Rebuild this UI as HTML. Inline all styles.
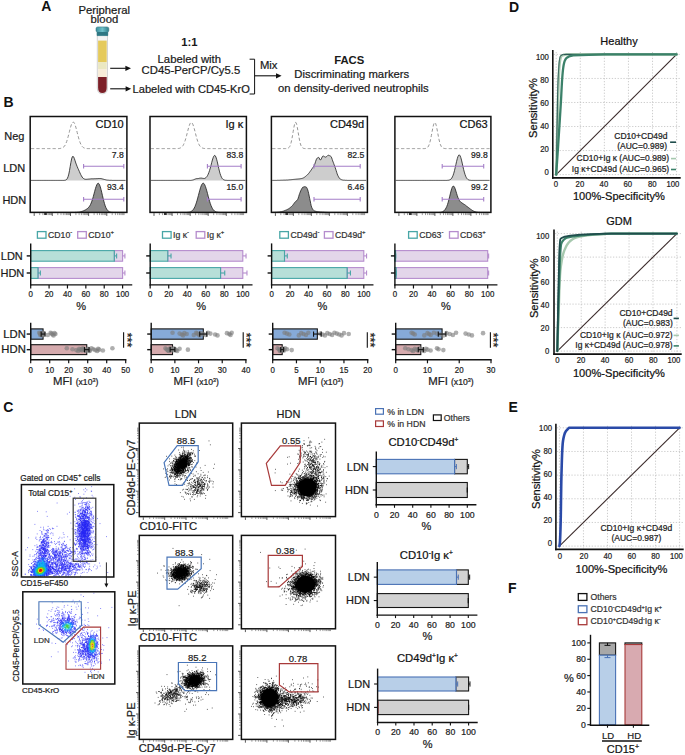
<!DOCTYPE html>
<html><head><meta charset="utf-8"><title>Figure</title>
<style>html,body{margin:0;padding:0;background:#fff;}body{width:685px;height:755px;overflow:hidden;}
svg text{font-family:"Liberation Sans", sans-serif;}</style></head>
<body><svg width="685" height="755" viewBox="0 0 685 755" style="display:block">
<rect width="685" height="755" fill="#fff"/>
<text x="41.20" y="10.87" font-size="14" text-anchor="start" font-weight="bold" fill="#111">A</text>
<text x="104.20" y="13.51" font-size="11.3" text-anchor="middle" font-weight="normal" fill="#1a1a1a" stroke="#1a1a1a" stroke-width="0.22">Peripheral</text>
<text x="104.40" y="23.01" font-size="11.3" text-anchor="middle" font-weight="normal" fill="#1a1a1a" stroke="#1a1a1a" stroke-width="0.22">blood</text>
<defs><linearGradient id="cap" x1="0" x2="1"><stop offset="0" stop-color="#3c8f9c"/><stop offset="0.5" stop-color="#6fc0c9"/><stop offset="1" stop-color="#2f7d89"/></linearGradient></defs>
<path d="M97.3,33 L97.3,88 Q97.3,93.8 102.4,93.8 Q107.5,93.8 107.5,88 L107.5,33 Z" fill="#f4f4f4" stroke="#c4c4c4" stroke-width="0.7"/>
<path d="M98.1,40.6 L106.7,40.6 L106.7,62.3 L98.1,62.3 Z" fill="#e5ca5c" stroke="none" stroke-width="1"/>
<path d="M98.1,62.3 L106.7,62.3 L106.7,69.2 L98.1,69.2 Z" fill="#ebe8c2" stroke="none" stroke-width="1"/>
<path d="M98.1,69.2 L106.7,69.2 L106.7,77.1 L98.1,77.1 Z" fill="#f8ecd8" stroke="none" stroke-width="1"/>
<path d="M98.1,77.1 L106.7,77.1 L106.7,88 Q106.7,93 102.4,93 Q98.1,93 98.1,88 Z" fill="#7c1f27" stroke="none" stroke-width="1"/>
<path d="M96.0,28.6 Q96.0,26.9 97.8,26.9 L107.0,26.9 Q108.8,26.9 108.8,28.6 L108.8,30.8 Q108.8,31.8 107.8,31.8 L107.8,35.6 L97.0,35.6 L97.0,31.8 Q96.0,31.8 96.0,30.8 Z" fill="url(#cap)" stroke="#2b6f7a" stroke-width="0.5"/>
<rect x="97.10" y="32.00" width="10.60" height="3.60" fill="#2e7783" stroke="none" stroke-width="1"/>
<path d="M110.20 68.30L125.90 68.30" stroke="#111" stroke-width="1.1"/>
<path d="M131.00,68.30 L125.40,65.70 L125.40,70.90 Z" fill="#111" stroke="none" stroke-width="1"/>
<path d="M110.20 88.80L126.10 88.80" stroke="#111" stroke-width="1.1"/>
<path d="M131.20,88.80 L125.60,86.20 L125.60,91.40 Z" fill="#111" stroke="none" stroke-width="1"/>
<text x="189.30" y="45.71" font-size="11.3" text-anchor="middle" font-weight="bold" fill="#1a1a1a">1:1</text>
<text x="189.30" y="62.81" font-size="11.3" text-anchor="middle" font-weight="normal" fill="#1a1a1a" stroke="#1a1a1a" stroke-width="0.22">Labeled with</text>
<text x="190.90" y="74.31" font-size="11.3" text-anchor="middle" font-weight="normal" fill="#1a1a1a" stroke="#1a1a1a" stroke-width="0.22">CD45-PerCP/Cy5.5</text>
<text x="191.20" y="92.54" font-size="11.1" text-anchor="middle" font-weight="normal" fill="#1a1a1a" stroke="#1a1a1a" stroke-width="0.22">Labeled with CD45-KrO</text>
<path d="M249.6,59.2 L254.6,59.2 L254.6,94.0 L249.6,94.0" fill="none" stroke="#111" stroke-width="1"/>
<path d="M254.60 75.80L276.50 75.80" stroke="#111" stroke-width="1.1"/>
<path d="M281.60,75.80 L276.00,73.20 L276.00,78.40 Z" fill="#111" stroke="none" stroke-width="1"/>
<text x="259.90" y="69.21" font-size="11.3" text-anchor="start" font-weight="normal" fill="#1a1a1a" stroke="#1a1a1a" stroke-width="0.22">Mix</text>
<text x="349.20" y="64.41" font-size="11.3" text-anchor="middle" font-weight="bold" fill="#1a1a1a">FACS</text>
<text x="351.80" y="78.21" font-size="11.3" text-anchor="middle" font-weight="normal" fill="#1a1a1a" stroke="#1a1a1a" stroke-width="0.22">Discriminating markers</text>
<text x="353.40" y="91.61" font-size="11.3" text-anchor="middle" font-weight="normal" fill="#1a1a1a" stroke="#1a1a1a" stroke-width="0.22">on density-derived neutrophils</text>
<text x="3.60" y="107.27" font-size="14" text-anchor="start" font-weight="bold" fill="#111">B</text>
<text x="4.30" y="139.50" font-size="11" text-anchor="start" font-weight="normal" fill="#1a1a1a" stroke="#1a1a1a" stroke-width="0.22">Neg</text>
<text x="3.20" y="172.41" font-size="11" text-anchor="start" font-weight="normal" fill="#1a1a1a" stroke="#1a1a1a" stroke-width="0.22">LDN</text>
<text x="2.40" y="204.10" font-size="11" text-anchor="start" font-weight="normal" fill="#1a1a1a" stroke="#1a1a1a" stroke-width="0.22">HDN</text>
<path d="M31.0,212.4 31.7,212.4 32.4,212.4 33.1,212.4 33.8,212.4 34.5,212.4 35.2,212.4 35.9,212.4 36.6,212.4 37.3,212.4 38.0,212.4 38.7,212.4 39.4,212.4 40.1,212.4 40.8,212.4 41.5,212.4 42.2,212.4 42.9,212.4 43.6,212.4 44.3,212.4 45.0,212.4 45.7,212.4 46.4,212.4 47.1,212.4 47.8,212.4 48.5,212.4 49.2,212.4 49.9,212.4 50.6,212.4 51.3,212.4 52.0,212.4 52.7,212.4 53.4,212.4 54.1,212.4 54.8,212.4 55.5,212.4 56.2,212.4 56.9,212.4 57.6,212.4 58.3,212.4 59.0,212.4 59.7,212.4 60.4,212.4 61.1,212.4 61.8,212.4 62.5,212.4 63.2,212.4 63.9,212.4 64.6,212.4 65.3,212.4 66.0,212.4 66.7,212.4 67.4,212.4 68.1,212.4 68.8,212.4 69.5,212.4 70.2,212.4 70.9,212.4 71.6,212.4 72.3,212.4 73.0,212.4 73.7,212.4 74.4,212.4 75.1,212.3 75.8,212.3 76.5,212.3 77.2,212.2 77.9,212.2 78.6,212.1 79.3,212.0 80.0,211.9 80.7,211.7 81.4,211.5 82.1,211.3 82.8,211.1 83.5,210.8 84.2,210.5 84.9,210.1 85.6,209.8 86.3,209.3 87.0,208.9 87.7,208.3 88.4,207.6 89.1,206.8 89.8,205.8 90.5,204.5 91.2,203.0 91.9,201.1 92.6,199.0 93.3,196.5 94.0,193.9 94.7,191.3 95.4,188.7 96.1,186.5 96.8,184.7 97.5,183.6 98.2,183.2 98.9,183.7 99.6,184.9 100.3,186.9 101.0,189.4 101.7,192.2 102.4,195.3 103.1,198.3 103.8,201.1 104.5,203.6 105.2,205.8 105.9,207.6 106.6,209.0 107.3,210.0 108.0,210.8 108.7,211.4 109.4,211.8 110.1,212.0 110.8,212.2 111.5,212.3 112.2,212.3 112.9,212.4 113.6,212.4 114.3,212.4 115.0,212.4 115.7,212.4 116.4,212.4 117.1,212.4 117.8,212.4 118.5,212.4 119.2,212.4 119.9,212.4 120.6,212.4 121.3,212.4 122.0,212.4 122.7,212.4 123.4,212.4 124.1,212.4 124.8,212.4 125.5,212.4 L126.10,212.40 L31.00,212.40 Z" fill="#8c8c8c" stroke="none" stroke-width="1"/>
<path d="M31.0,212.4 31.7,212.4 32.4,212.4 33.1,212.4 33.8,212.4 34.5,212.4 35.2,212.4 35.9,212.4 36.6,212.4 37.3,212.4 38.0,212.4 38.7,212.4 39.4,212.4 40.1,212.4 40.8,212.4 41.5,212.4 42.2,212.4 42.9,212.4 43.6,212.4 44.3,212.4 45.0,212.4 45.7,212.4 46.4,212.4 47.1,212.4 47.8,212.4 48.5,212.4 49.2,212.4 49.9,212.4 50.6,212.4 51.3,212.4 52.0,212.4 52.7,212.4 53.4,212.4 54.1,212.4 54.8,212.4 55.5,212.4 56.2,212.4 56.9,212.4 57.6,212.4 58.3,212.4 59.0,212.4 59.7,212.4 60.4,212.4 61.1,212.4 61.8,212.4 62.5,212.4 63.2,212.4 63.9,212.4 64.6,212.4 65.3,212.4 66.0,212.4 66.7,212.4 67.4,212.4 68.1,212.4 68.8,212.4 69.5,212.4 70.2,212.4 70.9,212.4 71.6,212.4 72.3,212.4 73.0,212.4 73.7,212.4 74.4,212.4 75.1,212.3 75.8,212.3 76.5,212.3 77.2,212.2 77.9,212.2 78.6,212.1 79.3,212.0 80.0,211.9 80.7,211.7 81.4,211.5 82.1,211.3 82.8,211.1 83.5,210.8 84.2,210.5 84.9,210.1 85.6,209.8 86.3,209.3 87.0,208.9 87.7,208.3 88.4,207.6 89.1,206.8 89.8,205.8 90.5,204.5 91.2,203.0 91.9,201.1 92.6,199.0 93.3,196.5 94.0,193.9 94.7,191.3 95.4,188.7 96.1,186.5 96.8,184.7 97.5,183.6 98.2,183.2 98.9,183.7 99.6,184.9 100.3,186.9 101.0,189.4 101.7,192.2 102.4,195.3 103.1,198.3 103.8,201.1 104.5,203.6 105.2,205.8 105.9,207.6 106.6,209.0 107.3,210.0 108.0,210.8 108.7,211.4 109.4,211.8 110.1,212.0 110.8,212.2 111.5,212.3 112.2,212.3 112.9,212.4 113.6,212.4 114.3,212.4 115.0,212.4 115.7,212.4 116.4,212.4 117.1,212.4 117.8,212.4 118.5,212.4 119.2,212.4 119.9,212.4 120.6,212.4 121.3,212.4 122.0,212.4 122.7,212.4 123.4,212.4 124.1,212.4 124.8,212.4 125.5,212.4" fill="none" stroke="#1a1a1a" stroke-width="0.8"/>
<path d="M31.0,180.4 31.7,180.4 32.4,180.4 33.1,180.4 33.8,180.4 34.5,180.4 35.2,180.4 35.9,180.4 36.6,180.4 37.3,180.4 38.0,180.4 38.7,180.4 39.4,180.4 40.1,180.4 40.8,180.4 41.5,180.4 42.2,180.4 42.9,180.4 43.6,180.4 44.3,180.4 45.0,180.4 45.7,180.4 46.4,180.4 47.1,180.4 47.8,180.4 48.5,180.4 49.2,180.4 49.9,180.4 50.6,180.4 51.3,180.4 52.0,180.4 52.7,180.4 53.4,180.4 54.1,180.4 54.8,180.4 55.5,180.4 56.2,180.4 56.9,180.4 57.6,180.4 58.3,180.4 59.0,180.4 59.7,180.4 60.4,180.4 61.1,180.4 61.8,180.4 62.5,180.4 63.2,180.4 63.9,180.4 64.6,180.3 65.3,180.2 66.0,179.9 66.7,179.4 67.4,178.3 68.1,176.6 68.8,174.1 69.5,170.6 70.2,166.5 70.9,162.4 71.6,159.0 72.3,156.8 73.0,156.2 73.7,157.0 74.4,158.7 75.1,160.8 75.8,163.0 76.5,164.9 77.2,166.6 77.9,168.3 78.6,169.8 79.3,171.4 80.0,173.0 80.7,174.5 81.4,175.8 82.1,177.0 82.8,177.9 83.5,178.5 84.2,178.9 84.9,179.2 85.6,179.3 86.3,179.3 87.0,179.2 87.7,179.2 88.4,179.1 89.1,179.0 89.8,179.0 90.5,178.9 91.2,178.8 91.9,178.8 92.6,178.8 93.3,178.8 94.0,178.8 94.7,178.7 95.4,178.7 96.1,178.7 96.8,178.6 97.5,178.6 98.2,178.5 98.9,178.5 99.6,178.5 100.3,178.5 101.0,178.6 101.7,178.7 102.4,178.9 103.1,179.1 103.8,179.3 104.5,179.5 105.2,179.7 105.9,179.8 106.6,180.0 107.3,180.1 108.0,180.2 108.7,180.2 109.4,180.3 110.1,180.3 110.8,180.3 111.5,180.3 112.2,180.4 112.9,180.4 113.6,180.4 114.3,180.4 115.0,180.4 115.7,180.4 116.4,180.4 117.1,180.4 117.8,180.4 118.5,180.4 119.2,180.4 119.9,180.4 120.6,180.4 121.3,180.4 122.0,180.4 122.7,180.4 123.4,180.4 124.1,180.4 124.8,180.4 125.5,180.4 L126.10,180.40 L31.00,180.40 Z" fill="#cdcdcd" stroke="none" stroke-width="1"/>
<path d="M31.0,180.4 31.7,180.4 32.4,180.4 33.1,180.4 33.8,180.4 34.5,180.4 35.2,180.4 35.9,180.4 36.6,180.4 37.3,180.4 38.0,180.4 38.7,180.4 39.4,180.4 40.1,180.4 40.8,180.4 41.5,180.4 42.2,180.4 42.9,180.4 43.6,180.4 44.3,180.4 45.0,180.4 45.7,180.4 46.4,180.4 47.1,180.4 47.8,180.4 48.5,180.4 49.2,180.4 49.9,180.4 50.6,180.4 51.3,180.4 52.0,180.4 52.7,180.4 53.4,180.4 54.1,180.4 54.8,180.4 55.5,180.4 56.2,180.4 56.9,180.4 57.6,180.4 58.3,180.4 59.0,180.4 59.7,180.4 60.4,180.4 61.1,180.4 61.8,180.4 62.5,180.4 63.2,180.4 63.9,180.4 64.6,180.3 65.3,180.2 66.0,179.9 66.7,179.4 67.4,178.3 68.1,176.6 68.8,174.1 69.5,170.6 70.2,166.5 70.9,162.4 71.6,159.0 72.3,156.8 73.0,156.2 73.7,157.0 74.4,158.7 75.1,160.8 75.8,163.0 76.5,164.9 77.2,166.6 77.9,168.3 78.6,169.8 79.3,171.4 80.0,173.0 80.7,174.5 81.4,175.8 82.1,177.0 82.8,177.9 83.5,178.5 84.2,178.9 84.9,179.2 85.6,179.3 86.3,179.3 87.0,179.2 87.7,179.2 88.4,179.1 89.1,179.0 89.8,179.0 90.5,178.9 91.2,178.8 91.9,178.8 92.6,178.8 93.3,178.8 94.0,178.8 94.7,178.7 95.4,178.7 96.1,178.7 96.8,178.6 97.5,178.6 98.2,178.5 98.9,178.5 99.6,178.5 100.3,178.5 101.0,178.6 101.7,178.7 102.4,178.9 103.1,179.1 103.8,179.3 104.5,179.5 105.2,179.7 105.9,179.8 106.6,180.0 107.3,180.1 108.0,180.2 108.7,180.2 109.4,180.3 110.1,180.3 110.8,180.3 111.5,180.3 112.2,180.4 112.9,180.4 113.6,180.4 114.3,180.4 115.0,180.4 115.7,180.4 116.4,180.4 117.1,180.4 117.8,180.4 118.5,180.4 119.2,180.4 119.9,180.4 120.6,180.4 121.3,180.4 122.0,180.4 122.7,180.4 123.4,180.4 124.1,180.4 124.8,180.4 125.5,180.4" fill="none" stroke="#1a1a1a" stroke-width="0.8"/>
<path d="M31.0,148.6 31.7,148.6 32.4,148.6 33.1,148.6 33.8,148.6 34.5,148.6 35.2,148.6 35.9,148.6 36.6,148.6 37.3,148.6 38.0,148.6 38.7,148.6 39.4,148.6 40.1,148.6 40.8,148.6 41.5,148.6 42.2,148.6 42.9,148.6 43.6,148.6 44.3,148.6 45.0,148.6 45.7,148.6 46.4,148.6 47.1,148.6 47.8,148.6 48.5,148.6 49.2,148.6 49.9,148.6 50.6,148.6 51.3,148.6 52.0,148.6 52.7,148.6 53.4,148.6 54.1,148.6 54.8,148.6 55.5,148.6 56.2,148.6 56.9,148.6 57.6,148.6 58.3,148.6 59.0,148.6 59.7,148.5 60.4,148.4 61.1,148.3 61.8,148.1 62.5,147.9 63.2,147.4 63.9,146.8 64.6,146.0 65.3,144.8 66.0,143.3 66.7,141.5 67.4,139.3 68.1,136.8 68.8,134.1 69.5,131.3 70.2,128.5 70.9,126.1 71.6,124.0 72.3,122.7 73.0,122.0 73.7,122.2 74.4,123.2 75.1,124.8 75.8,127.1 76.5,129.7 77.2,132.5 77.9,135.3 78.6,137.9 79.3,140.3 80.0,142.3 80.7,144.0 81.4,145.3 82.1,146.4 82.8,147.1 83.5,147.6 84.2,148.0 84.9,148.2 85.6,148.4 86.3,148.5 87.0,148.5 87.7,148.6 88.4,148.6 89.1,148.6 89.8,148.6 90.5,148.6 91.2,148.6 91.9,148.6 92.6,148.6 93.3,148.6 94.0,148.6 94.7,148.6 95.4,148.6 96.1,148.6 96.8,148.6 97.5,148.6 98.2,148.6 98.9,148.6 99.6,148.6 100.3,148.6 101.0,148.6 101.7,148.6 102.4,148.6 103.1,148.6 103.8,148.6 104.5,148.6 105.2,148.6 105.9,148.6 106.6,148.6 107.3,148.6 108.0,148.6 108.7,148.6 109.4,148.6 110.1,148.6 110.8,148.6 111.5,148.6 112.2,148.6 112.9,148.6 113.6,148.6 114.3,148.6 115.0,148.6 115.7,148.6 116.4,148.6 117.1,148.6 117.8,148.6 118.5,148.6 119.2,148.6 119.9,148.6 120.6,148.6 121.3,148.6 122.0,148.6 122.7,148.6 123.4,148.6 124.1,148.6 124.8,148.6 125.5,148.6" fill="none" stroke="#8a8a8a" stroke-width="0.9" stroke-dasharray="3.2,2.2"/>
<rect x="30.20" y="116.50" width="96.70" height="95.90" fill="none" stroke="#111" stroke-width="1.5"/>
<path d="M83.60 166.30L123.80 166.30" stroke="#a47ec8" stroke-width="1.1"/>
<path d="M83.60 164.10L83.60 168.50" stroke="#a47ec8" stroke-width="1.1"/>
<path d="M123.80 164.10L123.80 168.50" stroke="#a47ec8" stroke-width="1.1"/>
<path d="M83.60 199.20L123.80 199.20" stroke="#a47ec8" stroke-width="1.1"/>
<path d="M83.60 197.00L83.60 201.40" stroke="#a47ec8" stroke-width="1.1"/>
<path d="M123.80 197.00L123.80 201.40" stroke="#a47ec8" stroke-width="1.1"/>
<text x="123.70" y="128.41" font-size="11" text-anchor="end" font-weight="normal" fill="#111" stroke="#111" stroke-width="0.22">CD10</text>
<text x="123.70" y="158.35" font-size="8.6" text-anchor="end" font-weight="normal" fill="#222" stroke="#222" stroke-width="0.22">7.8</text>
<text x="123.70" y="189.85" font-size="8.6" text-anchor="end" font-weight="normal" fill="#222" stroke="#222" stroke-width="0.22">93.4</text>
<rect x="44.20" y="213.10" width="2.60" height="1.80" fill="#222" stroke="none" stroke-width="1"/>
<path d="M150.8,212.4 151.5,212.4 152.2,212.4 152.9,212.4 153.6,212.4 154.3,212.4 155.0,212.4 155.7,212.4 156.4,212.4 157.1,212.4 157.8,212.4 158.5,212.4 159.2,212.4 159.9,212.4 160.6,212.4 161.3,212.4 162.0,212.4 162.7,212.4 163.4,212.4 164.1,212.4 164.8,212.4 165.5,212.4 166.2,212.4 166.9,212.4 167.6,212.4 168.3,212.4 169.0,212.4 169.7,212.4 170.4,212.4 171.1,212.4 171.8,212.4 172.5,212.4 173.2,212.4 173.9,212.4 174.6,212.4 175.3,212.4 176.0,212.4 176.7,212.4 177.4,212.4 178.1,212.4 178.8,212.4 179.5,212.4 180.2,212.4 180.9,212.4 181.6,212.4 182.3,212.4 183.0,212.4 183.7,212.4 184.4,212.4 185.1,212.4 185.8,212.4 186.5,212.4 187.2,212.3 187.9,212.3 188.6,212.2 189.3,212.1 190.0,211.9 190.7,211.7 191.4,211.3 192.1,210.8 192.8,210.1 193.5,209.2 194.2,208.1 194.9,206.7 195.6,204.9 196.3,202.9 197.0,200.6 197.7,198.1 198.4,195.5 199.1,192.8 199.8,190.2 200.5,187.8 201.2,185.8 201.9,184.3 202.6,183.4 203.3,183.2 204.0,183.6 204.7,184.7 205.4,186.4 206.1,188.5 206.8,190.9 207.5,193.5 208.2,196.2 208.9,198.8 209.6,201.3 210.3,203.5 211.0,205.5 211.7,207.1 212.4,208.4 213.1,209.5 213.8,210.3 214.5,211.0 215.2,211.4 215.9,211.8 216.6,212.0 217.3,212.1 218.0,212.2 218.7,212.3 219.4,212.3 220.1,212.4 220.8,212.4 221.5,212.4 222.2,212.4 222.9,212.4 223.6,212.4 224.3,212.4 225.0,212.4 225.7,212.4 226.4,212.4 227.1,212.4 227.8,212.4 228.5,212.4 229.2,212.4 229.9,212.4 230.6,212.4 231.3,212.4 232.0,212.4 232.7,212.4 233.4,212.4 234.1,212.4 234.8,212.4 235.5,212.4 236.2,212.4 236.9,212.4 237.6,212.4 238.3,212.4 239.0,212.4 239.7,212.4 240.4,212.4 241.1,212.4 241.8,212.4 242.5,212.4 243.2,212.4 243.9,212.4 244.6,212.4 245.3,212.4 L245.60,212.40 L150.80,212.40 Z" fill="#8c8c8c" stroke="none" stroke-width="1"/>
<path d="M150.8,212.4 151.5,212.4 152.2,212.4 152.9,212.4 153.6,212.4 154.3,212.4 155.0,212.4 155.7,212.4 156.4,212.4 157.1,212.4 157.8,212.4 158.5,212.4 159.2,212.4 159.9,212.4 160.6,212.4 161.3,212.4 162.0,212.4 162.7,212.4 163.4,212.4 164.1,212.4 164.8,212.4 165.5,212.4 166.2,212.4 166.9,212.4 167.6,212.4 168.3,212.4 169.0,212.4 169.7,212.4 170.4,212.4 171.1,212.4 171.8,212.4 172.5,212.4 173.2,212.4 173.9,212.4 174.6,212.4 175.3,212.4 176.0,212.4 176.7,212.4 177.4,212.4 178.1,212.4 178.8,212.4 179.5,212.4 180.2,212.4 180.9,212.4 181.6,212.4 182.3,212.4 183.0,212.4 183.7,212.4 184.4,212.4 185.1,212.4 185.8,212.4 186.5,212.4 187.2,212.3 187.9,212.3 188.6,212.2 189.3,212.1 190.0,211.9 190.7,211.7 191.4,211.3 192.1,210.8 192.8,210.1 193.5,209.2 194.2,208.1 194.9,206.7 195.6,204.9 196.3,202.9 197.0,200.6 197.7,198.1 198.4,195.5 199.1,192.8 199.8,190.2 200.5,187.8 201.2,185.8 201.9,184.3 202.6,183.4 203.3,183.2 204.0,183.6 204.7,184.7 205.4,186.4 206.1,188.5 206.8,190.9 207.5,193.5 208.2,196.2 208.9,198.8 209.6,201.3 210.3,203.5 211.0,205.5 211.7,207.1 212.4,208.4 213.1,209.5 213.8,210.3 214.5,211.0 215.2,211.4 215.9,211.8 216.6,212.0 217.3,212.1 218.0,212.2 218.7,212.3 219.4,212.3 220.1,212.4 220.8,212.4 221.5,212.4 222.2,212.4 222.9,212.4 223.6,212.4 224.3,212.4 225.0,212.4 225.7,212.4 226.4,212.4 227.1,212.4 227.8,212.4 228.5,212.4 229.2,212.4 229.9,212.4 230.6,212.4 231.3,212.4 232.0,212.4 232.7,212.4 233.4,212.4 234.1,212.4 234.8,212.4 235.5,212.4 236.2,212.4 236.9,212.4 237.6,212.4 238.3,212.4 239.0,212.4 239.7,212.4 240.4,212.4 241.1,212.4 241.8,212.4 242.5,212.4 243.2,212.4 243.9,212.4 244.6,212.4 245.3,212.4" fill="none" stroke="#1a1a1a" stroke-width="0.8"/>
<path d="M150.8,180.4 151.5,180.4 152.2,180.4 152.9,180.4 153.6,180.4 154.3,180.4 155.0,180.4 155.7,180.4 156.4,180.4 157.1,180.4 157.8,180.4 158.5,180.4 159.2,180.4 159.9,180.4 160.6,180.4 161.3,180.4 162.0,180.4 162.7,180.4 163.4,180.4 164.1,180.4 164.8,180.4 165.5,180.4 166.2,180.4 166.9,180.4 167.6,180.4 168.3,180.4 169.0,180.4 169.7,180.4 170.4,180.4 171.1,180.4 171.8,180.4 172.5,180.4 173.2,180.4 173.9,180.4 174.6,180.4 175.3,180.4 176.0,180.4 176.7,180.4 177.4,180.4 178.1,180.4 178.8,180.4 179.5,180.4 180.2,180.4 180.9,180.4 181.6,180.4 182.3,180.4 183.0,180.4 183.7,180.4 184.4,180.4 185.1,180.4 185.8,180.4 186.5,180.4 187.2,180.4 187.9,180.4 188.6,180.4 189.3,180.4 190.0,180.4 190.7,180.4 191.4,180.3 192.1,180.2 192.8,180.0 193.5,179.8 194.2,179.5 194.9,179.2 195.6,178.9 196.3,178.7 197.0,178.6 197.7,178.6 198.4,178.5 199.1,178.3 199.8,178.2 200.5,178.1 201.2,178.1 201.9,178.1 202.6,178.3 203.3,178.4 204.0,178.5 204.7,178.4 205.4,178.0 206.1,177.5 206.8,176.7 207.5,175.6 208.2,174.2 208.9,172.4 209.6,170.4 210.3,168.0 211.0,165.4 211.7,162.6 212.4,160.0 213.1,157.8 213.8,156.2 214.5,155.4 215.2,155.7 215.9,157.0 216.6,159.2 217.3,161.9 218.0,165.1 218.7,168.2 219.4,171.1 220.1,173.7 220.8,175.7 221.5,177.3 222.2,178.4 222.9,179.2 223.6,179.7 224.3,180.0 225.0,180.2 225.7,180.3 226.4,180.3 227.1,180.4 227.8,180.4 228.5,180.4 229.2,180.4 229.9,180.4 230.6,180.4 231.3,180.4 232.0,180.4 232.7,180.4 233.4,180.4 234.1,180.4 234.8,180.4 235.5,180.4 236.2,180.4 236.9,180.4 237.6,180.4 238.3,180.4 239.0,180.4 239.7,180.4 240.4,180.4 241.1,180.4 241.8,180.4 242.5,180.4 243.2,180.4 243.9,180.4 244.6,180.4 245.3,180.4 L245.60,180.40 L150.80,180.40 Z" fill="#cdcdcd" stroke="none" stroke-width="1"/>
<path d="M150.8,180.4 151.5,180.4 152.2,180.4 152.9,180.4 153.6,180.4 154.3,180.4 155.0,180.4 155.7,180.4 156.4,180.4 157.1,180.4 157.8,180.4 158.5,180.4 159.2,180.4 159.9,180.4 160.6,180.4 161.3,180.4 162.0,180.4 162.7,180.4 163.4,180.4 164.1,180.4 164.8,180.4 165.5,180.4 166.2,180.4 166.9,180.4 167.6,180.4 168.3,180.4 169.0,180.4 169.7,180.4 170.4,180.4 171.1,180.4 171.8,180.4 172.5,180.4 173.2,180.4 173.9,180.4 174.6,180.4 175.3,180.4 176.0,180.4 176.7,180.4 177.4,180.4 178.1,180.4 178.8,180.4 179.5,180.4 180.2,180.4 180.9,180.4 181.6,180.4 182.3,180.4 183.0,180.4 183.7,180.4 184.4,180.4 185.1,180.4 185.8,180.4 186.5,180.4 187.2,180.4 187.9,180.4 188.6,180.4 189.3,180.4 190.0,180.4 190.7,180.4 191.4,180.3 192.1,180.2 192.8,180.0 193.5,179.8 194.2,179.5 194.9,179.2 195.6,178.9 196.3,178.7 197.0,178.6 197.7,178.6 198.4,178.5 199.1,178.3 199.8,178.2 200.5,178.1 201.2,178.1 201.9,178.1 202.6,178.3 203.3,178.4 204.0,178.5 204.7,178.4 205.4,178.0 206.1,177.5 206.8,176.7 207.5,175.6 208.2,174.2 208.9,172.4 209.6,170.4 210.3,168.0 211.0,165.4 211.7,162.6 212.4,160.0 213.1,157.8 213.8,156.2 214.5,155.4 215.2,155.7 215.9,157.0 216.6,159.2 217.3,161.9 218.0,165.1 218.7,168.2 219.4,171.1 220.1,173.7 220.8,175.7 221.5,177.3 222.2,178.4 222.9,179.2 223.6,179.7 224.3,180.0 225.0,180.2 225.7,180.3 226.4,180.3 227.1,180.4 227.8,180.4 228.5,180.4 229.2,180.4 229.9,180.4 230.6,180.4 231.3,180.4 232.0,180.4 232.7,180.4 233.4,180.4 234.1,180.4 234.8,180.4 235.5,180.4 236.2,180.4 236.9,180.4 237.6,180.4 238.3,180.4 239.0,180.4 239.7,180.4 240.4,180.4 241.1,180.4 241.8,180.4 242.5,180.4 243.2,180.4 243.9,180.4 244.6,180.4 245.3,180.4" fill="none" stroke="#1a1a1a" stroke-width="0.8"/>
<path d="M150.8,148.6 151.5,148.6 152.2,148.6 152.9,148.6 153.6,148.6 154.3,148.6 155.0,148.6 155.7,148.6 156.4,148.6 157.1,148.6 157.8,148.6 158.5,148.6 159.2,148.6 159.9,148.6 160.6,148.6 161.3,148.6 162.0,148.6 162.7,148.6 163.4,148.6 164.1,148.6 164.8,148.6 165.5,148.6 166.2,148.6 166.9,148.6 167.6,148.6 168.3,148.6 169.0,148.6 169.7,148.6 170.4,148.6 171.1,148.6 171.8,148.6 172.5,148.6 173.2,148.6 173.9,148.6 174.6,148.6 175.3,148.6 176.0,148.6 176.7,148.6 177.4,148.5 178.1,148.5 178.8,148.4 179.5,148.3 180.2,148.0 180.9,147.7 181.6,147.2 182.3,146.5 183.0,145.6 183.7,144.3 184.4,142.7 185.1,140.7 185.8,138.4 186.5,135.8 187.2,133.1 187.9,130.3 188.6,127.7 189.3,125.5 190.0,123.7 190.7,122.7 191.4,122.4 192.1,122.9 192.8,124.2 193.5,126.1 194.2,128.5 194.9,131.1 195.6,133.9 196.3,136.6 197.0,139.1 197.7,141.3 198.4,143.2 199.1,144.7 199.8,145.9 200.5,146.7 201.2,147.4 201.9,147.8 202.6,148.1 203.3,148.3 204.0,148.4 204.7,148.5 205.4,148.5 206.1,148.6 206.8,148.6 207.5,148.6 208.2,148.6 208.9,148.6 209.6,148.6 210.3,148.6 211.0,148.6 211.7,148.6 212.4,148.6 213.1,148.6 213.8,148.6 214.5,148.6 215.2,148.6 215.9,148.6 216.6,148.6 217.3,148.6 218.0,148.6 218.7,148.6 219.4,148.6 220.1,148.6 220.8,148.6 221.5,148.6 222.2,148.6 222.9,148.6 223.6,148.6 224.3,148.6 225.0,148.6 225.7,148.6 226.4,148.6 227.1,148.6 227.8,148.6 228.5,148.6 229.2,148.6 229.9,148.6 230.6,148.6 231.3,148.6 232.0,148.6 232.7,148.6 233.4,148.6 234.1,148.6 234.8,148.6 235.5,148.6 236.2,148.6 236.9,148.6 237.6,148.6 238.3,148.6 239.0,148.6 239.7,148.6 240.4,148.6 241.1,148.6 241.8,148.6 242.5,148.6 243.2,148.6 243.9,148.6 244.6,148.6 245.3,148.6" fill="none" stroke="#8a8a8a" stroke-width="0.9" stroke-dasharray="3.2,2.2"/>
<rect x="150.00" y="116.50" width="96.40" height="95.90" fill="none" stroke="#111" stroke-width="1.5"/>
<path d="M207.40 166.30L241.10 166.30" stroke="#a47ec8" stroke-width="1.1"/>
<path d="M207.40 164.10L207.40 168.50" stroke="#a47ec8" stroke-width="1.1"/>
<path d="M241.10 164.10L241.10 168.50" stroke="#a47ec8" stroke-width="1.1"/>
<path d="M207.40 199.20L241.10 199.20" stroke="#a47ec8" stroke-width="1.1"/>
<path d="M207.40 197.00L207.40 201.40" stroke="#a47ec8" stroke-width="1.1"/>
<path d="M241.10 197.00L241.10 201.40" stroke="#a47ec8" stroke-width="1.1"/>
<text x="243.20" y="128.41" font-size="11" text-anchor="end" font-weight="normal" fill="#111" stroke="#111" stroke-width="0.22">Ig κ</text>
<text x="243.20" y="158.35" font-size="8.6" text-anchor="end" font-weight="normal" fill="#222" stroke="#222" stroke-width="0.22">83.8</text>
<text x="243.20" y="189.85" font-size="8.6" text-anchor="end" font-weight="normal" fill="#222" stroke="#222" stroke-width="0.22">15.0</text>
<rect x="164.00" y="213.10" width="2.60" height="1.80" fill="#222" stroke="none" stroke-width="1"/>
<path d="M272.2,212.4 272.7,212.4 273.2,212.4 273.7,212.3 274.2,212.3 274.7,212.3 275.2,212.3 275.7,212.2 276.2,212.2 276.7,212.2 277.2,212.1 277.7,212.1 278.2,212.0 278.7,212.0 279.2,211.9 279.7,211.9 280.2,211.8 280.7,211.7 281.2,211.7 281.7,211.6 282.2,211.5 282.7,211.3 283.2,211.2 283.7,211.0 284.2,210.8 284.7,210.6 285.2,210.4 285.7,210.2 286.2,210.0 286.7,209.8 287.2,209.5 287.7,209.3 288.2,209.0 288.7,208.7 289.2,208.4 289.7,208.0 290.2,207.6 290.7,207.2 291.2,206.8 291.7,206.3 292.2,205.8 292.7,205.3 293.2,204.6 293.7,203.9 294.2,203.2 294.7,202.5 295.2,201.9 295.7,201.4 296.2,201.0 296.7,200.6 297.2,200.1 297.7,199.4 298.2,198.2 298.7,196.5 299.2,194.8 299.7,193.4 300.2,192.1 300.7,190.8 301.2,189.8 301.7,188.8 302.2,188.0 302.7,187.3 303.2,187.1 303.7,186.9 304.2,186.7 304.7,186.7 305.2,186.7 305.7,186.9 306.2,187.1 306.7,187.5 307.2,188.5 307.7,189.8 308.2,191.5 308.7,193.7 309.2,196.1 309.7,198.5 310.2,200.8 310.7,203.4 311.2,205.7 311.7,207.3 312.2,208.3 312.7,209.2 313.2,209.9 313.7,210.4 314.2,210.8 314.7,211.0 315.2,211.1 315.7,211.3 316.2,211.4 316.7,211.5 317.2,211.6 317.7,211.7 318.2,211.7 318.7,211.8 319.2,211.8 319.7,211.9 320.2,211.9 320.7,212.0 321.2,212.0 321.7,212.0 322.2,212.1 322.7,212.1 323.2,212.1 323.7,212.1 324.2,212.2 324.7,212.2 325.2,212.2 325.7,212.3 326.2,212.3 326.7,212.3 327.2,212.3 327.7,212.4 328.2,212.4 328.7,212.4 329.2,212.4 329.7,212.4 330.2,212.4 330.7,212.4 331.2,212.4 331.7,212.4 332.2,212.4 332.7,212.4 333.2,212.4 333.7,212.4 334.2,212.4 334.7,212.4 335.2,212.4 335.7,212.4 336.2,212.4 336.7,212.4 337.2,212.4 337.7,212.4 338.2,212.4 338.7,212.4 339.2,212.4 339.7,212.4 340.2,212.4 340.7,212.4 341.2,212.4 341.7,212.4 342.2,212.4 342.7,212.4 343.2,212.4 343.7,212.4 344.2,212.4 344.7,212.4 345.2,212.4 345.7,212.4 346.2,212.4 346.7,212.4 347.2,212.4 347.7,212.4 348.2,212.4 348.7,212.4 349.2,212.4 349.7,212.4 350.2,212.4 350.7,212.4 351.2,212.4 351.7,212.4 352.2,212.4 352.7,212.4 353.2,212.4 353.7,212.4 354.2,212.4 354.7,212.4 355.2,212.4 355.7,212.4 356.2,212.4 356.7,212.4 357.2,212.4 357.7,212.4 358.2,212.4 358.7,212.4 359.2,212.4 359.7,212.4 360.2,212.4 360.7,212.4 361.2,212.4 361.7,212.4 362.2,212.4 362.7,212.4 363.2,212.4 363.7,212.4 364.2,212.4 364.7,212.4 365.2,212.4 365.7,212.4 366.2,212.4 L366.60,212.40 L272.20,212.40 Z" fill="#8c8c8c" stroke="none" stroke-width="1"/>
<path d="M272.2,212.4 272.7,212.4 273.2,212.4 273.7,212.3 274.2,212.3 274.7,212.3 275.2,212.3 275.7,212.2 276.2,212.2 276.7,212.2 277.2,212.1 277.7,212.1 278.2,212.0 278.7,212.0 279.2,211.9 279.7,211.9 280.2,211.8 280.7,211.7 281.2,211.7 281.7,211.6 282.2,211.5 282.7,211.3 283.2,211.2 283.7,211.0 284.2,210.8 284.7,210.6 285.2,210.4 285.7,210.2 286.2,210.0 286.7,209.8 287.2,209.5 287.7,209.3 288.2,209.0 288.7,208.7 289.2,208.4 289.7,208.0 290.2,207.6 290.7,207.2 291.2,206.8 291.7,206.3 292.2,205.8 292.7,205.3 293.2,204.6 293.7,203.9 294.2,203.2 294.7,202.5 295.2,201.9 295.7,201.4 296.2,201.0 296.7,200.6 297.2,200.1 297.7,199.4 298.2,198.2 298.7,196.5 299.2,194.8 299.7,193.4 300.2,192.1 300.7,190.8 301.2,189.8 301.7,188.8 302.2,188.0 302.7,187.3 303.2,187.1 303.7,186.9 304.2,186.7 304.7,186.7 305.2,186.7 305.7,186.9 306.2,187.1 306.7,187.5 307.2,188.5 307.7,189.8 308.2,191.5 308.7,193.7 309.2,196.1 309.7,198.5 310.2,200.8 310.7,203.4 311.2,205.7 311.7,207.3 312.2,208.3 312.7,209.2 313.2,209.9 313.7,210.4 314.2,210.8 314.7,211.0 315.2,211.1 315.7,211.3 316.2,211.4 316.7,211.5 317.2,211.6 317.7,211.7 318.2,211.7 318.7,211.8 319.2,211.8 319.7,211.9 320.2,211.9 320.7,212.0 321.2,212.0 321.7,212.0 322.2,212.1 322.7,212.1 323.2,212.1 323.7,212.1 324.2,212.2 324.7,212.2 325.2,212.2 325.7,212.3 326.2,212.3 326.7,212.3 327.2,212.3 327.7,212.4 328.2,212.4 328.7,212.4 329.2,212.4 329.7,212.4 330.2,212.4 330.7,212.4 331.2,212.4 331.7,212.4 332.2,212.4 332.7,212.4 333.2,212.4 333.7,212.4 334.2,212.4 334.7,212.4 335.2,212.4 335.7,212.4 336.2,212.4 336.7,212.4 337.2,212.4 337.7,212.4 338.2,212.4 338.7,212.4 339.2,212.4 339.7,212.4 340.2,212.4 340.7,212.4 341.2,212.4 341.7,212.4 342.2,212.4 342.7,212.4 343.2,212.4 343.7,212.4 344.2,212.4 344.7,212.4 345.2,212.4 345.7,212.4 346.2,212.4 346.7,212.4 347.2,212.4 347.7,212.4 348.2,212.4 348.7,212.4 349.2,212.4 349.7,212.4 350.2,212.4 350.7,212.4 351.2,212.4 351.7,212.4 352.2,212.4 352.7,212.4 353.2,212.4 353.7,212.4 354.2,212.4 354.7,212.4 355.2,212.4 355.7,212.4 356.2,212.4 356.7,212.4 357.2,212.4 357.7,212.4 358.2,212.4 358.7,212.4 359.2,212.4 359.7,212.4 360.2,212.4 360.7,212.4 361.2,212.4 361.7,212.4 362.2,212.4 362.7,212.4 363.2,212.4 363.7,212.4 364.2,212.4 364.7,212.4 365.2,212.4 365.7,212.4 366.2,212.4" fill="none" stroke="#1a1a1a" stroke-width="0.8"/>
<path d="M272.2,180.4 272.7,180.4 273.2,180.4 273.7,180.4 274.2,180.4 274.7,180.4 275.2,180.4 275.7,180.4 276.2,180.4 276.7,180.4 277.2,180.3 277.7,180.3 278.2,180.3 278.7,180.3 279.2,180.3 279.7,180.3 280.2,180.3 280.7,180.2 281.2,180.2 281.7,180.2 282.2,180.2 282.7,180.2 283.2,180.2 283.7,180.1 284.2,180.1 284.7,180.1 285.2,180.1 285.7,180.1 286.2,180.0 286.7,180.0 287.2,180.0 287.7,180.0 288.2,179.9 288.7,179.9 289.2,179.8 289.7,179.8 290.2,179.8 290.7,179.7 291.2,179.7 291.7,179.6 292.2,179.6 292.7,179.5 293.2,179.5 293.7,179.4 294.2,179.4 294.7,179.3 295.2,179.3 295.7,179.2 296.2,179.2 296.7,179.1 297.2,179.1 297.7,179.0 298.2,179.0 298.7,178.9 299.2,178.9 299.7,178.8 300.2,178.7 300.7,178.7 301.2,178.6 301.7,178.5 302.2,178.4 302.7,178.2 303.2,178.0 303.7,177.7 304.2,177.4 304.7,177.1 305.2,176.7 305.7,176.3 306.2,175.9 306.7,175.4 307.2,175.0 307.7,174.5 308.2,174.0 308.7,173.4 309.2,172.8 309.7,172.1 310.2,171.4 310.7,170.7 311.2,170.0 311.7,169.2 312.2,168.5 312.7,167.8 313.2,167.1 313.7,166.3 314.2,165.5 314.7,164.4 315.2,162.9 315.7,161.3 316.2,159.8 316.7,158.7 317.2,158.1 317.7,157.8 318.2,157.5 318.7,157.4 319.2,158.0 319.7,159.1 320.2,160.0 320.7,159.9 321.2,159.2 321.7,158.1 322.2,156.9 322.7,156.2 323.2,156.0 323.7,156.2 324.2,156.5 324.7,156.8 325.2,157.0 325.7,157.1 326.2,156.9 326.7,156.5 327.2,156.0 327.7,155.5 328.2,155.3 328.7,155.3 329.2,155.5 329.7,155.7 330.2,155.9 330.7,156.3 331.2,156.7 331.7,157.9 332.2,159.4 332.7,160.9 333.2,162.2 333.7,163.5 334.2,164.9 334.7,166.2 335.2,167.6 335.7,169.1 336.2,170.7 336.7,172.3 337.2,173.9 337.7,175.2 338.2,176.2 338.7,177.0 339.2,177.9 339.7,178.5 340.2,179.0 340.7,179.3 341.2,179.6 341.7,179.7 342.2,179.9 342.7,180.0 343.2,180.1 343.7,180.2 344.2,180.2 344.7,180.2 345.2,180.3 345.7,180.3 346.2,180.3 346.7,180.3 347.2,180.4 347.7,180.4 348.2,180.4 348.7,180.4 349.2,180.4 349.7,180.4 350.2,180.4 350.7,180.4 351.2,180.4 351.7,180.4 352.2,180.4 352.7,180.4 353.2,180.4 353.7,180.4 354.2,180.4 354.7,180.4 355.2,180.4 355.7,180.4 356.2,180.4 356.7,180.4 357.2,180.4 357.7,180.4 358.2,180.4 358.7,180.4 359.2,180.4 359.7,180.4 360.2,180.4 360.7,180.4 361.2,180.4 361.7,180.4 362.2,180.4 362.7,180.4 363.2,180.4 363.7,180.4 364.2,180.4 364.7,180.4 365.2,180.4 365.7,180.4 366.2,180.4 L366.60,180.40 L272.20,180.40 Z" fill="#cdcdcd" stroke="none" stroke-width="1"/>
<path d="M272.2,180.4 272.7,180.4 273.2,180.4 273.7,180.4 274.2,180.4 274.7,180.4 275.2,180.4 275.7,180.4 276.2,180.4 276.7,180.4 277.2,180.3 277.7,180.3 278.2,180.3 278.7,180.3 279.2,180.3 279.7,180.3 280.2,180.3 280.7,180.2 281.2,180.2 281.7,180.2 282.2,180.2 282.7,180.2 283.2,180.2 283.7,180.1 284.2,180.1 284.7,180.1 285.2,180.1 285.7,180.1 286.2,180.0 286.7,180.0 287.2,180.0 287.7,180.0 288.2,179.9 288.7,179.9 289.2,179.8 289.7,179.8 290.2,179.8 290.7,179.7 291.2,179.7 291.7,179.6 292.2,179.6 292.7,179.5 293.2,179.5 293.7,179.4 294.2,179.4 294.7,179.3 295.2,179.3 295.7,179.2 296.2,179.2 296.7,179.1 297.2,179.1 297.7,179.0 298.2,179.0 298.7,178.9 299.2,178.9 299.7,178.8 300.2,178.7 300.7,178.7 301.2,178.6 301.7,178.5 302.2,178.4 302.7,178.2 303.2,178.0 303.7,177.7 304.2,177.4 304.7,177.1 305.2,176.7 305.7,176.3 306.2,175.9 306.7,175.4 307.2,175.0 307.7,174.5 308.2,174.0 308.7,173.4 309.2,172.8 309.7,172.1 310.2,171.4 310.7,170.7 311.2,170.0 311.7,169.2 312.2,168.5 312.7,167.8 313.2,167.1 313.7,166.3 314.2,165.5 314.7,164.4 315.2,162.9 315.7,161.3 316.2,159.8 316.7,158.7 317.2,158.1 317.7,157.8 318.2,157.5 318.7,157.4 319.2,158.0 319.7,159.1 320.2,160.0 320.7,159.9 321.2,159.2 321.7,158.1 322.2,156.9 322.7,156.2 323.2,156.0 323.7,156.2 324.2,156.5 324.7,156.8 325.2,157.0 325.7,157.1 326.2,156.9 326.7,156.5 327.2,156.0 327.7,155.5 328.2,155.3 328.7,155.3 329.2,155.5 329.7,155.7 330.2,155.9 330.7,156.3 331.2,156.7 331.7,157.9 332.2,159.4 332.7,160.9 333.2,162.2 333.7,163.5 334.2,164.9 334.7,166.2 335.2,167.6 335.7,169.1 336.2,170.7 336.7,172.3 337.2,173.9 337.7,175.2 338.2,176.2 338.7,177.0 339.2,177.9 339.7,178.5 340.2,179.0 340.7,179.3 341.2,179.6 341.7,179.7 342.2,179.9 342.7,180.0 343.2,180.1 343.7,180.2 344.2,180.2 344.7,180.2 345.2,180.3 345.7,180.3 346.2,180.3 346.7,180.3 347.2,180.4 347.7,180.4 348.2,180.4 348.7,180.4 349.2,180.4 349.7,180.4 350.2,180.4 350.7,180.4 351.2,180.4 351.7,180.4 352.2,180.4 352.7,180.4 353.2,180.4 353.7,180.4 354.2,180.4 354.7,180.4 355.2,180.4 355.7,180.4 356.2,180.4 356.7,180.4 357.2,180.4 357.7,180.4 358.2,180.4 358.7,180.4 359.2,180.4 359.7,180.4 360.2,180.4 360.7,180.4 361.2,180.4 361.7,180.4 362.2,180.4 362.7,180.4 363.2,180.4 363.7,180.4 364.2,180.4 364.7,180.4 365.2,180.4 365.7,180.4 366.2,180.4" fill="none" stroke="#1a1a1a" stroke-width="0.8"/>
<path d="M272.2,148.6 272.9,148.6 273.6,148.6 274.3,148.6 275.0,148.6 275.7,148.6 276.4,148.6 277.1,148.6 277.8,148.6 278.5,148.6 279.2,148.6 279.9,148.6 280.6,148.6 281.3,148.6 282.0,148.6 282.7,148.6 283.4,148.6 284.1,148.6 284.8,148.6 285.5,148.6 286.2,148.6 286.9,148.5 287.6,148.4 288.3,148.1 289.0,147.5 289.7,146.6 290.4,145.0 291.1,142.7 291.8,139.5 292.5,135.6 293.2,131.4 293.9,127.3 294.6,124.1 295.3,122.4 296.0,122.5 296.7,124.5 297.4,127.8 298.1,132.0 298.8,136.2 299.5,140.0 300.2,143.1 300.9,145.3 301.6,146.8 302.3,147.6 303.0,148.1 303.7,148.4 304.4,148.5 305.1,148.6 305.8,148.6 306.5,148.6 307.2,148.6 307.9,148.6 308.6,148.6 309.3,148.6 310.0,148.6 310.7,148.6 311.4,148.6 312.1,148.6 312.8,148.6 313.5,148.6 314.2,148.6 314.9,148.6 315.6,148.6 316.3,148.6 317.0,148.6 317.7,148.6 318.4,148.6 319.1,148.6 319.8,148.6 320.5,148.6 321.2,148.6 321.9,148.6 322.6,148.6 323.3,148.6 324.0,148.6 324.7,148.6 325.4,148.6 326.1,148.6 326.8,148.6 327.5,148.6 328.2,148.6 328.9,148.6 329.6,148.6 330.3,148.6 331.0,148.6 331.7,148.6 332.4,148.6 333.1,148.6 333.8,148.6 334.5,148.6 335.2,148.6 335.9,148.6 336.6,148.6 337.3,148.6 338.0,148.6 338.7,148.6 339.4,148.6 340.1,148.6 340.8,148.6 341.5,148.6 342.2,148.6 342.9,148.6 343.6,148.6 344.3,148.6 345.0,148.6 345.7,148.6 346.4,148.6 347.1,148.6 347.8,148.6 348.5,148.6 349.2,148.6 349.9,148.6 350.6,148.6 351.3,148.6 352.0,148.6 352.7,148.6 353.4,148.6 354.1,148.6 354.8,148.6 355.5,148.6 356.2,148.6 356.9,148.6 357.6,148.6 358.3,148.6 359.0,148.6 359.7,148.6 360.4,148.6 361.1,148.6 361.8,148.6 362.5,148.6 363.2,148.6 363.9,148.6 364.6,148.6 365.3,148.6 366.0,148.6" fill="none" stroke="#8a8a8a" stroke-width="0.9" stroke-dasharray="3.2,2.2"/>
<rect x="271.40" y="116.50" width="96.00" height="95.90" fill="none" stroke="#111" stroke-width="1.5"/>
<path d="M314.00 166.30L360.20 166.30" stroke="#a47ec8" stroke-width="1.1"/>
<path d="M314.00 164.10L314.00 168.50" stroke="#a47ec8" stroke-width="1.1"/>
<path d="M360.20 164.10L360.20 168.50" stroke="#a47ec8" stroke-width="1.1"/>
<path d="M314.00 199.20L360.20 199.20" stroke="#a47ec8" stroke-width="1.1"/>
<path d="M314.00 197.00L314.00 201.40" stroke="#a47ec8" stroke-width="1.1"/>
<path d="M360.20 197.00L360.20 201.40" stroke="#a47ec8" stroke-width="1.1"/>
<text x="364.20" y="128.41" font-size="11" text-anchor="end" font-weight="normal" fill="#111" stroke="#111" stroke-width="0.22">CD49d</text>
<text x="364.20" y="158.35" font-size="8.6" text-anchor="end" font-weight="normal" fill="#222" stroke="#222" stroke-width="0.22">82.5</text>
<text x="364.20" y="189.85" font-size="8.6" text-anchor="end" font-weight="normal" fill="#222" stroke="#222" stroke-width="0.22">6.46</text>
<rect x="285.40" y="213.10" width="2.60" height="1.80" fill="#222" stroke="none" stroke-width="1"/>
<path d="M395.7,212.4 396.4,212.4 397.1,212.4 397.8,212.4 398.5,212.4 399.2,212.4 399.9,212.4 400.6,212.4 401.3,212.4 402.0,212.4 402.7,212.4 403.4,212.4 404.1,212.4 404.8,212.4 405.5,212.4 406.2,212.4 406.9,212.4 407.6,212.4 408.3,212.4 409.0,212.4 409.7,212.4 410.4,212.4 411.1,212.4 411.8,212.4 412.5,212.4 413.2,212.4 413.9,212.4 414.6,212.4 415.3,212.4 416.0,212.4 416.7,212.4 417.4,212.4 418.1,212.4 418.8,212.4 419.5,212.4 420.2,212.4 420.9,212.4 421.6,212.4 422.3,212.4 423.0,212.4 423.7,212.4 424.4,212.4 425.1,212.4 425.8,212.4 426.5,212.4 427.2,212.4 427.9,212.4 428.6,212.4 429.3,212.4 430.0,212.4 430.7,212.4 431.4,212.4 432.1,212.4 432.8,212.4 433.5,212.4 434.2,212.4 434.9,212.4 435.6,212.4 436.3,212.4 437.0,212.4 437.7,212.4 438.4,212.4 439.1,212.4 439.8,212.3 440.5,212.3 441.2,212.1 441.9,212.0 442.6,211.7 443.3,211.3 444.0,210.8 444.7,210.1 445.4,209.1 446.1,207.9 446.8,206.4 447.5,204.5 448.2,202.2 448.9,199.7 449.6,196.8 450.3,193.9 451.0,191.1 451.7,188.7 452.4,186.9 453.1,186.1 453.8,186.2 454.5,187.2 455.2,188.9 455.9,191.1 456.6,193.4 457.3,195.7 458.0,197.7 458.7,199.3 459.4,200.5 460.1,201.4 460.8,202.1 461.5,202.6 462.2,203.1 462.9,203.5 463.6,204.0 464.3,204.4 465.0,204.9 465.7,205.4 466.4,206.0 467.1,206.5 467.8,207.0 468.5,207.6 469.2,208.1 469.9,208.7 470.6,209.2 471.3,209.7 472.0,210.2 472.7,210.6 473.4,211.0 474.1,211.3 474.8,211.6 475.5,211.8 476.2,212.0 476.9,212.1 477.6,212.2 478.3,212.3 479.0,212.3 479.7,212.3 480.4,212.4 481.1,212.4 481.8,212.4 482.5,212.4 483.2,212.4 483.9,212.4 484.6,212.4 485.3,212.4 486.0,212.4 486.7,212.4 487.4,212.4 488.1,212.4 488.8,212.4 489.5,212.4 L490.10,212.40 L395.70,212.40 Z" fill="#8c8c8c" stroke="none" stroke-width="1"/>
<path d="M395.7,212.4 396.4,212.4 397.1,212.4 397.8,212.4 398.5,212.4 399.2,212.4 399.9,212.4 400.6,212.4 401.3,212.4 402.0,212.4 402.7,212.4 403.4,212.4 404.1,212.4 404.8,212.4 405.5,212.4 406.2,212.4 406.9,212.4 407.6,212.4 408.3,212.4 409.0,212.4 409.7,212.4 410.4,212.4 411.1,212.4 411.8,212.4 412.5,212.4 413.2,212.4 413.9,212.4 414.6,212.4 415.3,212.4 416.0,212.4 416.7,212.4 417.4,212.4 418.1,212.4 418.8,212.4 419.5,212.4 420.2,212.4 420.9,212.4 421.6,212.4 422.3,212.4 423.0,212.4 423.7,212.4 424.4,212.4 425.1,212.4 425.8,212.4 426.5,212.4 427.2,212.4 427.9,212.4 428.6,212.4 429.3,212.4 430.0,212.4 430.7,212.4 431.4,212.4 432.1,212.4 432.8,212.4 433.5,212.4 434.2,212.4 434.9,212.4 435.6,212.4 436.3,212.4 437.0,212.4 437.7,212.4 438.4,212.4 439.1,212.4 439.8,212.3 440.5,212.3 441.2,212.1 441.9,212.0 442.6,211.7 443.3,211.3 444.0,210.8 444.7,210.1 445.4,209.1 446.1,207.9 446.8,206.4 447.5,204.5 448.2,202.2 448.9,199.7 449.6,196.8 450.3,193.9 451.0,191.1 451.7,188.7 452.4,186.9 453.1,186.1 453.8,186.2 454.5,187.2 455.2,188.9 455.9,191.1 456.6,193.4 457.3,195.7 458.0,197.7 458.7,199.3 459.4,200.5 460.1,201.4 460.8,202.1 461.5,202.6 462.2,203.1 462.9,203.5 463.6,204.0 464.3,204.4 465.0,204.9 465.7,205.4 466.4,206.0 467.1,206.5 467.8,207.0 468.5,207.6 469.2,208.1 469.9,208.7 470.6,209.2 471.3,209.7 472.0,210.2 472.7,210.6 473.4,211.0 474.1,211.3 474.8,211.6 475.5,211.8 476.2,212.0 476.9,212.1 477.6,212.2 478.3,212.3 479.0,212.3 479.7,212.3 480.4,212.4 481.1,212.4 481.8,212.4 482.5,212.4 483.2,212.4 483.9,212.4 484.6,212.4 485.3,212.4 486.0,212.4 486.7,212.4 487.4,212.4 488.1,212.4 488.8,212.4 489.5,212.4" fill="none" stroke="#1a1a1a" stroke-width="0.8"/>
<path d="M395.7,180.4 396.4,180.4 397.1,180.4 397.8,180.4 398.5,180.4 399.2,180.4 399.9,180.4 400.6,180.4 401.3,180.4 402.0,180.4 402.7,180.4 403.4,180.4 404.1,180.4 404.8,180.4 405.5,180.4 406.2,180.4 406.9,180.4 407.6,180.4 408.3,180.4 409.0,180.4 409.7,180.4 410.4,180.4 411.1,180.4 411.8,180.4 412.5,180.4 413.2,180.4 413.9,180.4 414.6,180.4 415.3,180.4 416.0,180.4 416.7,180.4 417.4,180.4 418.1,180.4 418.8,180.4 419.5,180.4 420.2,180.4 420.9,180.4 421.6,180.4 422.3,180.4 423.0,180.4 423.7,180.4 424.4,180.4 425.1,180.4 425.8,180.4 426.5,180.4 427.2,180.4 427.9,180.4 428.6,180.4 429.3,180.4 430.0,180.4 430.7,180.4 431.4,180.4 432.1,180.4 432.8,180.4 433.5,180.4 434.2,180.4 434.9,180.4 435.6,180.4 436.3,180.4 437.0,180.4 437.7,180.4 438.4,180.4 439.1,180.4 439.8,180.4 440.5,180.4 441.2,180.4 441.9,180.4 442.6,180.4 443.3,180.4 444.0,180.4 444.7,180.4 445.4,180.4 446.1,180.4 446.8,180.4 447.5,180.3 448.2,180.3 448.9,180.1 449.6,179.9 450.3,179.6 451.0,179.0 451.7,178.2 452.4,176.9 453.1,175.3 453.8,173.2 454.5,170.6 455.2,167.6 455.9,164.5 456.6,161.4 457.3,158.6 458.0,156.4 458.7,155.2 459.4,154.9 460.1,155.8 460.8,157.6 461.5,160.1 462.2,163.1 462.9,166.3 463.6,169.4 464.3,172.1 465.0,174.4 465.7,176.3 466.4,177.7 467.1,178.7 467.8,179.4 468.5,179.8 469.2,180.1 469.9,180.2 470.6,180.3 471.3,180.4 472.0,180.4 472.7,180.4 473.4,180.4 474.1,180.4 474.8,180.4 475.5,180.4 476.2,180.4 476.9,180.4 477.6,180.4 478.3,180.4 479.0,180.4 479.7,180.4 480.4,180.4 481.1,180.4 481.8,180.4 482.5,180.4 483.2,180.4 483.9,180.4 484.6,180.4 485.3,180.4 486.0,180.4 486.7,180.4 487.4,180.4 488.1,180.4 488.8,180.4 489.5,180.4 L490.10,180.40 L395.70,180.40 Z" fill="#cdcdcd" stroke="none" stroke-width="1"/>
<path d="M395.7,180.4 396.4,180.4 397.1,180.4 397.8,180.4 398.5,180.4 399.2,180.4 399.9,180.4 400.6,180.4 401.3,180.4 402.0,180.4 402.7,180.4 403.4,180.4 404.1,180.4 404.8,180.4 405.5,180.4 406.2,180.4 406.9,180.4 407.6,180.4 408.3,180.4 409.0,180.4 409.7,180.4 410.4,180.4 411.1,180.4 411.8,180.4 412.5,180.4 413.2,180.4 413.9,180.4 414.6,180.4 415.3,180.4 416.0,180.4 416.7,180.4 417.4,180.4 418.1,180.4 418.8,180.4 419.5,180.4 420.2,180.4 420.9,180.4 421.6,180.4 422.3,180.4 423.0,180.4 423.7,180.4 424.4,180.4 425.1,180.4 425.8,180.4 426.5,180.4 427.2,180.4 427.9,180.4 428.6,180.4 429.3,180.4 430.0,180.4 430.7,180.4 431.4,180.4 432.1,180.4 432.8,180.4 433.5,180.4 434.2,180.4 434.9,180.4 435.6,180.4 436.3,180.4 437.0,180.4 437.7,180.4 438.4,180.4 439.1,180.4 439.8,180.4 440.5,180.4 441.2,180.4 441.9,180.4 442.6,180.4 443.3,180.4 444.0,180.4 444.7,180.4 445.4,180.4 446.1,180.4 446.8,180.4 447.5,180.3 448.2,180.3 448.9,180.1 449.6,179.9 450.3,179.6 451.0,179.0 451.7,178.2 452.4,176.9 453.1,175.3 453.8,173.2 454.5,170.6 455.2,167.6 455.9,164.5 456.6,161.4 457.3,158.6 458.0,156.4 458.7,155.2 459.4,154.9 460.1,155.8 460.8,157.6 461.5,160.1 462.2,163.1 462.9,166.3 463.6,169.4 464.3,172.1 465.0,174.4 465.7,176.3 466.4,177.7 467.1,178.7 467.8,179.4 468.5,179.8 469.2,180.1 469.9,180.2 470.6,180.3 471.3,180.4 472.0,180.4 472.7,180.4 473.4,180.4 474.1,180.4 474.8,180.4 475.5,180.4 476.2,180.4 476.9,180.4 477.6,180.4 478.3,180.4 479.0,180.4 479.7,180.4 480.4,180.4 481.1,180.4 481.8,180.4 482.5,180.4 483.2,180.4 483.9,180.4 484.6,180.4 485.3,180.4 486.0,180.4 486.7,180.4 487.4,180.4 488.1,180.4 488.8,180.4 489.5,180.4" fill="none" stroke="#1a1a1a" stroke-width="0.8"/>
<path d="M395.7,148.6 396.4,148.6 397.1,148.6 397.8,148.6 398.5,148.6 399.2,148.6 399.9,148.6 400.6,148.6 401.3,148.6 402.0,148.6 402.7,148.6 403.4,148.6 404.1,148.6 404.8,148.6 405.5,148.6 406.2,148.6 406.9,148.6 407.6,148.6 408.3,148.6 409.0,148.6 409.7,148.6 410.4,148.6 411.1,148.6 411.8,148.6 412.5,148.6 413.2,148.6 413.9,148.6 414.6,148.6 415.3,148.6 416.0,148.6 416.7,148.6 417.4,148.6 418.1,148.6 418.8,148.6 419.5,148.6 420.2,148.6 420.9,148.6 421.6,148.6 422.3,148.6 423.0,148.6 423.7,148.6 424.4,148.6 425.1,148.5 425.8,148.4 426.5,148.2 427.2,147.8 427.9,147.1 428.6,145.9 429.3,144.3 430.0,141.9 430.7,139.0 431.4,135.4 432.1,131.6 432.8,127.9 433.5,124.9 434.2,123.0 434.9,122.4 435.6,123.4 436.3,125.7 437.0,129.0 437.7,132.7 438.4,136.5 439.1,139.9 439.8,142.7 440.5,144.8 441.2,146.3 441.9,147.3 442.6,147.9 443.3,148.2 444.0,148.4 444.7,148.5 445.4,148.6 446.1,148.6 446.8,148.6 447.5,148.6 448.2,148.6 448.9,148.6 449.6,148.6 450.3,148.6 451.0,148.6 451.7,148.6 452.4,148.6 453.1,148.6 453.8,148.6 454.5,148.6 455.2,148.6 455.9,148.6 456.6,148.6 457.3,148.6 458.0,148.6 458.7,148.6 459.4,148.6 460.1,148.6 460.8,148.6 461.5,148.6 462.2,148.6 462.9,148.6 463.6,148.6 464.3,148.6 465.0,148.6 465.7,148.6 466.4,148.6 467.1,148.6 467.8,148.6 468.5,148.6 469.2,148.6 469.9,148.6 470.6,148.6 471.3,148.6 472.0,148.6 472.7,148.6 473.4,148.6 474.1,148.6 474.8,148.6 475.5,148.6 476.2,148.6 476.9,148.6 477.6,148.6 478.3,148.6 479.0,148.6 479.7,148.6 480.4,148.6 481.1,148.6 481.8,148.6 482.5,148.6 483.2,148.6 483.9,148.6 484.6,148.6 485.3,148.6 486.0,148.6 486.7,148.6 487.4,148.6 488.1,148.6 488.8,148.6 489.5,148.6" fill="none" stroke="#8a8a8a" stroke-width="0.9" stroke-dasharray="3.2,2.2"/>
<rect x="394.90" y="116.50" width="96.00" height="95.90" fill="none" stroke="#111" stroke-width="1.5"/>
<path d="M442.20 166.30L483.70 166.30" stroke="#a47ec8" stroke-width="1.1"/>
<path d="M442.20 164.10L442.20 168.50" stroke="#a47ec8" stroke-width="1.1"/>
<path d="M483.70 164.10L483.70 168.50" stroke="#a47ec8" stroke-width="1.1"/>
<path d="M442.20 199.20L483.70 199.20" stroke="#a47ec8" stroke-width="1.1"/>
<path d="M442.20 197.00L442.20 201.40" stroke="#a47ec8" stroke-width="1.1"/>
<path d="M483.70 197.00L483.70 201.40" stroke="#a47ec8" stroke-width="1.1"/>
<text x="487.70" y="128.41" font-size="11" text-anchor="end" font-weight="normal" fill="#111" stroke="#111" stroke-width="0.22">CD63</text>
<text x="487.70" y="158.35" font-size="8.6" text-anchor="end" font-weight="normal" fill="#222" stroke="#222" stroke-width="0.22">99.8</text>
<text x="487.70" y="189.85" font-size="8.6" text-anchor="end" font-weight="normal" fill="#222" stroke="#222" stroke-width="0.22">99.2</text>
<rect x="408.90" y="213.10" width="2.60" height="1.80" fill="#222" stroke="none" stroke-width="1"/>
<rect x="37.40" y="231.60" width="8.60" height="6.60" fill="none" stroke="#48a6a6" stroke-width="1.3"/>
<text x="48.00" y="237.99" font-size="8.7" text-anchor="start" font-weight="normal" fill="#333" stroke="#333" stroke-width="0.22">CD10<tspan font-size="6" dy="-3.5">-</tspan></text>
<rect x="77.70" y="231.60" width="8.60" height="6.60" fill="none" stroke="#b58ccd" stroke-width="1.3"/>
<text x="88.30" y="237.99" font-size="8.7" text-anchor="start" font-weight="normal" fill="#333" stroke="#333" stroke-width="0.22">CD10<tspan font-size="6" dy="-3.5">+</tspan></text>
<rect x="30.70" y="250.60" width="83.63" height="10.60" fill="#b7dfd8" stroke="none" stroke-width="1"/>
<rect x="114.33" y="250.60" width="8.27" height="10.60" fill="#e3d6ea" stroke="none" stroke-width="1"/>
<rect x="114.33" y="250.60" width="8.27" height="10.60" fill="none" stroke="#b58ccd" stroke-width="1.1"/>
<rect x="30.70" y="250.60" width="83.63" height="10.60" fill="none" stroke="#48a6a6" stroke-width="1.1"/>
<path d="M114.33 255.90L116.63 255.90" stroke="#48a6a6" stroke-width="1.1"/>
<path d="M116.63 253.40L116.63 258.40" stroke="#48a6a6" stroke-width="1.1"/>
<path d="M122.60 255.90L124.90 255.90" stroke="#b58ccd" stroke-width="1.1"/>
<path d="M124.90 253.40L124.90 258.40" stroke="#b58ccd" stroke-width="1.1"/>
<path d="M26.70 255.90L30.70 255.90" stroke="#111" stroke-width="1.4"/>
<rect x="30.70" y="267.60" width="7.35" height="10.80" fill="#b7dfd8" stroke="none" stroke-width="1"/>
<rect x="38.05" y="267.60" width="84.55" height="10.80" fill="#e3d6ea" stroke="none" stroke-width="1"/>
<rect x="38.05" y="267.60" width="84.55" height="10.80" fill="none" stroke="#b58ccd" stroke-width="1.1"/>
<rect x="30.70" y="267.60" width="7.35" height="10.80" fill="none" stroke="#48a6a6" stroke-width="1.1"/>
<path d="M38.05 273.00L40.35 273.00" stroke="#48a6a6" stroke-width="1.1"/>
<path d="M40.35 270.50L40.35 275.50" stroke="#48a6a6" stroke-width="1.1"/>
<path d="M122.60 273.00L124.90 273.00" stroke="#b58ccd" stroke-width="1.1"/>
<path d="M124.90 270.50L124.90 275.50" stroke="#b58ccd" stroke-width="1.1"/>
<path d="M26.70 273.00L30.70 273.00" stroke="#111" stroke-width="1.4"/>
<path d="M30.70 243.40L30.70 285.50" stroke="#111" stroke-width="1.4"/>
<path d="M30.00 284.90L132.25 284.90" stroke="#111" stroke-width="1.4"/>
<path d="M30.70 284.90L30.70 288.50" stroke="#111" stroke-width="1.2"/>
<text x="30.70" y="296.82" font-size="8.5" text-anchor="middle" font-weight="normal" fill="#222" stroke="#222" stroke-width="0.22" transform="translate(30.70 0) scale(0.93 1) translate(-30.70 0)">0</text>
<path d="M49.08 284.90L49.08 288.50" stroke="#111" stroke-width="1.2"/>
<text x="49.08" y="296.82" font-size="8.5" text-anchor="middle" font-weight="normal" fill="#222" stroke="#222" stroke-width="0.22" transform="translate(49.08 0) scale(0.93 1) translate(-49.08 0)">20</text>
<path d="M67.46 284.90L67.46 288.50" stroke="#111" stroke-width="1.2"/>
<text x="67.46" y="296.82" font-size="8.5" text-anchor="middle" font-weight="normal" fill="#222" stroke="#222" stroke-width="0.22" transform="translate(67.46 0) scale(0.93 1) translate(-67.46 0)">40</text>
<path d="M85.84 284.90L85.84 288.50" stroke="#111" stroke-width="1.2"/>
<text x="85.84" y="296.82" font-size="8.5" text-anchor="middle" font-weight="normal" fill="#222" stroke="#222" stroke-width="0.22" transform="translate(85.84 0) scale(0.93 1) translate(-85.84 0)">60</text>
<path d="M104.22 284.90L104.22 288.50" stroke="#111" stroke-width="1.2"/>
<text x="104.22" y="296.82" font-size="8.5" text-anchor="middle" font-weight="normal" fill="#222" stroke="#222" stroke-width="0.22" transform="translate(104.22 0) scale(0.93 1) translate(-104.22 0)">80</text>
<path d="M122.60 284.90L122.60 288.50" stroke="#111" stroke-width="1.2"/>
<text x="122.60" y="296.82" font-size="8.5" text-anchor="middle" font-weight="normal" fill="#222" stroke="#222" stroke-width="0.22" transform="translate(122.60 0) scale(0.93 1) translate(-122.60 0)">100</text>
<text x="81.24" y="310.40" font-size="11" text-anchor="middle" font-weight="normal" fill="#222" stroke="#222" stroke-width="0.22">%</text>
<rect x="162.50" y="231.60" width="8.60" height="6.60" fill="none" stroke="#48a6a6" stroke-width="1.3"/>
<text x="173.10" y="237.99" font-size="8.7" text-anchor="start" font-weight="normal" fill="#333" stroke="#333" stroke-width="0.22">Ig κ<tspan font-size="6" dy="-3.5">-</tspan></text>
<rect x="196.20" y="231.60" width="8.60" height="6.60" fill="none" stroke="#b58ccd" stroke-width="1.3"/>
<text x="206.80" y="237.99" font-size="8.7" text-anchor="start" font-weight="normal" fill="#333" stroke="#333" stroke-width="0.22">Ig κ<tspan font-size="6" dy="-3.5">+</tspan></text>
<rect x="150.20" y="250.60" width="17.59" height="10.60" fill="#b7dfd8" stroke="none" stroke-width="1"/>
<rect x="167.79" y="250.60" width="75.01" height="10.60" fill="#e3d6ea" stroke="none" stroke-width="1"/>
<rect x="167.79" y="250.60" width="75.01" height="10.60" fill="none" stroke="#b58ccd" stroke-width="1.1"/>
<rect x="150.20" y="250.60" width="17.59" height="10.60" fill="none" stroke="#48a6a6" stroke-width="1.1"/>
<path d="M167.79 255.90L171.03 255.90" stroke="#48a6a6" stroke-width="1.1"/>
<path d="M171.03 253.40L171.03 258.40" stroke="#48a6a6" stroke-width="1.1"/>
<path d="M242.80 255.90L246.04 255.90" stroke="#b58ccd" stroke-width="1.1"/>
<path d="M246.04 253.40L246.04 258.40" stroke="#b58ccd" stroke-width="1.1"/>
<path d="M146.20 255.90L150.20 255.90" stroke="#111" stroke-width="1.4"/>
<rect x="150.20" y="267.60" width="70.38" height="10.80" fill="#b7dfd8" stroke="none" stroke-width="1"/>
<rect x="220.58" y="267.60" width="22.22" height="10.80" fill="#e3d6ea" stroke="none" stroke-width="1"/>
<rect x="220.58" y="267.60" width="22.22" height="10.80" fill="none" stroke="#b58ccd" stroke-width="1.1"/>
<rect x="150.20" y="267.60" width="70.38" height="10.80" fill="none" stroke="#48a6a6" stroke-width="1.1"/>
<path d="M220.58 273.00L224.74 273.00" stroke="#48a6a6" stroke-width="1.1"/>
<path d="M224.74 270.50L224.74 275.50" stroke="#48a6a6" stroke-width="1.1"/>
<path d="M242.80 273.00L246.97 273.00" stroke="#b58ccd" stroke-width="1.1"/>
<path d="M246.97 270.50L246.97 275.50" stroke="#b58ccd" stroke-width="1.1"/>
<path d="M146.20 273.00L150.20 273.00" stroke="#111" stroke-width="1.4"/>
<path d="M150.20 243.40L150.20 285.50" stroke="#111" stroke-width="1.4"/>
<path d="M149.50 284.90L252.52 284.90" stroke="#111" stroke-width="1.4"/>
<path d="M150.20 284.90L150.20 288.50" stroke="#111" stroke-width="1.2"/>
<text x="150.20" y="296.82" font-size="8.5" text-anchor="middle" font-weight="normal" fill="#222" stroke="#222" stroke-width="0.22" transform="translate(150.20 0) scale(0.93 1) translate(-150.20 0)">0</text>
<path d="M168.72 284.90L168.72 288.50" stroke="#111" stroke-width="1.2"/>
<text x="168.72" y="296.82" font-size="8.5" text-anchor="middle" font-weight="normal" fill="#222" stroke="#222" stroke-width="0.22" transform="translate(168.72 0) scale(0.93 1) translate(-168.72 0)">20</text>
<path d="M187.24 284.90L187.24 288.50" stroke="#111" stroke-width="1.2"/>
<text x="187.24" y="296.82" font-size="8.5" text-anchor="middle" font-weight="normal" fill="#222" stroke="#222" stroke-width="0.22" transform="translate(187.24 0) scale(0.93 1) translate(-187.24 0)">40</text>
<path d="M205.76 284.90L205.76 288.50" stroke="#111" stroke-width="1.2"/>
<text x="205.76" y="296.82" font-size="8.5" text-anchor="middle" font-weight="normal" fill="#222" stroke="#222" stroke-width="0.22" transform="translate(205.76 0) scale(0.93 1) translate(-205.76 0)">60</text>
<path d="M224.28 284.90L224.28 288.50" stroke="#111" stroke-width="1.2"/>
<text x="224.28" y="296.82" font-size="8.5" text-anchor="middle" font-weight="normal" fill="#222" stroke="#222" stroke-width="0.22" transform="translate(224.28 0) scale(0.93 1) translate(-224.28 0)">80</text>
<path d="M242.80 284.90L242.80 288.50" stroke="#111" stroke-width="1.2"/>
<text x="242.80" y="296.82" font-size="8.5" text-anchor="middle" font-weight="normal" fill="#222" stroke="#222" stroke-width="0.22" transform="translate(242.80 0) scale(0.93 1) translate(-242.80 0)">100</text>
<text x="201.13" y="310.40" font-size="11" text-anchor="middle" font-weight="normal" fill="#222" stroke="#222" stroke-width="0.22">%</text>
<rect x="279.80" y="231.60" width="8.60" height="6.60" fill="none" stroke="#48a6a6" stroke-width="1.3"/>
<text x="290.40" y="237.99" font-size="8.7" text-anchor="start" font-weight="normal" fill="#333" stroke="#333" stroke-width="0.22">CD49d<tspan font-size="6" dy="-3.5">-</tspan></text>
<rect x="324.40" y="231.60" width="8.60" height="6.60" fill="none" stroke="#b58ccd" stroke-width="1.3"/>
<text x="335.00" y="237.99" font-size="8.7" text-anchor="start" font-weight="normal" fill="#333" stroke="#333" stroke-width="0.22">CD49d<tspan font-size="6" dy="-3.5">+</tspan></text>
<rect x="271.60" y="250.60" width="12.91" height="10.60" fill="#b7dfd8" stroke="none" stroke-width="1"/>
<rect x="284.51" y="250.60" width="79.29" height="10.60" fill="#e3d6ea" stroke="none" stroke-width="1"/>
<rect x="284.51" y="250.60" width="79.29" height="10.60" fill="none" stroke="#b58ccd" stroke-width="1.1"/>
<rect x="271.60" y="250.60" width="12.91" height="10.60" fill="none" stroke="#48a6a6" stroke-width="1.1"/>
<path d="M284.51 255.90L287.27 255.90" stroke="#48a6a6" stroke-width="1.1"/>
<path d="M287.27 253.40L287.27 258.40" stroke="#48a6a6" stroke-width="1.1"/>
<path d="M363.80 255.90L366.57 255.90" stroke="#b58ccd" stroke-width="1.1"/>
<path d="M366.57 253.40L366.57 258.40" stroke="#b58ccd" stroke-width="1.1"/>
<path d="M267.60 255.90L271.60 255.90" stroke="#111" stroke-width="1.4"/>
<rect x="271.60" y="267.60" width="75.60" height="10.80" fill="#b7dfd8" stroke="none" stroke-width="1"/>
<rect x="347.20" y="267.60" width="16.60" height="10.80" fill="#e3d6ea" stroke="none" stroke-width="1"/>
<rect x="347.20" y="267.60" width="16.60" height="10.80" fill="none" stroke="#b58ccd" stroke-width="1.1"/>
<rect x="271.60" y="267.60" width="75.60" height="10.80" fill="none" stroke="#48a6a6" stroke-width="1.1"/>
<path d="M347.20 273.00L350.43 273.00" stroke="#48a6a6" stroke-width="1.1"/>
<path d="M350.43 270.50L350.43 275.50" stroke="#48a6a6" stroke-width="1.1"/>
<path d="M363.80 273.00L366.57 273.00" stroke="#b58ccd" stroke-width="1.1"/>
<path d="M366.57 270.50L366.57 275.50" stroke="#b58ccd" stroke-width="1.1"/>
<path d="M267.60 273.00L271.60 273.00" stroke="#111" stroke-width="1.4"/>
<path d="M271.60 243.40L271.60 285.50" stroke="#111" stroke-width="1.4"/>
<path d="M270.90 284.90L373.48 284.90" stroke="#111" stroke-width="1.4"/>
<path d="M271.60 284.90L271.60 288.50" stroke="#111" stroke-width="1.2"/>
<text x="271.60" y="296.82" font-size="8.5" text-anchor="middle" font-weight="normal" fill="#222" stroke="#222" stroke-width="0.22" transform="translate(271.60 0) scale(0.93 1) translate(-271.60 0)">0</text>
<path d="M290.04 284.90L290.04 288.50" stroke="#111" stroke-width="1.2"/>
<text x="290.04" y="296.82" font-size="8.5" text-anchor="middle" font-weight="normal" fill="#222" stroke="#222" stroke-width="0.22" transform="translate(290.04 0) scale(0.93 1) translate(-290.04 0)">20</text>
<path d="M308.48 284.90L308.48 288.50" stroke="#111" stroke-width="1.2"/>
<text x="308.48" y="296.82" font-size="8.5" text-anchor="middle" font-weight="normal" fill="#222" stroke="#222" stroke-width="0.22" transform="translate(308.48 0) scale(0.93 1) translate(-308.48 0)">40</text>
<path d="M326.92 284.90L326.92 288.50" stroke="#111" stroke-width="1.2"/>
<text x="326.92" y="296.82" font-size="8.5" text-anchor="middle" font-weight="normal" fill="#222" stroke="#222" stroke-width="0.22" transform="translate(326.92 0) scale(0.93 1) translate(-326.92 0)">60</text>
<path d="M345.36 284.90L345.36 288.50" stroke="#111" stroke-width="1.2"/>
<text x="345.36" y="296.82" font-size="8.5" text-anchor="middle" font-weight="normal" fill="#222" stroke="#222" stroke-width="0.22" transform="translate(345.36 0) scale(0.93 1) translate(-345.36 0)">80</text>
<path d="M363.80 284.90L363.80 288.50" stroke="#111" stroke-width="1.2"/>
<text x="363.80" y="296.82" font-size="8.5" text-anchor="middle" font-weight="normal" fill="#222" stroke="#222" stroke-width="0.22" transform="translate(363.80 0) scale(0.93 1) translate(-363.80 0)">100</text>
<text x="322.31" y="310.40" font-size="11" text-anchor="middle" font-weight="normal" fill="#222" stroke="#222" stroke-width="0.22">%</text>
<rect x="408.60" y="231.60" width="8.60" height="6.60" fill="none" stroke="#48a6a6" stroke-width="1.3"/>
<text x="419.20" y="237.99" font-size="8.7" text-anchor="start" font-weight="normal" fill="#333" stroke="#333" stroke-width="0.22">CD63<tspan font-size="6" dy="-3.5">-</tspan></text>
<rect x="449.50" y="231.60" width="8.60" height="6.60" fill="none" stroke="#b58ccd" stroke-width="1.3"/>
<text x="460.10" y="237.99" font-size="8.7" text-anchor="start" font-weight="normal" fill="#333" stroke="#333" stroke-width="0.22">CD63<tspan font-size="6" dy="-3.5">+</tspan></text>
<rect x="394.90" y="250.60" width="0.65" height="10.60" fill="#b7dfd8" stroke="none" stroke-width="1"/>
<rect x="395.55" y="250.60" width="92.15" height="10.60" fill="#e3d6ea" stroke="none" stroke-width="1"/>
<rect x="395.55" y="250.60" width="92.15" height="10.60" fill="none" stroke="#b58ccd" stroke-width="1.1"/>
<rect x="394.90" y="250.60" width="0.65" height="10.60" fill="none" stroke="#48a6a6" stroke-width="1.1"/>
<path d="M395.55 255.90L395.74 255.90" stroke="#48a6a6" stroke-width="1.1"/>
<path d="M395.74 253.40L395.74 258.40" stroke="#48a6a6" stroke-width="1.1"/>
<path d="M487.70 255.90L488.63 255.90" stroke="#b58ccd" stroke-width="1.1"/>
<path d="M488.63 253.40L488.63 258.40" stroke="#b58ccd" stroke-width="1.1"/>
<path d="M390.90 255.90L394.90 255.90" stroke="#111" stroke-width="1.4"/>
<rect x="394.90" y="267.60" width="1.21" height="10.80" fill="#b7dfd8" stroke="none" stroke-width="1"/>
<rect x="396.11" y="267.60" width="91.59" height="10.80" fill="#e3d6ea" stroke="none" stroke-width="1"/>
<rect x="396.11" y="267.60" width="91.59" height="10.80" fill="none" stroke="#b58ccd" stroke-width="1.1"/>
<rect x="394.90" y="267.60" width="1.21" height="10.80" fill="none" stroke="#48a6a6" stroke-width="1.1"/>
<path d="M396.11 273.00L396.38 273.00" stroke="#48a6a6" stroke-width="1.1"/>
<path d="M396.38 270.50L396.38 275.50" stroke="#48a6a6" stroke-width="1.1"/>
<path d="M487.70 273.00L488.63 273.00" stroke="#b58ccd" stroke-width="1.1"/>
<path d="M488.63 270.50L488.63 275.50" stroke="#b58ccd" stroke-width="1.1"/>
<path d="M390.90 273.00L394.90 273.00" stroke="#111" stroke-width="1.4"/>
<path d="M394.90 243.40L394.90 285.50" stroke="#111" stroke-width="1.4"/>
<path d="M394.20 284.90L497.44 284.90" stroke="#111" stroke-width="1.4"/>
<path d="M394.90 284.90L394.90 288.50" stroke="#111" stroke-width="1.2"/>
<text x="394.90" y="296.82" font-size="8.5" text-anchor="middle" font-weight="normal" fill="#222" stroke="#222" stroke-width="0.22" transform="translate(394.90 0) scale(0.93 1) translate(-394.90 0)">0</text>
<path d="M413.46 284.90L413.46 288.50" stroke="#111" stroke-width="1.2"/>
<text x="413.46" y="296.82" font-size="8.5" text-anchor="middle" font-weight="normal" fill="#222" stroke="#222" stroke-width="0.22" transform="translate(413.46 0) scale(0.93 1) translate(-413.46 0)">20</text>
<path d="M432.02 284.90L432.02 288.50" stroke="#111" stroke-width="1.2"/>
<text x="432.02" y="296.82" font-size="8.5" text-anchor="middle" font-weight="normal" fill="#222" stroke="#222" stroke-width="0.22" transform="translate(432.02 0) scale(0.93 1) translate(-432.02 0)">40</text>
<path d="M450.58 284.90L450.58 288.50" stroke="#111" stroke-width="1.2"/>
<text x="450.58" y="296.82" font-size="8.5" text-anchor="middle" font-weight="normal" fill="#222" stroke="#222" stroke-width="0.22" transform="translate(450.58 0) scale(0.93 1) translate(-450.58 0)">60</text>
<path d="M469.14 284.90L469.14 288.50" stroke="#111" stroke-width="1.2"/>
<text x="469.14" y="296.82" font-size="8.5" text-anchor="middle" font-weight="normal" fill="#222" stroke="#222" stroke-width="0.22" transform="translate(469.14 0) scale(0.93 1) translate(-469.14 0)">80</text>
<path d="M487.70 284.90L487.70 288.50" stroke="#111" stroke-width="1.2"/>
<text x="487.70" y="296.82" font-size="8.5" text-anchor="middle" font-weight="normal" fill="#222" stroke="#222" stroke-width="0.22" transform="translate(487.70 0) scale(0.93 1) translate(-487.70 0)">100</text>
<text x="445.94" y="310.40" font-size="11" text-anchor="middle" font-weight="normal" fill="#222" stroke="#222" stroke-width="0.22">%</text>
<text x="11.80" y="259.81" font-size="11" text-anchor="middle" font-weight="normal" fill="#1a1a1a" stroke="#1a1a1a" stroke-width="0.22">LDN</text>
<text x="12.40" y="276.80" font-size="11" text-anchor="middle" font-weight="normal" fill="#1a1a1a" stroke="#1a1a1a" stroke-width="0.22">HDN</text>
<rect x="30.70" y="328.90" width="12.35" height="10.30" fill="#86aad8" stroke="#151515" stroke-width="1.1"/>
<circle cx="39.25" cy="332.70" r="2.3" fill="#7c7c7c" fill-opacity="0.62"/>
<circle cx="40.20" cy="333.60" r="2.3" fill="#7c7c7c" fill-opacity="0.62"/>
<circle cx="41.15" cy="334.50" r="2.3" fill="#7c7c7c" fill-opacity="0.62"/>
<circle cx="42.10" cy="335.40" r="2.3" fill="#7c7c7c" fill-opacity="0.62"/>
<circle cx="43.05" cy="333.15" r="2.3" fill="#7c7c7c" fill-opacity="0.62"/>
<circle cx="44.00" cy="334.05" r="2.3" fill="#7c7c7c" fill-opacity="0.62"/>
<circle cx="47.80" cy="334.95" r="2.3" fill="#7c7c7c" fill-opacity="0.62"/>
<circle cx="50.65" cy="332.70" r="2.3" fill="#7c7c7c" fill-opacity="0.62"/>
<circle cx="51.60" cy="333.60" r="2.3" fill="#7c7c7c" fill-opacity="0.62"/>
<circle cx="52.55" cy="334.50" r="2.3" fill="#7c7c7c" fill-opacity="0.62"/>
<circle cx="53.50" cy="335.40" r="2.3" fill="#7c7c7c" fill-opacity="0.62"/>
<circle cx="54.45" cy="333.15" r="2.3" fill="#7c7c7c" fill-opacity="0.62"/>
<circle cx="55.40" cy="334.05" r="2.3" fill="#7c7c7c" fill-opacity="0.62"/>
<circle cx="40.20" cy="334.95" r="2.3" fill="#7c7c7c" fill-opacity="0.62"/>
<circle cx="42.10" cy="332.70" r="2.3" fill="#7c7c7c" fill-opacity="0.62"/>
<path d="M41.15 334.05L44.95 334.05" stroke="#111" stroke-width="1.1"/>
<path d="M41.15 331.45L41.15 336.65" stroke="#111" stroke-width="1.1"/>
<path d="M44.95 331.45L44.95 336.65" stroke="#111" stroke-width="1.1"/>
<path d="M26.70 334.05L30.70 334.05" stroke="#111" stroke-width="1.4"/>
<rect x="30.70" y="344.70" width="56.05" height="9.90" fill="#d5aaad" stroke="#151515" stroke-width="1.1"/>
<circle cx="66.80" cy="348.30" r="2.3" fill="#7c7c7c" fill-opacity="0.62"/>
<circle cx="72.50" cy="349.20" r="2.3" fill="#7c7c7c" fill-opacity="0.62"/>
<circle cx="76.30" cy="350.10" r="2.3" fill="#7c7c7c" fill-opacity="0.62"/>
<circle cx="78.20" cy="351.00" r="2.3" fill="#7c7c7c" fill-opacity="0.62"/>
<circle cx="79.15" cy="348.75" r="2.3" fill="#7c7c7c" fill-opacity="0.62"/>
<circle cx="80.10" cy="349.65" r="2.3" fill="#7c7c7c" fill-opacity="0.62"/>
<circle cx="82.00" cy="350.55" r="2.3" fill="#7c7c7c" fill-opacity="0.62"/>
<circle cx="82.95" cy="348.30" r="2.3" fill="#7c7c7c" fill-opacity="0.62"/>
<circle cx="83.90" cy="349.20" r="2.3" fill="#7c7c7c" fill-opacity="0.62"/>
<circle cx="84.85" cy="350.10" r="2.3" fill="#7c7c7c" fill-opacity="0.62"/>
<circle cx="85.80" cy="351.00" r="2.3" fill="#7c7c7c" fill-opacity="0.62"/>
<circle cx="87.70" cy="348.75" r="2.3" fill="#7c7c7c" fill-opacity="0.62"/>
<circle cx="88.65" cy="349.65" r="2.3" fill="#7c7c7c" fill-opacity="0.62"/>
<circle cx="89.60" cy="350.55" r="2.3" fill="#7c7c7c" fill-opacity="0.62"/>
<circle cx="91.50" cy="348.30" r="2.3" fill="#7c7c7c" fill-opacity="0.62"/>
<circle cx="93.40" cy="349.20" r="2.3" fill="#7c7c7c" fill-opacity="0.62"/>
<circle cx="95.30" cy="350.10" r="2.3" fill="#7c7c7c" fill-opacity="0.62"/>
<circle cx="97.20" cy="351.00" r="2.3" fill="#7c7c7c" fill-opacity="0.62"/>
<circle cx="98.15" cy="348.75" r="2.3" fill="#7c7c7c" fill-opacity="0.62"/>
<circle cx="99.10" cy="349.65" r="2.3" fill="#7c7c7c" fill-opacity="0.62"/>
<circle cx="102.90" cy="350.55" r="2.3" fill="#7c7c7c" fill-opacity="0.62"/>
<circle cx="112.40" cy="348.30" r="2.3" fill="#7c7c7c" fill-opacity="0.62"/>
<circle cx="82.00" cy="349.20" r="2.3" fill="#7c7c7c" fill-opacity="0.62"/>
<circle cx="85.80" cy="350.10" r="2.3" fill="#7c7c7c" fill-opacity="0.62"/>
<circle cx="89.60" cy="351.00" r="2.3" fill="#7c7c7c" fill-opacity="0.62"/>
<path d="M84.47 349.65L89.03 349.65" stroke="#111" stroke-width="1.1"/>
<path d="M84.47 347.05L84.47 352.25" stroke="#111" stroke-width="1.1"/>
<path d="M89.03 347.05L89.03 352.25" stroke="#111" stroke-width="1.1"/>
<path d="M26.70 349.65L30.70 349.65" stroke="#111" stroke-width="1.4"/>
<path d="M30.70 322.70L30.70 360.30" stroke="#111" stroke-width="1.4"/>
<path d="M30.00 359.70L126.40 359.70" stroke="#111" stroke-width="1.4"/>
<path d="M30.70 359.70L30.70 363.30" stroke="#111" stroke-width="1.2"/>
<text x="30.70" y="372.82" font-size="8.5" text-anchor="middle" font-weight="normal" fill="#222" stroke="#222" stroke-width="0.22" transform="translate(30.70 0) scale(0.93 1) translate(-30.70 0)">0</text>
<path d="M49.70 359.70L49.70 363.30" stroke="#111" stroke-width="1.2"/>
<text x="49.70" y="372.82" font-size="8.5" text-anchor="middle" font-weight="normal" fill="#222" stroke="#222" stroke-width="0.22" transform="translate(49.70 0) scale(0.93 1) translate(-49.70 0)">10</text>
<path d="M68.70 359.70L68.70 363.30" stroke="#111" stroke-width="1.2"/>
<text x="68.70" y="372.82" font-size="8.5" text-anchor="middle" font-weight="normal" fill="#222" stroke="#222" stroke-width="0.22" transform="translate(68.70 0) scale(0.93 1) translate(-68.70 0)">20</text>
<path d="M87.70 359.70L87.70 363.30" stroke="#111" stroke-width="1.2"/>
<text x="87.70" y="372.82" font-size="8.5" text-anchor="middle" font-weight="normal" fill="#222" stroke="#222" stroke-width="0.22" transform="translate(87.70 0) scale(0.93 1) translate(-87.70 0)">30</text>
<path d="M106.70 359.70L106.70 363.30" stroke="#111" stroke-width="1.2"/>
<text x="106.70" y="372.82" font-size="8.5" text-anchor="middle" font-weight="normal" fill="#222" stroke="#222" stroke-width="0.22" transform="translate(106.70 0) scale(0.93 1) translate(-106.70 0)">40</text>
<path d="M125.70 359.70L125.70 363.30" stroke="#111" stroke-width="1.2"/>
<text x="125.70" y="372.82" font-size="8.5" text-anchor="middle" font-weight="normal" fill="#222" stroke="#222" stroke-width="0.22" transform="translate(125.70 0) scale(0.93 1) translate(-125.70 0)">50</text>
<path d="M123.60 332.20L123.60 347.80" stroke="#111" stroke-width="1.1"/>
<text x="127.40" y="344.44" font-size="12.5" text-anchor="middle" font-weight="normal" fill="#111" stroke="#111" stroke-width="0.22" transform="rotate(90 127.40 340.00)">***</text>
<text x="75.60" y="384.85" font-size="11.4" text-anchor="middle" font-weight="normal" fill="#222" stroke="#222" stroke-width="0.22">MFI <tspan font-size="8.6">(x10</tspan><tspan font-size="5.4" dy="-3.2">3</tspan><tspan font-size="8.6" dy="3.2">)</tspan></text>
<rect x="151.20" y="328.90" width="52.09" height="10.30" fill="#86aad8" stroke="#151515" stroke-width="1.1"/>
<circle cx="172.51" cy="332.70" r="2.3" fill="#7c7c7c" fill-opacity="0.62"/>
<circle cx="179.61" cy="333.60" r="2.3" fill="#7c7c7c" fill-opacity="0.62"/>
<circle cx="181.98" cy="334.50" r="2.3" fill="#7c7c7c" fill-opacity="0.62"/>
<circle cx="183.16" cy="335.40" r="2.3" fill="#7c7c7c" fill-opacity="0.62"/>
<circle cx="184.34" cy="333.15" r="2.3" fill="#7c7c7c" fill-opacity="0.62"/>
<circle cx="186.71" cy="334.05" r="2.3" fill="#7c7c7c" fill-opacity="0.62"/>
<circle cx="193.81" cy="334.95" r="2.3" fill="#7c7c7c" fill-opacity="0.62"/>
<circle cx="196.18" cy="332.70" r="2.3" fill="#7c7c7c" fill-opacity="0.62"/>
<circle cx="197.37" cy="333.60" r="2.3" fill="#7c7c7c" fill-opacity="0.62"/>
<circle cx="198.55" cy="334.50" r="2.3" fill="#7c7c7c" fill-opacity="0.62"/>
<circle cx="199.73" cy="335.40" r="2.3" fill="#7c7c7c" fill-opacity="0.62"/>
<circle cx="200.92" cy="333.15" r="2.3" fill="#7c7c7c" fill-opacity="0.62"/>
<circle cx="203.28" cy="334.05" r="2.3" fill="#7c7c7c" fill-opacity="0.62"/>
<circle cx="205.65" cy="334.95" r="2.3" fill="#7c7c7c" fill-opacity="0.62"/>
<circle cx="208.02" cy="332.70" r="2.3" fill="#7c7c7c" fill-opacity="0.62"/>
<circle cx="210.39" cy="333.60" r="2.3" fill="#7c7c7c" fill-opacity="0.62"/>
<circle cx="215.12" cy="334.50" r="2.3" fill="#7c7c7c" fill-opacity="0.62"/>
<circle cx="217.49" cy="335.40" r="2.3" fill="#7c7c7c" fill-opacity="0.62"/>
<circle cx="226.96" cy="333.15" r="2.3" fill="#7c7c7c" fill-opacity="0.62"/>
<circle cx="229.33" cy="334.05" r="2.3" fill="#7c7c7c" fill-opacity="0.62"/>
<circle cx="230.51" cy="334.95" r="2.3" fill="#7c7c7c" fill-opacity="0.62"/>
<circle cx="231.69" cy="332.70" r="2.3" fill="#7c7c7c" fill-opacity="0.62"/>
<path d="M199.73 334.05L206.84 334.05" stroke="#111" stroke-width="1.1"/>
<path d="M199.73 331.45L199.73 336.65" stroke="#111" stroke-width="1.1"/>
<path d="M206.84 331.45L206.84 336.65" stroke="#111" stroke-width="1.1"/>
<path d="M147.20 334.05L151.20 334.05" stroke="#111" stroke-width="1.4"/>
<rect x="151.20" y="344.70" width="21.31" height="9.90" fill="#d5aaad" stroke="#151515" stroke-width="1.1"/>
<circle cx="165.41" cy="348.30" r="2.3" fill="#7c7c7c" fill-opacity="0.62"/>
<circle cx="166.59" cy="349.20" r="2.3" fill="#7c7c7c" fill-opacity="0.62"/>
<circle cx="167.77" cy="350.10" r="2.3" fill="#7c7c7c" fill-opacity="0.62"/>
<circle cx="168.96" cy="351.00" r="2.3" fill="#7c7c7c" fill-opacity="0.62"/>
<circle cx="170.14" cy="348.75" r="2.3" fill="#7c7c7c" fill-opacity="0.62"/>
<circle cx="171.32" cy="349.65" r="2.3" fill="#7c7c7c" fill-opacity="0.62"/>
<circle cx="172.51" cy="350.55" r="2.3" fill="#7c7c7c" fill-opacity="0.62"/>
<circle cx="173.69" cy="348.30" r="2.3" fill="#7c7c7c" fill-opacity="0.62"/>
<circle cx="174.88" cy="349.20" r="2.3" fill="#7c7c7c" fill-opacity="0.62"/>
<circle cx="176.06" cy="350.10" r="2.3" fill="#7c7c7c" fill-opacity="0.62"/>
<circle cx="177.24" cy="351.00" r="2.3" fill="#7c7c7c" fill-opacity="0.62"/>
<circle cx="179.61" cy="348.75" r="2.3" fill="#7c7c7c" fill-opacity="0.62"/>
<circle cx="187.90" cy="349.65" r="2.3" fill="#7c7c7c" fill-opacity="0.62"/>
<circle cx="167.77" cy="350.55" r="2.3" fill="#7c7c7c" fill-opacity="0.62"/>
<circle cx="170.14" cy="348.30" r="2.3" fill="#7c7c7c" fill-opacity="0.62"/>
<circle cx="172.51" cy="349.20" r="2.3" fill="#7c7c7c" fill-opacity="0.62"/>
<path d="M170.14 349.65L174.88 349.65" stroke="#111" stroke-width="1.1"/>
<path d="M170.14 347.05L170.14 352.25" stroke="#111" stroke-width="1.1"/>
<path d="M174.88 347.05L174.88 352.25" stroke="#111" stroke-width="1.1"/>
<path d="M147.20 349.65L151.20 349.65" stroke="#111" stroke-width="1.4"/>
<path d="M151.20 322.70L151.20 360.30" stroke="#111" stroke-width="1.4"/>
<path d="M150.50 359.70L246.60 359.70" stroke="#111" stroke-width="1.4"/>
<path d="M151.20 359.70L151.20 363.30" stroke="#111" stroke-width="1.2"/>
<text x="151.20" y="372.82" font-size="8.5" text-anchor="middle" font-weight="normal" fill="#222" stroke="#222" stroke-width="0.22" transform="translate(151.20 0) scale(0.93 1) translate(-151.20 0)">0</text>
<path d="M174.88 359.70L174.88 363.30" stroke="#111" stroke-width="1.2"/>
<text x="174.88" y="372.82" font-size="8.5" text-anchor="middle" font-weight="normal" fill="#222" stroke="#222" stroke-width="0.22" transform="translate(174.88 0) scale(0.93 1) translate(-174.88 0)">10</text>
<path d="M198.55 359.70L198.55 363.30" stroke="#111" stroke-width="1.2"/>
<text x="198.55" y="372.82" font-size="8.5" text-anchor="middle" font-weight="normal" fill="#222" stroke="#222" stroke-width="0.22" transform="translate(198.55 0) scale(0.93 1) translate(-198.55 0)">20</text>
<path d="M222.23 359.70L222.23 363.30" stroke="#111" stroke-width="1.2"/>
<text x="222.23" y="372.82" font-size="8.5" text-anchor="middle" font-weight="normal" fill="#222" stroke="#222" stroke-width="0.22" transform="translate(222.23 0) scale(0.93 1) translate(-222.23 0)">30</text>
<path d="M245.90 359.70L245.90 363.30" stroke="#111" stroke-width="1.2"/>
<text x="245.90" y="372.82" font-size="8.5" text-anchor="middle" font-weight="normal" fill="#222" stroke="#222" stroke-width="0.22" transform="translate(245.90 0) scale(0.93 1) translate(-245.90 0)">40</text>
<path d="M243.20 332.20L243.20 347.80" stroke="#111" stroke-width="1.1"/>
<text x="246.70" y="344.44" font-size="12.5" text-anchor="middle" font-weight="normal" fill="#111" stroke="#111" stroke-width="0.22" transform="rotate(90 246.70 340.00)">***</text>
<text x="196.20" y="384.85" font-size="11.4" text-anchor="middle" font-weight="normal" fill="#222" stroke="#222" stroke-width="0.22">MFI <tspan font-size="8.6">(x10</tspan><tspan font-size="5.4" dy="-3.2">3</tspan><tspan font-size="8.6" dy="3.2">)</tspan></text>
<rect x="272.70" y="328.90" width="44.65" height="10.30" fill="#86aad8" stroke="#151515" stroke-width="1.1"/>
<circle cx="284.57" cy="332.70" r="2.3" fill="#7c7c7c" fill-opacity="0.62"/>
<circle cx="286.95" cy="333.60" r="2.3" fill="#7c7c7c" fill-opacity="0.62"/>
<circle cx="289.32" cy="334.50" r="2.3" fill="#7c7c7c" fill-opacity="0.62"/>
<circle cx="298.82" cy="335.40" r="2.3" fill="#7c7c7c" fill-opacity="0.62"/>
<circle cx="301.20" cy="333.15" r="2.3" fill="#7c7c7c" fill-opacity="0.62"/>
<circle cx="303.57" cy="334.05" r="2.3" fill="#7c7c7c" fill-opacity="0.62"/>
<circle cx="305.95" cy="334.95" r="2.3" fill="#7c7c7c" fill-opacity="0.62"/>
<circle cx="308.32" cy="332.70" r="2.3" fill="#7c7c7c" fill-opacity="0.62"/>
<circle cx="320.20" cy="333.60" r="2.3" fill="#7c7c7c" fill-opacity="0.62"/>
<circle cx="322.57" cy="334.50" r="2.3" fill="#7c7c7c" fill-opacity="0.62"/>
<circle cx="324.95" cy="335.40" r="2.3" fill="#7c7c7c" fill-opacity="0.62"/>
<circle cx="327.32" cy="333.15" r="2.3" fill="#7c7c7c" fill-opacity="0.62"/>
<circle cx="329.70" cy="334.05" r="2.3" fill="#7c7c7c" fill-opacity="0.62"/>
<circle cx="332.07" cy="334.95" r="2.3" fill="#7c7c7c" fill-opacity="0.62"/>
<circle cx="334.45" cy="332.70" r="2.3" fill="#7c7c7c" fill-opacity="0.62"/>
<circle cx="336.82" cy="333.60" r="2.3" fill="#7c7c7c" fill-opacity="0.62"/>
<circle cx="339.20" cy="334.50" r="2.3" fill="#7c7c7c" fill-opacity="0.62"/>
<circle cx="341.57" cy="335.40" r="2.3" fill="#7c7c7c" fill-opacity="0.62"/>
<circle cx="343.95" cy="333.15" r="2.3" fill="#7c7c7c" fill-opacity="0.62"/>
<circle cx="348.70" cy="334.05" r="2.3" fill="#7c7c7c" fill-opacity="0.62"/>
<path d="M313.55 334.05L321.15 334.05" stroke="#111" stroke-width="1.1"/>
<path d="M313.55 331.45L313.55 336.65" stroke="#111" stroke-width="1.1"/>
<path d="M321.15 331.45L321.15 336.65" stroke="#111" stroke-width="1.1"/>
<path d="M268.70 334.05L272.70 334.05" stroke="#111" stroke-width="1.4"/>
<rect x="272.70" y="344.70" width="9.50" height="9.90" fill="#d5aaad" stroke="#151515" stroke-width="1.1"/>
<circle cx="277.45" cy="348.30" r="2.3" fill="#7c7c7c" fill-opacity="0.62"/>
<circle cx="278.88" cy="349.20" r="2.3" fill="#7c7c7c" fill-opacity="0.62"/>
<circle cx="280.30" cy="350.10" r="2.3" fill="#7c7c7c" fill-opacity="0.62"/>
<circle cx="281.25" cy="351.00" r="2.3" fill="#7c7c7c" fill-opacity="0.62"/>
<circle cx="282.20" cy="348.75" r="2.3" fill="#7c7c7c" fill-opacity="0.62"/>
<circle cx="283.15" cy="349.65" r="2.3" fill="#7c7c7c" fill-opacity="0.62"/>
<circle cx="284.10" cy="350.55" r="2.3" fill="#7c7c7c" fill-opacity="0.62"/>
<circle cx="285.05" cy="348.30" r="2.3" fill="#7c7c7c" fill-opacity="0.62"/>
<circle cx="286.95" cy="349.20" r="2.3" fill="#7c7c7c" fill-opacity="0.62"/>
<circle cx="291.70" cy="350.10" r="2.3" fill="#7c7c7c" fill-opacity="0.62"/>
<circle cx="279.82" cy="351.00" r="2.3" fill="#7c7c7c" fill-opacity="0.62"/>
<circle cx="282.68" cy="348.75" r="2.3" fill="#7c7c7c" fill-opacity="0.62"/>
<path d="M280.77 349.65L283.62 349.65" stroke="#111" stroke-width="1.1"/>
<path d="M280.77 347.05L280.77 352.25" stroke="#111" stroke-width="1.1"/>
<path d="M283.62 347.05L283.62 352.25" stroke="#111" stroke-width="1.1"/>
<path d="M268.70 349.65L272.70 349.65" stroke="#111" stroke-width="1.4"/>
<path d="M272.70 322.70L272.70 360.30" stroke="#111" stroke-width="1.4"/>
<path d="M272.00 359.70L368.40 359.70" stroke="#111" stroke-width="1.4"/>
<path d="M272.70 359.70L272.70 363.30" stroke="#111" stroke-width="1.2"/>
<text x="272.70" y="372.82" font-size="8.5" text-anchor="middle" font-weight="normal" fill="#222" stroke="#222" stroke-width="0.22" transform="translate(272.70 0) scale(0.93 1) translate(-272.70 0)">0</text>
<path d="M296.45 359.70L296.45 363.30" stroke="#111" stroke-width="1.2"/>
<text x="296.45" y="372.82" font-size="8.5" text-anchor="middle" font-weight="normal" fill="#222" stroke="#222" stroke-width="0.22" transform="translate(296.45 0) scale(0.93 1) translate(-296.45 0)">5</text>
<path d="M320.20 359.70L320.20 363.30" stroke="#111" stroke-width="1.2"/>
<text x="320.20" y="372.82" font-size="8.5" text-anchor="middle" font-weight="normal" fill="#222" stroke="#222" stroke-width="0.22" transform="translate(320.20 0) scale(0.93 1) translate(-320.20 0)">10</text>
<path d="M343.95 359.70L343.95 363.30" stroke="#111" stroke-width="1.2"/>
<text x="343.95" y="372.82" font-size="8.5" text-anchor="middle" font-weight="normal" fill="#222" stroke="#222" stroke-width="0.22" transform="translate(343.95 0) scale(0.93 1) translate(-343.95 0)">15</text>
<path d="M367.70 359.70L367.70 363.30" stroke="#111" stroke-width="1.2"/>
<text x="367.70" y="372.82" font-size="8.5" text-anchor="middle" font-weight="normal" fill="#222" stroke="#222" stroke-width="0.22" transform="translate(367.70 0) scale(0.93 1) translate(-367.70 0)">20</text>
<path d="M367.30 332.20L367.30 347.80" stroke="#111" stroke-width="1.1"/>
<text x="370.10" y="344.44" font-size="12.5" text-anchor="middle" font-weight="normal" fill="#111" stroke="#111" stroke-width="0.22" transform="rotate(90 370.10 340.00)">***</text>
<text x="320.60" y="384.85" font-size="11.4" text-anchor="middle" font-weight="normal" fill="#222" stroke="#222" stroke-width="0.22">MFI <tspan font-size="8.6">(x10</tspan><tspan font-size="5.4" dy="-3.2">3</tspan><tspan font-size="8.6" dy="3.2">)</tspan></text>
<rect x="395.70" y="328.90" width="46.38" height="10.30" fill="#86aad8" stroke="#151515" stroke-width="1.1"/>
<circle cx="411.58" cy="332.70" r="2.3" fill="#7c7c7c" fill-opacity="0.62"/>
<circle cx="413.17" cy="333.60" r="2.3" fill="#7c7c7c" fill-opacity="0.62"/>
<circle cx="414.76" cy="334.50" r="2.3" fill="#7c7c7c" fill-opacity="0.62"/>
<circle cx="424.29" cy="335.40" r="2.3" fill="#7c7c7c" fill-opacity="0.62"/>
<circle cx="427.47" cy="333.15" r="2.3" fill="#7c7c7c" fill-opacity="0.62"/>
<circle cx="429.06" cy="334.05" r="2.3" fill="#7c7c7c" fill-opacity="0.62"/>
<circle cx="430.64" cy="334.95" r="2.3" fill="#7c7c7c" fill-opacity="0.62"/>
<circle cx="433.82" cy="332.70" r="2.3" fill="#7c7c7c" fill-opacity="0.62"/>
<circle cx="437.00" cy="333.60" r="2.3" fill="#7c7c7c" fill-opacity="0.62"/>
<circle cx="440.17" cy="334.50" r="2.3" fill="#7c7c7c" fill-opacity="0.62"/>
<circle cx="443.35" cy="335.40" r="2.3" fill="#7c7c7c" fill-opacity="0.62"/>
<circle cx="446.53" cy="333.15" r="2.3" fill="#7c7c7c" fill-opacity="0.62"/>
<circle cx="449.70" cy="334.05" r="2.3" fill="#7c7c7c" fill-opacity="0.62"/>
<circle cx="452.88" cy="334.95" r="2.3" fill="#7c7c7c" fill-opacity="0.62"/>
<circle cx="456.06" cy="332.70" r="2.3" fill="#7c7c7c" fill-opacity="0.62"/>
<circle cx="465.59" cy="333.60" r="2.3" fill="#7c7c7c" fill-opacity="0.62"/>
<circle cx="468.76" cy="334.50" r="2.3" fill="#7c7c7c" fill-opacity="0.62"/>
<circle cx="471.94" cy="335.40" r="2.3" fill="#7c7c7c" fill-opacity="0.62"/>
<circle cx="483.06" cy="333.15" r="2.3" fill="#7c7c7c" fill-opacity="0.62"/>
<path d="M438.27 334.05L445.89 334.05" stroke="#111" stroke-width="1.1"/>
<path d="M438.27 331.45L438.27 336.65" stroke="#111" stroke-width="1.1"/>
<path d="M445.89 331.45L445.89 336.65" stroke="#111" stroke-width="1.1"/>
<path d="M391.70 334.05L395.70 334.05" stroke="#111" stroke-width="1.4"/>
<rect x="395.70" y="344.70" width="25.10" height="9.90" fill="#d5aaad" stroke="#151515" stroke-width="1.1"/>
<circle cx="405.23" cy="348.30" r="2.3" fill="#7c7c7c" fill-opacity="0.62"/>
<circle cx="408.41" cy="349.20" r="2.3" fill="#7c7c7c" fill-opacity="0.62"/>
<circle cx="411.58" cy="350.10" r="2.3" fill="#7c7c7c" fill-opacity="0.62"/>
<circle cx="413.17" cy="351.00" r="2.3" fill="#7c7c7c" fill-opacity="0.62"/>
<circle cx="414.76" cy="348.75" r="2.3" fill="#7c7c7c" fill-opacity="0.62"/>
<circle cx="416.35" cy="349.65" r="2.3" fill="#7c7c7c" fill-opacity="0.62"/>
<circle cx="417.94" cy="350.55" r="2.3" fill="#7c7c7c" fill-opacity="0.62"/>
<circle cx="419.52" cy="348.30" r="2.3" fill="#7c7c7c" fill-opacity="0.62"/>
<circle cx="421.11" cy="349.20" r="2.3" fill="#7c7c7c" fill-opacity="0.62"/>
<circle cx="422.70" cy="350.10" r="2.3" fill="#7c7c7c" fill-opacity="0.62"/>
<circle cx="424.29" cy="351.00" r="2.3" fill="#7c7c7c" fill-opacity="0.62"/>
<circle cx="425.88" cy="348.75" r="2.3" fill="#7c7c7c" fill-opacity="0.62"/>
<circle cx="427.47" cy="349.65" r="2.3" fill="#7c7c7c" fill-opacity="0.62"/>
<circle cx="430.64" cy="350.55" r="2.3" fill="#7c7c7c" fill-opacity="0.62"/>
<circle cx="437.00" cy="348.30" r="2.3" fill="#7c7c7c" fill-opacity="0.62"/>
<circle cx="438.58" cy="349.20" r="2.3" fill="#7c7c7c" fill-opacity="0.62"/>
<circle cx="443.35" cy="350.10" r="2.3" fill="#7c7c7c" fill-opacity="0.62"/>
<path d="M418.25 349.65L423.34 349.65" stroke="#111" stroke-width="1.1"/>
<path d="M418.25 347.05L418.25 352.25" stroke="#111" stroke-width="1.1"/>
<path d="M423.34 347.05L423.34 352.25" stroke="#111" stroke-width="1.1"/>
<path d="M391.70 349.65L395.70 349.65" stroke="#111" stroke-width="1.4"/>
<path d="M395.70 322.70L395.70 360.30" stroke="#111" stroke-width="1.4"/>
<path d="M395.00 359.70L491.70 359.70" stroke="#111" stroke-width="1.4"/>
<path d="M395.70 359.70L395.70 363.30" stroke="#111" stroke-width="1.2"/>
<text x="395.70" y="372.82" font-size="8.5" text-anchor="middle" font-weight="normal" fill="#222" stroke="#222" stroke-width="0.22" transform="translate(395.70 0) scale(0.93 1) translate(-395.70 0)">0</text>
<path d="M427.47 359.70L427.47 363.30" stroke="#111" stroke-width="1.2"/>
<text x="427.47" y="372.82" font-size="8.5" text-anchor="middle" font-weight="normal" fill="#222" stroke="#222" stroke-width="0.22" transform="translate(427.47 0) scale(0.93 1) translate(-427.47 0)">10</text>
<path d="M459.23 359.70L459.23 363.30" stroke="#111" stroke-width="1.2"/>
<text x="459.23" y="372.82" font-size="8.5" text-anchor="middle" font-weight="normal" fill="#222" stroke="#222" stroke-width="0.22" transform="translate(459.23 0) scale(0.93 1) translate(-459.23 0)">20</text>
<path d="M491.00 359.70L491.00 363.30" stroke="#111" stroke-width="1.2"/>
<text x="491.00" y="372.82" font-size="8.5" text-anchor="middle" font-weight="normal" fill="#222" stroke="#222" stroke-width="0.22" transform="translate(491.00 0) scale(0.93 1) translate(-491.00 0)">30</text>
<path d="M490.40 332.20L490.40 347.80" stroke="#111" stroke-width="1.1"/>
<text x="493.70" y="344.44" font-size="12.5" text-anchor="middle" font-weight="normal" fill="#111" stroke="#111" stroke-width="0.22" transform="rotate(90 493.70 340.00)">***</text>
<text x="450.90" y="384.85" font-size="11.4" text-anchor="middle" font-weight="normal" fill="#222" stroke="#222" stroke-width="0.22">MFI <tspan font-size="8.6">(x10</tspan><tspan font-size="5.4" dy="-3.2">3</tspan><tspan font-size="8.6" dy="3.2">)</tspan></text>
<text x="25.80" y="337.61" font-size="11.3" text-anchor="end" font-weight="normal" fill="#1a1a1a" stroke="#1a1a1a" stroke-width="0.22">LDN</text>
<text x="25.80" y="353.01" font-size="11.3" text-anchor="end" font-weight="normal" fill="#1a1a1a" stroke="#1a1a1a" stroke-width="0.22">HDN</text>
<text x="3.20" y="411.87" font-size="14" text-anchor="start" font-weight="bold" fill="#111">C</text>
<text x="185.80" y="418.30" font-size="11" text-anchor="middle" font-weight="normal" fill="#1a1a1a" stroke="#1a1a1a" stroke-width="0.22">LDN</text>
<text x="288.50" y="418.30" font-size="11" text-anchor="middle" font-weight="normal" fill="#1a1a1a" stroke="#1a1a1a" stroke-width="0.22">HDN</text>
<path transform="scale(.1)" d="M2090 4409h0m-181 24h0m26 1h0m168 14h0m-316 52h0m31-27h0m17-2h0m1 20h0m79 3h0m-118 32h0m31-7h0m1 11h0m7-23h0m5 21h0m2-20h0m1 14h0m0-8h0m16 12h0m0-14h0m16 16h0m6-22h0m1 12h0m2 11h0m4-5h0m10 5h0m9-4h0m10-1h0m13 4h0m2-20h0m63-3h0m-247 46h0m44-8h0m8 5h0m0 5h0m5 3h0m3-15h0m4 18h0m6 0h0m1-4h0m4-12h0m2 16h0m0-20h0m1 19h0m2-20h0m0-6h0m1 26h0m6 0h0m4-6h0m1-13h0m3 0h0m1 7h0m1 6h0m1 3h0m6-5h0m0-4h0m1-4h0m9 17h0m3 0h0m2-18h0m5 15h0m0-2h0m1 3h0m1-6h0m0-11h0m0 11h0m1-11h0m2 6h0m2 9h0m5-23h0m1 8h0m0 10h0m3-8h0m3 13h0m2-18h0m0 15h0m0-3h0m1-10h0m5 13h0m1-5h0m2 4h0m1-15h0m1 10h0m2-7h0m3 11h0m11-14h0m1-3h0m1 8h0m4-5h0m17 6h0m6 13h0m-284 8h0m29 26h0m23-28h0m18 26h0m12-3h0m6-17h0m4 13h0m6 1h0m3-9h0m15 13h0m1-7h0m8-5h0m1-1h0m1 12h0m1-13h0m3 7h0m2 12h0m0-6h0m2 5h0m0 0h0m3-12h0m2-10h0m0 13h0m0-7h0m0 12h0m2-7h0m1 3h0m0-7h0m1-5h0m0 12h0m1-19h0m0-2h0m2 3h0m0-1h0m1 12h0m2-10h0m1 17h0m0-14h0m2 22h0m0-21h0m1-2h0m1 15h0m0 4h0m2-16h0m1 18h0m1-8h0m1-17h0m1 27h0m0-25h0m1 5h0m1 20h0m1-8h0m0-19h0m3 22h0m2-7h0m0 5h0m0-6h0m1 5h0m1 7h0m0-6h0m0-19h0m3-3h0m1 15h0m0 13h0m1-23h0m1-1h0m2 7h0m0 11h0m0 2h0m1 0h0m3-13h0m1 15h0m1-18h0m0 14h0m0-7h0m1-3h0m0 14h0m0-11h0m1 13h0m0-26h0m1 9h0m1-10h0m0 6h0m1-3h0m0 5h0m2 20h0m0-22h0m0-3h0m2 5h0m0 7h0m0-8h0m1-8h0m0 19h0m1-1h0m0 10h0m0-8h0m1-10h0m0 0h0m2 2h0m1 6h0m0 12h0m1 0h0m0-7h0m0 5h0m0-1h0m1-21h0m1-6h0m1 15h0m1 8h0m1 6h0m0-6h0m1-9h0m0-12h0m1 22h0m0-3h0m0-9h0m1-12h0m0 25h0m0-16h0m2 1h0m0 2h0m2 10h0m1 4h0m0 2h0m0-16h0m1-3h0m0 14h0m2-18h0m1 1h0m1 21h0m4-17h0m2 3h0m0 3h0m2 11h0m0-18h0m3 16h0m4 3h0m1-6h0m0-6h0m2-2h0m1-4h0m5 15h0m1-10h0m1 10h0m3-6h0m36-14h0m2-1h0m-257 50h0m35 2h0m4-7h0m1-4h0m4 3h0m10-12h0m1 19h0m0 5h0m3-28h0m5 7h0m1 18h0m3-5h0m2 5h0m0-22h0m0 9h0m1 11h0m1-9h0m0 9h0m1-21h0m0 22h0m0-1h0m2-10h0m3-9h0m1 19h0m1 2h0m1-7h0m0 7h0m1-20h0m2-5h0m1 19h0m2-9h0m0 5h0m1-6h0m0 0h0m2 16h0m1-12h0m1-12h0m0 4h0m1 0h0m1 20h0m0-22h0m0 20h0m1 2h0m0-17h0m1-2h0m3 14h0m0 4h0m0-20h0m2 11h0m1-4h0m1 8h0m0-3h0m1-8h0m0 17h0m1-5h0m1-3h0m1-4h0m0 13h0m1-6h0m0-5h0m0 1h0m1-15h0m1 1h0m1 15h0m0 6h0m1-23h0m0 27h0m1-2h0m1-15h0m1 8h0m0 8h0m0-12h0m1-8h0m0-4h0m0 11h0m1 11h0m0-5h0m0-7h0m1-12h0m2 11h0m2 9h0m1-8h0m0 7h0m0-12h0m1-6h0m1 2h0m0-2h0m0 1h0m0 19h0m0 5h0m1-6h0m0-1h0m0-15h0m1 9h0m0 2h0m0 12h0m0-6h0m1 0h0m0-18h0m0 19h0m0 6h0m1-10h0m1 0h0m1-7h0m1 11h0m0-5h0m1 0h0m1-1h0m0-9h0m0-3h0m1 18h0m0 2h0m0-7h0m0 7h0m1-6h0m1-16h0m0 12h0m0-10h0m1 24h0m1-18h0m0-4h0m0 21h0m0-9h0m0 9h0m1-18h0m1 4h0m0 8h0m0 2h0m0-1h0m1-4h0m0 3h0m1 2h0m0-22h0m0 22h0m1 4h0m1-24h0m0 18h0m0-3h0m1-3h0m0-6h0m1 1h0m0 13h0m0-9h0m0 1h0m0 5h0m1-20h0m0 12h0m0 7h0m0-7h0m0-11h0m1 4h0m0 21h0m1-7h0m0-3h0m0 1h0m1-9h0m0 3h0m1 12h0m0-1h0m1-17h0m0 20h0m1-9h0m0-16h0m0 9h0m0 16h0m3-5h0m1-21h0m1 6h0m0 12h0m0-8h0m0 5h0m1 3h0m0-12h0m0 21h0m0-3h0m1-13h0m0 8h0m0-2h0m0-17h0m1 21h0m1-4h0m1-6h0m0 2h0m0 15h0m0-12h0m1-4h0m0-1h0m0-8h0m0 4h0m0 19h0m1-1h0m1-6h0m0-11h0m0 14h0m0-2h0m1 7h0m0-6h0m0-6h0m0 8h0m1-8h0m0 10h0m1-11h0m1-15h0m0 9h0m1 20h0m0-14h0m0-6h0m1 5h0m2-2h0m0 14h0m1-23h0m1 18h0m0-19h0m0 24h0m1-18h0m2 17h0m2-22h0m0 15h0m0-18h0m1 12h0m0-1h0m1-2h0m0 13h0m0 4h0m2-24h0m3-1h0m0 14h0m1 0h0m2 12h0m3-27h0m0 25h0m1-3h0m0-16h0m2 5h0m3 6h0m0 0h0m2 6h0m1-10h0m2 8h0m3-9h0m2-4h0m4 12h0m0 8h0m0-4h0m1 0h0m3-2h0m1-7h0m4-12h0m2 24h0m3-21h0m2 19h0m0-11h0m23 2h0m-256 41h0m11-15h0m7 0h0m9-10h0m4 10h0m3 0h0m6 0h0m5 16h0m8-7h0m1 6h0m0-2h0m2-11h0m5 11h0m1-17h0m0 10h0m2 6h0m1-20h0m0 9h0m2-13h0m0 29h0m0-7h0m0-11h0m0 11h0m1-18h0m1 16h0m2-12h0m1 19h0m1-12h0m1 13h0m0 1h0m1-17h0m0 1h0m0 13h0m0-13h0m1 14h0m1 2h0m2-4h0m0-22h0m2 4h0m0 7h0m0 7h0m1-6h0m0 2h0m1 1h0m0 3h0m0 0h0m0-12h0m2 3h0m1 11h0m0-6h0m1-12h0m1 6h0m1-10h0m0 25h0m0-2h0m1-22h0m1 8h0m0 2h0m0 2h0m2-3h0m0-6h0m0 19h0m1-3h0m0-5h0m1 5h0m0-10h0m1 19h0m0-8h0m1-4h0m0 8h0m1-14h0m0 8h0m1-4h0m1-8h0m0 13h0m1-9h0m0 10h0m0 4h0m0-17h0m0-4h0m1 2h0m0-3h0m0 20h0m0-3h0m0-4h0m0 1h0m1-9h0m0 12h0m1-10h0m0 9h0m1 3h0m0-14h0m0 14h0m0 2h0m0 3h0m1-6h0m0 7h0m0-18h0m1 16h0m0 3h0m0-19h0m0 0h0m0 15h0m0-6h0m0-1h0m0 4h0m0-20h0m1 23h0m0 1h0m1 2h0m0-11h0m0 9h0m0 0h0m1-22h0m0 19h0m1-9h0m0-11h0m0 4h0m0 1h0m0 10h0m1-11h0m0 0h0m1 15h0m0 7h0m0-3h0m0-1h0m0-26h0m1 11h0m1-5h0m0 15h0m0-13h0m0 20h0m1-6h0m0-13h0m2-4h0m0 1h0m1 6h0m0-4h0m0 11h0m0 3h0m0 1h0m1 2h0m0 2h0m0-10h0m1 6h0m0-17h0m0-3h0m0 2h0m1 21h0m1-25h0m0 5h0m0-5h0m0 11h0m1-6h0m0 7h0m0-11h0m0 27h0m1-17h0m0 15h0m1-10h0m0-7h0m0 19h0m1-1h0m0-13h0m0-12h0m1 20h0m0 7h0m0-8h0m0-4h0m1-16h0m0 2h0m0-2h0m0-1h0m1 12h0m0-13h0m0 19h0m0 8h0m1-27h0m0 28h0m0-1h0m0-15h0m0 0h0m1-9h0m0 0h0m0 12h0m1-13h0m0 2h0m0 17h0m0-14h0m1 9h0m0 8h0m0-7h0m0 2h0m0-12h0m1-1h0m0 3h0m0 11h0m0-9h0m1-3h0m0 13h0m0-6h0m0 14h0m1-23h0m0 11h0m0-12h0m0 10h0m1-2h0m0 4h0m0 8h0m0-10h0m1-14h0m0 17h0m0-15h0m0 3h0m0 11h0m1-9h0m0 11h0m0 3h0m1-18h0m0 17h0m0 3h0m0-23h0m0 3h0m0 15h0m1 4h0m0-23h0m0 8h0m0 1h0m0 13h0m1-5h0m0 5h0m0-19h0m0-2h0m0 1h0m1 27h0m0-21h0m0 20h0m1-15h0m0-8h0m0 10h0m0-9h0m1 1h0m0 6h0m0 1h0m0-14h0m0 16h0m1 12h0m0-15h0m2 7h0m0-11h0m0 10h0m0 1h0m0-11h0m0 12h0m0-15h0m1 21h0m0-18h0m1-7h0m0 17h0m0-10h0m1 4h0m0 8h0m0 6h0m0 0h0m0-24h0m1 22h0m0-24h0m0 16h0m0 4h0m0-18h0m1 18h0m0 8h0m0 0h0m2-19h0m1-6h0m0 26h0m0-17h0m0-10h0m0 0h0m0 13h0m1 12h0m0-17h0m0 19h0m0-29h0m1 19h0m0 8h0m0-17h0m0-3h0m1 21h0m0-7h0m1-15h0m0 0h0m1 22h0m0-21h0m1 22h0m0-15h0m1 6h0m0-14h0m0 4h0m0-1h0m0 8h0m0 6h0m0-10h0m1 14h0m1-7h0m0 4h0m0-14h0m0-5h0m0 12h0m1-16h0m0 15h0m0-3h0m0-1h0m0 6h0m0 11h0m2-12h0m1-7h0m1 6h0m0 10h0m0-21h0m0 0h0m0 18h0m1-3h0m0 3h0m1-19h0m0 14h0m1-6h0m1 4h0m0-9h0m0 13h0m1 8h0m0 1h0m1-7h0m2-4h0m0-6h0m1 7h0m1 3h0m1-18h0m0 18h0m2-11h0m3-2h0m1-4h0m0 8h0m1-4h0m1 8h0m0 4h0m1-7h0m0-14h0m0 29h0m1-25h0m1 17h0m4-1h0m1 6h0m0-10h0m2 7h0m0-20h0m1 20h0m0-18h0m1 5h0m2 7h0m3 1h0m1-5h0m3-8h0m1 0h0m4-1h0m2 20h0m2 1h0m11-4h0m13-17h0m32 5h0m3 2h0m175 10h0m-466 17h0m28-3h0m0 4h0m5 14h0m5-1h0m4-18h0m1 12h0m1-17h0m5 12h0m6 15h0m0-4h0m1 5h0m4-20h0m1 9h0m1 2h0m0-2h0m1 4h0m0-10h0m0-8h0m0-2h0m2 7h0m1 11h0m2-2h0m4 0h0m1 11h0m0-22h0m2 8h0m0-2h0m1 4h0m0-13h0m1 15h0m0-4h0m1 10h0m0-11h0m1-3h0m1 12h0m0 7h0m0-6h0m1 3h0m1 2h0m0-1h0m2-23h0m0-4h0m2 28h0m0-9h0m0-1h0m0-18h0m2 0h0m0 19h0m1-15h0m1 19h0m0-7h0m2 4h0m1-6h0m0 12h0m0-13h0m1-6h0m0 20h0m0-17h0m1 3h0m0-12h0m0 22h0m1-14h0m0 6h0m1-4h0m0 13h0m0 1h0m0-14h0m0 7h0m1 0h0m1-11h0m0 17h0m0 3h0m1-4h0m2-10h0m1 10h0m0-14h0m1 17h0m0-13h0m0-8h0m0-3h0m0-1h0m1 12h0m0-11h0m0 6h0m0 21h0m1-21h0m1 12h0m1 4h0m1-23h0m0 20h0m0 2h0m2-9h0m0-10h0m0 16h0m0-8h0m0 10h0m0 8h0m0-10h0m1-4h0m1-5h0m0 3h0m1 0h0m0 5h0m0 7h0m0-7h0m1-12h0m0 19h0m0-18h0m1 20h0m0-6h0m0-18h0m0 11h0m1 7h0m0 7h0m0-11h0m0-7h0m1-4h0m0 9h0m0 2h0m0-12h0m1 11h0m0 7h0m0-5h0m1-13h0m1 8h0m0-2h0m0-6h0m0 15h0m0 1h0m1 0h0m1-8h0m0 4h0m0 5h0m1-21h0m0 18h0m1-10h0m0-7h0m0 11h0m0 11h0m0-21h0m0 13h0m1 5h0m0-19h0m1-2h0m0 26h0m0 0h0m1-16h0m0-10h0m1 22h0m0-8h0m0 5h0m0 5h0m1-1h0m0-12h0m0-4h0m0 11h0m0-9h0m0-3h0m0 13h0m0-18h0m0 1h0m1 17h0m0-18h0m0 15h0m1 12h0m1-13h0m1 12h0m0-17h0m0-6h0m0 3h0m0-5h0m1 4h0m0 1h0m0 8h0m0-10h0m0 21h0m0-22h0m1 15h0m0 8h0m0-15h0m0 2h0m1 12h0m1-18h0m1 12h0m1 0h0m0-1h0m1-13h0m0 21h0m0-2h0m0-16h0m1-3h0m1 3h0m0 1h0m0 16h0m0-6h0m0-16h0m0 14h0m1 3h0m0 4h0m1-21h0m0 14h0m0 8h0m0-19h0m2-4h0m0 1h0m1 7h0m0 0h0m0-10h0m0 21h0m1-8h0m0 11h0m1-11h0m0 6h0m0-16h0m0 5h0m0 11h0m1 7h0m0-17h0m1 17h0m1-4h0m1-11h0m0 9h0m2-1h0m0-15h0m1 4h0m0-3h0m0-5h0m0 14h0m0 7h0m1-17h0m0 13h0m1 9h0m0-1h0m0-11h0m1 10h0m0-13h0m1 8h0m0-13h0m0-4h0m1 0h0m1 2h0m0 12h0m2 5h0m0-19h0m0 17h0m0-10h0m1-1h0m0-4h0m0 8h0m1 14h0m0-13h0m1 10h0m0-6h0m1-17h0m1 13h0m0 11h0m1-8h0m0-8h0m0 4h0m1-13h0m0 11h0m1-11h0m0 5h0m1 5h0m0 10h0m0-16h0m1-4h0m0 12h0m0-6h0m1-1h0m1 4h0m1-9h0m1 11h0m0 2h0m0 7h0m1-15h0m0 19h0m0-24h0m1 11h0m1-11h0m0 11h0m1 3h0m0-11h0m1-1h0m1-2h0m1 10h0m2 3h0m0 13h0m1-13h0m3 14h0m0-25h0m8 4h0m3 15h0m1-22h0m0 4h0m2 2h0m2 0h0m1 0h0m4 18h0m0-21h0m4 1h0m2 24h0m18-10h0m7 2h0m36 1h0m43 8h0m48-25h0m-416 35h0m33 7h0m3 13h0m4-21h0m25 15h0m2 5h0m1-8h0m10-13h0m0 1h0m0 9h0m3 3h0m0-19h0m4 1h0m1 26h0m2-9h0m0 9h0m0-22h0m3 20h0m1-12h0m0 1h0m1 9h0m1-1h0m0-13h0m2 8h0m1-3h0m8-8h0m1 19h0m0-12h0m1-8h0m1 19h0m0-25h0m0 7h0m1 4h0m0 1h0m1-7h0m0 13h0m2 9h0m0-4h0m0-17h0m1 7h0m0 6h0m1-9h0m0 9h0m2-18h0m0 1h0m1-2h0m0 17h0m1 4h0m0 2h0m1-9h0m0 12h0m0-26h0m2 15h0m1-1h0m1 12h0m0-23h0m0 21h0m1-16h0m5 6h0m0-2h0m0 16h0m1-10h0m0-5h0m2 3h0m0-15h0m1 1h0m0 23h0m0-19h0m1 10h0m2-13h0m1 19h0m0-16h0m0 10h0m1 6h0m1 0h0m0-12h0m0-6h0m0 18h0m1-18h0m0 8h0m0 3h0m1 10h0m0 3h0m1-8h0m0-2h0m1-11h0m0 20h0m0-20h0m1 10h0m0 2h0m1 11h0m0-2h0m0-24h0m2 11h0m0 12h0m2-24h0m0 19h0m1-6h0m0-2h0m1 1h0m1-5h0m0-1h0m1 0h0m0 14h0m0-20h0m0 24h0m1-24h0m0-1h0m0 4h0m1-5h0m0 25h0m1-24h0m0 2h0m0 13h0m0 9h0m1-5h0m3-17h0m0 1h0m1-1h0m0 7h0m0-4h0m0-6h0m0 7h0m1-1h0m0 2h0m1-4h0m0-1h0m0 15h0m0-3h0m1 9h0m0-8h0m0-14h0m0 25h0m0-26h0m1 24h0m1-9h0m1-7h0m0-9h0m1 27h0m0-4h0m1-10h0m0-13h0m1 25h0m1-6h0m0-18h0m0 28h0m3-18h0m1 12h0m1 2h0m1-6h0m1-20h0m0 29h0m0-15h0m0 8h0m1-19h0m0-2h0m0 25h0m2-1h0m0-19h0m1 3h0m1-4h0m0-2h0m2 18h0m1-15h0m0 24h0m0-23h0m2-2h0m1 17h0m1-15h0m1-1h0m0 1h0m0 0h0m1 11h0m0-13h0m1 17h0m1-13h0m0-8h0m1 21h0m0-7h0m1 10h0m0-16h0m0 5h0m1-1h0m1-1h0m0 11h0m1 0h0m0-5h0m1 4h0m0-12h0m1 0h0m1-8h0m1 19h0m0 9h0m2-25h0m1 10h0m3-10h0m2 6h0m0-10h0m4 2h0m1 0h0m2 19h0m1-12h0m0 9h0m0 3h0m1-10h0m2 13h0m12 0h0m0 0h0m5-10h0m2 7h0m2-16h0m3 21h0m1-3h0m6 5h0m2-15h0m0-10h0m14 15h0m2 3h0m24-6h0m81 9h0m126-21h0m-479 49h0m21-17h0m21 10h0m8-1h0m5-1h0m3 3h0m1-10h0m5 20h0m1-5h0m0-12h0m3 6h0m8-9h0m2 15h0m3-6h0m1 0h0m1 2h0m2-16h0m2 28h0m1-4h0m3-24h0m3 0h0m0 2h0m3 21h0m0-23h0m1 11h0m1-8h0m3 19h0m0-9h0m1 2h0m1-10h0m1 3h0m0 2h0m0-1h0m1 8h0m0-2h0m0-7h0m1-9h0m0 16h0m1-13h0m1 5h0m1 13h0m0-12h0m1 6h0m1 3h0m0-6h0m1 3h0m0-11h0m0 10h0m1-13h0m0 24h0m1-16h0m0-1h0m0-7h0m1 17h0m0 10h0m1-25h0m1-1h0m1 24h0m2-1h0m0-6h0m1-13h0m1-4h0m1 5h0m2 19h0m0-25h0m1-1h0m0 9h0m1 2h0m0-8h0m0 12h0m2-7h0m0 19h0m2-17h0m1-8h0m0 1h0m0 4h0m1 19h0m0-16h0m2-11h0m1 7h0m1-2h0m1 1h0m0 20h0m0-24h0m0 2h0m3 12h0m1 7h0m1 6h0m0-23h0m1 16h0m0-4h0m1 1h0m4-1h0m1-18h0m1 10h0m0-8h0m1 16h0m0-1h0m1 7h0m0 2h0m3-2h0m4-7h0m0-9h0m0-1h0m1 7h0m0 15h0m3-28h0m0 11h0m1-3h0m0 6h0m0-7h0m7-1h0m3-7h0m0 7h0m1 12h0m0-3h0m0 2h0m7-18h0m0 13h0m1-2h0m4 7h0m2-17h0m2 5h0m8-1h0m1 18h0m20-7h0m4-13h0m30 20h0m17 7h0m32-23h0m18 21h0m51-14h0m51-4h0m-421 44h0m15-20h0m17 17h0m1 8h0m5-4h0m2-11h0m4-12h0m3 28h0m1-9h0m5 0h0m0 0h0m12 1h0m8 8h0m6-19h0m3 11h0m1-19h0m5 5h0m2-2h0m0 18h0m1-23h0m4 25h0m1-25h0m1 2h0m0 25h0m0-25h0m2 7h0m3 6h0m2 1h0m5-10h0m0 13h0m2-5h0m2 6h0m0-2h0m0-15h0m7 18h0m4-5h0m5 0h0m1-7h0m6-6h0m1 17h0m4-6h0m7-5h0m11-9h0m3 20h0m6-11h0m2 0h0m11 12h0m8-6h0m1-1h0m46 2h0m37 6h0m16-4h0m0-7h0m47 14h0m11-23h0m0 15h0m29-1h0m11-5h0m2-1h0m24 8h0m-423 16h0m28 5h0m16 20h0m11-20h0m1 1h0m40 13h0m2-6h0m4-9h0m12-9h0m4 5h0m7-3h0m9 23h0m12-23h0m4 27h0m4-8h0m5-3h0m6 3h0m1-5h0m31-7h0m8 18h0m6-27h0m6 7h0m33 17h0m8-2h0m10-3h0m3-4h0m23 15h0m3-3h0m20-14h0m1-7h0m2 18h0m1-10h0m10 14h0m5-3h0m1-15h0m1-1h0m1 3h0m19 9h0m6 3h0m4-18h0m4-2h0m12 19h0m1-2h0m11-14h0m3 4h0m23-5h0m22 8h0m3 6h0m-350 23h0m88 17h0m35-28h0m1 3h0m19 20h0m4-20h0m21 18h0m20-13h0m1 4h0m5 8h0m2-18h0m4-1h0m1 22h0m2 2h0m2-8h0m1 10h0m0 0h0m15-12h0m3-6h0m2 11h0m0 0h0m3-6h0m1-7h0m0 2h0m4 2h0m0 13h0m6-21h0m8 22h0m2-5h0m2-18h0m1 7h0m5-10h0m5-1h0m2 21h0m5-7h0m1 11h0m1 2h0m1-24h0m6 11h0m3 11h0m1 4h0m3-4h0m10-23h0m15 4h0m0 12h0m5-11h0m24 6h0m2 4h0m3 9h0m0-17h0m13 1h0m13 1h0m14 7h0m-384 21h0m14 8h0m3 4h0m55-9h0m25 1h0m23 16h0m10-24h0m7 17h0m3-16h0m3 3h0m10 21h0m5-18h0m3 3h0m5 14h0m12-3h0m1-24h0m2 24h0m16-10h0m0 4h0m7 0h0m0 1h0m4 5h0m12 3h0m1-1h0m1-5h0m0-11h0m4 0h0m2-11h0m1 8h0m2 2h0m1-4h0m4 7h0m1-1h0m1 4h0m5 7h0m1-9h0m2-8h0m3 1h0m2 14h0m1-11h0m0 13h0m5-2h0m0 2h0m0 5h0m2-16h0m5 6h0m5-11h0m1 3h0m4 11h0m10-7h0m10 3h0m1-1h0m1-13h0m2 4h0m2 5h0m0-4h0m26-1h0m2 8h0m1 10h0m50-17h0m-242 42h0m20-10h0m1-6h0m7 18h0m5 3h0m1-13h0m7-10h0m5 9h0m2 4h0m1-13h0m2 4h0m3 5h0m1 4h0m0-3h0m5-3h0m7 16h0m1-9h0m3 5h0m1-5h0m2-9h0m7 3h0m0 19h0m4-29h0m5 20h0m5-7h0m1 3h0m2-5h0m2-4h0m3 15h0m0-12h0m5-6h0m2 3h0m6-6h0m4-2h0m0 24h0m3-15h0m5 4h0m3 13h0m1-10h0m1-10h0m1 19h0m1-18h0m2 11h0m2 4h0m1-19h0m1-2h0m3 26h0m4-21h0m2-3h0m5-2h0m2 8h0m0-9h0m4 21h0m17 0h0m6-9h0m4-11h0m7 26h0m9-19h0m0 5h0m40-2h0m-304 29h0m10-7h0m22 0h0m11 1h0m1 2h0m3 0h0m10 16h0m8-20h0m7 14h0m8-16h0m5 8h0m10 10h0m14-1h0m3 4h0m6-15h0m1 10h0m0 13h0m6-18h0m4 0h0m2-1h0m1 2h0m9 12h0m1 2h0m4-10h0m0 6h0m1-12h0m0 10h0m3-2h0m0-5h0m0-8h0m2 7h0m5-9h0m3 17h0m2 2h0m0-16h0m10 15h0m5 9h0m1-16h0m2 7h0m3-10h0m8 19h0m0-20h0m1 7h0m0-11h0m10-2h0m7-4h0m0 11h0m5-2h0m32 0h0m2 1h0m1-1h0m-273 27h0m48-6h0m6 12h0m2-7h0m5 16h0m12-7h0m7 2h0m4 9h0m14-13h0m3 12h0m21 2h0m0-22h0m7-3h0m2 11h0m3 17h0m5-4h0m14 0h0m5-12h0m1-9h0m4 7h0m0-6h0m4 5h0m7-1h0m0 5h0m7 2h0m10-13h0m4 10h0m5 8h0m6-4h0m1-12h0m8 9h0m3 0h0m0 8h0m15-12h0m9 6h0m-226 28h0m14 6h0m82-1h0m9 0h0m48-1h0m5-14h0m25 6h0m56-5h0m-213 38h0m56-4h0m5 19h0m37-14h0m111-11h0" stroke="#000" stroke-width="7.5" stroke-linecap="round" fill="none"/>
<ellipse cx="307.3" cy="487.4" rx="9.2" ry="8.8" fill="#000"/>
<path transform="scale(.1)" d="M3087 4378h0m-47 29h0m207-14h0m-210 45h0m7 0h0m53-9h0m3-13h0m1 11h0m1-17h0m15 11h0m73 17h0m6-2h0m23-15h0m-261 29h0m49 12h0m19-7h0m17-11h0m30 11h0m4 6h0m9-8h0m7 0h0m5-4h0m2 7h0m51 8h0m49 3h0m8-2h0m-188 13h0m6-6h0m1 27h0m74-18h0m16-4h0m38 5h0m3-2h0m2 15h0m28-13h0m38 12h0m-235 9h0m9 16h0m1-15h0m38 9h0m4 10h0m6-5h0m2 8h0m3 0h0m12-16h0m8 11h0m16 9h0m4-18h0m9 1h0m1 7h0m6-10h0m4 12h0m4-2h0m40-2h0m2 10h0m10-21h0m55 17h0m38-2h0m-285 18h0m5 3h0m14 15h0m13-15h0m3-12h0m2 28h0m19-15h0m3 15h0m10-20h0m3-1h0m11 5h0m9 8h0m1-6h0m5 4h0m7 4h0m2-8h0m0 7h0m1-15h0m24 4h0m14-1h0m9 20h0m1-3h0m7-20h0m3 23h0m1-20h0m7 16h0m13-25h0m6 11h0m31 6h0m10-3h0m-336 28h0m16-5h0m104 0h0m2 11h0m2 1h0m1-13h0m3-4h0m0 14h0m25 2h0m4-11h0m10-7h0m10 5h0m14 20h0m7-12h0m1-5h0m8-3h0m4 23h0m4-3h0m7-19h0m1 13h0m5-15h0m0-2h0m1 2h0m6 13h0m2 9h0m3-13h0m2 1h0m8-14h0m1 12h0m10 12h0m6-13h0m1 10h0m3-18h0m12 14h0m1-13h0m0 18h0m3-1h0m14-2h0m2-11h0m7 2h0m2-10h0m17 0h0m23 14h0m7-13h0m16 6h0m-555 24h0m290 1h0m11 19h0m6-18h0m29 26h0m16-21h0m5 9h0m15 1h0m6-15h0m1 18h0m7-17h0m8 6h0m4 8h0m8-4h0m0-7h0m1-5h0m4 0h0m2 16h0m7 1h0m0-6h0m5 15h0m1-5h0m0 6h0m1-15h0m3-8h0m0 5h0m7 15h0m0-22h0m3 7h0m1 16h0m1-17h0m0 6h0m10 0h0m9-16h0m4 8h0m9-3h0m3 19h0m10 3h0m16-27h0m49 23h0m-374 27h0m30-9h0m74 3h0m12-6h0m59 16h0m3-4h0m25 4h0m6 4h0m0-7h0m0-18h0m1 9h0m0-8h0m9 13h0m3 11h0m2-26h0m3 15h0m2 11h0m1-4h0m4-5h0m8-7h0m1 3h0m5 10h0m0-24h0m0 19h0m7 4h0m8-21h0m0-3h0m3 25h0m2-22h0m1 4h0m5-5h0m1 20h0m1-23h0m1 1h0m1 20h0m2-11h0m2-7h0m1 6h0m1 18h0m9-4h0m9-21h0m2 11h0m13 11h0m1 3h0m0-18h0m1 16h0m4 5h0m2-15h0m35 0h0m5 12h0m7-27h0m-201 43h0m4 8h0m5-13h0m9 2h0m1 1h0m10 18h0m1-3h0m1-1h0m13-14h0m5-4h0m1 12h0m1 6h0m0 1h0m0-4h0m6 0h0m5 7h0m1-6h0m0-8h0m3 10h0m3-6h0m7-16h0m1 15h0m2-15h0m2 3h0m4-4h0m1 7h0m4-3h0m0 6h0m4-6h0m0 13h0m3 3h0m0-8h0m4 6h0m5 7h0m14-10h0m1 9h0m1-9h0m3 2h0m2 8h0m1-10h0m2-15h0m8 26h0m3-10h0m0 6h0m3-2h0m24-4h0m4 3h0m2-17h0m11 18h0m20 5h0m20-11h0m-515 27h0m238-2h0m30 11h0m20-14h0m21 2h0m4-2h0m4 18h0m7-8h0m9 0h0m12-12h0m8 5h0m2-3h0m7 4h0m1 4h0m5 13h0m5-4h0m1 5h0m1-26h0m2 15h0m1 11h0m1-15h0m0-7h0m6 4h0m3-7h0m0 1h0m6 9h0m6 1h0m1 1h0m1-14h0m1 10h0m2 12h0m2-16h0m6-7h0m6 17h0m3-1h0m3 1h0m1-13h0m1 22h0m1-4h0m7-20h0m1 18h0m5-6h0m10 0h0m0-13h0m27 22h0m1-10h0m-483 34h0m211 8h0m24-25h0m36 26h0m4-13h0m10-9h0m6 21h0m4 1h0m7-11h0m6-16h0m7 25h0m6-7h0m15 11h0m2-8h0m1-12h0m1-3h0m14 1h0m2 8h0m5-5h0m0 6h0m2-9h0m1 16h0m1 5h0m5-21h0m2 18h0m1-10h0m3 2h0m7 2h0m1-15h0m1 5h0m8 14h0m5-15h0m4-7h0m1 22h0m2-10h0m3 2h0m1 10h0m1-24h0m2 18h0m8-18h0m2 0h0m0 17h0m9-19h0m5 26h0m1-11h0m3 2h0m0-3h0m2 1h0m3-5h0m6 18h0m3-13h0m1 3h0m0-4h0m8-11h0m0 10h0m12-4h0m10 1h0m27 3h0m-364 18h0m29 24h0m41-22h0m4 7h0m13 13h0m4-11h0m8 9h0m1 6h0m5-5h0m2-2h0m1-4h0m4 0h0m3-13h0m18 23h0m1 2h0m9 2h0m1-13h0m2 11h0m4-13h0m5 13h0m1-27h0m2 9h0m1 15h0m0-8h0m5 7h0m2-12h0m0-6h0m3 4h0m6 0h0m8 13h0m4-18h0m7 8h0m1 6h0m2-18h0m4 22h0m4-11h0m3 5h0m1-3h0m1-12h0m1 20h0m2 5h0m0-12h0m1 13h0m0-12h0m1 5h0m11-9h0m3 8h0m2 4h0m3-4h0m1-6h0m2 1h0m4 3h0m7 8h0m1-25h0m5 9h0m2-3h0m9 0h0m1 8h0m3-10h0m9 24h0m1-10h0m1-17h0m1 19h0m1-13h0m3 16h0m1 2h0m2-13h0m7 2h0m9-2h0m15 14h0m1-12h0m12-13h0m8-2h0m0 24h0m2-5h0m17 7h0m34-5h0m-379 27h0m27 1h0m1 3h0m7-19h0m5-2h0m5 28h0m1-18h0m7 8h0m1-4h0m1 15h0m4-21h0m12 7h0m2 0h0m0-7h0m2-1h0m2 8h0m2-12h0m0 10h0m0 5h0m5-1h0m5 6h0m1-7h0m1 3h0m0-5h0m1 5h0m0-17h0m5 25h0m3-1h0m2-5h0m2-16h0m1 18h0m1-19h0m0 18h0m5-22h0m2 0h0m0 27h0m1-6h0m2-4h0m1 10h0m0-21h0m0 7h0m0 1h0m3 6h0m2-1h0m3-12h0m0-6h0m2 2h0m2 25h0m1-10h0m1-7h0m2 12h0m0-9h0m1 9h0m1 4h0m2-20h0m0 22h0m3-20h0m0 11h0m0 4h0m1-12h0m4 1h0m0 8h0m1-3h0m1 8h0m0-12h0m1-2h0m0 10h0m3-19h0m3 8h0m2-9h0m0 25h0m2-8h0m0-5h0m2 12h0m2-26h0m0 21h0m0 4h0m1-21h0m1 9h0m0 14h0m2-22h0m3 17h0m2 6h0m1-19h0m1 3h0m1 13h0m1 2h0m0-27h0m2 9h0m1 3h0m0 5h0m0-18h0m8 29h0m2-17h0m1-3h0m1 2h0m0 13h0m2-3h0m0 6h0m0-10h0m0-6h0m2 18h0m0-6h0m1-9h0m4-8h0m2 19h0m0-1h0m2-7h0m0 9h0m2-8h0m1 10h0m0-13h0m1-14h0m0 14h0m0 7h0m3 8h0m0-9h0m1 3h0m1-2h0m3 6h0m0 1h0m2-27h0m0 14h0m0-1h0m1-2h0m0-9h0m2 15h0m0 6h0m0-16h0m1 1h0m1-1h0m1 6h0m1 3h0m1-14h0m1 3h0m1 9h0m1 10h0m0-20h0m4 0h0m3 13h0m6-6h0m1-10h0m2 3h0m4 21h0m0-20h0m1-4h0m1 16h0m1-8h0m1 13h0m0-3h0m3-10h0m2-11h0m0 6h0m1 10h0m4 11h0m7-13h0m2 0h0m0 1h0m3-7h0m1 5h0m5 14h0m20-27h0m2 5h0m2 3h0m0 21h0m4-8h0m1-6h0m11-5h0m4 1h0m1-5h0m1 7h0m32 3h0m4 1h0m-469 32h0m15 9h0m45-10h0m3-1h0m20 6h0m19-2h0m10-10h0m19-6h0m4 15h0m4 6h0m16 4h0m1-27h0m1 13h0m1 5h0m2 7h0m1-18h0m7 7h0m1 10h0m0-21h0m2 5h0m2 16h0m2-5h0m3 6h0m1-11h0m3 3h0m4 8h0m1-23h0m1 24h0m1-2h0m0-19h0m1 14h0m0-17h0m1 4h0m1-3h0m1 12h0m1-4h0m1 6h0m1 1h0m0 3h0m1-18h0m0 14h0m0 6h0m1-20h0m0 22h0m0-13h0m2 3h0m3 2h0m1 2h0m0-6h0m0 3h0m1 3h0m0 2h0m0 3h0m1-23h0m2 18h0m0 3h0m0-14h0m0-11h0m0 30h0m1-1h0m0-21h0m4 12h0m2-12h0m0 19h0m2-6h0m2-3h0m1-12h0m1 16h0m0 1h0m1 3h0m1-9h0m1 6h0m1-2h0m1-11h0m1 7h0m0-1h0m1 14h0m0-5h0m0 0h0m0-10h0m0 2h0m0 8h0m0-6h0m1 4h0m0 3h0m0-3h0m2-7h0m1 4h0m0-16h0m2 20h0m0 4h0m0-21h0m0 10h0m1 9h0m0-3h0m1-12h0m1 13h0m0-8h0m1 11h0m0 1h0m1-6h0m0-8h0m3 15h0m0-1h0m0 0h0m1-13h0m3 2h0m0 7h0m0 5h0m1-4h0m1-19h0m0 10h0m0 12h0m2-17h0m1 16h0m0-2h0m1-23h0m1 15h0m1 2h0m0-12h0m2 13h0m1-9h0m0 11h0m1-1h0m1 6h0m0-5h0m0 5h0m0-12h0m1 13h0m0-11h0m1 12h0m0-27h0m0 23h0m0-13h0m1 8h0m0 6h0m0-16h0m1 14h0m0 6h0m1-29h0m1 13h0m1 2h0m0 7h0m0 2h0m1 1h0m0-20h0m1 16h0m1-12h0m0-7h0m0 7h0m1 3h0m0-10h0m1 12h0m0-8h0m0 1h0m3-2h0m1 1h0m0-2h0m2 7h0m2 14h0m0 2h0m0-26h0m1 14h0m0-1h0m1 9h0m0-14h0m1-1h0m0 10h0m1 0h0m2 9h0m0-10h0m1-1h0m0 4h0m1-2h0m1 0h0m0 9h0m1-8h0m0 2h0m1-20h0m0-1h0m1 16h0m0 11h0m1 0h0m1-23h0m0 22h0m0-4h0m1-22h0m0 11h0m0 3h0m1-11h0m2 12h0m0-1h0m2 14h0m0-27h0m0 25h0m1-21h0m0 16h0m2-16h0m2 6h0m1 17h0m1-21h0m1 13h0m0-2h0m0-18h0m1 17h0m1 9h0m1-9h0m1 8h0m0-2h0m2-24h0m1 4h0m0 22h0m0-5h0m0-5h0m1 11h0m1 3h0m0-6h0m1-10h0m1-6h0m0-5h0m1 0h0m1 13h0m1 9h0m0-3h0m0 5h0m1-15h0m0 14h0m1 2h0m0-12h0m1 0h0m0 13h0m0-24h0m1 13h0m2-7h0m0 7h0m0-5h0m1 6h0m0 5h0m2 1h0m1 1h0m1-10h0m0 7h0m2 5h0m1 2h0m0-7h0m2-19h0m1 2h0m1 17h0m1-2h0m1-14h0m0 14h0m3-9h0m0 2h0m0-6h0m0 22h0m1-17h0m0-9h0m0 9h0m1 16h0m1-28h0m0 14h0m3-10h0m0 13h0m4 4h0m0-21h0m0 22h0m3-5h0m1 12h0m1-15h0m0-5h0m1 8h0m2-6h0m3-8h0m3 10h0m3-13h0m1 4h0m0 1h0m6 4h0m10-4h0m2 7h0m0-5h0m1 7h0m2 15h0m7-19h0m6-8h0m23 17h0m2-19h0m4 16h0m2-16h0m23 8h0m-403 26h0m33 14h0m4-5h0m3-1h0m2 11h0m3 1h0m3-11h0m1 2h0m15-4h0m8 5h0m4-4h0m8 16h0m1-12h0m1 6h0m1-17h0m2 16h0m4-9h0m0 3h0m2 2h0m2 9h0m1-20h0m3 7h0m0 3h0m1 8h0m1-10h0m1 11h0m1-20h0m2 2h0m0 18h0m0-17h0m1 20h0m3-21h0m0 19h0m2-3h0m0 3h0m0 2h0m0-19h0m0-4h0m2-3h0m1 13h0m1 3h0m1 6h0m2 0h0m1-4h0m1-4h0m0-9h0m1 19h0m1-21h0m0 17h0m0 0h0m0-21h0m1 18h0m0-11h0m1-3h0m2 21h0m2 3h0m1-22h0m1 15h0m1-7h0m0-5h0m1 13h0m0-17h0m0-1h0m0 7h0m1-4h0m0 16h0m1 4h0m0-24h0m2 16h0m1-17h0m1 10h0m0 9h0m0-19h0m2 17h0m0-9h0m0 10h0m0-10h0m0 4h0m1 7h0m0 5h0m0-14h0m3 14h0m0-7h0m1-6h0m1-3h0m0-8h0m0 5h0m0-1h0m1 0h0m0 18h0m1-1h0m2-15h0m0 2h0m1 6h0m0 8h0m1-4h0m0-5h0m0 8h0m1 3h0m1-26h0m0 20h0m1-14h0m1-4h0m0 8h0m1 17h0m0-27h0m1 20h0m0-16h0m0 2h0m0 2h0m1-9h0m2 1h0m2 21h0m0-16h0m1 9h0m1-9h0m1 4h0m0-6h0m1 2h0m0 19h0m1-8h0m0-13h0m1 0h0m0 14h0m1-12h0m0 9h0m1 3h0m1 4h0m0-6h0m1-4h0m0-5h0m1 2h0m0 3h0m1 15h0m0-1h0m0-7h0m0-18h0m0 20h0m0-5h0m1-1h0m0 0h0m1 6h0m0-19h0m0 5h0m1-7h0m0 20h0m1-15h0m0-6h0m1 23h0m0 1h0m0-9h0m0 12h0m0-10h0m1-10h0m1 4h0m0-8h0m0 13h0m0-14h0m0 21h0m1-11h0m0-5h0m1-1h0m0 20h0m0-21h0m1 6h0m0 15h0m0-3h0m1 2h0m0-16h0m1-1h0m0-1h0m1 7h0m0 8h0m0-7h0m0 1h0m0-9h0m0 1h0m1 20h0m1-2h0m2-18h0m0-2h0m0-5h0m1 4h0m0-4h0m1 28h0m0 0h0m1-9h0m1-3h0m0-13h0m0 19h0m0-4h0m1-10h0m0 14h0m0 6h0m1-27h0m0 19h0m0-14h0m0 8h0m0 9h0m0-12h0m0 10h0m1-20h0m0-2h0m0 6h0m0 19h0m0-1h0m1-1h0m0 4h0m1-22h0m0 20h0m0-16h0m1 3h0m0 7h0m0-3h0m1 13h0m0-19h0m0-6h0m0 17h0m1 3h0m0-18h0m0 7h0m0 15h0m1-9h0m0-5h0m0 8h0m0-1h0m1-3h0m1 3h0m1-18h0m0 26h0m1-23h0m1 22h0m0-5h0m0 4h0m1 1h0m0-25h0m0 8h0m0 1h0m1 17h0m0-13h0m0-1h0m1-8h0m1 20h0m0-25h0m1 12h0m0 13h0m1-19h0m0 3h0m0-1h0m0 8h0m1-3h0m0 4h0m0-11h0m1 4h0m0 4h0m0 13h0m1-17h0m0-5h0m1 6h0m1 4h0m0-17h0m0 30h0m1-11h0m0-11h0m1 10h0m0-4h0m1-13h0m0 22h0m0-2h0m0-16h0m0 19h0m0-20h0m0 20h0m1-13h0m0-1h0m0 19h0m1 1h0m0-14h0m0 6h0m0 1h0m1-3h0m1 3h0m0 7h0m0-5h0m0-18h0m0-1h0m0-2h0m1 6h0m0 14h0m0-13h0m1 14h0m0-2h0m0-10h0m0 9h0m0 3h0m0-21h0m1 22h0m0-19h0m1 12h0m1 1h0m0 4h0m0-23h0m1 22h0m0 2h0m0-1h0m0-17h0m1 15h0m0-10h0m1 0h0m0 5h0m0 11h0m2-1h0m1-24h0m0 15h0m0-10h0m0-4h0m1 11h0m0-3h0m0 16h0m1-23h0m0 3h0m0 18h0m1-13h0m0-11h0m0 24h0m3-8h0m0 6h0m1-6h0m0-8h0m0-7h0m0 25h0m2-8h0m0 4h0m1-12h0m1-3h0m0 4h0m1-6h0m0-2h0m0 24h0m2-10h0m0-14h0m0 24h0m1-15h0m0 1h0m0-13h0m1 15h0m0-13h0m1 0h0m0-2h0m0 7h0m0-7h0m0 13h0m1 6h0m0-4h0m1 5h0m0-2h0m0-9h0m0 1h0m1 3h0m0-9h0m0 21h0m1 3h0m1-11h0m0-7h0m0-6h0m0 0h0m2-4h0m0 19h0m1-6h0m0-10h0m0 17h0m1-7h0m0-1h0m0 1h0m1 8h0m1 6h0m0-23h0m0 9h0m1 8h0m0-19h0m2 4h0m1 9h0m0 0h0m1 7h0m0-6h0m2 7h0m0-8h0m1-8h0m0 21h0m0-11h0m1-12h0m1-6h0m0 2h0m1 5h0m1 3h0m0 4h0m1-2h0m0-5h0m0-5h0m2 9h0m1-4h0m0 8h0m1 12h0m1-25h0m1 4h0m0 19h0m0-14h0m3-5h0m1 7h0m0-8h0m2 8h0m1-12h0m1 0h0m0-1h0m1 7h0m1-1h0m0 13h0m0 0h0m1-4h0m1-15h0m0 11h0m0-7h0m2 23h0m1-10h0m2 2h0m1 0h0m3-18h0m1 17h0m2-4h0m0 1h0m1-7h0m3 7h0m1-13h0m1 23h0m4-24h0m0 4h0m0 20h0m0-18h0m3 18h0m0-18h0m0 3h0m5 17h0m12-2h0m1-1h0m2 0h0m1-22h0m2-2h0m3 18h0m2 6h0m2-17h0m2 10h0m5 10h0m2-23h0m6 23h0m4-19h0m10-9h0m19 17h0m-445 43h0m15-4h0m33-12h0m7 1h0m2 14h0m14-25h0m15 2h0m0 17h0m11 5h0m3-25h0m9 15h0m3 1h0m9-11h0m2-4h0m6 22h0m2 1h0m1-18h0m2 9h0m2-12h0m4 8h0m7-11h0m2 10h0m1 10h0m1-10h0m0-3h0m5 19h0m0-18h0m1-7h0m0 19h0m1-11h0m0 0h0m1 2h0m0-11h0m1 15h0m2-7h0m3-10h0m1 16h0m1 2h0m0-13h0m1 1h0m1 4h0m0 15h0m0-12h0m1-6h0m2 15h0m0-19h0m2 20h0m1-1h0m1-13h0m2 3h0m0 0h0m1 12h0m2 1h0m3 1h0m1-3h0m1-17h0m1 4h0m0 1h0m0 12h0m2-3h0m0-13h0m0-3h0m1 18h0m1-15h0m0 19h0m0-23h0m1 17h0m1-16h0m0 7h0m0-8h0m1 15h0m0 9h0m0-18h0m0-9h0m0 17h0m1 4h0m1-2h0m0-5h0m2 4h0m1 5h0m0-6h0m0-3h0m1 14h0m0 0h0m2-25h0m0 12h0m1-13h0m0 17h0m1 2h0m0-16h0m1 17h0m1-15h0m0 10h0m2 10h0m0 2h0m0-9h0m0 2h0m0-20h0m0 10h0m0 7h0m0-6h0m0 13h0m2 3h0m0-17h0m0-6h0m0-7h0m1 24h0m0-17h0m1 6h0m1 16h0m1-11h0m0 6h0m0-15h0m1-8h0m1 22h0m0-19h0m0 14h0m1 2h0m1 4h0m0-3h0m0 9h0m1-26h0m0 16h0m1 9h0m0-4h0m1-5h0m0-16h0m1 12h0m1-14h0m0 18h0m0-19h0m1 9h0m0 9h0m0 8h0m0-10h0m1 4h0m0-7h0m0-10h0m2 14h0m0 7h0m1-10h0m0 4h0m0 4h0m0-21h0m1 3h0m0 1h0m0 9h0m0-5h0m0-2h0m0-2h0m1 8h0m0 7h0m0-8h0m0-9h0m1 2h0m0 20h0m0-13h0m1 13h0m0-24h0m0 21h0m1-19h0m0-3h0m0 4h0m1-4h0m0 13h0m0-13h0m0 22h0m1 1h0m0-8h0m1 5h0m0-10h0m0 8h0m0-14h0m0 3h0m0 2h0m0 16h0m1-19h0m0 9h0m0-14h0m0 15h0m0-14h0m1 1h0m0-1h0m0 26h0m0-20h0m0 9h0m1-17h0m0 1h0m1 24h0m0 0h0m0-8h0m1-11h0m0 9h0m0-5h0m1 8h0m0 7h0m0-6h0m1 0h0m0 0h0m1 5h0m0 5h0m0-4h0m0-25h0m0 10h0m0 9h0m0-10h0m1-7h0m0 25h0m1-2h0m0-14h0m0 17h0m1-22h0m1 21h0m0-18h0m0 3h0m0 13h0m0-3h0m0-8h0m1 14h0m0-4h0m0-13h0m1 6h0m0 9h0m0-4h0m1 5h0m0-6h0m0-15h0m0 0h0m0 12h0m0-12h0m1 21h0m1-11h0m1 2h0m0-13h0m0 17h0m0-4h0m1-14h0m0 16h0m0 0h0m1-13h0m1 17h0m1-16h0m0 21h0m0-29h0m1 16h0m0 9h0m0-26h0m1 20h0m0 3h0m0-6h0m0-7h0m0 14h0m1-7h0m0 7h0m0 3h0m1-19h0m0 10h0m0-8h0m0 8h0m1-13h0m0-5h0m0 28h0m1 2h0m0-15h0m0-8h0m2 15h0m0-20h0m0 25h0m0-15h0m0-1h0m1-10h0m0 7h0m0 9h0m0 1h0m1 6h0m0-22h0m0 27h0m0-26h0m1 0h0m0 11h0m1 6h0m0 7h0m1-7h0m0-1h0m1-15h0m0 2h0m1 22h0m0-4h0m0-10h0m1-4h0m0 11h0m0-6h0m1 4h0m0-4h0m0-4h0m1 15h0m0-23h0m1-1h0m0 11h0m0-5h0m0 13h0m1-20h0m0-1h0m0 20h0m1-13h0m0-6h0m1 26h0m0-17h0m0-8h0m0 15h0m0 12h0m0-6h0m2 2h0m2-3h0m0 3h0m1-15h0m0 5h0m0-6h0m0-7h0m1 9h0m0 7h0m0-3h0m0 2h0m1 0h0m0 5h0m0-18h0m1 6h0m0 4h0m1 2h0m0 13h0m0-5h0m0-9h0m1-5h0m0-5h0m1 0h0m0-4h0m1 17h0m0 12h0m0-17h0m1 4h0m0 3h0m1-9h0m0 13h0m0-20h0m1-2h0m0 27h0m0-22h0m0 3h0m1 11h0m0-17h0m0 23h0m0-8h0m1-1h0m1-10h0m0 1h0m1 18h0m1-26h0m0 23h0m1-1h0m0-11h0m0-7h0m0 20h0m1-14h0m0 3h0m1 2h0m0 11h0m0 1h0m0-15h0m0 12h0m1-14h0m0-5h0m0 17h0m0-7h0m0 8h0m0-12h0m1-10h0m0 24h0m0-11h0m0-4h0m0 18h0m1-19h0m1 15h0m0-8h0m1-16h0m0 21h0m1-22h0m2 27h0m0 0h0m1-8h0m0-2h0m0 9h0m2-6h0m0-3h0m1 8h0m0-3h0m0-17h0m0-4h0m1 2h0m1 22h0m2-8h0m1-1h0m0 10h0m0 3h0m0-26h0m0 27h0m1-28h0m0 7h0m1 19h0m0-8h0m1-17h0m0 20h0m0-11h0m1 2h0m1-6h0m1-3h0m0 9h0m0 9h0m1 2h0m0-23h0m0 20h0m1-19h0m0 25h0m0-12h0m1 5h0m1 8h0m1-1h0m0-18h0m0-10h0m0 11h0m1 17h0m0-16h0m0 2h0m0-5h0m2-2h0m4 13h0m0-9h0m1-3h0m2 9h0m3-17h0m1 5h0m0 14h0m0-18h0m4 13h0m2 2h0m0 1h0m2-13h0m2 18h0m2-1h0m2-1h0m1-1h0m1 7h0m0-18h0m1 3h0m0 4h0m1-5h0m1-9h0m3 6h0m5 5h0m2 10h0m2 2h0m10-11h0m0 16h0m1-13h0m10-12h0m1-2h0m3 19h0m1-8h0m-470 33h0m60-5h0m14 4h0m49 13h0m1-27h0m5 18h0m5-13h0m10-3h0m8 12h0m10 2h0m0 8h0m1-5h0m4-17h0m4 16h0m10-18h0m4 10h0m2-7h0m0 24h0m0-15h0m2 10h0m3-18h0m0 1h0m1 17h0m1-12h0m4 1h0m1-9h0m2 3h0m3 13h0m3-17h0m2 20h0m1-14h0m1 13h0m3-4h0m2-5h0m1 11h0m0-20h0m1 5h0m5-4h0m1 6h0m0-4h0m1 13h0m0-9h0m2 12h0m0 4h0m2-21h0m2-5h0m0 29h0m1-3h0m0-4h0m1 1h0m1-9h0m2-3h0m1 0h0m0 1h0m2-8h0m3 18h0m0-18h0m0 5h0m1-3h0m3-5h0m0 5h0m3 5h0m0 10h0m1-11h0m2-8h0m1 20h0m2-15h0m0 2h0m0 13h0m0 1h0m1-10h0m0-5h0m0 20h0m0-2h0m1 4h0m1-4h0m0 4h0m0-7h0m1-14h0m0 20h0m1-11h0m0-14h0m1 16h0m1-3h0m0-13h0m1 3h0m1 2h0m1-1h0m0 2h0m0 12h0m3-9h0m1-10h0m0 7h0m0-4h0m1 17h0m0 4h0m0-24h0m1 11h0m0 13h0m0-14h0m0-1h0m0 1h0m0-4h0m1-4h0m0 14h0m0-17h0m1 13h0m0-10h0m1 6h0m0-4h0m1 4h0m0 9h0m1-16h0m0 2h0m2 3h0m1 8h0m0-10h0m1 6h0m1 7h0m0-4h0m0-8h0m0 10h0m1-11h0m0 3h0m1-2h0m0 19h0m0 0h0m1-2h0m0-10h0m0-7h0m0 5h0m1 6h0m0-10h0m1 2h0m0 12h0m0-21h0m1-1h0m1 14h0m1-6h0m0 1h0m0-2h0m0 12h0m1-16h0m0 1h0m0 17h0m1 0h0m1-2h0m1-17h0m1 22h0m0-23h0m0 17h0m1 10h0m1-22h0m0 18h0m0 0h0m0-19h0m1 8h0m0-10h0m0 11h0m1 7h0m0-13h0m0-6h0m1 12h0m1-10h0m1 23h0m0-4h0m0-11h0m0 0h0m1 1h0m1-2h0m0-2h0m1-4h0m0 11h0m2-5h0m0-11h0m1 18h0m0 9h0m0-24h0m1 10h0m0-6h0m0 21h0m1-25h0m0 12h0m1 2h0m0-5h0m1-8h0m0 1h0m0-2h0m0-3h0m1 26h0m0-12h0m0 10h0m1-21h0m1 5h0m0 16h0m0-25h0m0 11h0m1 18h0m0-12h0m0 5h0m0-12h0m0 7h0m0 4h0m1-3h0m0-13h0m0 15h0m0 9h0m2 1h0m0-17h0m0 16h0m0-17h0m0 16h0m0-10h0m1 10h0m1-5h0m0-16h0m0-1h0m0 11h0m1 3h0m0 8h0m0-28h0m0 26h0m1-18h0m0 4h0m0-1h0m0 11h0m1-19h0m0 16h0m1 8h0m0-6h0m1-19h0m0 22h0m1-23h0m1 7h0m0-7h0m0 22h0m1 2h0m1-9h0m0 6h0m0 5h0m1-16h0m0 13h0m1-14h0m0-10h0m0 13h0m0 7h0m0-16h0m1 20h0m1-1h0m1-12h0m0 0h0m1-5h0m0 2h0m0 13h0m1-6h0m1-12h0m0 16h0m1-3h0m0 4h0m1 1h0m0-9h0m1 14h0m0-12h0m0 11h0m0 3h0m0-10h0m0-12h0m1 8h0m0 8h0m1-12h0m0 15h0m0-21h0m0 0h0m0 7h0m0-9h0m1 16h0m0 11h0m1-5h0m0-14h0m0 14h0m0-10h0m0-12h0m1 3h0m0 20h0m0-11h0m1 9h0m0-22h0m0 1h0m0 12h0m2-5h0m0 17h0m1-16h0m0 18h0m1-24h0m2-3h0m0 10h0m1 14h0m0 1h0m1 1h0m0-12h0m0-8h0m1 21h0m1-6h0m0 7h0m1-9h0m0-13h0m1 5h0m0 16h0m0-13h0m0 15h0m1-29h0m1 9h0m0 11h0m0-11h0m0-9h0m1 13h0m1-7h0m0 5h0m0 16h0m1-6h0m0-6h0m1-14h0m1 18h0m0 2h0m0-16h0m0 17h0m1-18h0m0 15h0m2 1h0m0-15h0m0 13h0m1 10h0m0-16h0m1-11h0m0 1h0m1 4h0m0 0h0m1 17h0m0-7h0m0-3h0m1 3h0m1 10h0m0-8h0m1 0h0m1-16h0m0 25h0m1-7h0m1-10h0m0-4h0m1 21h0m3-22h0m1 21h0m0-12h0m1 14h0m1-22h0m0-2h0m1 24h0m1-22h0m0-7h0m0 18h0m1 3h0m0-9h0m1-7h0m0 10h0m0 6h0m2 1h0m2-17h0m3-4h0m1 20h0m2-4h0m2-12h0m0 12h0m1-11h0m0 17h0m1-22h0m0 13h0m1 12h0m0-14h0m2 9h0m0-15h0m1 12h0m3 0h0m3-12h0m0 4h0m1-9h0m3 18h0m0-1h0m0 9h0m1-11h0m1 2h0m1 4h0m0-18h0m3 1h0m0 0h0m0 14h0m2-1h0m13-6h0m5 17h0m3-8h0m3-12h0m8 4h0m1 12h0m2-11h0m5 10h0m2-20h0m4 6h0m-322 27h0m2-6h0m0 10h0m1 10h0m3 7h0m4-2h0m2-21h0m3-2h0m4-3h0m3 6h0m5 9h0m2 6h0m7-14h0m4 7h0m1-2h0m2-3h0m2 8h0m0-7h0m4 12h0m0-1h0m4-18h0m2 2h0m0 1h0m1-2h0m1-1h0m0 9h0m4 4h0m2-7h0m1 19h0m3-24h0m4 6h0m10 2h0m1-1h0m3 6h0m1-14h0m1 3h0m2 20h0m0-16h0m1 7h0m2 7h0m1-4h0m1-19h0m1 20h0m1 4h0m1-4h0m1 2h0m1-17h0m0 10h0m1-4h0m1 15h0m1-6h0m1-11h0m1-8h0m3 17h0m0 2h0m2 1h0m1-13h0m0 17h0m0-6h0m1-2h0m1-9h0m2 11h0m0 6h0m1-11h0m0 9h0m0-3h0m1-20h0m2 1h0m1 8h0m0-5h0m1 0h0m0 22h0m1-27h0m1 29h0m0-28h0m2 22h0m1-23h0m1 4h0m0 13h0m2-16h0m1 14h0m0 8h0m3-9h0m0-1h0m1 14h0m0-10h0m0 10h0m0-15h0m1-1h0m0-1h0m1 6h0m0 4h0m1-12h0m1-4h0m1 9h0m0 5h0m0-2h0m0-1h0m0-14h0m1 24h0m0-21h0m0 25h0m2-26h0m3 4h0m0 22h0m0-25h0m2 8h0m0 1h0m0 0h0m1 14h0m1-10h0m0 9h0m1-21h0m0 24h0m1-25h0m0 24h0m0-24h0m1 12h0m2-13h0m0 14h0m0-7h0m0 11h0m2-16h0m0 6h0m1 0h0m1 1h0m1 4h0m1-9h0m0 6h0m1 6h0m0 3h0m1-18h0m0-4h0m1 24h0m1-13h0m0 18h0m0-16h0m0 8h0m1 5h0m1-13h0m0-2h0m0 0h0m1 3h0m0 10h0m0-20h0m0 5h0m1 9h0m0-14h0m0 5h0m1 14h0m0-4h0m0-19h0m0 15h0m0-5h0m2-1h0m1 20h0m0-16h0m0 17h0m1-23h0m0 1h0m0 1h0m1 5h0m0 9h0m0-10h0m1 0h0m0-1h0m0-10h0m1 26h0m0-28h0m1 1h0m0 20h0m0-10h0m0 14h0m1-12h0m0-9h0m2 8h0m0 3h0m1-9h0m0 9h0m0-15h0m1 4h0m0-1h0m0 15h0m0-11h0m0-4h0m1 24h0m0-11h0m0-2h0m1 1h0m0 3h0m1 5h0m0-3h0m0-11h0m0 15h0m2-22h0m0-1h0m1 3h0m1 7h0m0 12h0m0-19h0m2 8h0m1-1h0m1-1h0m0-3h0m0 21h0m0-1h0m0-16h0m1 12h0m1-16h0m0 0h0m0 14h0m1-21h0m0 8h0m1 10h0m0-8h0m0 9h0m1-3h0m1 6h0m0 6h0m0-16h0m1-8h0m1 1h0m0 2h0m1 21h0m1-12h0m0 9h0m0-20h0m2 19h0m1-18h0m0 15h0m0-9h0m0 4h0m0 3h0m1-12h0m0-6h0m0 28h0m0-17h0m2 3h0m0-5h0m1 13h0m0-9h0m0-13h0m1 14h0m3 6h0m1-7h0m0 4h0m1-3h0m1 2h0m0-15h0m1 15h0m1-15h0m1 3h0m0 21h0m0 0h0m1-13h0m1 5h0m0 9h0m1-14h0m0-1h0m2 3h0m0-3h0m2 7h0m0-11h0m1-1h0m1-5h0m0 16h0m0-10h0m1 0h0m1 17h0m0-7h0m0-12h0m0 0h0m0 7h0m2-12h0m0 16h0m1-1h0m0 1h0m1-7h0m1 16h0m3-24h0m0 13h0m1-15h0m0 10h0m6-1h0m1 5h0m0-9h0m1 18h0m3-15h0m1 8h0m2-2h0m0 12h0m0-23h0m3 22h0m3-13h0m0-6h0m1 1h0m0 5h0m0 13h0m1 5h0m6-29h0m1 16h0m1 9h0m1-11h0m2 7h0m2-13h0m12 18h0m0-9h0m0 7h0m4-11h0m2-12h0m2 11h0m6 13h0m8-20h0m7 20h0m44-7h0m-381 20h0m16 10h0m6-10h0m2 5h0m7-14h0m10 13h0m6-7h0m20 21h0m6-16h0m4 2h0m10-10h0m6 23h0m1-11h0m5 8h0m5-9h0m8-8h0m0 19h0m6-11h0m1-1h0m3 15h0m3-25h0m1 14h0m2-11h0m4 13h0m0-16h0m4 18h0m0-8h0m0 12h0m0-3h0m1-19h0m0 4h0m3-6h0m1 14h0m1 6h0m0 3h0m1-23h0m2 7h0m4 22h0m2-18h0m1 6h0m1 1h0m1-17h0m1 19h0m0 3h0m1-13h0m1-9h0m0 27h0m5-23h0m1-4h0m1 4h0m1 15h0m0 4h0m1 4h0m1-21h0m0 1h0m3 1h0m0 14h0m7-18h0m5-6h0m2 10h0m1-10h0m2 20h0m6-13h0m4 12h0m2-17h0m1 16h0m0-1h0m0-8h0m0 5h0m0-4h0m1 17h0m1-26h0m0 2h0m2 2h0m1 7h0m1-7h0m2 18h0m2-21h0m1 18h0m1-10h0m2 4h0m0 6h0m1-4h0m0-9h0m5 13h0m0-16h0m1 1h0m2 5h0m3 6h0m0-15h0m1 14h0m4-15h0m0 17h0m3-9h0m2 3h0m1-6h0m0 1h0m1-5h0m1 3h0m1 25h0m2-13h0m0 9h0m2-23h0m0-1h0m2 14h0m3-5h0m4 18h0m2-6h0m3-2h0m2-19h0m1 2h0m2 12h0m1 4h0m2-16h0m5 22h0m3-8h0m1 4h0m3-20h0m3 10h0m3 5h0m7-5h0m15 1h0m11 11h0m13-13h0m17-8h0m13-1h0m1 17h0m-331 41h0m38-23h0m28 5h0m6-11h0m12 24h0m10 2h0m2-3h0m0 3h0m8-23h0m2 4h0m3 3h0m7-9h0m0 5h0m5 5h0m4 2h0m1 4h0m1 10h0m1-22h0m1 2h0m12-2h0m9 3h0m3-7h0m2 6h0m0 18h0m5-2h0m1-9h0m3-2h0m3 13h0m2-17h0m0 18h0m2-15h0m3 13h0m4-9h0m4-7h0m4-1h0m3-5h0m5 7h0m11-8h0m3 12h0m2 0h0m0 3h0m7-8h0m11-8h0m2 22h0m2-18h0m2 10h0m13-5h0m12-7h0m30 18h0m5 6h0m-209 16h0m28 12h0m40 5h0m0-10h0m3 9h0m6-5h0m16-8h0m22-7h0m3-8h0m6 6h0m138 6h0m-154 29h0m73 9h0" stroke="#000" stroke-width="7.5" stroke-linecap="round" fill="none"/>
<path transform="scale(.1)" d="M1730 5484h0m287 62h0m-199 52h0m280-5h0m-345 46h0m3-12h0m26 8h0m12 1h0m10-12h0m28-5h0m25 21h0m50-24h0m3 14h0m0 2h0m5-7h0m63 5h0m56 8h0m-397 21h0m7 2h0m46 8h0m41-23h0m2 21h0m0 3h0m25-4h0m0 2h0m0-3h0m5-6h0m3 8h0m9 0h0m3-22h0m1 21h0m1-12h0m4-1h0m1-1h0m1 12h0m4-10h0m4-11h0m1 1h0m3 16h0m0 2h0m2 7h0m1-18h0m3 17h0m0 0h0m2-17h0m3 6h0m1 10h0m2-21h0m0 7h0m0 14h0m1-7h0m1-11h0m0 18h0m1-11h0m3 7h0m0-15h0m0 15h0m1 2h0m4-13h0m3-3h0m1 5h0m0 15h0m2 0h0m1 0h0m0-11h0m1-3h0m0-2h0m3-12h0m0 23h0m1 3h0m0-13h0m1 9h0m0-10h0m1 7h0m0-8h0m0 16h0m3-17h0m0 9h0m5-16h0m4-2h0m0 8h0m0 7h0m7-3h0m1 11h0m2-3h0m0-2h0m5 4h0m5-4h0m4-14h0m2 17h0m1 4h0m7-4h0m2-22h0m4 27h0m2-10h0m1-5h0m2 10h0m0-5h0m4 2h0m6-2h0m2 12h0m2-23h0m18 16h0m3 1h0m4 3h0m-322 32h0m60 0h0m37-12h0m3-5h0m2 11h0m3 4h0m12 1h0m3-2h0m3-4h0m3 7h0m3-8h0m0 1h0m1-13h0m3 16h0m0-8h0m5-16h0m0 28h0m0-1h0m1-7h0m0 8h0m2-2h0m0-11h0m2-8h0m1-1h0m0 3h0m1 17h0m0-26h0m2 20h0m1 5h0m1-7h0m0-2h0m0 8h0m3-12h0m1 5h0m0-12h0m0-2h0m0 9h0m3 17h0m0-6h0m1-5h0m2 0h0m1-12h0m1 13h0m0-19h0m1 20h0m1 0h0m0 6h0m1-2h0m1 1h0m0-10h0m3 5h0m0-1h0m0 9h0m0-22h0m0 20h0m0 2h0m0-16h0m0 11h0m0-22h0m3 23h0m0 3h0m1-18h0m1 17h0m0-15h0m0-5h0m1-5h0m0 16h0m0 8h0m1-22h0m1 7h0m0 0h0m1 16h0m0-4h0m2-6h0m0-6h0m0 15h0m1-21h0m1 16h0m0 7h0m0-5h0m0 2h0m0-7h0m1 7h0m0-1h0m0 1h0m0-5h0m0 6h0m1-9h0m1-13h0m1 16h0m0 9h0m0-14h0m1 4h0m1-16h0m0 5h0m0 20h0m0-15h0m1 9h0m1 7h0m0-5h0m1 5h0m1-2h0m1-26h0m0 24h0m0-8h0m1 13h0m0-6h0m0-4h0m0-4h0m1 14h0m0-13h0m0 11h0m0-18h0m1-7h0m0 14h0m0 3h0m0 1h0m0-2h0m1-3h0m0-13h0m0 25h0m1-12h0m1 10h0m1-11h0m0 4h0m1-7h0m0 14h0m0-6h0m0 9h0m0-20h0m1 9h0m0 9h0m1-11h0m0 5h0m0-3h0m0-4h0m0-1h0m1-1h0m0 9h0m0-7h0m1 12h0m0-12h0m0 2h0m1 3h0m0 2h0m0 1h0m0 2h0m1 0h0m1-14h0m0-4h0m1 14h0m0-3h0m0 2h0m1-9h0m0 7h0m0 13h0m0-28h0m1 25h0m0-5h0m0 2h0m0 6h0m0-16h0m1 0h0m1 10h0m1 2h0m1 1h0m0-2h0m2-15h0m0 14h0m1 3h0m0-26h0m1 24h0m1 5h0m0-9h0m1 0h0m1-20h0m1 7h0m0 18h0m0 0h0m0-24h0m0 15h0m1 2h0m0 4h0m0-5h0m0 10h0m0-3h0m0-10h0m0 3h0m1-12h0m1 11h0m2 13h0m0 0h0m1-1h0m1-17h0m0 17h0m1-1h0m0-20h0m1 3h0m1-4h0m0 4h0m0 15h0m0-25h0m1 4h0m1 9h0m1 9h0m0 0h0m0 5h0m1-15h0m0 10h0m0-2h0m2 2h0m0-10h0m1 5h0m0-6h0m0 17h0m1-25h0m1-3h0m0 28h0m2-24h0m0 10h0m0-11h0m2 24h0m0-1h0m0-19h0m0-4h0m0 3h0m1 11h0m1-2h0m1 6h0m0-9h0m1-6h0m0 11h0m0 4h0m0-18h0m0 13h0m1 11h0m0-27h0m0 27h0m1 0h0m0 1h0m2-5h0m2-2h0m1-4h0m1 12h0m1-9h0m2-8h0m1-11h0m0 7h0m0 5h0m1 6h0m2 4h0m0-14h0m0-1h0m2 0h0m1 8h0m4-7h0m0 18h0m2-18h0m1 6h0m3-10h0m0 8h0m0-6h0m0 15h0m3-8h0m2 8h0m2-17h0m0 6h0m6 9h0m4-14h0m0 19h0m11-22h0m5-3h0m3 12h0m9-4h0m26 11h0m2 4h0m13 0h0m-315 10h0m9 26h0m5-4h0m6-25h0m5-1h0m4 21h0m13-15h0m5 19h0m2-23h0m6 9h0m0 7h0m1 7h0m1-1h0m3-21h0m1 9h0m1 6h0m1 11h0m0-17h0m5-2h0m1 3h0m1 14h0m4-21h0m0 1h0m1 19h0m1-2h0m0-5h0m2 9h0m0-20h0m0-1h0m2-5h0m1 27h0m1-9h0m0-17h0m0 15h0m0-8h0m1 14h0m3-9h0m1 6h0m0 4h0m1 3h0m1-4h0m1-16h0m0 15h0m0-20h0m0 16h0m2-14h0m0 2h0m1 19h0m2-16h0m0-1h0m1 16h0m1 3h0m1-24h0m0 15h0m1 10h0m0-26h0m0 25h0m0-16h0m1 2h0m1-14h0m1 11h0m0 17h0m0 2h0m2-4h0m1-1h0m0-1h0m0-8h0m0 7h0m0-2h0m1 5h0m0-11h0m0 2h0m0 8h0m1 0h0m0-5h0m0 2h0m0-7h0m0-7h0m0 9h0m2 10h0m0-8h0m0-12h0m1 0h0m0 15h0m0-15h0m0-6h0m0 28h0m0-8h0m0 2h0m1-1h0m0-11h0m1 10h0m0-8h0m0 12h0m0-13h0m0-6h0m0 1h0m1 10h0m0 5h0m1-3h0m0-15h0m0 4h0m1 19h0m0-19h0m0-5h0m0 17h0m1-19h0m0 27h0m0-4h0m0-23h0m1 24h0m0-7h0m1 4h0m0-6h0m0 3h0m0 1h0m0 8h0m1-9h0m0-18h0m0 23h0m0-1h0m0 6h0m1-1h0m0 1h0m0-15h0m0-8h0m0 19h0m0-6h0m0-2h0m1 6h0m0 1h0m0-18h0m0 9h0m0-4h0m1 8h0m0-15h0m0 12h0m0 3h0m2 6h0m0-1h0m0-10h0m0-3h0m0-2h0m1 20h0m0-5h0m0-3h0m0 0h0m1-15h0m0 7h0m0-11h0m0 8h0m0 13h0m0 4h0m1-24h0m0 2h0m0-2h0m0-3h0m0 17h0m0 2h0m0-8h0m0 15h0m0-24h0m0 10h0m1-5h0m0-6h0m0 7h0m0-6h0m0 12h0m0-6h0m0 3h0m1 10h0m0-20h0m1 3h0m0 2h0m0 22h0m1-22h0m0 0h0m0 3h0m0 19h0m0-15h0m0-11h0m1 3h0m0 23h0m1-2h0m1-25h0m0 18h0m1 5h0m0 4h0m0-25h0m0 0h0m0 20h0m0-20h0m1 5h0m0 1h0m0 20h0m0-7h0m1-16h0m0 14h0m0-9h0m0 13h0m0-19h0m0 15h0m0 4h0m1-11h0m1 11h0m0-4h0m0-7h0m0 14h0m0-12h0m1-15h0m0 8h0m1 7h0m0 11h0m0-5h0m0 6h0m0 1h0m1-16h0m0-10h0m0 19h0m0-9h0m1 7h0m0 5h0m0-11h0m0-5h0m0-1h0m0-1h0m0 23h0m0-5h0m1-9h0m0 14h0m1-29h0m0 29h0m0 0h0m0-14h0m1-13h0m0 15h0m0-12h0m0 11h0m1 13h0m0-24h0m0 15h0m1 10h0m0-1h0m0-4h0m0-17h0m0-4h0m1 19h0m0-11h0m0 15h0m0-23h0m0 8h0m0 5h0m0-17h0m1 0h0m0 13h0m0-11h0m1 11h0m0 14h0m1-2h0m0 3h0m0-14h0m1 7h0m0 2h0m0-2h0m1 0h0m0-10h0m0 10h0m0-7h0m0 3h0m1-15h0m0 9h0m0-1h0m0 9h0m0 7h0m1-9h0m0-8h0m1-3h0m0-3h0m0 19h0m0 1h0m0-10h0m1 6h0m0 2h0m0 5h0m0-11h0m0-5h0m1-5h0m0 11h0m0-1h0m1-5h0m0 9h0m0-5h0m0-12h0m0 5h0m1-1h0m0 13h0m0-14h0m1 7h0m0 14h0m0-15h0m0 13h0m0-1h0m1 1h0m0-21h0m1 23h0m0-8h0m0 1h0m0-6h0m1-12h0m0 1h0m0 26h0m1-21h0m0-6h0m0 0h0m0 25h0m1-7h0m0 7h0m0 3h0m1-2h0m1-12h0m0-9h0m0 2h0m0 5h0m0-10h0m1 21h0m0-21h0m0 1h0m1 0h0m0 6h0m0-8h0m1 6h0m0 9h0m0-15h0m1 14h0m0-8h0m0 18h0m0-15h0m1-1h0m0 0h0m0 3h0m0 11h0m0-18h0m1 9h0m0 9h0m0-14h0m1 10h0m0-13h0m0 12h0m0-10h0m1 7h0m0-3h0m0-4h0m0 11h0m0-5h0m0 9h0m1-5h0m1 7h0m0-13h0m1 9h0m0-11h0m0 18h0m1-25h0m0 23h0m0-18h0m1 17h0m0 2h0m1-26h0m0 12h0m0-11h0m1 25h0m0-10h0m1 8h0m0-23h0m1 2h0m0 12h0m1-4h0m0 7h0m0 2h0m1-6h0m0-9h0m0 9h0m0 8h0m0-3h0m1-10h0m0-6h0m1-5h0m1 4h0m0 24h0m0-4h0m0-3h0m1-15h0m0 10h0m1 0h0m0 12h0m0-14h0m0 7h0m0-8h0m0-5h0m1 19h0m0-23h0m1 9h0m0-5h0m1 1h0m1-5h0m0 20h0m0-20h0m0 5h0m1 15h0m0-4h0m0 1h0m0-16h0m1-1h0m0 12h0m0 9h0m0-6h0m1 1h0m0 4h0m1-15h0m0-2h0m0 6h0m1 9h0m0-18h0m0 17h0m0-14h0m1-7h0m2 6h0m0 4h0m0-4h0m0 13h0m1 3h0m1 8h0m0-13h0m1 11h0m0-13h0m0 2h0m1-9h0m0 20h0m1-13h0m1-9h0m1-2h0m0 16h0m0-16h0m1 9h0m0 15h0m1-8h0m0-9h0m1 3h0m0-6h0m1-2h0m0-4h0m1 16h0m2-15h0m1 5h0m0 3h0m2 1h0m0-9h0m0 16h0m0 9h0m1-13h0m2-6h0m1 8h0m0-9h0m1 18h0m2-8h0m4 9h0m2-16h0m0 0h0m1-10h0m1 27h0m9-27h0m0 14h0m9-5h0m3 18h0m3-9h0m3-6h0m8 15h0m0-16h0m4 11h0m2-17h0m164 0h0m-526 25h0m56 28h0m32-28h0m21 5h0m3 13h0m2-18h0m5 21h0m9-13h0m3 10h0m3-13h0m1 15h0m3-19h0m3 16h0m1 3h0m1-19h0m0 7h0m2 15h0m6-17h0m0 5h0m0 8h0m1 4h0m0-7h0m0 0h0m0 6h0m1 5h0m0-12h0m0-2h0m2 7h0m0-6h0m2-10h0m1 8h0m1 13h0m0-13h0m0-8h0m0 0h0m2 19h0m0-4h0m1-7h0m0-3h0m2 3h0m0 0h0m0 13h0m0 3h0m0-8h0m1-14h0m0 21h0m1-16h0m1 5h0m1 3h0m0 2h0m1-16h0m0 6h0m2 2h0m1 7h0m2-19h0m2 22h0m1-3h0m1-15h0m1 22h0m0-25h0m2 1h0m0 23h0m1-8h0m1-8h0m0-4h0m1-7h0m0 1h0m1 16h0m0 6h0m0 7h0m0-6h0m0-17h0m1 20h0m0-15h0m0 6h0m0 1h0m1 1h0m0-2h0m0-11h0m0-5h0m1 22h0m0-20h0m0 1h0m0-3h0m0 4h0m1 23h0m1-1h0m0-13h0m1 2h0m0 4h0m1 5h0m0-6h0m1-2h0m0-7h0m0 12h0m0-13h0m0-9h0m0 1h0m0 12h0m1-2h0m0-2h0m1-3h0m0 11h0m0 9h0m0-2h0m0-22h0m0 0h0m1 6h0m0 19h0m0-7h0m1-20h0m0 26h0m0-4h0m0-16h0m1 1h0m0 11h0m0-12h0m1 21h0m0-23h0m0-2h0m0 1h0m1-2h0m0 15h0m0-5h0m0-10h0m0 11h0m0-2h0m1-10h0m1 6h0m0 15h0m1-21h0m0 15h0m0-5h0m1-6h0m0 13h0m1 1h0m0 6h0m0-24h0m1 5h0m0 13h0m1 9h0m0-5h0m0-1h0m0 2h0m0-3h0m1-14h0m1 13h0m0-1h0m0-13h0m0 20h0m0-11h0m1-9h0m0 2h0m0-6h0m1 7h0m0 7h0m0-12h0m0-3h0m1 26h0m0-21h0m0 20h0m0-16h0m1 1h0m0 18h0m0-28h0m0 23h0m0-1h0m1-5h0m0 2h0m0-16h0m0 15h0m1-11h0m0 12h0m0-14h0m1 23h0m0-1h0m0-10h0m0 0h0m1 6h0m0-24h0m0 10h0m0 5h0m1-1h0m0 15h0m0 1h0m0-1h0m1-23h0m0 15h0m0 1h0m1-12h0m0-7h0m0 7h0m0 6h0m1 3h0m0-13h0m1-3h0m0 15h0m0-5h0m1-11h0m0 4h0m0 21h0m1 1h0m0-23h0m0 3h0m0 20h0m0-21h0m1 16h0m0-11h0m0-1h0m0-7h0m1 24h0m0-6h0m0-20h0m0 4h0m0 21h0m2-11h0m0 1h0m0 13h0m0-13h0m0 9h0m0-1h0m1 0h0m0-13h0m0-8h0m1 9h0m0 5h0m0 0h0m0 9h0m0-16h0m0 0h0m0-7h0m1 14h0m0-4h0m0-5h0m0-2h0m0 2h0m0 19h0m0-26h0m0 9h0m1-5h0m0 1h0m0-2h0m0 23h0m1-10h0m0-7h0m0 5h0m0 4h0m0-11h0m0 16h0m0-12h0m1 15h0m0-8h0m0-19h0m1 11h0m0-6h0m1 10h0m0 2h0m0-15h0m0-2h0m1 22h0m0-18h0m0-4h0m0 18h0m0-5h0m0-6h0m0-7h0m1 16h0m0 12h0m0-18h0m0-11h0m1 23h0m0-21h0m0 23h0m0 0h0m0-11h0m0-3h0m0-4h0m1-1h0m0 23h0m0 0h0m1-26h0m0 6h0m0 8h0m0-8h0m0 6h0m1-11h0m0-2h0m0-1h0m0 21h0m0-1h0m1-16h0m0-4h0m0 23h0m1-12h0m0-2h0m0 4h0m0 9h0m0-19h0m1 1h0m0 14h0m0 6h0m0-6h0m0 10h0m0-5h0m2-22h0m0 17h0m1-16h0m0 6h0m0-3h0m1 17h0m0 6h0m0-11h0m1-15h0m0-1h0m1 25h0m0-21h0m1 18h0m0 5h0m1 0h0m0-5h0m0-22h0m2 24h0m0 0h0m0-12h0m0-5h0m1 2h0m0 5h0m0 13h0m0-8h0m1-1h0m0-9h0m0 6h0m0 4h0m0 4h0m1 1h0m1-20h0m0-2h0m0 13h0m0 10h0m1-7h0m0 3h0m0-6h0m1 9h0m0 3h0m0-24h0m0 22h0m0-1h0m0-9h0m1-10h0m0 10h0m0 7h0m0-15h0m0 3h0m1 9h0m0-18h0m0 11h0m0-6h0m1 3h0m0-2h0m1-7h0m0 6h0m1 18h0m0-15h0m0 5h0m0 9h0m1-14h0m0-8h0m1-2h0m0 28h0m1-15h0m0 3h0m0 8h0m0-13h0m0-12h0m3 9h0m1 8h0m1-6h0m1 17h0m0-20h0m0 18h0m0-10h0m0 1h0m1-1h0m0-11h0m1 19h0m1-1h0m0-19h0m1-2h0m1 5h0m2-5h0m1 8h0m0 15h0m1-3h0m0-9h0m1-12h0m0 17h0m0-16h0m1 1h0m0 1h0m0-4h0m1 6h0m0 3h0m0 15h0m0-12h0m0 9h0m1-4h0m0 8h0m2-22h0m1 10h0m0-10h0m1 12h0m2-9h0m0-4h0m0 21h0m0-8h0m1 11h0m0-20h0m0 10h0m0 3h0m2 10h0m1-11h0m0-16h0m2 15h0m0 6h0m2-5h0m0-8h0m0 6h0m1-13h0m0 5h0m0 9h0m1-1h0m0-8h0m2-3h0m0 9h0m0-13h0m1 3h0m2 24h0m0 1h0m2-11h0m2-13h0m1 19h0m4-8h0m2-11h0m1 13h0m3 2h0m0-18h0m1 8h0m5 15h0m5-21h0m1 3h0m1 3h0m1 2h0m1-11h0m2 10h0m11 18h0m15-12h0m0-5h0m42-4h0m42 9h0m38 7h0m4 3h0m98-10h0m-528 25h0m51-8h0m8 19h0m1-22h0m7 3h0m8 3h0m2 1h0m0-7h0m0 24h0m3-19h0m0 0h0m3 19h0m7-19h0m2 16h0m1-14h0m1 5h0m4 1h0m2-10h0m0 2h0m1 2h0m3-1h0m1 10h0m0 1h0m1 0h0m1-17h0m0 16h0m1-15h0m0 14h0m1 8h0m1 6h0m0-23h0m0 2h0m1 7h0m1 12h0m2-21h0m0-6h0m0 21h0m1-22h0m0 12h0m1 14h0m2 3h0m0-17h0m0 5h0m1-12h0m0 2h0m1-3h0m0-2h0m0 7h0m1 1h0m0-9h0m0 15h0m1 11h0m0-9h0m3-17h0m0 14h0m0-9h0m1-1h0m0 6h0m0-8h0m0 26h0m2-4h0m1-19h0m0 2h0m0-4h0m1-3h0m0-1h0m2 7h0m1 6h0m1-3h0m0 8h0m0-7h0m1-4h0m1 5h0m0 18h0m0-13h0m2 1h0m0-16h0m0 26h0m2-13h0m1-4h0m0 2h0m1-5h0m0 16h0m0-18h0m1-5h0m1 6h0m1 15h0m0-21h0m1 24h0m1-14h0m1-10h0m2 21h0m1-16h0m0-5h0m0 22h0m0-4h0m0-6h0m1-1h0m0 8h0m0-5h0m0-14h0m1 12h0m0-9h0m1 18h0m1-8h0m1-1h0m0-6h0m1 14h0m0 2h0m2-19h0m0-2h0m1 9h0m0 2h0m0 2h0m1-8h0m0 20h0m1-15h0m1-11h0m0 13h0m1-6h0m0-5h0m0 19h0m1-18h0m0 23h0m0 0h0m0-7h0m0-19h0m2 5h0m1 15h0m2 7h0m2-24h0m0 18h0m2-22h0m1 8h0m0-6h0m1 6h0m1 10h0m0-16h0m1 17h0m0-15h0m0 10h0m1 10h0m0 1h0m0-5h0m0-14h0m1 8h0m0 14h0m1-22h0m1 5h0m0 19h0m0-19h0m1-1h0m1 0h0m1 12h0m1-4h0m1 7h0m1-1h0m1-13h0m0 8h0m0-9h0m1-9h0m0 13h0m0 13h0m3-17h0m1 12h0m0-1h0m1-3h0m1-4h0m3 8h0m1-21h0m1 15h0m0-14h0m1 16h0m2-5h0m0-12h0m1 7h0m2 15h0m0-9h0m1 8h0m3-21h0m0 4h0m0 21h0m1-17h0m0 2h0m0-8h0m0 7h0m0 3h0m1-1h0m1-1h0m0 18h0m0-7h0m2-19h0m5 17h0m1-18h0m1 6h0m1 11h0m1-8h0m6-7h0m0 21h0m1 4h0m5-24h0m4 5h0m3 14h0m10-23h0m8 28h0m1-17h0m3 0h0m2-2h0m27 10h0m57-7h0m7 16h0m5-9h0m28-6h0m18 12h0m3-6h0m35-1h0m-429 20h0m8 7h0m26-3h0m7 3h0m16 12h0m7-8h0m1 2h0m2-15h0m2-5h0m7 0h0m5 17h0m5-8h0m18 5h0m4-10h0m1 13h0m0-8h0m1-2h0m3-5h0m1 10h0m2-7h0m1-4h0m4 0h0m0 2h0m2 1h0m2 7h0m4-5h0m5 1h0m2 9h0m0-16h0m2 14h0m1-13h0m1 6h0m1-4h0m4 2h0m1 7h0m3-4h0m5-9h0m1 29h0m5-17h0m2-1h0m2-6h0m0 18h0m1-19h0m0 18h0m2-18h0m10 2h0m5 2h0m1-7h0m2 9h0m5-5h0m1-4h0m0 4h0m1 3h0m26-4h0m1 13h0m20-12h0m16-4h0m29 15h0m1-4h0m18 4h0m2-2h0m3 6h0m15 5h0m7 2h0m3-17h0m9 0h0m4 9h0m6-4h0m18 6h0m4-10h0m2 6h0m11 2h0m5-9h0m5 13h0m8-16h0m5 16h0m6-8h0m7 13h0m7-6h0m65-18h0m-456 39h0m56-7h0m3-1h0m42 13h0m27-16h0m28 12h0m58 9h0m9-10h0m11 14h0m4-15h0m0 7h0m4-5h0m19 6h0m1-20h0m7 29h0m2-29h0m1 28h0m1-19h0m3 12h0m3-2h0m0-9h0m3-6h0m1 8h0m12 16h0m3-6h0m1-20h0m4 2h0m0 10h0m2 1h0m3 13h0m1-14h0m3-2h0m2 9h0m0 8h0m3-19h0m0 8h0m3-14h0m4 20h0m1-13h0m2-12h0m1 22h0m2 8h0m3-4h0m2-18h0m2 18h0m2-24h0m4 12h0m5 13h0m0-1h0m1-26h0m0 15h0m3-13h0m9 24h0m1-22h0m0 0h0m2 2h0m1 19h0m2-2h0m1-4h0m0 10h0m4-7h0m0 1h0m3-13h0m1-2h0m3-2h0m3 19h0m5-3h0m10-13h0m3 15h0m16 0h0m15-15h0m16 2h0m-256 36h0m25 6h0m4-6h0m7-12h0m16-1h0m1 6h0m2 10h0m0-15h0m1-5h0m4 17h0m0-3h0m2 10h0m3-20h0m1 26h0m1-23h0m2 12h0m5-11h0m0-8h0m2 24h0m0 2h0m2-14h0m0 2h0m2 3h0m3 7h0m1-10h0m1 12h0m3-17h0m1 17h0m1-11h0m0-6h0m4 16h0m0-4h0m3 4h0m1-8h0m1-17h0m0 26h0m5-1h0m0-24h0m0 22h0m1-6h0m2 11h0m0-23h0m2 25h0m1-20h0m2 0h0m1 9h0m1-5h0m0-5h0m1 1h0m3 15h0m2-15h0m0 10h0m2-3h0m4-8h0m1 8h0m0 12h0m2-3h0m0-2h0m5-12h0m1 5h0m0-7h0m1 2h0m1 9h0m4-6h0m3-11h0m1-3h0m3 18h0m2 10h0m7-18h0m3 3h0m0-13h0m3 27h0m5-18h0m1-9h0m1 8h0m3 5h0m3-1h0m10-2h0m3-9h0m2 3h0m5 10h0m3 6h0m7-3h0m1-4h0m1 8h0m4-16h0m16 15h0m7-9h0m-245 32h0m32 16h0m2-10h0m11 6h0m2 3h0m16-17h0m6 3h0m5-11h0m3 10h0m0-4h0m2-1h0m1-7h0m2 18h0m2-6h0m2 8h0m0-3h0m1-1h0m2-5h0m1-2h0m1 0h0m4-6h0m3 10h0m2 0h0m16-3h0m1 15h0m2-10h0m6 10h0m2-17h0m1 2h0m2 11h0m1-12h0m0-8h0m0 18h0m4-20h0m1 9h0m0-4h0m3 22h0m2-22h0m4 20h0m3-8h0m3-16h0m3 2h0m4 4h0m0 14h0m0-4h0m4-7h0m1 1h0m0 12h0m3 2h0m2-4h0m3 4h0m0-23h0m1 6h0m4 2h0m2 1h0m8-8h0m0 23h0m1-3h0m3-14h0m2 7h0m1-7h0m2 2h0m1-12h0m33 27h0m11-19h0m17 6h0m-229 24h0m6 1h0m6 5h0m4-13h0m0 18h0m16-17h0m6 4h0m2 13h0m3 3h0m4-15h0m2-4h0m0-1h0m29 0h0m0 17h0m3 0h0m0-18h0m6 6h0m8 1h0m1 19h0m0-17h0m10 15h0m0-11h0m16-10h0m10 6h0m8 13h0m13-12h0m1 2h0m8-9h0m1 4h0m-181 23h0m48 21h0m91 8h0m4-9h0m5-12h0m43 2h0m-65 28h0m6-6h0m78 11h0m-306 73h0" stroke="#000" stroke-width="7.5" stroke-linecap="round" fill="none"/>
<ellipse cx="305.6" cy="584.2" rx="9.6" ry="8.2" fill="#000"/>
<path transform="scale(.1)" d="M2866 5485h0m97 17h0m88-11h0m-447 33h0m434 88h0m18 27h0m93-13h0m-229 38h0m91-2h0m129-6h0m-442 24h0m90-9h0m13 14h0m144-7h0m46-2h0m4 2h0m9 16h0m46 3h0m23 1h0m11-6h0m18 8h0m38-15h0m-223 25h0m36 8h0m14 5h0m24-7h0m6 14h0m3-23h0m18 15h0m3 3h0m3-14h0m3-7h0m0 22h0m3-2h0m9 4h0m7-9h0m6 1h0m4-6h0m6 4h0m3 7h0m0-17h0m13 5h0m8 10h0m10 7h0m6-1h0m7-9h0m14-6h0m10-1h0m14 14h0m0-17h0m57 2h0m-338 34h0m7-3h0m45 16h0m8-17h0m11 8h0m1-15h0m19 0h0m1 16h0m2-10h0m6-6h0m3 13h0m6-2h0m1-13h0m4 25h0m0 2h0m2-27h0m4 24h0m1-7h0m1 5h0m6-13h0m2-3h0m3 10h0m3-3h0m0 7h0m4-4h0m0 2h0m0-21h0m1 6h0m0-3h0m5 22h0m2 1h0m0-7h0m0-10h0m1 8h0m5 6h0m2-22h0m1 15h0m0-7h0m1 18h0m1 0h0m4-6h0m2-1h0m2 0h0m3-17h0m1 18h0m0 7h0m1-19h0m1 16h0m1-22h0m5 25h0m1-12h0m2-12h0m1 24h0m1-13h0m3 9h0m0-9h0m3 7h0m1-3h0m0-17h0m1 0h0m0 11h0m1 9h0m2-7h0m0-13h0m0 16h0m1-3h0m3-10h0m2 24h0m1-13h0m0-5h0m0-1h0m1-10h0m2 27h0m3-15h0m0-11h0m0 20h0m2-16h0m1 0h0m1 19h0m6-11h0m0 9h0m0-6h0m0-15h0m3 12h0m0 16h0m2-7h0m0 6h0m4-11h0m3 9h0m0 1h0m1-8h0m0 1h0m4-3h0m1 5h0m0 7h0m1-15h0m1 3h0m0 4h0m0-4h0m2-6h0m2 14h0m0-14h0m1 6h0m2-15h0m1 18h0m4 8h0m0 1h0m0-4h0m1-6h0m1-1h0m1-15h0m5 14h0m1 0h0m6-1h0m12-5h0m9 17h0m7 2h0m0-10h0m4-20h0m1 10h0m0 7h0m2-1h0m13-9h0m4 11h0m21-1h0m3-14h0m-412 46h0m26 1h0m3-1h0m41-2h0m0-4h0m7 12h0m15-3h0m22-11h0m7-8h0m10 19h0m9-4h0m2-1h0m1-5h0m2 3h0m5-1h0m1-4h0m8 16h0m1-7h0m3-14h0m4 21h0m6-2h0m0-3h0m1-15h0m1 6h0m1-1h0m0 12h0m1-7h0m2-14h0m0 12h0m2 2h0m0-5h0m1 8h0m2-11h0m0 20h0m1-5h0m3-20h0m1 4h0m0 1h0m2 19h0m1 1h0m0-20h0m0 11h0m1 4h0m2-9h0m1-13h0m0 28h0m1-7h0m1 8h0m1-23h0m0 23h0m2-6h0m2-23h0m1 4h0m1 7h0m1 8h0m2 7h0m0-1h0m0-13h0m1 16h0m0-8h0m0 5h0m4-13h0m1 7h0m2-11h0m0 3h0m0 13h0m0 4h0m1-5h0m1-5h0m1-6h0m0-8h0m1 7h0m3-11h0m1 21h0m1-7h0m0-11h0m0 5h0m1 4h0m0 16h0m1-2h0m1-19h0m1 21h0m2 1h0m0-10h0m0-19h0m3 21h0m0 2h0m2 3h0m0-22h0m1 14h0m0-11h0m0-6h0m0 8h0m1 2h0m0 9h0m1-21h0m1 19h0m1 10h0m1-3h0m1-25h0m0 10h0m0 9h0m0-10h0m0-9h0m0 7h0m2 17h0m0-2h0m1-12h0m0 19h0m0-22h0m1 11h0m0-6h0m1 13h0m0-4h0m1 2h0m0-21h0m3 23h0m1-25h0m0 21h0m1-19h0m0 9h0m1-1h0m0 4h0m1 12h0m0-21h0m0 13h0m2-17h0m0 1h0m2 24h0m1-27h0m1 14h0m0 0h0m0 15h0m1-17h0m0 14h0m0-6h0m0 7h0m0-6h0m1-6h0m0 11h0m0-5h0m1 6h0m1-4h0m1-9h0m0-2h0m1 5h0m1-5h0m0 12h0m0-15h0m1 16h0m0-7h0m0-2h0m0-11h0m1 14h0m0-2h0m0 2h0m1-13h0m0 13h0m0-10h0m1 11h0m0 3h0m1-21h0m1 28h0m0-2h0m2-23h0m2 6h0m0-7h0m1 4h0m0-2h0m3 1h0m0 8h0m0 2h0m1 8h0m1-21h0m0 0h0m1 25h0m0-11h0m1-7h0m1 17h0m0-7h0m0 5h0m2 3h0m1-20h0m0 8h0m2 0h0m3-17h0m0 24h0m0 4h0m0 1h0m0-22h0m2 8h0m2-5h0m0 6h0m2 6h0m1-9h0m1 9h0m0-19h0m1 11h0m0-5h0m1 15h0m0 3h0m1-13h0m1 2h0m1 12h0m1-3h0m6 3h0m0-17h0m1 9h0m0-9h0m2 3h0m0-13h0m1 17h0m0-14h0m1 22h0m2-13h0m1 15h0m1-16h0m0 4h0m0 11h0m0-5h0m1-14h0m1-4h0m3 23h0m2-25h0m0 12h0m3-10h0m0 8h0m0-1h0m1-1h0m1-5h0m0 2h0m1 18h0m0-11h0m2 1h0m3 0h0m2 14h0m0-14h0m0-12h0m1 16h0m0-13h0m0-3h0m2 4h0m0 22h0m7-2h0m2-5h0m2-14h0m2 13h0m6-2h0m4-5h0m3-9h0m0-3h0m9 10h0m20-5h0m2-6h0m0 10h0m2 9h0m7-3h0m7 5h0m10 7h0m2-15h0m-564 42h0m47-2h0m160-18h0m12 16h0m1 3h0m4 5h0m14-4h0m4-2h0m10-21h0m1 19h0m5-3h0m1 8h0m5-15h0m0 14h0m5-22h0m4 25h0m3 0h0m0-11h0m2-17h0m4 15h0m1-13h0m1 18h0m1-15h0m1 9h0m0-12h0m6 23h0m2-1h0m0-21h0m0 6h0m1 10h0m1 9h0m0-18h0m0 3h0m1-7h0m1 19h0m0-23h0m6-2h0m2 16h0m2-13h0m0-3h0m0 13h0m0 10h0m1 3h0m1-15h0m1 7h0m2 4h0m4 4h0m1-4h0m1-16h0m0 6h0m0 4h0m0 12h0m1-26h0m0 18h0m3-15h0m0 6h0m0 15h0m0-22h0m1 10h0m1 7h0m1-9h0m0-10h0m0-3h0m1 6h0m1 7h0m0 0h0m1-7h0m0 13h0m1 6h0m0-1h0m1 2h0m1-1h0m1-14h0m1-10h0m1 3h0m1 24h0m0-5h0m1-9h0m0-7h0m0 10h0m0 2h0m1-4h0m1-11h0m0-4h0m0 13h0m1 14h0m0-13h0m0 15h0m0-8h0m0-14h0m1 11h0m0 12h0m0-6h0m0-14h0m0 13h0m1-12h0m0 6h0m3 9h0m0-22h0m0 16h0m0 2h0m1-19h0m2 3h0m1 16h0m0-18h0m0 19h0m0-17h0m0 9h0m1-14h0m0 16h0m0-7h0m1 13h0m0-3h0m2-2h0m0-3h0m1-11h0m0 15h0m0-17h0m2 12h0m1 15h0m0-15h0m0 11h0m0-13h0m0-1h0m0 14h0m1-9h0m1 14h0m1-17h0m0 3h0m0 6h0m0-3h0m1 7h0m0 1h0m4-16h0m1-6h0m0 1h0m0 9h0m1 12h0m0-21h0m0 22h0m1-14h0m1-4h0m0 14h0m1-4h0m0-12h0m1 12h0m0-20h0m2 28h0m0-16h0m0 15h0m0-9h0m0-17h0m1 29h0m0-26h0m0 6h0m1 17h0m0-15h0m0 16h0m0-4h0m1-12h0m1 8h0m0-19h0m0 23h0m0-6h0m1 12h0m0-18h0m0 9h0m1-17h0m1 10h0m0 14h0m1 0h0m1-19h0m0-2h0m1-5h0m1 8h0m0-6h0m0 23h0m1-2h0m0-4h0m1-8h0m0-7h0m0 9h0m1-14h0m0 11h0m1 4h0m0 8h0m0-15h0m1 0h0m0 6h0m0-14h0m1 23h0m0-4h0m0-5h0m0 11h0m0-1h0m1-24h0m0-1h0m0 16h0m1-9h0m1 21h0m0-2h0m1-14h0m0 11h0m1 0h0m0-12h0m0 17h0m0-6h0m1-14h0m0 14h0m0 3h0m0-7h0m1-2h0m0-12h0m0 2h0m0 21h0m0-8h0m1-19h0m0 20h0m1-12h0m0 18h0m0-17h0m0-2h0m1-1h0m0 20h0m1-8h0m0-5h0m1 5h0m0 11h0m0 0h0m0-26h0m0-1h0m0 23h0m0-21h0m0 24h0m1-1h0m0-8h0m0 0h0m1 9h0m0-12h0m1-1h0m0 7h0m0-11h0m0-3h0m1 4h0m0-9h0m1 19h0m0-18h0m1-3h0m0 7h0m0-6h0m0 25h0m0-1h0m0-1h0m1-7h0m0 10h0m0-12h0m1-9h0m1 11h0m0-15h0m0 25h0m0-15h0m0 12h0m1 5h0m0-26h0m2-3h0m0 14h0m0-2h0m1 8h0m0-20h0m1 12h0m0-12h0m0 14h0m0 3h0m1 0h0m1 1h0m2-12h0m1 1h0m0 16h0m1-17h0m0-2h0m0 6h0m2 7h0m0-4h0m0 11h0m1 2h0m3-4h0m0-5h0m0-17h0m1 4h0m0 17h0m1-16h0m0 10h0m2 2h0m0-3h0m1-12h0m0 24h0m0-4h0m1-21h0m0 10h0m1-12h0m1 4h0m0 25h0m0-11h0m2-14h0m1-2h0m0 16h0m0 1h0m1-16h0m0-1h0m1 27h0m1-20h0m0-2h0m1-3h0m2 2h0m0 9h0m0 4h0m1-4h0m0 8h0m1-2h0m1-18h0m2 15h0m0 5h0m2-22h0m1 24h0m0 0h0m1-18h0m0 18h0m0 0h0m1-5h0m1-14h0m0 9h0m1-14h0m0 8h0m0 1h0m0 8h0m1-14h0m0 12h0m1-10h0m1 13h0m0-4h0m1 4h0m0 2h0m1 4h0m0-20h0m1 13h0m0 3h0m1-1h0m1 10h0m1-9h0m0 2h0m0-9h0m2-5h0m2 11h0m0 3h0m1-17h0m2-3h0m0 20h0m1-11h0m0-3h0m0 7h0m1 9h0m1-9h0m0-4h0m1 4h0m1-8h0m1 8h0m0 12h0m0-25h0m1 3h0m1 5h0m2 16h0m0-27h0m1 7h0m0 22h0m4-1h0m1 2h0m0-10h0m1-16h0m1 11h0m2-8h0m0 11h0m2 5h0m0-13h0m0 0h0m3 2h0m1 17h0m0-18h0m1 14h0m0-8h0m1 8h0m0-16h0m2 0h0m5 0h0m4 10h0m1 3h0m2-3h0m2 8h0m3-8h0m1 10h0m1-20h0m0 19h0m1-16h0m0-11h0m5 5h0m1 18h0m2-15h0m3-7h0m0 11h0m5 5h0m1 10h0m4-18h0m0 14h0m2 3h0m1-25h0m18-1h0m-466 40h0m111-5h0m3 19h0m0-16h0m5 16h0m16-22h0m0 22h0m4-15h0m0 10h0m6-6h0m3-10h0m5 0h0m4 22h0m3-12h0m2-12h0m5 17h0m2-16h0m1 6h0m2 6h0m5 2h0m1 3h0m1-18h0m0 7h0m1 0h0m1-2h0m2 11h0m0 3h0m1-17h0m1 2h0m1 22h0m1-1h0m1-4h0m1-11h0m1 13h0m1-5h0m1-19h0m1 20h0m1-15h0m0 1h0m2 15h0m0-13h0m0 7h0m1 0h0m0 7h0m1 4h0m0-22h0m1-4h0m0 27h0m1 0h0m1-14h0m0 0h0m0 13h0m1-6h0m0-5h0m0-1h0m1-10h0m0 2h0m1-2h0m1 7h0m0 13h0m1 2h0m2-13h0m1 0h0m0-13h0m0-1h0m1 5h0m1 0h0m0 15h0m2 5h0m0-9h0m0-7h0m0 21h0m1-2h0m0 1h0m0-15h0m1 6h0m0 3h0m0-14h0m0 6h0m1 2h0m0-17h0m1 30h0m1-17h0m1 6h0m0 7h0m0-3h0m0 4h0m0-18h0m2 4h0m0 0h0m1 13h0m1-12h0m0-2h0m0 2h0m1-4h0m0-2h0m0 13h0m0-8h0m0-7h0m0 11h0m1 6h0m0-23h0m0 26h0m0-5h0m1 7h0m0-6h0m1-21h0m0 12h0m0 12h0m1-10h0m0-6h0m0 13h0m1-5h0m0-4h0m0 2h0m0-11h0m0 20h0m1-13h0m0 11h0m0-1h0m1 8h0m2-23h0m0-4h0m0 7h0m1 12h0m0-20h0m1 15h0m0 8h0m1 1h0m1-19h0m0-2h0m0 14h0m0-7h0m1-1h0m0 19h0m0-25h0m2 16h0m0 1h0m0 6h0m1 3h0m1-23h0m0 4h0m0-2h0m2 20h0m0-27h0m0 12h0m1-3h0m0-10h0m0 22h0m1 3h0m0-18h0m0-7h0m0 21h0m1 0h0m0 8h0m0-11h0m0-18h0m0 25h0m0-26h0m1 10h0m0-2h0m0 19h0m0-26h0m1 19h0m0-17h0m0 20h0m0 7h0m1-26h0m0 20h0m0-17h0m0 12h0m2 4h0m0-17h0m0 14h0m1-16h0m1 16h0m0-1h0m1-7h0m1-2h0m0 4h0m0 3h0m1-13h0m0 4h0m0 3h0m1-5h0m0 16h0m0-6h0m0 2h0m0 10h0m1-11h0m1-2h0m0-14h0m0 8h0m0 21h0m0-4h0m1-21h0m0 9h0m0 2h0m0 11h0m1-13h0m0-3h0m1 2h0m0 5h0m0-9h0m0 21h0m0-12h0m1 10h0m1-25h0m0 7h0m1-9h0m0 14h0m1 12h0m0-11h0m1 5h0m0-1h0m0-6h0m1 8h0m0-11h0m0 18h0m1-4h0m0-24h0m1 6h0m1 3h0m0 18h0m0-19h0m0 8h0m1 4h0m0-17h0m1 4h0m0 19h0m0-8h0m0-6h0m0 10h0m1-7h0m0 7h0m0-4h0m1 10h0m0-17h0m1 10h0m0 5h0m0-22h0m0 10h0m1 0h0m0 14h0m0-21h0m0 16h0m1 5h0m0 0h0m0-24h0m1 19h0m0 0h0m0-13h0m1 4h0m0 12h0m0-22h0m0 13h0m0 11h0m0-23h0m0 3h0m0 20h0m1-12h0m1 13h0m0-21h0m1-2h0m0 8h0m0 13h0m1-19h0m0-7h0m0 1h0m0 7h0m0 9h0m0-3h0m1 4h0m0-6h0m0-10h0m0 2h0m1 13h0m0-11h0m0 20h0m1-23h0m0 13h0m0-14h0m0 6h0m1 13h0m0-9h0m0-4h0m0-4h0m1 10h0m0 11h0m1-14h0m1 8h0m0 8h0m0-1h0m0 0h0m0 1h0m0-15h0m1-11h0m0 18h0m1-2h0m1-11h0m0 17h0m0-5h0m0-4h0m1 5h0m0-17h0m0 4h0m0-4h0m0-2h0m0 1h0m1 27h0m0-9h0m0-6h0m0 0h0m0 13h0m1-8h0m0-1h0m0 3h0m1 4h0m1 2h0m0-7h0m0-9h0m0-4h0m1 9h0m1 2h0m0 11h0m0-13h0m0-3h0m0-9h0m0 7h0m1 6h0m0-9h0m0 17h0m0-20h0m0 22h0m0-10h0m1 4h0m0-21h0m1 24h0m0-3h0m0-7h0m0-3h0m1 10h0m0-9h0m0-9h0m0 21h0m0-7h0m1-9h0m0 2h0m1-9h0m1 20h0m0 7h0m0-1h0m1-6h0m0-5h0m0 5h0m1-18h0m0 7h0m0 1h0m0-9h0m1 13h0m0 12h0m0-15h0m0-10h0m0 0h0m0 9h0m0 0h0m0-4h0m1 15h0m0-21h0m0 18h0m1-15h0m1 24h0m0-5h0m0 1h0m2-19h0m0 4h0m0-6h0m0 25h0m1-29h0m0 12h0m1 9h0m0-12h0m1 2h0m1-5h0m0 7h0m0-9h0m0 1h0m0 6h0m1-8h0m0 25h0m0-23h0m0-4h0m1-1h0m0 16h0m0 8h0m0 5h0m1-20h0m0 16h0m0-5h0m0 2h0m1-7h0m1-3h0m0 6h0m0 2h0m0 6h0m0-16h0m1 4h0m0-7h0m0 4h0m1 14h0m0-12h0m0-1h0m0-11h0m0 5h0m1 4h0m0 14h0m0 4h0m1-19h0m0 20h0m1-10h0m0-9h0m1 16h0m0-2h0m0-20h0m1 4h0m0 16h0m1-16h0m1-3h0m0 4h0m0 1h0m0 13h0m1 1h0m0 3h0m1-18h0m0 17h0m0-6h0m0 4h0m1 2h0m0-10h0m0-7h0m1 12h0m0-21h0m2 16h0m0-14h0m1 22h0m0-21h0m0 6h0m1 1h0m0 14h0m1-17h0m2 5h0m1 14h0m0-14h0m0 9h0m1-5h0m1-4h0m0 9h0m0-1h0m0-4h0m1-1h0m0 13h0m0-17h0m0 1h0m0 6h0m0 5h0m1-1h0m0-17h0m1 5h0m0-8h0m1 4h0m0 6h0m0 3h0m0-9h0m0 5h0m1 0h0m1 17h0m1-24h0m0 19h0m1-19h0m1 15h0m1-12h0m0 13h0m0-13h0m0 2h0m2 11h0m0 0h0m1-9h0m0 12h0m0-19h0m0 25h0m0-17h0m1-2h0m0-6h0m0 4h0m1 21h0m2-12h0m0 2h0m0-17h0m2 27h0m1-10h0m0-12h0m1-4h0m1 2h0m0 12h0m2 0h0m1-14h0m1 8h0m0 14h0m1-18h0m1-4h0m0 21h0m1 5h0m1-22h0m0 14h0m0-9h0m1 9h0m1-13h0m0 13h0m0 6h0m0-17h0m1 14h0m1-7h0m1-10h0m0 13h0m1-17h0m1 19h0m1-19h0m1 9h0m1-10h0m1 3h0m0 15h0m1-9h0m0-10h0m0 24h0m1 2h0m3-16h0m0 8h0m1 0h0m0-17h0m1 24h0m0-7h0m1-8h0m0 11h0m2-1h0m1-19h0m1 17h0m1-17h0m4 9h0m0 13h0m1-21h0m3 9h0m0 13h0m4-23h0m1 21h0m2-2h0m3 9h0m5-16h0m6-6h0m5-4h0m1 20h0m3-10h0m4-7h0m15 4h0m4-1h0m-445 34h0m74-3h0m22-9h0m8 0h0m5 8h0m5-9h0m9 0h0m3 8h0m0-8h0m3 2h0m1 8h0m3 4h0m0 0h0m5 8h0m2 4h0m4-17h0m1 6h0m2-4h0m2 13h0m1-8h0m0-12h0m2 14h0m0 3h0m1-1h0m0 0h0m0 0h0m2-7h0m1-11h0m1 18h0m2-1h0m1 8h0m1 1h0m1-4h0m1-7h0m1 4h0m2 1h0m0 6h0m0-10h0m1-1h0m2 10h0m1-19h0m0 3h0m0-7h0m0 4h0m3-5h0m0 10h0m1-4h0m0 3h0m0-10h0m1 2h0m1 20h0m0 3h0m0-24h0m1 16h0m0 9h0m0-9h0m0 4h0m1-16h0m0-2h0m0 12h0m1-14h0m1 11h0m0-1h0m0 13h0m0 2h0m1-24h0m0 22h0m1-9h0m0-5h0m1 14h0m1-25h0m0 20h0m0-9h0m1 16h0m0-15h0m2-10h0m0 18h0m2-8h0m4 13h0m0-5h0m0 2h0m1-19h0m0 19h0m0-1h0m1-9h0m0 0h0m2 0h0m0 7h0m0-19h0m1 26h0m0-21h0m0-4h0m0 14h0m1-3h0m2 4h0m0-11h0m1 16h0m0-16h0m3 8h0m1 8h0m1 6h0m1-21h0m0 19h0m1-15h0m1-5h0m0 9h0m1-8h0m0-7h0m0 24h0m0-22h0m0 13h0m1-9h0m0-2h0m1 12h0m0 5h0m1-12h0m0 4h0m2 12h0m0 0h0m0-10h0m0 10h0m1-18h0m0-3h0m0 15h0m1-7h0m0 1h0m1-8h0m1 2h0m1 19h0m0-5h0m1-10h0m0 17h0m0-27h0m1 14h0m0 14h0m0-28h0m1 26h0m0-4h0m0 2h0m2-16h0m0-9h0m1 5h0m0 5h0m1 8h0m0-3h0m1 10h0m1-10h0m0-10h0m0 1h0m1 12h0m0-14h0m0 16h0m1-3h0m0 1h0m2 10h0m0-23h0m1 9h0m0-15h0m1 2h0m2 28h0m0-21h0m0 19h0m0-11h0m1-14h0m0 7h0m1 20h0m0-4h0m1-16h0m0-5h0m0-4h0m0 27h0m1-17h0m0 7h0m1 2h0m0-16h0m0 13h0m0-11h0m0 6h0m0 16h0m1-3h0m0 0h0m0-23h0m0 19h0m3-17h0m0 1h0m0 14h0m1-1h0m0 3h0m1-9h0m1 8h0m0-3h0m2 2h0m0-8h0m1-3h0m0-2h0m1-4h0m0 19h0m0-4h0m0 9h0m0-10h0m0-16h0m1 8h0m0-3h0m1 21h0m0-8h0m0 2h0m1-18h0m0 23h0m0-18h0m0 4h0m0-4h0m2-6h0m1 29h0m0-27h0m1 2h0m1-2h0m0 0h0m0 18h0m1-4h0m0 10h0m0-1h0m0 3h0m1-2h0m0-17h0m1 11h0m1-2h0m0 7h0m0-23h0m0 7h0m1-7h0m0 17h0m0-16h0m0 3h0m0 16h0m0-19h0m1 6h0m0-9h0m0 17h0m1-11h0m0 13h0m0-1h0m1 4h0m0-3h0m0-5h0m1 10h0m0 2h0m1 3h0m0-22h0m0 7h0m0-5h0m0 1h0m0-5h0m1 23h0m0-24h0m0 22h0m0-9h0m0-5h0m0 5h0m0 2h0m1-4h0m0 10h0m1-5h0m1 0h0m1-8h0m0 1h0m0 15h0m0-2h0m0-22h0m1-3h0m0 1h0m0 3h0m0 3h0m0 18h0m1-19h0m1-7h0m0 19h0m0-19h0m1-1h0m0 20h0m0-3h0m0 6h0m0 6h0m1-5h0m0-3h0m0 8h0m1-5h0m0-21h0m0 18h0m0-20h0m1 21h0m0-16h0m0 14h0m0-12h0m0-3h0m1-1h0m0 3h0m1 9h0m0-4h0m0-9h0m0 19h0m1-14h0m0-4h0m0 21h0m0-21h0m0 1h0m1 3h0m0 5h0m0-2h0m1-9h0m0 18h0m1 10h0m2-12h0m0-8h0m0 15h0m0-16h0m0 18h0m0-27h0m0 20h0m1 5h0m1-19h0m0 9h0m0 14h0m0-5h0m1-23h0m0 24h0m0-21h0m0-1h0m0 3h0m0-5h0m1 0h0m1 4h0m1-4h0m0 15h0m1 0h0m0-12h0m0 7h0m1-3h0m0 3h0m0 8h0m1 9h0m0 1h0m0-24h0m0 18h0m1-3h0m0 2h0m0-5h0m1 7h0m0 3h0m0-17h0m0 14h0m3-5h0m0 0h0m0-11h0m1 7h0m0 10h0m1-18h0m0 14h0m1-21h0m1 26h0m0-17h0m0-5h0m0 6h0m0 6h0m0 10h0m2 1h0m0-11h0m0 10h0m1-6h0m0 3h0m0-13h0m0-2h0m1 16h0m1-10h0m0-10h0m0 12h0m1-3h0m0 5h0m0 4h0m0-9h0m2 0h0m0 2h0m1 15h0m0-22h0m1 16h0m0-9h0m0-13h0m0 12h0m0-3h0m0 17h0m0-5h0m1-22h0m0 5h0m1 1h0m1 2h0m0 7h0m1 14h0m1-18h0m0 15h0m1 3h0m0-24h0m0 14h0m0-3h0m0 12h0m0-6h0m2-16h0m0 21h0m0-17h0m1 5h0m0-13h0m1-1h0m0 16h0m0 11h0m1-2h0m0-14h0m1-1h0m0-9h0m0 20h0m0-20h0m1 14h0m1 10h0m0-3h0m1-3h0m1 2h0m0 1h0m0 5h0m2-6h0m0-5h0m1-5h0m0-5h0m0 15h0m0-20h0m0 12h0m1 14h0m2-6h0m0-12h0m0 4h0m2-12h0m1-3h0m1 25h0m0-1h0m0 2h0m1-18h0m0-2h0m0 1h0m0-3h0m2-3h0m0 3h0m1 21h0m0-20h0m0 6h0m1 18h0m1-24h0m0-3h0m1 18h0m1-1h0m2-2h0m1 2h0m2-6h0m1 1h0m1 6h0m0 6h0m1-21h0m3 6h0m1 2h0m4-3h0m1 11h0m1 8h0m1-18h0m2-9h0m2 2h0m4-1h0m1 8h0m2 2h0m2-7h0m0-1h0m1 6h0m7-9h0m3 3h0m7 14h0m4 7h0m0-6h0m3-14h0m1 1h0m0 19h0m2-15h0m8 6h0m26 4h0m5-15h0m-419 35h0m11-9h0m14 19h0m5-15h0m5-5h0m21 3h0m10 13h0m4-1h0m0 3h0m4-6h0m2-6h0m6 0h0m7 16h0m9-18h0m1 3h0m5 5h0m1-4h0m1-7h0m2 17h0m4-17h0m1 12h0m0-12h0m1 5h0m1 15h0m3-20h0m1 7h0m2 13h0m1 8h0m2-16h0m4 3h0m6-7h0m0-4h0m4 8h0m0-2h0m3 14h0m2-16h0m2 14h0m3-16h0m1 3h0m1 7h0m1-6h0m1-7h0m1-1h0m3-1h0m0 10h0m1 7h0m0-13h0m3 4h0m0 6h0m2 3h0m0-9h0m1-4h0m2 23h0m0-17h0m0 13h0m1-3h0m0-15h0m1-8h0m1 16h0m0 8h0m1 3h0m1-21h0m1 11h0m1 6h0m0 0h0m3-6h0m0-16h0m0 15h0m1-14h0m0 8h0m0 2h0m0-6h0m0-2h0m0 17h0m0-9h0m1 18h0m0-28h0m0 15h0m1-2h0m0 6h0m0-2h0m2-9h0m0 17h0m0-9h0m1-15h0m1 19h0m0-20h0m1 2h0m1 1h0m2 21h0m0 4h0m1-27h0m3 22h0m1-24h0m0 10h0m1 1h0m0 8h0m1-17h0m0 16h0m0 3h0m0-15h0m1-3h0m0 7h0m1 2h0m0 10h0m2 3h0m0-22h0m0 11h0m0 0h0m1 8h0m1-9h0m1-12h0m1 14h0m0 1h0m1 11h0m1-6h0m0-18h0m1 21h0m0-19h0m0 11h0m0-11h0m1 16h0m0-19h0m1 5h0m1 6h0m0 1h0m1 3h0m0 3h0m0-6h0m1-10h0m0 1h0m0 4h0m0-1h0m2-8h0m1 4h0m1 2h0m0 2h0m1-5h0m0 23h0m0-21h0m0-4h0m1-1h0m0 15h0m0-14h0m0 20h0m1 3h0m0-6h0m1-13h0m0 8h0m1-11h0m0 11h0m0-11h0m1 21h0m0 1h0m0-11h0m0-4h0m0-1h0m0 16h0m0-4h0m1-20h0m0 13h0m0-13h0m0 5h0m1 22h0m0-6h0m1-11h0m1-3h0m0 11h0m2 1h0m0-14h0m1-5h0m0 19h0m2-9h0m1 9h0m0-3h0m2 7h0m1-7h0m0-10h0m1 7h0m0 10h0m1-5h0m3 8h0m1-8h0m0 0h0m0-5h0m1-12h0m1-2h0m0 5h0m0-1h0m2 18h0m0-21h0m1 9h0m0-3h0m1 7h0m1-7h0m0-4h0m0 23h0m1-16h0m0 7h0m1 11h0m0-20h0m2-6h0m0 8h0m1-7h0m0 3h0m0 7h0m2 14h0m0-17h0m1-9h0m0 13h0m0 3h0m0 4h0m2-19h0m1 8h0m0 7h0m1-3h0m0-6h0m0-3h0m1 23h0m1-8h0m0-3h0m0-16h0m0 24h0m0-4h0m1 3h0m0-8h0m2-10h0m0 1h0m0-7h0m1 12h0m1 4h0m0 11h0m0-21h0m1 17h0m0 3h0m0-22h0m1 0h0m0 2h0m0 20h0m1-9h0m0 7h0m0-7h0m1 6h0m1-8h0m0-9h0m1 0h0m0 14h0m1 9h0m0-14h0m1 3h0m0-10h0m0 8h0m0-10h0m0 9h0m0-11h0m1 21h0m0-19h0m0 22h0m0-5h0m0-19h0m1 5h0m0 9h0m0-3h0m0-2h0m1-3h0m0-8h0m0-1h0m1 5h0m1 3h0m2-3h0m0 22h0m2-20h0m0 17h0m0-20h0m1 13h0m0-3h0m1 11h0m0-25h0m1 4h0m1 1h0m0 4h0m0 14h0m0-11h0m1-9h0m1 1h0m0 17h0m0 0h0m2-2h0m0 5h0m1-8h0m1-2h0m0-7h0m1 5h0m1 7h0m4-4h0m0 6h0m0-22h0m0 2h0m1 2h0m0 7h0m0 11h0m2-19h0m0-2h0m1 15h0m1 4h0m0-6h0m4-6h0m3 4h0m1-2h0m1-3h0m1 9h0m2-5h0m0-10h0m0 12h0m1-12h0m1 4h0m0 9h0m2 11h0m1-23h0m1 3h0m2 0h0m1-5h0m1 5h0m2 3h0m1 12h0m1 0h0m0 3h0m1-14h0m2-2h0m1-5h0m0 7h0m3-3h0m12 10h0m1 4h0m10 10h0m1-29h0m5 11h0m0 12h0m1-9h0m4-9h0m4-5h0m1 9h0m14-3h0m3 13h0m4-7h0m7 14h0m-376 14h0m1-7h0m5-2h0m19 5h0m35 16h0m3-17h0m1 1h0m0 13h0m8 9h0m5-11h0m0-16h0m4 12h0m2 7h0m3-4h0m2-3h0m2 5h0m5-10h0m4-2h0m2-2h0m7 8h0m1 10h0m1-9h0m2-7h0m10 13h0m1-2h0m3-15h0m2-2h0m2 20h0m1-16h0m1 6h0m1-8h0m4 6h0m0 11h0m0-19h0m3 13h0m1-9h0m2-3h0m3 16h0m1 6h0m2 1h0m1-22h0m0 25h0m0-7h0m1-4h0m4-7h0m1-1h0m2 14h0m0-11h0m0 15h0m0-4h0m2-7h0m2-13h0m0 1h0m1-2h0m0 13h0m0-13h0m2 17h0m1-14h0m2 1h0m0 15h0m0-7h0m1 9h0m0 5h0m0 0h0m1-27h0m2 1h0m2 22h0m4-20h0m0 1h0m1 4h0m1 20h0m3-21h0m0 15h0m2-15h0m1 5h0m2 0h0m2 5h0m2-11h0m3 2h0m2 10h0m0-18h0m1 0h0m0 15h0m0 13h0m0-22h0m1 16h0m0-1h0m0-10h0m1 12h0m2-13h0m0 14h0m0-22h0m0 9h0m1-7h0m2-2h0m1 6h0m2-8h0m2 20h0m0-16h0m0 7h0m0 0h0m1 0h0m0-6h0m0 2h0m1 5h0m1 16h0m1-16h0m1 6h0m0-13h0m1 6h0m0-7h0m1 22h0m0-5h0m0-13h0m3-3h0m2 0h0m0 4h0m2 2h0m1 0h0m3 2h0m0-13h0m2 20h0m5 4h0m0-18h0m2 17h0m1-3h0m2-12h0m1 6h0m5-2h0m0 9h0m0-17h0m3 19h0m0-20h0m2 7h0m2-1h0m2 5h0m2 1h0m1 11h0m1-20h0m1 4h0m2-1h0m0 14h0m1-15h0m0 13h0m4 3h0m1-5h0m0 8h0m1-22h0m1 6h0m0-5h0m0-1h0m0 20h0m1-5h0m1-10h0m1-8h0m3 13h0m3-2h0m1 8h0m0 6h0m3-12h0m7-16h0m3 15h0m4-1h0m1-4h0m3 5h0m3 5h0m2-6h0m2 3h0m2 0h0m5 1h0m8-3h0m0 10h0m1-24h0m5 11h0m6 10h0m4-3h0m9-4h0m7-4h0m-397 40h0m23-12h0m38-2h0m45 1h0m15 17h0m15-25h0m2 2h0m2 4h0m6-4h0m6 5h0m8-3h0m1-1h0m2 13h0m1 7h0m1-12h0m4 8h0m0-12h0m5-2h0m7 8h0m1 9h0m1-5h0m4-1h0m1 2h0m5 11h0m2-16h0m0-9h0m4 17h0m1-19h0m2 7h0m1-7h0m1 11h0m3 11h0m1-17h0m0 15h0m11 1h0m5-17h0m2 1h0m2 5h0m1 18h0m0-28h0m7 0h0m1 5h0m1-3h0m0 12h0m6-8h0m4 4h0m0 11h0m7-21h0m0 28h0m3-23h0m4-5h0m1 10h0m3 17h0m7-6h0m3 0h0m4-18h0m6-2h0m5 18h0m1-15h0m0-6h0m0 11h0m2-3h0m1 3h0m1-3h0m0 6h0m2 13h0m2-5h0m2-14h0m0 15h0m4 5h0m2-26h0m5 21h0m2-1h0m12-16h0m1 6h0m2-6h0m15 13h0m2-17h0m3 27h0m2-26h0m12 5h0m7-7h0m19 27h0m-329 18h0m26-5h0m15 17h0m1-17h0m6 18h0m16-6h0m1-14h0m13-9h0m2 8h0m12 8h0m5-6h0m1 15h0m1 1h0m10-19h0m3 19h0m6-8h0m1 5h0m5-11h0m1-10h0m10 18h0m17 7h0m6-26h0m10 15h0m3-11h0m12 3h0m7 10h0m3-17h0m0 20h0m66-4h0m8 6h0m1-11h0m-180 32h0m5-7h0m10-7h0m21 22h0m15-19h0m22 0h0m0 0h0m15 11h0m1-4h0m30 2h0m1-9h0m31 17h0m5-19h0m66 11h0m-310 33h0m76-2h0m74 13h0m13-5h0" stroke="#000" stroke-width="7.5" stroke-linecap="round" fill="none"/>
<path transform="scale(.1)" d="M1873 6652h0m87 20h0m65 7h0m-247 39h0m22-4h0m70-6h0m12-9h0m12 20h0m26-12h0m23 10h0m4 0h0m3 2h0m13-14h0m1 10h0m1 5h0m3-1h0m2-9h0m10-10h0m24 17h0m15-18h0m10 12h0m45-21h0m3 26h0m28-1h0m-435 31h0m152-13h0m4 8h0m6-3h0m42-3h0m0 1h0m6 13h0m3-6h0m3 5h0m2-4h0m0-12h0m3-4h0m2 15h0m6 2h0m5-18h0m1 13h0m4 2h0m9-8h0m1 7h0m1-1h0m1 5h0m0-3h0m1 0h0m3-15h0m1 21h0m1-8h0m1-14h0m0-1h0m1 20h0m1-9h0m1 2h0m2 8h0m1-7h0m4 2h0m4-3h0m0-1h0m1 5h0m2 3h0m2 5h0m1-3h0m4-18h0m3 4h0m3 10h0m5 2h0m2-9h0m3-5h0m3 12h0m3-21h0m0 17h0m2-8h0m2-1h0m0 4h0m1-1h0m1 5h0m1-1h0m3 1h0m3 8h0m2-2h0m0-4h0m2-17h0m1 18h0m0-6h0m1-1h0m4 15h0m7-2h0m0-17h0m3-3h0m0 14h0m2-6h0m2-11h0m1 24h0m1 2h0m0-26h0m2 22h0m2-2h0m1 2h0m0-24h0m4 6h0m3 19h0m1-18h0m6-4h0m0 6h0m0 9h0m1-7h0m1 11h0m1 0h0m8-6h0m111 10h0m-344 24h0m10-6h0m8-14h0m2 12h0m4 15h0m0-11h0m3 2h0m2 5h0m2 3h0m0-14h0m1 6h0m2 2h0m5-5h0m0-6h0m4 17h0m2-16h0m1 13h0m3 2h0m2-3h0m0-16h0m4 20h0m2-3h0m1 4h0m0-4h0m1-2h0m1 0h0m1 4h0m5-26h0m4 11h0m1 4h0m0 8h0m0-6h0m6-3h0m1-4h0m0 16h0m1-6h0m0-11h0m1 17h0m1-24h0m1 16h0m2-1h0m1-10h0m0 7h0m1 2h0m0-15h0m1 26h0m0-16h0m0-10h0m1-1h0m1 14h0m2-13h0m1 19h0m0-2h0m1-5h0m0 13h0m0 2h0m1-9h0m0-16h0m0 2h0m0 20h0m0-18h0m0 17h0m1-7h0m1 8h0m3 0h0m1 1h0m0-1h0m1 1h0m2-1h0m0-15h0m0 5h0m2 6h0m0-6h0m0 5h0m1-14h0m0-4h0m1 17h0m0 8h0m0-9h0m0-9h0m1 6h0m1 13h0m0-1h0m0 2h0m0-22h0m1-3h0m0 8h0m1 10h0m1-11h0m0 9h0m1-1h0m0 6h0m0 0h0m2 1h0m0-26h0m3 12h0m1-5h0m0 3h0m1 11h0m0-12h0m0 3h0m1 13h0m0-15h0m1 16h0m0-22h0m1 2h0m1 22h0m0-17h0m3-10h0m0 17h0m0-12h0m0 6h0m0 15h0m1-7h0m0-9h0m0 2h0m0-11h0m1 27h0m0-16h0m0 4h0m0 5h0m0-17h0m0 21h0m1 3h0m0-1h0m1 0h0m0-1h0m0-13h0m1 1h0m0-5h0m0 14h0m1-8h0m0-4h0m1 15h0m0-3h0m1-6h0m0-3h0m0-13h0m0 9h0m0 17h0m1-27h0m0 24h0m1-3h0m0 1h0m0-17h0m1 21h0m1-22h0m0 5h0m0 19h0m1-30h0m1 21h0m0-13h0m0 11h0m0 2h0m1 1h0m0 0h0m0-5h0m0-1h0m0 11h0m1 1h0m0-11h0m0 6h0m1 7h0m0-9h0m0-17h0m1 4h0m0 14h0m1-11h0m0 17h0m0-10h0m1 8h0m0-7h0m0-2h0m1 7h0m0-7h0m0-4h0m1 16h0m1-1h0m0 0h0m0-20h0m1-3h0m0-2h0m0 11h0m0 2h0m1-7h0m0 16h0m0-5h0m1-5h0m1-2h0m1-12h0m1 5h0m1 18h0m0 4h0m1-11h0m0-14h0m1 24h0m0-20h0m0 11h0m1 9h0m1-8h0m0-2h0m0 7h0m1 2h0m0-12h0m1 15h0m1-12h0m0 3h0m0 2h0m1-18h0m0 24h0m0-14h0m1 11h0m0-20h0m0 1h0m0 8h0m1 2h0m1 0h0m0 4h0m3-10h0m0-8h0m0 1h0m2 2h0m0 11h0m1-3h0m0 13h0m0 1h0m1-8h0m0 6h0m1-20h0m1 20h0m1-8h0m0 13h0m2-25h0m1 18h0m0-3h0m0 3h0m1-5h0m0-5h0m1-4h0m0 7h0m1-9h0m2 4h0m0-1h0m1-9h0m0 11h0m0 16h0m1-1h0m1-22h0m0 25h0m2-9h0m0 6h0m0-18h0m1 19h0m1-7h0m2 7h0m0-28h0m6 22h0m0-10h0m0 4h0m2-3h0m1 0h0m0-12h0m0 28h0m1-28h0m1-1h0m2 19h0m1 1h0m1 8h0m0-23h0m0 23h0m4-24h0m1 4h0m0 18h0m3-25h0m3 17h0m6 10h0m2-18h0m1 0h0m3 19h0m1-6h0m2-5h0m5-6h0m8 10h0m0-14h0m4 6h0m7 7h0m4-20h0m7 10h0m4 9h0m-281 39h0m2-28h0m13 26h0m6-26h0m7 18h0m1-5h0m5 12h0m4 3h0m5-16h0m0 6h0m2-4h0m0 15h0m2-2h0m0-3h0m2-9h0m1 12h0m2-2h0m1-17h0m1 8h0m2-15h0m1 26h0m0-6h0m2-11h0m0-7h0m1 25h0m2-16h0m0 4h0m1 4h0m3 8h0m0-11h0m0-9h0m0-1h0m0 21h0m1-29h0m2 15h0m1-11h0m1-1h0m0 0h0m1 24h0m1-19h0m0 19h0m0-19h0m0 0h0m1 18h0m2-11h0m0 9h0m0-24h0m1 25h0m3-16h0m0 11h0m1 1h0m1 4h0m0-14h0m1 13h0m1-17h0m0 15h0m0-19h0m1 23h0m0-9h0m2-15h0m0 26h0m0-27h0m1 26h0m0-3h0m0-5h0m1 11h0m0-2h0m0 0h0m1 2h0m1-10h0m0 5h0m0-6h0m0 5h0m1-16h0m0 2h0m0 0h0m0 7h0m1 9h0m1-16h0m0 14h0m0 4h0m1-5h0m0-19h0m1 20h0m0-9h0m1 5h0m0-3h0m0-3h0m1 2h0m0 9h0m0-3h0m0 0h0m1-12h0m0-4h0m1 21h0m0-11h0m0-5h0m1-11h0m0 7h0m0 11h0m0-11h0m1 13h0m0-10h0m0 17h0m1-26h0m0 1h0m0 3h0m1 5h0m0 3h0m1 15h0m0-5h0m0 1h0m1-5h0m0-5h0m0 5h0m0-10h0m0 19h0m0-3h0m1 1h0m0-21h0m0 22h0m1 3h0m0-28h0m0 3h0m0 17h0m0-4h0m2-11h0m0 0h0m0 2h0m0-2h0m0-4h0m0 25h0m1-2h0m1-10h0m0-3h0m1-5h0m0-2h0m0 19h0m0-8h0m0 11h0m0-21h0m1 12h0m0 10h0m0-17h0m2 4h0m1 1h0m0 7h0m0-8h0m0 11h0m1-12h0m0-6h0m0-7h0m1 21h0m0-11h0m0-9h0m1 17h0m0-19h0m0 6h0m1 21h0m1-1h0m0-24h0m0 23h0m1 3h0m0-4h0m0-7h0m1 7h0m0-13h0m1 13h0m0-23h0m0 17h0m0-6h0m0 3h0m0-4h0m1 5h0m0 12h0m0-1h0m0-11h0m0-8h0m1 21h0m1-8h0m1 2h0m0-4h0m0-15h0m0 19h0m1-6h0m0-8h0m0 8h0m0 11h0m0-7h0m0 2h0m1 2h0m0 2h0m0 0h0m0-18h0m0 11h0m0-8h0m0 6h0m0-4h0m1 7h0m0 1h0m0-22h0m0 26h0m0-7h0m0 0h0m0-20h0m1 6h0m0 21h0m0-22h0m0 21h0m0-18h0m1 12h0m0-5h0m1-14h0m0 19h0m0-13h0m1 21h0m0-27h0m1 27h0m0-16h0m0-7h0m1 25h0m0-20h0m1-6h0m0 17h0m0-18h0m0 25h0m0-26h0m1 15h0m0-8h0m0 18h0m0-25h0m0 13h0m0 7h0m1-6h0m0-7h0m0 10h0m1-18h0m0 2h0m0 8h0m0-6h0m0 11h0m1-8h0m0 21h0m0-8h0m0-12h0m0 9h0m1-1h0m0-14h0m1-3h0m0 8h0m0 16h0m0-5h0m0 0h0m0-5h0m0 16h0m0-14h0m1 10h0m0-8h0m0-9h0m0-4h0m0 6h0m0-1h0m1 1h0m0-8h0m0 15h0m0 9h0m1-15h0m0-2h0m1 14h0m0-11h0m0 6h0m0-16h0m0 11h0m0 9h0m1 6h0m0-17h0m0-9h0m0 1h0m0 6h0m0-9h0m1 11h0m0 5h0m0 10h0m0-26h0m0 10h0m0-5h0m1-2h0m0 7h0m0 11h0m0-15h0m1 9h0m0 8h0m0 5h0m0-19h0m0-8h0m1 21h0m0-8h0m0 8h0m0-8h0m0-5h0m1-3h0m0 2h0m0 3h0m0 5h0m0 7h0m0-16h0m0 11h0m1-12h0m0 5h0m0 13h0m1 2h0m0-11h0m1 8h0m0 5h0m0-15h0m0 0h0m1 1h0m0-10h0m0 24h0m0-23h0m1 0h0m0 23h0m0-1h0m0-7h0m0-1h0m0-6h0m0-5h0m0-4h0m1 20h0m0-13h0m1 6h0m0 1h0m0-6h0m0-3h0m0 15h0m0-11h0m1 6h0m0-13h0m1 17h0m0-2h0m0-15h0m0 1h0m1 1h0m0 7h0m0-4h0m1 9h0m0 6h0m1-14h0m0-5h0m0 5h0m0-12h0m0 15h0m0-3h0m0 5h0m1 0h0m0 12h0m0-3h0m0 1h0m0 1h0m1-26h0m0 6h0m1 12h0m1 2h0m0-12h0m0-2h0m0 12h0m1 1h0m0-12h0m0 8h0m1-9h0m1 18h0m1-12h0m0 11h0m1-11h0m0 0h0m0 2h0m0-8h0m1-4h0m0 2h0m0 12h0m1 1h0m1-4h0m1 11h0m0-1h0m0-10h0m0 4h0m1-13h0m0 16h0m0 6h0m0-4h0m0-19h0m1 10h0m0 1h0m0-7h0m2-3h0m0 0h0m1-4h0m0 18h0m0-7h0m0-5h0m0-2h0m1 13h0m0 3h0m1-10h0m0 3h0m0 8h0m1-5h0m0-9h0m0 15h0m0-4h0m1-13h0m0 16h0m1-7h0m1-6h0m0-7h0m0 19h0m1-15h0m0 11h0m0-7h0m3 14h0m0-6h0m0-12h0m1 0h0m0-7h0m1 13h0m0-13h0m2 19h0m2 2h0m2-9h0m1-4h0m0 18h0m0-5h0m1-8h0m0-5h0m0 11h0m0-17h0m2 1h0m2 2h0m0-2h0m1 3h0m0 4h0m0 19h0m1-6h0m0 5h0m0-26h0m1 8h0m2 13h0m0-7h0m1 3h0m3-7h0m2 3h0m0-12h0m2 3h0m1 3h0m0 9h0m0-12h0m1 15h0m1 3h0m2-7h0m1-9h0m0 10h0m1-11h0m1-4h0m0 0h0m0 18h0m4 5h0m1-23h0m4-4h0m0 22h0m0 1h0m4-13h0m3 1h0m3 14h0m8-1h0m16-22h0m5 16h0m2-11h0m6 9h0m5-1h0m12-1h0m-393 36h0m9 2h0m63 4h0m6-24h0m21 20h0m6 3h0m4-18h0m0 22h0m3-15h0m10 8h0m5 6h0m1-1h0m1-24h0m2 16h0m1 5h0m3 6h0m2-1h0m1-28h0m1 22h0m1 6h0m0-28h0m1 3h0m0 13h0m1-4h0m3 15h0m1-16h0m0-11h0m1 17h0m1-9h0m0-6h0m2 18h0m0 7h0m1-27h0m2 0h0m0 5h0m0 17h0m0-15h0m1 3h0m0-8h0m0 10h0m0 13h0m2-15h0m0 10h0m0-17h0m2 2h0m0 1h0m1 1h0m0 1h0m1 12h0m2-6h0m1-8h0m0 12h0m0-7h0m3 14h0m1-13h0m1 1h0m1-6h0m0 13h0m1 2h0m0 0h0m0-7h0m1 2h0m0 11h0m1-8h0m0 2h0m1 1h0m2-16h0m0 17h0m0-17h0m1 8h0m1 6h0m0-3h0m0-2h0m0 8h0m0-5h0m3 0h0m0-19h0m1 19h0m0 9h0m0-8h0m1-5h0m1 7h0m0-4h0m0-10h0m0 14h0m1-19h0m1 0h0m0 19h0m1-10h0m1-9h0m0 4h0m1 5h0m0 3h0m0-7h0m1-4h0m0 3h0m0 13h0m1 6h0m0-5h0m1 5h0m0 2h0m0-27h0m1 15h0m0 7h0m1-21h0m0 27h0m0-23h0m1 0h0m0 4h0m0 5h0m0-10h0m0 13h0m0 2h0m0-19h0m1 11h0m0-4h0m1 10h0m0 9h0m0-21h0m1-4h0m0 23h0m0-24h0m0 27h0m0-3h0m0-2h0m0-10h0m2-11h0m0 1h0m0 19h0m0-12h0m0-4h0m0-2h0m0 20h0m1-11h0m0 11h0m0-10h0m0-13h0m1 3h0m0 3h0m0 7h0m1-6h0m0 7h0m1-1h0m0-14h0m0 17h0m1-13h0m0 0h0m0 0h0m0-4h0m0 3h0m1 11h0m0-1h0m1 2h0m1-8h0m0-1h0m0-1h0m0-1h0m0 16h0m0-4h0m1 10h0m0 1h0m0-15h0m0 3h0m1-7h0m0-2h0m1-2h0m1 13h0m0 2h0m0 7h0m0-11h0m0 9h0m1-21h0m1-4h0m0 22h0m0-5h0m0 13h0m1-11h0m0-7h0m0-9h0m0 11h0m1-6h0m0 0h0m0 13h0m1-15h0m0 22h0m0-11h0m1-11h0m0 17h0m0-14h0m1 6h0m0-12h0m0 2h0m0 16h0m0-7h0m0 0h0m0 1h0m1 5h0m0-8h0m0-7h0m0 17h0m1 5h0m0-15h0m0 15h0m1-11h0m0-12h0m1 25h0m0-1h0m0-20h0m1 10h0m0-15h0m0 17h0m1-18h0m0 4h0m0-6h0m0 8h0m0-5h0m0 6h0m0-4h0m0 16h0m0-8h0m1 16h0m0-23h0m0 12h0m0-9h0m0-8h0m0 16h0m0-7h0m1-8h0m0 4h0m1 7h0m0-9h0m0 17h0m0-21h0m0 15h0m1 0h0m0-7h0m1 3h0m0 15h0m1-22h0m0 17h0m0-14h0m1 18h0m0-24h0m0 13h0m0 8h0m1-10h0m0 1h0m1-9h0m0 14h0m1 3h0m0-19h0m0 5h0m0-6h0m1 5h0m1 4h0m0 6h0m0-11h0m0 7h0m0 11h0m0-18h0m1 6h0m0 7h0m0-13h0m0-4h0m0 16h0m0-16h0m0 2h0m1 17h0m0-12h0m0 20h0m0-15h0m1 2h0m0-10h0m0 19h0m1-6h0m0-1h0m0 10h0m0-18h0m0 19h0m0-25h0m0 10h0m1-7h0m0 7h0m1 10h0m0-3h0m0 4h0m0-10h0m0-7h0m1 10h0m0-12h0m0 18h0m1 4h0m0-11h0m1-8h0m0 4h0m0 6h0m0 6h0m0-5h0m1-2h0m1 12h0m0-22h0m1 15h0m0-16h0m0-3h0m0 17h0m1-15h0m0 8h0m0 14h0m0-26h0m0 6h0m1 12h0m0-5h0m0-12h0m0 10h0m1-8h0m0-4h0m0 3h0m1 3h0m0 0h0m0 5h0m1 6h0m0-12h0m0 0h0m0 19h0m1-21h0m0 13h0m0-16h0m0 19h0m1 1h0m0-6h0m0-2h0m0 17h0m1-20h0m0-2h0m0 3h0m1 18h0m0-18h0m1-7h0m0 2h0m1 24h0m0-26h0m0 6h0m1-5h0m0 24h0m1-13h0m0-3h0m0-4h0m0 12h0m0 3h0m1-23h0m0 23h0m0-5h0m1 2h0m0-12h0m0-2h0m0 19h0m0-1h0m0-11h0m1-8h0m1 22h0m0-9h0m1 12h0m0-17h0m0 5h0m1 1h0m0-5h0m1 13h0m0-24h0m0 2h0m0 11h0m0-5h0m1 3h0m1 13h0m1-9h0m0-16h0m0 1h0m0 7h0m0 4h0m0-9h0m1 4h0m0 21h0m1-18h0m1-5h0m0 4h0m1-10h0m0 16h0m3-3h0m2 12h0m1-22h0m1 19h0m0-14h0m0 5h0m0 0h0m1-8h0m0 8h0m0 3h0m1 1h0m0-6h0m1 13h0m0-17h0m1 5h0m0-5h0m0 18h0m1-19h0m1-4h0m1 7h0m1 19h0m1-23h0m0-4h0m1 25h0m1-18h0m1 3h0m1 1h0m0-5h0m1 17h0m0-21h0m1 9h0m3 15h0m1-20h0m2-1h0m1 7h0m5-12h0m0 27h0m2-7h0m0-19h0m7 20h0m0-23h0m1 20h0m3-16h0m1 24h0m0-15h0m2-9h0m0-2h0m0 16h0m8 10h0m3-14h0m3 11h0m15 2h0m1-3h0m24-21h0m-476 50h0m29 1h0m31 5h0m43-3h0m32-20h0m6 12h0m2 6h0m7 0h0m2-4h0m7-18h0m15 0h0m4 25h0m4-20h0m18 6h0m8 13h0m13-16h0m5 4h0m2-4h0m0 2h0m4 1h0m2 0h0m3-4h0m2 2h0m0 8h0m3-18h0m1 4h0m1 17h0m0-4h0m1-12h0m3 9h0m1-15h0m1 5h0m0 23h0m1-28h0m1 9h0m3-4h0m1 5h0m1 13h0m1-8h0m1 5h0m0 4h0m1-16h0m2 5h0m1 4h0m0 12h0m2-26h0m2 10h0m0 6h0m0-9h0m0-2h0m1-7h0m0 25h0m0-21h0m0 13h0m1 4h0m0-14h0m0-6h0m2 4h0m1-5h0m1 13h0m0-13h0m0 5h0m0-1h0m1 16h0m0-1h0m1 6h0m0-13h0m0-10h0m1 7h0m1 2h0m0 8h0m0-13h0m2-1h0m0-6h0m1 18h0m1 6h0m2-23h0m0 5h0m1 3h0m0 8h0m2 0h0m1-13h0m1-3h0m0 7h0m0-5h0m0-3h0m1 2h0m1 6h0m1 17h0m0-23h0m1 7h0m0 12h0m2-19h0m0 22h0m1-7h0m0-17h0m1 29h0m1-23h0m2 17h0m1-19h0m0 11h0m2-6h0m0 16h0m1-1h0m0-24h0m1 7h0m0-2h0m1 22h0m0-7h0m0-13h0m1 13h0m0-19h0m0 19h0m0 0h0m2-13h0m0-7h0m0 21h0m0-13h0m2 4h0m0 13h0m0-8h0m3 4h0m0-9h0m1-11h0m1 14h0m2-1h0m0 5h0m0 2h0m0-5h0m1-1h0m2-5h0m1 2h0m0 14h0m1-7h0m0 5h0m1-23h0m0 3h0m1 10h0m1-5h0m0 11h0m0-17h0m1 2h0m1 19h0m0-8h0m0-9h0m2 8h0m3-10h0m0 0h0m0 7h0m1-5h0m1 12h0m1-18h0m0-1h0m1 27h0m1-13h0m0-12h0m1 3h0m0 6h0m0-2h0m0 2h0m0 3h0m1 4h0m1-16h0m0 23h0m2-19h0m1-6h0m0 1h0m1 11h0m0 0h0m1 4h0m0 3h0m1 7h0m0 2h0m0-16h0m2 7h0m0 0h0m0-14h0m1 8h0m0 12h0m0-21h0m2 15h0m0-16h0m0 8h0m4-7h0m0 5h0m0 20h0m0-13h0m1-15h0m0 0h0m1 28h0m0-28h0m1 3h0m0 26h0m1-13h0m0-14h0m0 15h0m3-13h0m0 2h0m0 12h0m2-15h0m2 0h0m1 0h0m1 14h0m1 12h0m0-26h0m2-2h0m5 21h0m2-14h0m0 9h0m4-6h0m4-12h0m4 6h0m6 2h0m1 2h0m18-10h0m2 5h0m5 2h0m3 1h0m14 0h0m13 20h0m9-25h0m7 6h0m-462 41h0m31-1h0m23-3h0m13 12h0m5 2h0m2-10h0m3 5h0m40 0h0m1 0h0m4 5h0m3-10h0m2-14h0m2 8h0m1 11h0m6-4h0m2 8h0m2-15h0m2 12h0m1 1h0m5-13h0m1 6h0m0-12h0m3 17h0m3 5h0m6-24h0m10-4h0m0 8h0m5 14h0m2-14h0m1 8h0m3-5h0m4-7h0m8 18h0m8-9h0m2-11h0m11-4h0m1 27h0m3-1h0m13-23h0m13-2h0m2 11h0m1-9h0m1 1h0m2 10h0m0-9h0m10-4h0m1 3h0m2 5h0m2-9h0m1 8h0m2 4h0m0-9h0m8 14h0m3-3h0m5-4h0m4 16h0m11-13h0m3-6h0m1 11h0m0-15h0m4 24h0m3-9h0m6 1h0m8-18h0m1 9h0m4-6h0m3 1h0m8-3h0m4 13h0m1-7h0m10-4h0m2-2h0m2-1h0m15 4h0m3-3h0m20-1h0m19 24h0m7-25h0m13 1h0m37 26h0m0-25h0m-535 48h0m22-5h0m11 1h0m9 12h0m7-5h0m2 0h0m14-20h0m0-1h0m32 20h0m15-17h0m1 24h0m1-19h0m4 19h0m1-13h0m1 8h0m4-6h0m11 6h0m1 3h0m0 0h0m2 0h0m0-5h0m1-17h0m2 16h0m1-19h0m1 12h0m1 8h0m2-8h0m1 2h0m0-8h0m1 18h0m0-2h0m5-9h0m0 11h0m2 2h0m4-24h0m0 18h0m0-9h0m2-5h0m0-8h0m9 20h0m1-11h0m0-6h0m4 26h0m5-3h0m4-4h0m4 7h0m1-15h0m0-1h0m3 7h0m3-16h0m3 2h0m1 17h0m0-15h0m0 8h0m1 2h0m2-16h0m4 5h0m3 6h0m1-4h0m6 0h0m4 8h0m0 5h0m5 7h0m10-22h0m4 20h0m10-23h0m3 3h0m6 11h0m10 7h0m10-5h0m37 6h0m5-13h0m2-1h0m16-2h0m17-9h0m4 4h0m11-2h0m15 8h0m10 2h0m3-6h0m2-7h0m16 20h0m88 7h0m-498 5h0m40 28h0m7-28h0m4 20h0m1 1h0m1 7h0m4-14h0m11-13h0m1 21h0m10-21h0m8 13h0m3 12h0m1-7h0m2-9h0m0 9h0m2-20h0m0 19h0m1-9h0m4 7h0m0-12h0m0 7h0m4 8h0m5 5h0m1-6h0m6-4h0m2-15h0m1 9h0m2-7h0m2 0h0m0 6h0m0 14h0m1 0h0m1 3h0m3-19h0m2 20h0m4-19h0m1 0h0m5 21h0m0-8h0m2-5h0m2-4h0m8-3h0m1 5h0m0-9h0m2 20h0m3-10h0m0 9h0m6-12h0m1 5h0m2-11h0m3 0h0m2 21h0m0-8h0m2 2h0m0-17h0m1-2h0m1 20h0m1-13h0m7-4h0m3 3h0m1 6h0m3-13h0m0 29h0m1-19h0m0 0h0m2 14h0m5-4h0m0-10h0m3-5h0m0-1h0m2-2h0m0 13h0m1-1h0m7 2h0m2-1h0m4-3h0m0 11h0m6-8h0m0 8h0m5-6h0m2-11h0m4 16h0m4-4h0m9 4h0m19-20h0m6-1h0m23 8h0m33-9h0m25 4h0m135 10h0m29 2h0m-504 27h0m31-8h0m8 22h0m4-28h0m1 26h0m2-11h0m3-1h0m0-4h0m1 16h0m7-16h0m3 12h0m6-17h0m0-4h0m1 21h0m1 4h0m4 3h0m4-8h0m0-19h0m1 14h0m1 3h0m5-3h0m2-5h0m4-4h0m5 22h0m0 0h0m1-13h0m1-8h0m1-4h0m2 7h0m4 0h0m3-6h0m3 16h0m2-3h0m5 2h0m2-6h0m4 5h0m1-19h0m0 7h0m1 19h0m0-20h0m1 0h0m6 11h0m1 12h0m6-12h0m0-1h0m0 4h0m4-13h0m1 17h0m3-9h0m6-3h0m3-9h0m2 10h0m1 16h0m0-22h0m3-7h0m7 7h0m2 7h0m1 8h0m6-1h0m2-2h0m2-13h0m1 22h0m3 0h0m1-18h0m3 3h0m2 10h0m1-23h0m16 20h0m1 10h0m14-24h0m1 13h0m5-3h0m12-12h0m19 2h0m9 13h0m5-17h0m7 13h0m3-9h0m4 11h0m5-8h0m1-7h0m34 28h0m14-13h0m39-7h0m2 11h0m18-13h0m3 18h0m10-6h0m17-10h0m-420 46h0m6-8h0m2-3h0m15-7h0m9 3h0m1-4h0m1 10h0m14 11h0m3-20h0m0-2h0m12-5h0m5 0h0m8 18h0m2-16h0m3 8h0m1-6h0m13 2h0m2 1h0m2-8h0m2 20h0m12-19h0m13 13h0m0-14h0m4 12h0m0 6h0m7-5h0m1 3h0m5-14h0m1 24h0m2-7h0m12-14h0m7 18h0m1 2h0m4-2h0m1-8h0m7 1h0m4-5h0m9 3h0m16 3h0m72-9h0m0-4h0m32 23h0m4-10h0m4-10h0m8-4h0m4 19h0m25 7h0m36-6h0m25-13h0m19-7h0m-479 37h0m31 18h0m10-6h0m4-4h0m10-17h0m23 1h0m10 25h0m6-3h0m9-16h0m10 5h0m1 15h0m13-17h0m14 14h0m4-23h0m17-2h0m1 13h0m9 4h0m133 4h0m32-20h0m5 5h0m10 0h0m-200 36h0m232-10h0m23-1h0m-93 41h0m209 2h0m49-14h0m-273 34h0" stroke="#000" stroke-width="7.5" stroke-linecap="round" fill="none"/>
<ellipse cx="269.5" cy="697.8" rx="8.6" ry="9.2" fill="#000"/>
<path transform="scale(.1)" d="M2578 6775h0m185-14h0m271 19h0m44-11h0m-427 26h0m30 3h0m33-16h0m0 4h0m22 22h0m189-11h0m253 2h0m-544 27h0m8 4h0m13 4h0m3-5h0m2 9h0m8 0h0m21-24h0m3-3h0m1 25h0m8-1h0m0 2h0m22-13h0m1 12h0m1-6h0m8-1h0m2 3h0m5-8h0m94 15h0m101-6h0m121-1h0m27-4h0m39 11h0m-555 7h0m36 23h0m11-1h0m7-3h0m7-8h0m2 9h0m7 1h0m23-15h0m2 2h0m9-13h0m3 4h0m1 14h0m5 9h0m3-9h0m2 11h0m9-6h0m0-2h0m3 1h0m2-5h0m10 10h0m9-19h0m1 18h0m4-6h0m1-11h0m1 3h0m1-11h0m0 11h0m4 14h0m0 3h0m1-2h0m0-13h0m9-10h0m3 10h0m5 10h0m1-10h0m6-9h0m5 7h0m5 9h0m1-9h0m9 1h0m12 12h0m7-16h0m104 18h0m14-16h0m1-10h0m20 17h0m47-16h0m21 24h0m2-10h0m1-11h0m13-4h0m33 3h0m11 5h0m3 13h0m102 4h0m-608 17h0m3 10h0m23-11h0m13 16h0m1-20h0m4 9h0m1-12h0m1 2h0m9-4h0m3 20h0m3-17h0m6 13h0m2 0h0m2 2h0m2-7h0m5-8h0m1 6h0m6-6h0m0 7h0m2-6h0m0 5h0m3-3h0m0 16h0m1-24h0m3 25h0m1-24h0m2 1h0m2 0h0m1 13h0m3 10h0m0-19h0m1 20h0m1-23h0m2 13h0m1 4h0m2 6h0m1-14h0m1 14h0m4-10h0m0-4h0m2 13h0m0-10h0m1-1h0m0-2h0m2-10h0m0 18h0m6-16h0m2 20h0m1-6h0m1-18h0m0 27h0m2-17h0m1 5h0m0 1h0m2 5h0m0-21h0m0 5h0m2 20h0m2-2h0m1 0h0m1-18h0m0 3h0m0 12h0m0 6h0m1-11h0m5-2h0m1 1h0m0-2h0m1 10h0m0 6h0m0-12h0m0-8h0m1-4h0m1 8h0m0 13h0m0-3h0m3 5h0m0-6h0m0 7h0m0-22h0m4-2h0m0 0h0m0 10h0m4 8h0m0-15h0m1 3h0m1-11h0m0 10h0m0-2h0m2 19h0m3-22h0m4 2h0m0-6h0m0 27h0m1-3h0m4-17h0m0 20h0m4-12h0m1-14h0m1 22h0m5-12h0m1 7h0m4-14h0m2 9h0m2 7h0m2-3h0m1-12h0m2 20h0m1-16h0m2 7h0m2-1h0m1 13h0m1-23h0m3 3h0m4 11h0m0-14h0m1 5h0m3 17h0m0-14h0m1 10h0m1-7h0m0-7h0m2 5h0m2 14h0m2-17h0m19 9h0m12-4h0m15-1h0m23-8h0m8 18h0m79-4h0m7 1h0m6-4h0m38-3h0m1-1h0m16 7h0m79-21h0m4-2h0m20 6h0m10 10h0m59-15h0m-636 53h0m5-7h0m10-9h0m7 6h0m2-12h0m4 23h0m2-15h0m4 9h0m5-18h0m11 16h0m0-10h0m7 6h0m0 10h0m1-20h0m0 0h0m0 20h0m0 0h0m3 5h0m1-3h0m0-13h0m1 16h0m0-19h0m3 12h0m1-3h0m3 5h0m3 3h0m1-18h0m1 4h0m0-8h0m3 11h0m0 2h0m3-17h0m0 4h0m2 7h0m2-9h0m1 6h0m0 12h0m2-10h0m1-5h0m1 23h0m1-9h0m0 8h0m1-18h0m0 21h0m2-29h0m1 14h0m1-11h0m0-2h0m2 12h0m0 7h0m2-8h0m0 16h0m1-7h0m0-6h0m1-13h0m0 16h0m1 6h0m0-19h0m1 19h0m1-1h0m1-17h0m1 14h0m1 4h0m1-8h0m1 3h0m0-15h0m0 13h0m1 4h0m2 1h0m0-8h0m0-8h0m1 17h0m0-19h0m0 17h0m0-22h0m1 14h0m1-2h0m0 15h0m0-15h0m2 17h0m0-5h0m0 3h0m1-3h0m1-16h0m0 21h0m1-21h0m0 19h0m0 2h0m0-20h0m1 20h0m0-7h0m0-12h0m0 5h0m1 8h0m0-1h0m0-4h0m0 4h0m0-11h0m3 2h0m0 1h0m1-10h0m0 19h0m1-3h0m1-12h0m0 5h0m0 12h0m3-6h0m2-7h0m0 8h0m1-13h0m0 22h0m0-20h0m1 4h0m1-4h0m0-7h0m0 18h0m1 9h0m1-9h0m1 6h0m1-14h0m2-1h0m0-10h0m1 14h0m0 6h0m0-7h0m1-7h0m0 6h0m1 0h0m0-2h0m0 15h0m1 2h0m0-7h0m1-9h0m0 13h0m1-6h0m0-16h0m1 16h0m0-7h0m0 3h0m1 3h0m0-7h0m1-10h0m1 10h0m2 8h0m0 6h0m0-13h0m1 4h0m0 3h0m1-3h0m1-7h0m0 11h0m0-6h0m1-6h0m0 0h0m1 1h0m0-9h0m1 25h0m0-8h0m1 7h0m1-1h0m0-16h0m1 9h0m0-7h0m1 17h0m1 3h0m0 0h0m0-9h0m0 5h0m1 0h0m0-4h0m0-12h0m0 7h0m0-3h0m1 13h0m1-25h0m1 20h0m0 9h0m0-23h0m3 16h0m1-3h0m0 1h0m0-6h0m0-10h0m0 5h0m0-4h0m1 8h0m0 1h0m0-3h0m0 9h0m3-12h0m0 13h0m0-16h0m1 8h0m1 5h0m0 10h0m0-16h0m1 15h0m0-3h0m1-11h0m0 14h0m1-4h0m1-10h0m1 9h0m1-6h0m0-3h0m0-11h0m0 22h0m1-24h0m0 12h0m0 2h0m1-13h0m0 4h0m0 24h0m1-6h0m0-19h0m0 16h0m1 7h0m0 1h0m0-2h0m7-16h0m0 11h0m1 7h0m0-12h0m1 7h0m1-17h0m1 16h0m0 1h0m0-1h0m0 0h0m1-5h0m2 2h0m0-16h0m0 13h0m2-12h0m1 9h0m0-6h0m1 12h0m1 4h0m0-21h0m1 4h0m3 8h0m0 3h0m0-1h0m0-14h0m0 8h0m1 15h0m0-25h0m1 20h0m3-17h0m0-4h0m1 17h0m0-12h0m7 17h0m0 6h0m0-1h0m4-10h0m2-16h0m7 6h0m14 15h0m5-6h0m0-6h0m0-1h0m6-7h0m12 0h0m8 23h0m0-9h0m13 3h0m3-10h0m8 20h0m2-27h0m14 22h0m2 1h0m32-21h0m2 17h0m10 4h0m2 3h0m18-22h0m11 16h0m5 5h0m21-7h0m1-1h0m35-5h0m8 15h0m20 1h0m16-3h0m21-14h0m21-11h0m31 7h0m10 5h0m45 2h0m-638 42h0m3-4h0m7-11h0m14 17h0m13-16h0m0 16h0m2-4h0m0-18h0m1 19h0m3-1h0m0-11h0m1 11h0m6-5h0m4-21h0m0 12h0m4-1h0m2 18h0m1-29h0m1 18h0m0 7h0m1-5h0m1 9h0m1-22h0m0 13h0m0 4h0m1-11h0m1 4h0m0 3h0m3-18h0m1 16h0m1-6h0m1-7h0m3 12h0m0 10h0m1-10h0m1 1h0m1 11h0m0-11h0m1 3h0m1-13h0m1 3h0m1 5h0m0-3h0m2-5h0m1 21h0m0-8h0m3-17h0m1 10h0m0 13h0m1-10h0m0-14h0m0 25h0m2-10h0m0-2h0m0-11h0m1 4h0m1 9h0m0 6h0m2 5h0m0-29h0m0 30h0m1-20h0m0 9h0m1-2h0m0-7h0m0 0h0m1-4h0m2 13h0m0 0h0m0-10h0m0-7h0m1 3h0m0 20h0m1-4h0m1 7h0m0-26h0m2 4h0m1 22h0m1-23h0m1 24h0m0-12h0m0 11h0m1-8h0m0-9h0m1-6h0m0 25h0m1-5h0m0-23h0m0 7h0m0 8h0m0-7h0m0 16h0m0-13h0m0-8h0m1 6h0m0 4h0m1-12h0m0 12h0m1-14h0m0 5h0m0 3h0m1 14h0m0 6h0m0-26h0m1 7h0m1 18h0m0-9h0m0 8h0m2 1h0m0-13h0m1 9h0m0-1h0m1 4h0m1-6h0m0-15h0m0 22h0m0-18h0m0 12h0m1 6h0m0-19h0m0 6h0m0 13h0m0-10h0m2 1h0m0-10h0m1-2h0m1 2h0m0 15h0m0 0h0m0-21h0m0 25h0m0 2h0m1-17h0m0 9h0m1 7h0m1-26h0m0 18h0m0-6h0m0 9h0m1 4h0m0-11h0m0-12h0m0 19h0m0-17h0m1 14h0m1-7h0m1-5h0m0-8h0m1 26h0m0-5h0m0-1h0m1 1h0m0-14h0m0 14h0m0-18h0m0 12h0m1 13h0m1-23h0m0 11h0m1 9h0m1-9h0m0 4h0m0 5h0m0-1h0m1-21h0m0 5h0m1 11h0m0-12h0m0 1h0m1 1h0m0 11h0m1-12h0m0 14h0m0-11h0m1 12h0m0-5h0m1-8h0m0 8h0m1-18h0m0 6h0m0 12h0m1-2h0m0 8h0m0-5h0m1-17h0m0 10h0m0 7h0m1-6h0m0-3h0m0-6h0m0 11h0m1-3h0m0-11h0m0 0h0m0 10h0m0-10h0m1 13h0m0 3h0m0 10h0m2-19h0m0 10h0m0-7h0m0 8h0m1-2h0m1-4h0m0-1h0m0-9h0m0-2h0m0 15h0m0-6h0m1 4h0m0 3h0m0-4h0m0-4h0m2-3h0m1-6h0m0 29h0m1-26h0m0 13h0m0 4h0m0-13h0m1 2h0m1 19h0m0-17h0m0 0h0m1-6h0m0-3h0m0 6h0m1 19h0m1-2h0m0-9h0m0-9h0m1 5h0m1 7h0m0 2h0m0-19h0m0 26h0m1-19h0m0 6h0m1 2h0m0 11h0m0-10h0m2 6h0m0-6h0m1 3h0m0 3h0m0-4h0m0 9h0m0-18h0m0-12h0m1 16h0m0 7h0m0-3h0m0-16h0m1 10h0m0-9h0m1 20h0m1-23h0m0-2h0m0 3h0m0 2h0m1 24h0m0-26h0m0 0h0m1 10h0m0 12h0m0 5h0m1-25h0m0 12h0m0 1h0m0 6h0m1-3h0m0-3h0m0 7h0m0-9h0m1-11h0m0 12h0m1 11h0m0-1h0m0-1h0m0-5h0m0-19h0m0 16h0m1-6h0m1-10h0m0 16h0m0 5h0m1 2h0m0-8h0m0-12h0m0 21h0m1-3h0m1 1h0m0-20h0m1 5h0m0 19h0m1-3h0m0-8h0m0 4h0m1-12h0m0 21h0m0-9h0m0 6h0m2-4h0m0-16h0m0 14h0m0-12h0m1 8h0m0-3h0m1-10h0m0 17h0m0-20h0m0 12h0m0 5h0m1 5h0m0 1h0m1-4h0m0 6h0m0-18h0m1-2h0m1 5h0m0-6h0m1 9h0m0-4h0m0 14h0m0 0h0m1 3h0m0-10h0m1-2h0m0 6h0m0-11h0m1 10h0m1-7h0m1 2h0m1-7h0m0 20h0m2-3h0m0-8h0m0-8h0m3-3h0m0 23h0m0-3h0m2-14h0m1 9h0m1 4h0m1-7h0m1-5h0m3 15h0m0-8h0m0-14h0m0 22h0m1-25h0m1 10h0m1 10h0m0-6h0m3 13h0m1-29h0m1 20h0m2-10h0m0 3h0m1 10h0m0 4h0m1-9h0m6-8h0m1 16h0m3 2h0m1-24h0m1 11h0m1 2h0m1 11h0m0-8h0m1 6h0m2-4h0m4-4h0m4-3h0m1-13h0m6 23h0m2-2h0m2-17h0m1 17h0m8-18h0m6 2h0m0 13h0m1 9h0m1-28h0m8 0h0m1 26h0m1-2h0m1-2h0m8 2h0m7 1h0m2 0h0m5-11h0m1-15h0m4-1h0m6 16h0m2-3h0m6 11h0m1-15h0m1 18h0m0-1h0m3-22h0m0 11h0m15 7h0m0-7h0m2 14h0m1-16h0m1 9h0m5-2h0m9 9h0m8-13h0m0-3h0m19-11h0m3 24h0m7-3h0m1 4h0m1-6h0m12-11h0m6-6h0m2 7h0m2 1h0m7-4h0m1 14h0m1 6h0m3 0h0m1-5h0m5-6h0m1 9h0m1-16h0m3 15h0m1 4h0m4-13h0m0 0h0m3 6h0m30-14h0m5 20h0m0-13h0m13-13h0m11 13h0m7-14h0m19 22h0m-570 12h0m13 6h0m11-1h0m3 10h0m2-15h0m0 1h0m3 13h0m0-5h0m9 1h0m4-7h0m5 0h0m3 10h0m0 0h0m1-1h0m2-14h0m5 16h0m2 5h0m1-9h0m2-9h0m0 1h0m3 7h0m0-10h0m5 16h0m1-19h0m2 14h0m1 14h0m1-21h0m0 11h0m0 9h0m1-21h0m4 21h0m1-15h0m2 10h0m0-18h0m0 22h0m1-18h0m0 9h0m1 0h0m1 10h0m0-13h0m1 6h0m0-15h0m0-5h0m1-1h0m0 18h0m0-11h0m0 19h0m1-5h0m1-4h0m0-13h0m0 11h0m2 8h0m0 2h0m1-10h0m1-2h0m0-11h0m0 23h0m1-8h0m1-16h0m1 15h0m1-2h0m0 2h0m0-11h0m1 4h0m0 6h0m0 6h0m1-2h0m1-5h0m0-10h0m1 15h0m1-16h0m0 8h0m0-1h0m1 15h0m1-8h0m0 1h0m1 6h0m0-16h0m0 4h0m2-12h0m1 10h0m0-1h0m1 14h0m0-15h0m0-3h0m1 17h0m1 6h0m1-1h0m1-2h0m0-6h0m1-15h0m1 19h0m0-21h0m0 20h0m1-8h0m1-2h0m0-9h0m0 7h0m0-5h0m1 2h0m0-1h0m1 24h0m0-23h0m0-1h0m1 16h0m0-12h0m0 4h0m1-13h0m0 2h0m0 8h0m0-10h0m0 8h0m0 3h0m0 7h0m0-4h0m1 7h0m0-16h0m1 21h0m1-20h0m0 10h0m0-15h0m0 16h0m0-6h0m0 4h0m1-4h0m0 14h0m1-16h0m1 9h0m1-2h0m0-12h0m1 0h0m0 3h0m0 5h0m1 7h0m0-5h0m0 14h0m1-20h0m0 11h0m1 3h0m0-3h0m0-13h0m1 12h0m0-18h0m1 17h0m0-15h0m0-2h0m0 8h0m0-2h0m0 13h0m0-10h0m1 3h0m0 4h0m1-10h0m0 19h0m0-18h0m0 4h0m0-7h0m0 7h0m0 10h0m1-14h0m0 2h0m0 2h0m0 5h0m0 11h0m0-11h0m1 12h0m0-10h0m0-8h0m0 0h0m1 1h0m0 16h0m0-19h0m0-7h0m1 9h0m0-10h0m0 29h0m0-9h0m1-11h0m0 9h0m0-8h0m0 0h0m1 4h0m0 15h0m0-14h0m1 9h0m0-10h0m1-7h0m1 9h0m0 8h0m0-2h0m1-22h0m0-1h0m1 22h0m1 1h0m0 1h0m0-10h0m1 10h0m0-24h0m0 23h0m1 0h0m1-9h0m0 14h0m0-7h0m1 7h0m0-4h0m0-11h0m0 3h0m1-14h0m0 17h0m0 8h0m0-6h0m0-19h0m1 6h0m1 10h0m0 5h0m0-2h0m0-9h0m0 10h0m0-6h0m1-14h0m0-1h0m1 6h0m0 13h0m0-4h0m0-5h0m0 16h0m0-24h0m1 0h0m0 1h0m1 6h0m0 8h0m0 2h0m0-2h0m0 6h0m0 1h0m0-21h0m1-3h0m0 11h0m0 2h0m0 16h0m1-19h0m1-7h0m0-3h0m0 6h0m0 17h0m1-7h0m0-3h0m0 5h0m0-5h0m0-6h0m1-2h0m0-2h0m0 5h0m0-2h0m0 5h0m1-3h0m0-6h0m1 21h0m0 4h0m1-28h0m0 22h0m1-12h0m0 2h0m0-2h0m0 2h0m0 7h0m0-7h0m0-4h0m1-6h0m0 22h0m0 2h0m1-21h0m0 5h0m1 8h0m0-14h0m0 1h0m1 17h0m0-15h0m0 10h0m0-12h0m0 20h0m0-1h0m1 1h0m0 4h0m1-9h0m0 6h0m0-1h0m0-21h0m0 18h0m0-15h0m1 19h0m0-5h0m0 3h0m1-17h0m0 4h0m1 12h0m1-9h0m0 10h0m0 6h0m0-21h0m0 7h0m0-5h0m1 18h0m0-5h0m0 2h0m1-11h0m0 4h0m0-2h0m2-9h0m0 0h0m0 5h0m0 6h0m1-9h0m1 0h0m0-9h0m0 29h0m1-20h0m0-5h0m0-2h0m1 24h0m0-22h0m0-1h0m1 26h0m0-17h0m1 4h0m0-1h0m0 13h0m1-8h0m0-11h0m1-3h0m0 2h0m1-3h0m0 16h0m0-17h0m1 10h0m0-14h0m0 25h0m0-9h0m1 12h0m0-9h0m0-11h0m1-7h0m0 8h0m0 4h0m1 1h0m0-2h0m1-5h0m1 4h0m1 5h0m0 2h0m0 1h0m0-14h0m0 1h0m1 12h0m0-3h0m0-12h0m1 21h0m0-11h0m0 0h0m0 15h0m1-20h0m0-1h0m0 5h0m0 9h0m1-21h0m0 12h0m0-3h0m1 3h0m0-2h0m0 11h0m0-16h0m1-4h0m0 27h0m1-23h0m0-4h0m0 15h0m0 12h0m0-13h0m1 9h0m0 3h0m0-23h0m0-2h0m1 25h0m0-15h0m0-9h0m1 22h0m0-11h0m1-9h0m0 10h0m1 5h0m0-14h0m0 14h0m0 8h0m0-24h0m0 22h0m0-21h0m1 22h0m0-27h0m0 13h0m1 2h0m0 14h0m2-18h0m0 4h0m0-16h0m1 16h0m0 11h0m2 1h0m0-20h0m1 9h0m0-3h0m1-9h0m0 20h0m1-22h0m0 20h0m1-18h0m0 13h0m0 0h0m0 9h0m1-13h0m1-5h0m0-5h0m1 24h0m0-27h0m0 22h0m2-20h0m0 22h0m1-12h0m0 8h0m1-12h0m0-7h0m1 21h0m0-3h0m0-19h0m1 3h0m1 21h0m1 2h0m1-11h0m0-15h0m0 6h0m0 7h0m2-5h0m1-2h0m1-5h0m0 11h0m0 3h0m1-6h0m1 11h0m0 3h0m1-8h0m0-8h0m1-1h0m2 20h0m0-13h0m0-10h0m2-3h0m1 11h0m0 16h0m0-5h0m0-22h0m1 14h0m2-12h0m0-2h0m1 15h0m0 7h0m1-20h0m0 14h0m1 5h0m2-4h0m0-10h0m3 0h0m0 17h0m1-23h0m0 14h0m3-6h0m4 19h0m3-9h0m0-18h0m4 12h0m3 11h0m3-1h0m0-16h0m1 21h0m0-14h0m0 3h0m3-2h0m1-8h0m3 3h0m1 11h0m0 3h0m3 3h0m1-10h0m2 5h0m0-8h0m2-1h0m5-12h0m0 27h0m4-7h0m2-15h0m1 0h0m1 3h0m3-6h0m0 17h0m3 5h0m0-10h0m0 10h0m6-26h0m2 18h0m1 6h0m0 1h0m0-18h0m2 21h0m0 0h0m2-4h0m2-6h0m2-13h0m2 19h0m2-6h0m0-6h0m3 8h0m5 1h0m2-6h0m1-8h0m2 4h0m0 11h0m1-2h0m2 3h0m0-7h0m2 5h0m5-4h0m2 8h0m1-1h0m0-11h0m1 16h0m0-15h0m5 5h0m4-12h0m0 12h0m2-8h0m0 10h0m12-14h0m10 0h0m0-5h0m0 14h0m0 4h0m1 8h0m4-18h0m1-4h0m1-2h0m1 11h0m3 12h0m0-4h0m0-4h0m7-19h0m1 7h0m3 11h0m1-1h0m3-2h0m4 13h0m3-5h0m1 0h0m0-4h0m1-4h0m6 13h0m1-9h0m7-4h0m0 5h0m3-3h0m3-1h0m3-9h0m0-1h0m4 21h0m4-23h0m0 4h0m1 6h0m2-10h0m8-1h0m0 19h0m0-18h0m1 13h0m0 12h0m1-8h0m0-10h0m9 17h0m0-15h0m1-9h0m1 21h0m0-2h0m1 4h0m4-12h0m0-12h0m4 25h0m2-15h0m2 5h0m1-16h0m5 18h0m0-3h0m3 4h0m4-1h0m4-6h0m6 4h0m10-8h0m2 4h0m1 12h0m10 3h0m33-9h0m12 1h0m112-11h0m-686 29h0m22 16h0m1-8h0m16-15h0m4-1h0m0 2h0m0 27h0m6-25h0m3-2h0m0 14h0m0-14h0m3 21h0m3 6h0m0-26h0m1 22h0m0-24h0m1 4h0m0 20h0m1-24h0m1 26h0m2-28h0m0 26h0m2-15h0m1 13h0m1 3h0m2 3h0m2-28h0m0 6h0m4 17h0m0-24h0m1 28h0m0-10h0m1-5h0m0 16h0m2-10h0m0-18h0m1-1h0m0 15h0m0 10h0m1-17h0m2-2h0m0 18h0m0-9h0m2-14h0m1 3h0m0 13h0m1-11h0m0-5h0m0 16h0m1-17h0m0 17h0m1 11h0m0-9h0m1-17h0m1 8h0m0 2h0m0-7h0m1 8h0m0 4h0m1 3h0m1-21h0m0 8h0m0-8h0m1 4h0m0 25h0m0-20h0m0 8h0m1-2h0m0-4h0m1 6h0m0 4h0m0 0h0m1 2h0m0-12h0m0 15h0m0-13h0m0-8h0m0 13h0m0-12h0m2 12h0m1-6h0m1 5h0m2 12h0m1-22h0m1 1h0m1 3h0m0-3h0m1 4h0m1 6h0m0-17h0m0 12h0m0 1h0m1-3h0m0 8h0m0 5h0m0-4h0m0-17h0m1 21h0m0-14h0m1 9h0m1-17h0m0 27h0m2-7h0m0-2h0m0-12h0m0 12h0m1-3h0m1-16h0m0 19h0m0 10h0m0-7h0m0-18h0m1-1h0m0 19h0m0-9h0m0 9h0m1 5h0m0-7h0m0-6h0m1-9h0m0-5h0m0 27h0m1-22h0m0-2h0m0 2h0m1 9h0m0 4h0m0-18h0m1 14h0m1 2h0m1-1h0m0 5h0m1-16h0m0 9h0m0-7h0m1 8h0m0 1h0m0-16h0m2 20h0m0-16h0m0 0h0m0 14h0m1-16h0m0 16h0m0 3h0m0-17h0m0 5h0m1 3h0m0-5h0m0-1h0m1 23h0m0-9h0m1-6h0m0 10h0m0-23h0m0 9h0m0-3h0m1 20h0m0-21h0m1 18h0m0-9h0m0 10h0m0 4h0m1-5h0m0-11h0m0 10h0m1-3h0m0-2h0m0-12h0m1 19h0m2-9h0m0-6h0m0 14h0m1-1h0m0-8h0m0 13h0m1-9h0m0 3h0m0-9h0m1 8h0m0-1h0m0 6h0m1-6h0m0-9h0m1-11h0m0 5h0m1 0h0m2-2h0m1 7h0m0 15h0m0-23h0m1-1h0m0 27h0m0-7h0m0-14h0m0 11h0m0-16h0m1 11h0m1 0h0m1-12h0m0 1h0m0-2h0m0 27h0m1 2h0m0-13h0m1-11h0m0 24h0m0-25h0m1 12h0m0-4h0m0 0h0m0 4h0m0-2h0m0 12h0m0 2h0m0-20h0m1-3h0m0 16h0m0-4h0m1 2h0m1-18h0m0 22h0m0 6h0m0-25h0m1 2h0m0 6h0m0 2h0m0 12h0m0-23h0m1 4h0m1 18h0m0-22h0m0 7h0m1 20h0m0-1h0m1-28h0m0 11h0m1 7h0m0-14h0m1 14h0m0 10h0m0-17h0m0-5h0m0 9h0m1 4h0m0-8h0m0-2h0m1-8h0m0 16h0m0-3h0m0-2h0m1 13h0m0-5h0m0-3h0m1-12h0m1 8h0m0-12h0m0 20h0m1-17h0m0 13h0m0-9h0m1 2h0m1-1h0m1 5h0m0-14h0m0 9h0m1 7h0m0-9h0m1 15h0m2-7h0m0 5h0m0-6h0m1-12h0m0-1h0m1 27h0m0-21h0m0 11h0m1-12h0m1-1h0m0 21h0m1-25h0m0 16h0m2 7h0m0-19h0m2-5h0m0 17h0m0-13h0m2 21h0m0-12h0m1 13h0m1-4h0m1-1h0m1 4h0m0-10h0m1 12h0m0-13h0m0 0h0m0-12h0m1 12h0m1-9h0m0 5h0m1 9h0m0-2h0m0 1h0m1 0h0m2 7h0m1-23h0m0 17h0m0-11h0m1 8h0m0-1h0m0 7h0m1-8h0m0 6h0m1-10h0m0-8h0m1 6h0m0 9h0m0-2h0m1-9h0m2 7h0m2 1h0m0-6h0m1 15h0m0-14h0m1 3h0m0 1h0m1 1h0m0 1h0m0 13h0m0-7h0m0-16h0m1 3h0m1 9h0m0 8h0m1-21h0m0 22h0m0-12h0m0-8h0m0 16h0m0-21h0m1 9h0m1-10h0m0 18h0m0-2h0m1-16h0m1 24h0m0-13h0m0 11h0m1 2h0m0-4h0m0-21h0m0 13h0m1 15h0m2-6h0m0-5h0m0 3h0m1 9h0m1-15h0m2 13h0m2-13h0m4-2h0m1 17h0m0-12h0m0-4h0m1 7h0m1-11h0m1 12h0m1 6h0m0-20h0m5 1h0m1 21h0m1-16h0m2-4h0m1 20h0m0-22h0m1-4h0m3 18h0m0-10h0m1 15h0m5-3h0m2-17h0m3 16h0m1-7h0m0-14h0m1 20h0m1-10h0m2-4h0m1 14h0m1-16h0m2 7h0m1 4h0m1-14h0m1 23h0m0 4h0m2-20h0m0 13h0m4-15h0m1 5h0m3-9h0m1 0h0m2 6h0m5 20h0m0-15h0m1 7h0m0-14h0m1 6h0m0 2h0m2-10h0m0 24h0m3-21h0m0 2h0m0-3h0m1 16h0m1-2h0m0-8h0m3-11h0m1 12h0m0 4h0m2-4h0m2 1h0m0 8h0m1-17h0m1 5h0m1-6h0m1 14h0m0-11h0m2 18h0m0-2h0m3-16h0m0 14h0m3 2h0m0-23h0m2 24h0m1-25h0m2 5h0m3 12h0m1-13h0m0 4h0m3 17h0m0-15h0m0-2h0m5 20h0m1-9h0m2 8h0m0 0h0m0-18h0m0 17h0m0-24h0m4 15h0m4 6h0m3-19h0m3-2h0m1 3h0m3 9h0m1-5h0m2-3h0m0 16h0m3-16h0m0 24h0m0-27h0m2 17h0m0-5h0m1-9h0m1 6h0m3 6h0m0-6h0m1 7h0m8-7h0m0 7h0m1 11h0m1-25h0m2 23h0m4-3h0m0-13h0m0-8h0m3-3h0m0 26h0m1-9h0m1 10h0m1-5h0m0-19h0m1 22h0m0-8h0m1 12h0m1-18h0m0-7h0m1 17h0m1 8h0m2-2h0m1-10h0m0 4h0m6-9h0m1 12h0m1-11h0m1 1h0m4 1h0m2-4h0m1-5h0m0 23h0m6-19h0m1-7h0m1 5h0m2 7h0m2-9h0m1 4h0m9 16h0m2-3h0m0-13h0m8 9h0m2 1h0m1 8h0m1-28h0m1 28h0m1-11h0m0 5h0m2-7h0m2-5h0m10-3h0m4 8h0m0 0h0m6-10h0m2-4h0m1 14h0m5 13h0m3-4h0m7-12h0m8 16h0m12-21h0m19 20h0m7-24h0m6 19h0m2-7h0m66 9h0m-645 27h0m6-10h0m26 5h0m4 3h0m6-3h0m6-15h0m0 5h0m6 14h0m7-21h0m6 4h0m1 1h0m2-1h0m4 13h0m0-7h0m0-5h0m1 3h0m1 6h0m1-14h0m0 14h0m1-8h0m1 17h0m2-1h0m2-15h0m1 0h0m0 16h0m2-20h0m2 2h0m1-5h0m1 6h0m1 17h0m0-4h0m0-4h0m5-11h0m2 4h0m1 7h0m0 15h0m0-1h0m2-7h0m3-14h0m0 19h0m1 1h0m4-25h0m2 14h0m1-4h0m1 0h0m0-7h0m2 22h0m2-18h0m1-9h0m1 3h0m1 16h0m0-3h0m2-2h0m0 1h0m0-3h0m1-4h0m1 9h0m0-17h0m0 17h0m1-9h0m1 8h0m0 6h0m0-19h0m0 15h0m1 10h0m0-11h0m1-14h0m0 17h0m2-13h0m0-3h0m0 7h0m0 10h0m0-8h0m2 13h0m0-22h0m1 6h0m0 13h0m1-15h0m1 1h0m0 17h0m1-27h0m0 26h0m0 2h0m0-18h0m2 5h0m0-11h0m0 12h0m0-5h0m2 8h0m0-17h0m0 19h0m0-20h0m1 13h0m0-9h0m0 6h0m0-1h0m1 16h0m0-20h0m0 11h0m2 11h0m0-13h0m1-4h0m0-5h0m0 6h0m0-4h0m1 1h0m0-5h0m1 20h0m1-11h0m1 2h0m1-5h0m0 1h0m1 3h0m0 0h0m0 6h0m1-5h0m0-7h0m1-8h0m0 7h0m0 8h0m0 12h0m1-22h0m2 0h0m0 16h0m1-13h0m0 12h0m0 4h0m1-9h0m0 11h0m0-23h0m0 1h0m1 5h0m0-3h0m1-1h0m0-3h0m1 25h0m0-2h0m1-3h0m1-10h0m0 4h0m1 6h0m0 2h0m1 2h0m0-8h0m2-17h0m0 25h0m0-15h0m3 7h0m0-16h0m1 13h0m1 0h0m0-9h0m1 9h0m0 7h0m1-15h0m1 3h0m1-4h0m1 19h0m0 1h0m0-12h0m2-10h0m0-3h0m0 11h0m0 6h0m2-4h0m0 3h0m1-6h0m0 1h0m1 8h0m0-13h0m1 13h0m0-5h0m1 9h0m0-21h0m0 13h0m1-3h0m0 7h0m0-17h0m0 19h0m2 0h0m1 4h0m0-5h0m0-15h0m1 11h0m0 13h0m1-25h0m0 23h0m0-16h0m1 16h0m0-12h0m0-12h0m1 6h0m0 17h0m1-26h0m3 12h0m0-5h0m1 0h0m1 7h0m0-8h0m1-4h0m0 9h0m1-11h0m1 26h0m0-27h0m1 30h0m0-11h0m1-14h0m0 0h0m0 23h0m2-15h0m0-6h0m1 18h0m0-4h0m1-16h0m0 17h0m1-7h0m0 5h0m1-12h0m1-7h0m1 1h0m1 6h0m1 12h0m1-14h0m0 9h0m0 8h0m1-21h0m1 23h0m1-15h0m1 8h0m0-13h0m1-4h0m0 23h0m0 0h0m1-17h0m0 3h0m0-1h0m2 10h0m0-2h0m1-16h0m0 4h0m0 9h0m1 7h0m1-10h0m0-1h0m0-3h0m1 5h0m0-4h0m4-2h0m2-1h0m0-4h0m0 25h0m1-18h0m0 15h0m1-14h0m0-1h0m2-3h0m0 6h0m1 5h0m3-11h0m2 2h0m0 4h0m0-2h0m2 5h0m1-1h0m0-5h0m1 8h0m0 13h0m1-13h0m0 0h0m3 3h0m1-11h0m0 11h0m0-11h0m1-6h0m1-1h0m0 14h0m1-4h0m3 8h0m0-5h0m1 3h0m1 12h0m1-20h0m1-2h0m1 20h0m0-20h0m4-2h0m1 20h0m1-1h0m1 5h0m6-10h0m1 11h0m1-9h0m1-6h0m1 3h0m1-2h0m1 12h0m1 1h0m2-21h0m0 5h0m1 14h0m0-3h0m1-24h0m1 4h0m4 21h0m3 4h0m2-8h0m2-10h0m2-5h0m1 6h0m0-1h0m8-10h0m3 14h0m9-6h0m4 3h0m1 4h0m0-3h0m1 13h0m3-5h0m1 0h0m1-13h0m1 16h0m3-3h0m5 0h0m1-5h0m0-13h0m6 12h0m8 5h0m2 5h0m8-24h0m3 10h0m5 19h0m8-7h0m0-20h0m5 7h0m4 6h0m6 9h0m2-24h0m3 4h0m0 9h0m2-2h0m0-5h0m1 1h0m1 4h0m2 9h0m2 6h0m2-23h0m1 8h0m1-7h0m2 23h0m10-25h0m6 9h0m1-1h0m2 18h0m1-15h0m0 7h0m1-18h0m3 26h0m4-28h0m6 21h0m1-4h0m4-8h0m1 1h0m2 12h0m0-10h0m4-8h0m13 1h0m4 5h0m4-6h0m1 24h0m2-27h0m10-2h0m11 7h0m16 4h0m7 0h0m19 0h0m11-6h0m4 11h0m-576 28h0m19 3h0m27-5h0m15 0h0m3 6h0m5 8h0m2-15h0m6 1h0m1-8h0m1 23h0m4 0h0m1-16h0m4 3h0m2 6h0m2 1h0m4 2h0m1-13h0m2 10h0m3 0h0m1-4h0m3 11h0m1-11h0m8-6h0m1-6h0m1 12h0m4 7h0m3-13h0m1-6h0m1-1h0m1 26h0m1-19h0m1-9h0m2 3h0m4 25h0m0-29h0m1 17h0m0-12h0m0 9h0m1-12h0m2 16h0m1-8h0m1-10h0m3 21h0m2-13h0m0 22h0m0-6h0m3 4h0m0-19h0m2-6h0m0 12h0m0-7h0m2 5h0m0-8h0m0 16h0m2-9h0m1-9h0m0 15h0m0-3h0m1 5h0m0-7h0m0 4h0m1 3h0m1-17h0m1 23h0m0-12h0m1-10h0m0-1h0m0-2h0m1 1h0m1 25h0m1-16h0m1-9h0m0 9h0m0-6h0m0 4h0m1 17h0m2-12h0m1 0h0m0 9h0m2-4h0m0-9h0m2 2h0m0 1h0m1-2h0m2 18h0m0-1h0m1-24h0m0 13h0m1-13h0m2 22h0m0-23h0m1 5h0m2 0h0m0-6h0m0 19h0m1-8h0m0-4h0m2-7h0m2 25h0m1-11h0m0 6h0m1-20h0m0 5h0m1 13h0m1-17h0m1 18h0m1-8h0m1 7h0m0-17h0m1 7h0m1-4h0m0-2h0m1 21h0m1 0h0m2-16h0m2 16h0m1-9h0m0 14h0m1-20h0m0-5h0m1 2h0m0 6h0m0 13h0m0-17h0m1-1h0m0 12h0m1-15h0m0 0h0m2-3h0m0 4h0m4-5h0m1 5h0m1 6h0m1-1h0m2 9h0m1 0h0m2-16h0m2 4h0m2-3h0m1-4h0m0 18h0m0-7h0m1-7h0m2 25h0m3-11h0m0 9h0m1-25h0m0 11h0m1 14h0m1-11h0m2-7h0m4 18h0m0-9h0m1-15h0m2 11h0m0 8h0m4-8h0m5 14h0m2-20h0m1 4h0m4 10h0m0-2h0m2 6h0m1-16h0m1-8h0m2 17h0m0-12h0m9-6h0m0 4h0m2 7h0m4 13h0m2-21h0m1 14h0m1 7h0m3 1h0m7-10h0m0-5h0m6 9h0m5-21h0m1 5h0m1 1h0m8 4h0m4-7h0m1 27h0m4-10h0m4-8h0m1-6h0m5 11h0m12 8h0m13-18h0m4-6h0m2 0h0m3 25h0m5 1h0m8-10h0m10-3h0m5-12h0m4 9h0m5 1h0m3-2h0m4 0h0m1 7h0m10-10h0m6-6h0m14 21h0m1-20h0m3 0h0m24 15h0m5 9h0m16-23h0m7 9h0m2 17h0m6-3h0m0-21h0m-467 41h0m19 4h0m27 1h0m26 0h0m4 4h0m2 5h0m9-26h0m3 12h0m6 0h0m1 4h0m1-19h0m10 6h0m2 18h0m1-23h0m7 6h0m1-1h0m2-1h0m2-3h0m8 23h0m1-18h0m4 10h0m2-3h0m0 15h0m3-10h0m4-7h0m0-3h0m2-9h0m1 25h0m0 0h0m3-8h0m1-10h0m2 12h0m2 2h0m1-9h0m1-9h0m3 21h0m1 4h0m0-14h0m2-9h0m4 22h0m2-24h0m1 16h0m4-16h0m2 6h0m4-1h0m0 13h0m1-7h0m2 3h0m2-1h0m1-7h0m6 10h0m7-17h0m7 27h0m4-13h0m1 3h0m0-11h0m21 4h0m2 13h0m2-5h0m2-18h0m18 1h0m5 23h0m2-26h0m6 5h0m33-2h0m5 25h0m4-28h0m13 14h0m28-10h0m66 1h0m-336 29h0m45-1h0m6 6h0m6 2h0m11-7h0m5 12h0m7-10h0m11 16h0m2-3h0m2 3h0m10-6h0m14-8h0m11-2h0m10 13h0m12-20h0m5 5h0m9 12h0m144-14h0m52 9h0m37-11h0m-393 34h0m44 4h0m23 14h0m1-6h0m9-1h0m0-11h0m5 3h0m-10 35h0m45 11h0m57 6h0m-71 66h0m85-6h0" stroke="#000" stroke-width="7.5" stroke-linecap="round" fill="none"/>
<rect x="139.30" y="423.10" width="93.40" height="93.50" fill="none" stroke="#111" stroke-width="1.5"/>
<rect x="139.30" y="535.40" width="93.40" height="93.40" fill="none" stroke="#111" stroke-width="1.5"/>
<rect x="139.30" y="645.90" width="93.40" height="93.50" fill="none" stroke="#111" stroke-width="1.5"/>
<rect x="241.40" y="423.10" width="94.10" height="93.50" fill="none" stroke="#111" stroke-width="1.5"/>
<rect x="241.40" y="535.40" width="94.10" height="93.40" fill="none" stroke="#111" stroke-width="1.5"/>
<rect x="241.40" y="645.90" width="94.10" height="93.50" fill="none" stroke="#111" stroke-width="1.5"/>
<path d="M164.10,462.60 L177.20,445.60 L198.20,445.60 L198.20,461.70 L182.40,485.30 L169.00,485.30 Z" fill="none" stroke="#4a76b8" stroke-width="1.2" stroke-linejoin="miter"/>
<path d="M266.30,463.40 L280.30,445.90 L300.60,445.90 L300.10,462.60 L285.20,485.30 L271.50,485.30 Z" fill="none" stroke="#a83a3a" stroke-width="1.2" stroke-linejoin="miter"/>
<path d="M167.00,557.10 L201.20,557.10 L201.20,568.70 L177.70,589.20 L167.00,589.20 Z" fill="none" stroke="#4a76b8" stroke-width="1.2" stroke-linejoin="miter"/>
<path d="M268.20,555.40 L302.40,555.40 L302.40,566.40 L279.10,586.90 L268.20,586.90 Z" fill="none" stroke="#a83a3a" stroke-width="1.2" stroke-linejoin="miter"/>
<path d="M178.40,662.50 L216.60,662.50 L216.60,690.70 L185.10,690.70 L178.40,684.00 Z" fill="none" stroke="#4a76b8" stroke-width="1.2" stroke-linejoin="miter"/>
<path d="M279.40,663.60 L317.90,663.60 L317.90,691.90 L289.20,691.90 L279.40,684.90 Z" fill="none" stroke="#a83a3a" stroke-width="1.2" stroke-linejoin="miter"/>
<text x="186.00" y="444.17" font-size="9.5" text-anchor="middle" font-weight="normal" fill="#222" stroke="#222" stroke-width="0.22">88.5</text>
<text x="291.30" y="444.37" font-size="9.5" text-anchor="middle" font-weight="normal" fill="#222" stroke="#222" stroke-width="0.22">0.55</text>
<text x="184.20" y="555.77" font-size="9.5" text-anchor="middle" font-weight="normal" fill="#222" stroke="#222" stroke-width="0.22">88.3</text>
<text x="285.20" y="554.07" font-size="9.5" text-anchor="middle" font-weight="normal" fill="#222" stroke="#222" stroke-width="0.22">0.38</text>
<text x="197.30" y="661.17" font-size="9.5" text-anchor="middle" font-weight="normal" fill="#222" stroke="#222" stroke-width="0.22">85.2</text>
<text x="298.00" y="661.67" font-size="9.5" text-anchor="middle" font-weight="normal" fill="#222" stroke="#222" stroke-width="0.22">0.78</text>
<text x="131.30" y="481.40" font-size="11" text-anchor="middle" font-weight="normal" fill="#1a1a1a" stroke="#1a1a1a" stroke-width="0.22" transform="rotate(-90 131.30 477.50)">CD49d-PE-Cy7</text>
<text x="139.50" y="529.81" font-size="11.3" text-anchor="start" font-weight="normal" fill="#1a1a1a" stroke="#1a1a1a" stroke-width="0.22">CD10-FITC</text>
<text x="132.50" y="612.40" font-size="11" text-anchor="middle" font-weight="normal" fill="#1a1a1a" stroke="#1a1a1a" stroke-width="0.22" transform="rotate(-90 132.50 608.50)">Ig κ-PE</text>
<text x="139.50" y="640.61" font-size="11.3" text-anchor="start" font-weight="normal" fill="#1a1a1a" stroke="#1a1a1a" stroke-width="0.22">CD10-FITC</text>
<text x="131.00" y="724.40" font-size="11" text-anchor="middle" font-weight="normal" fill="#1a1a1a" stroke="#1a1a1a" stroke-width="0.22" transform="rotate(-90 131.00 720.50)">Ig κ-PE</text>
<text x="138.70" y="752.18" font-size="11.2" text-anchor="start" font-weight="normal" fill="#1a1a1a" stroke="#1a1a1a" stroke-width="0.22">CD49d-PE-Cy7</text>
<text x="20.30" y="480.95" font-size="8.3" text-anchor="start" font-weight="normal" fill="#222" stroke="#222" stroke-width="0.22">Gated on CD45<tspan font-size="6" dy="-3.5">+</tspan><tspan dy="3.5"> cells</tspan></text>
<path transform="scale(.1)" d="M747 4888h0m108-4h0m62-18h0m-79 32h0m14 19h0m17-18h0m43 12h0m5 3h0m-131 21h0m53 7h0m-138 21h0m47 10h0m50-4h0m8 2h0m60 8h0m55-26h0m9 18h0m-175 24h0m71 11h0m10-14h0m-265 38h0m213 10h0m6-6h0m12-1h0m15-15h0m2 16h0m3-11h0m3 16h0m13-12h0m4-2h0m12 1h0m6 10h0m4-5h0m4-9h0m2 11h0m5-13h0m8 17h0m7-25h0m4 11h0m8 1h0m-153 27h0m48 17h0m11-1h0m12-6h0m1-7h0m26-11h0m6 3h0m1 23h0m1-22h0m6 12h0m2-12h0m4 22h0m1-26h0m1 15h0m14 0h0m7 11h0m1-24h0m4 16h0m1 5h0m-98 32h0m7 0h0m4-7h0m0 9h0m9-18h0m0 10h0m4-16h0m0 1h0m9 5h0m0 14h0m1 0h0m1-23h0m9 13h0m1 1h0m12 10h0m0-23h0m1 8h0m1 11h0m1-1h0m2 4h0m0-19h0m3 21h0m1-2h0m0-4h0m5 6h0m3-16h0m3 3h0m0-13h0m0-1h0m0 29h0m2-29h0m2 0h0m1 7h0m1 1h0m0 1h0m1 4h0m3-4h0m3 15h0m6-15h0m2 15h0m0-1h0m2 3h0m1-18h0m13 4h0m16-10h0m-554 41h0m88 4h0m232 5h0m57 2h0m0-4h0m21-12h0m3 4h0m7-11h0m4-1h0m0 12h0m5 14h0m3-15h0m11-6h0m4 6h0m12-9h0m2 12h0m1 14h0m3-7h0m2 5h0m1-5h0m0-2h0m1-11h0m0-3h0m1 0h0m1 1h0m2-2h0m6 11h0m2-3h0m2 12h0m0-15h0m3-1h0m0 1h0m1-9h0m1 22h0m1-7h0m0 4h0m1 9h0m0-9h0m1-4h0m1 4h0m0-16h0m2 21h0m0-1h0m4 5h0m2-1h0m9-23h0m2 1h0m1 17h0m0-3h0m2 5h0m2-8h0m0-16h0m12 9h0m8 17h0m6-10h0m5-8h0m1 5h0m5 11h0m1-8h0m-243 23h0m79 7h0m5 0h0m18 9h0m3-17h0m7-9h0m1 27h0m0-2h0m10-12h0m1 14h0m1-6h0m1 7h0m4-26h0m2 11h0m0-7h0m2-6h0m0 4h0m5 4h0m1 5h0m0-6h0m1-7h0m0 27h0m2-2h0m3-21h0m3-1h0m0 4h0m1 5h0m1-10h0m5 6h0m0 14h0m1-1h0m0-11h0m2 6h0m1-2h0m4-1h0m1 4h0m0 3h0m1 6h0m2-5h0m1-4h0m0-7h0m2 7h0m1-14h0m0 17h0m0 1h0m1-1h0m1 2h0m0-4h0m0-1h0m1 3h0m2 4h0m0-7h0m2-2h0m4 8h0m2-21h0m1 28h0m2-5h0m2-13h0m2 5h0m2 9h0m2-3h0m3-13h0m1 0h0m2-10h0m3 7h0m7-1h0m5 14h0m7-17h0m0 19h0m2-21h0m6 11h0m1-6h0m1 21h0m4-13h0m2 7h0m4-13h0m0 0h0m2 14h0m0-5h0m18 11h0m-465 6h0m285 7h0m1 1h0m8 12h0m8-24h0m1 3h0m5 25h0m4-24h0m4 3h0m0-1h0m5 3h0m4-5h0m3 24h0m0-12h0m1-5h0m0 13h0m0-15h0m1 11h0m1 3h0m1-3h0m3-12h0m1 14h0m0-3h0m1-8h0m1 17h0m3-23h0m1 19h0m3 1h0m1-4h0m3-17h0m2 1h0m1 22h0m1-25h0m0 19h0m1-19h0m1 24h0m1-15h0m1-3h0m1 6h0m0-11h0m1-1h0m0 21h0m0-14h0m2 20h0m0-2h0m1-5h0m1-17h0m2-1h0m1 25h0m0-1h0m0-12h0m2-10h0m1 5h0m1 14h0m2 4h0m4-12h0m3 11h0m0-25h0m1 13h0m1-13h0m1 7h0m0 11h0m2-16h0m1 22h0m1-8h0m0 1h0m1-17h0m4 3h0m3 13h0m2-14h0m1 3h0m1 8h0m0-8h0m1 18h0m2-19h0m2 17h0m2-8h0m0-1h0m1 0h0m1-10h0m1 15h0m3-6h0m3 8h0m1-12h0m2 1h0m1 8h0m0 4h0m1-11h0m2 4h0m4 6h0m0-22h0m11 29h0m7-20h0m10 4h0m3 13h0m7-1h0m0-19h0m3 7h0m36 13h0m-225 31h0m18-22h0m1 6h0m9 7h0m8-11h0m1-4h0m4 23h0m3-22h0m2 1h0m3 0h0m2 12h0m2 11h0m0-10h0m2-2h0m1-2h0m1 1h0m0-7h0m4 2h0m2 8h0m0 12h0m2-6h0m1 3h0m3-20h0m1 22h0m1-22h0m0 16h0m4 6h0m1-16h0m3 3h0m2 4h0m3-10h0m4 5h0m0-2h0m2 2h0m0 8h0m2-2h0m1-7h0m1-9h0m1 9h0m1-7h0m0 21h0m1-7h0m0-8h0m2-4h0m0 11h0m2-4h0m1 12h0m1-3h0m0-12h0m0 10h0m2-2h0m1 6h0m0-11h0m1 1h0m1 11h0m0-13h0m3 13h0m1 0h0m1-14h0m1 10h0m2-1h0m2 1h0m0-6h0m0-17h0m1 16h0m1-2h0m1 15h0m3-12h0m1 7h0m0-7h0m1 0h0m0 11h0m2-6h0m2 6h0m1-7h0m3 2h0m1 0h0m1 5h0m0-1h0m1-22h0m1 21h0m0-10h0m2-16h0m0 7h0m0-2h0m3 6h0m1-10h0m2 20h0m6 4h0m5-14h0m9 10h0m2-20h0m1 27h0m12-20h0m10 10h0m-591 35h0m360-13h0m51 4h0m7-3h0m2 2h0m1 1h0m2 1h0m0-15h0m2 6h0m3 13h0m2 3h0m2-22h0m1 7h0m2 21h0m6-6h0m1-1h0m0 6h0m1-8h0m1-6h0m0-1h0m1 1h0m1 3h0m5 9h0m2 1h0m1-5h0m4-11h0m1-3h0m1 13h0m1-15h0m2 13h0m3-16h0m0 1h0m0 9h0m1-11h0m1 27h0m0-1h0m1-12h0m1 4h0m1 4h0m1-3h0m1 6h0m0-14h0m1 12h0m1-22h0m0 21h0m0-19h0m0 8h0m1 0h0m0 4h0m1 10h0m0-6h0m1 7h0m3-28h0m0 30h0m1-3h0m0-21h0m1-3h0m0 7h0m1 10h0m1 4h0m1-23h0m0 5h0m1 13h0m1-18h0m1 16h0m1-16h0m1 21h0m1-11h0m0 8h0m0-14h0m0 8h0m1-3h0m0-6h0m0 18h0m1-9h0m0-6h0m1-4h0m1 21h0m0 3h0m0-4h0m1-13h0m0 19h0m0-23h0m1 17h0m0-23h0m0 26h0m1-21h0m1-1h0m1 17h0m0 1h0m0 2h0m1-16h0m0-7h0m1 28h0m0-23h0m0 19h0m2-21h0m1 25h0m0-2h0m0 0h0m0-17h0m1 2h0m0 13h0m1-5h0m0 6h0m1-7h0m0 5h0m1-17h0m0 4h0m0-1h0m1 4h0m0-1h0m0 11h0m0-7h0m1-14h0m1-3h0m0 16h0m0 13h0m1-12h0m0 3h0m0-13h0m3 0h0m0 9h0m2 11h0m0-6h0m3 2h0m0-22h0m2 24h0m0 0h0m1-2h0m1 5h0m0 1h0m0-7h0m1-16h0m0 13h0m1 0h0m1 3h0m0-9h0m1 1h0m1 7h0m1-6h0m0 4h0m0-18h0m3 22h0m1-16h0m0 7h0m2-3h0m1 10h0m1-15h0m1 9h0m1-11h0m0 26h0m1-25h0m0 15h0m0 10h0m2-9h0m2-17h0m2 15h0m0-11h0m2 13h0m5 3h0m0-2h0m1-1h0m7 6h0m4-5h0m11-13h0m2-3h0m14 11h0m56-1h0m-592 37h0m27-1h0m46-8h0m89-1h0m181-12h0m9 12h0m0 3h0m15-7h0m1 5h0m6 13h0m2 1h0m1-19h0m0-5h0m4 10h0m0 3h0m0-11h0m1 13h0m1-9h0m1 18h0m1-24h0m0 24h0m4-23h0m0 23h0m2-4h0m0-21h0m1 21h0m1-17h0m0 22h0m0-17h0m1 6h0m1-7h0m4-5h0m0 21h0m1 2h0m1-7h0m1 1h0m3-6h0m0-7h0m0-2h0m1 1h0m1 7h0m0 2h0m4-8h0m0-9h0m1 23h0m0 4h0m0-13h0m1 11h0m0-4h0m1 0h0m1-3h0m2-17h0m0 25h0m0-1h0m1-20h0m1-4h0m0 9h0m2-7h0m0 23h0m0-22h0m2 7h0m1-11h0m1 11h0m2-10h0m1 7h0m1 11h0m1-17h0m1 14h0m0-4h0m1-8h0m0 21h0m1-10h0m0 5h0m0-14h0m1 5h0m0 11h0m1-13h0m0-9h0m0 4h0m1-3h0m0 23h0m0-19h0m0 5h0m1-3h0m0 12h0m0-7h0m1 14h0m2 2h0m0-13h0m1 10h0m2-2h0m0-12h0m0 13h0m0-6h0m0-15h0m2 23h0m0-13h0m1-8h0m0 19h0m0-3h0m0 1h0m1 4h0m0-11h0m0-1h0m0-9h0m2 7h0m1 9h0m1 2h0m0-5h0m1-2h0m1-10h0m0 6h0m0-2h0m1 0h0m0 6h0m0 2h0m1-14h0m1 8h0m2 0h0m1 10h0m0 4h0m1 0h0m1-24h0m0 19h0m2-11h0m1-1h0m1 20h0m1-29h0m1 4h0m0 7h0m1 2h0m0-5h0m0 4h0m1-6h0m1-6h0m0 28h0m0-22h0m1 1h0m1 20h0m0-21h0m1-2h0m0-1h0m0-2h0m1 25h0m1-13h0m2-14h0m0 16h0m3-8h0m1 21h0m0-4h0m3-9h0m1-5h0m0-8h0m2 27h0m1-14h0m1-5h0m2 16h0m1-9h0m2 4h0m0-6h0m5 7h0m1-21h0m0 0h0m2 10h0m0 15h0m3-24h0m1 17h0m3 5h0m3-7h0m1 12h0m8-16h0m9-1h0m0 5h0m-538 37h0m36-15h0m4 9h0m20 5h0m4 0h0m13-8h0m3 5h0m3 6h0m0-3h0m10-18h0m11 7h0m19-12h0m2 6h0m12-1h0m185 2h0m27 7h0m7 0h0m6 14h0m8-10h0m4-15h0m2 19h0m1-12h0m0-8h0m1 25h0m3-11h0m3 2h0m2-8h0m1-2h0m2 9h0m1 10h0m0-11h0m2 3h0m3 5h0m0-24h0m2 0h0m5 12h0m0 13h0m1-14h0m1 8h0m1 8h0m4-26h0m1 12h0m0 8h0m3-15h0m1-7h0m1 3h0m0 7h0m0 11h0m2-13h0m1 12h0m1-10h0m2 14h0m2-9h0m0-12h0m0 24h0m1-24h0m1 10h0m1-3h0m0 8h0m0 1h0m1-5h0m1-3h0m0 16h0m0-2h0m1-14h0m0 11h0m0-12h0m1-7h0m2 26h0m0-6h0m0-20h0m1 25h0m0-13h0m1 9h0m0-13h0m1-4h0m0 3h0m0 12h0m0-2h0m1 6h0m0-2h0m0-13h0m0 12h0m0-8h0m1 13h0m0-9h0m1-12h0m0 10h0m0-3h0m1 10h0m1-13h0m0-10h0m1 24h0m2-23h0m0 2h0m0 21h0m0-20h0m1 23h0m1-20h0m0 9h0m0 13h0m1-25h0m0-3h0m2 12h0m0-4h0m0-6h0m2 4h0m0 21h0m0-22h0m1 20h0m0-1h0m1-23h0m0 3h0m1 18h0m2-5h0m1 6h0m1-3h0m1-6h0m0 4h0m1 4h0m0 0h0m0 2h0m0-21h0m0 22h0m1-19h0m1 11h0m0-19h0m2 28h0m1-20h0m0 18h0m0-14h0m1-4h0m0 7h0m0 2h0m0-11h0m1 9h0m0 4h0m0 8h0m0-7h0m0-19h0m1 17h0m0-16h0m0 0h0m1 22h0m0-13h0m0 16h0m1 1h0m1-25h0m1 24h0m0-14h0m1 7h0m0-5h0m1-8h0m0-1h0m1-5h0m0 21h0m0-9h0m1-3h0m0 9h0m1-3h0m0-13h0m0 2h0m1 8h0m0 10h0m1 4h0m0-3h0m0-6h0m0 9h0m3-23h0m0 23h0m2-25h0m1 22h0m2-11h0m0-6h0m2 20h0m0-9h0m1-13h0m1 11h0m1 9h0m1-17h0m0 14h0m1-13h0m0 16h0m0-5h0m2 2h0m1-11h0m2 5h0m2 11h0m0-24h0m0 6h0m1 20h0m2 0h0m4-20h0m3-8h0m2 27h0m4-25h0m8 3h0m7 18h0m28-14h0m-587 49h0m45-22h0m1 12h0m1-10h0m32 15h0m1 2h0m3 2h0m9 0h0m4-7h0m2-18h0m6 13h0m2-15h0m8 17h0m17 10h0m10-10h0m16 5h0m103-5h0m116-18h0m1 27h0m3 1h0m1-16h0m0 3h0m8-1h0m7 15h0m5-11h0m1 11h0m3-23h0m2-5h0m1 16h0m5 10h0m0 1h0m2-16h0m2-10h0m2 7h0m0-7h0m2 27h0m2-23h0m0 19h0m1-19h0m0 23h0m0-21h0m2 18h0m0 1h0m1-16h0m5 15h0m2-17h0m1 12h0m1-11h0m0 20h0m1-12h0m0 5h0m0-17h0m1 6h0m1 11h0m0 0h0m1 7h0m1-5h0m0-15h0m1-1h0m1 13h0m1-11h0m1 10h0m0-12h0m1 5h0m0-8h0m1 12h0m1-10h0m0 16h0m1-16h0m2-6h0m0 4h0m0-5h0m1 10h0m0 7h0m0 4h0m0-6h0m1 5h0m0-5h0m0 8h0m1-14h0m1-3h0m0 16h0m1 2h0m0-12h0m0-2h0m0-4h0m1 9h0m0-4h0m1 8h0m0-1h0m0 3h0m1-6h0m0-16h0m0 12h0m0 16h0m1-18h0m1 1h0m1 9h0m1 2h0m0-9h0m0 2h0m1 9h0m0-24h0m0 28h0m1-26h0m0 14h0m1-15h0m0 19h0m0-13h0m1 18h0m1-2h0m1-15h0m0 4h0m1-5h0m0 17h0m0-3h0m1-18h0m0 21h0m0-3h0m2 9h0m0-12h0m1 1h0m0-15h0m1 20h0m1-5h0m0-16h0m0 7h0m0 10h0m1-1h0m0-7h0m0 12h0m1-14h0m1 14h0m1-1h0m1-15h0m0 16h0m0-23h0m0 8h0m1 17h0m0 3h0m0-12h0m1-13h0m0 8h0m0 3h0m1-1h0m0 9h0m0-5h0m0 8h0m0-22h0m1-2h0m1 16h0m0-13h0m1 2h0m0 8h0m0-1h0m3 4h0m2 5h0m1 0h0m1-21h0m3 25h0m2-13h0m0 14h0m1-6h0m1-18h0m1 15h0m1 4h0m0 1h0m1-4h0m0-1h0m0 2h0m0-13h0m1 20h0m0 0h0m1-16h0m0 5h0m0-16h0m3 22h0m2-18h0m1 12h0m1-17h0m1 6h0m1 16h0m3-3h0m2 10h0m2-5h0m0-16h0m0 18h0m1-1h0m0 5h0m0-30h0m0 18h0m4-7h0m3 8h0m2-6h0m1 13h0m4 3h0m1-24h0m5 11h0m14-6h0m0 11h0m2-10h0m6-7h0m16 25h0m-547 25h0m12-24h0m9 2h0m11 27h0m3-18h0m1 10h0m0-2h0m5-1h0m4 3h0m2-14h0m5 14h0m7-12h0m1 11h0m5-18h0m2 21h0m5-8h0m7 1h0m46-5h0m109-6h0m37 23h0m80-4h0m1-20h0m5 21h0m2 1h0m6-10h0m2 14h0m5-8h0m3 0h0m3 2h0m4-2h0m1-14h0m3 2h0m2 8h0m1-8h0m1 0h0m1 13h0m2 4h0m0 0h0m1-15h0m2-1h0m1-6h0m0 16h0m1 9h0m0-12h0m0 11h0m3-18h0m2 18h0m2-6h0m0-4h0m1 9h0m2-22h0m0-3h0m0 5h0m1 5h0m0 14h0m1 0h0m0-18h0m0 1h0m0-6h0m1 12h0m1 10h0m1-17h0m1 15h0m0-1h0m1-15h0m0-6h0m1 17h0m0-2h0m2 5h0m1-20h0m1 4h0m1 13h0m0 0h0m2 10h0m1-23h0m1 5h0m1 0h0m1 16h0m0-24h0m0-1h0m0-1h0m1 21h0m1-3h0m0 4h0m0-7h0m1-10h0m2 9h0m0 5h0m0-7h0m1-10h0m0 18h0m0-3h0m0 9h0m0-15h0m1 3h0m1 8h0m0-16h0m1 13h0m0 7h0m1-5h0m1 3h0m0-8h0m0-14h0m0 3h0m1 7h0m0 15h0m0 0h0m0-3h0m1-24h0m0 11h0m1 5h0m1-10h0m0 2h0m0 2h0m1 3h0m0-9h0m1 1h0m0 10h0m1-2h0m0-13h0m0 16h0m1-1h0m0 2h0m0 6h0m1 4h0m1-13h0m0-6h0m2 9h0m0-8h0m0 15h0m2 2h0m1-19h0m0 5h0m0 6h0m1 9h0m0-10h0m1 9h0m1-6h0m0 4h0m1-24h0m2 7h0m1 17h0m1-18h0m0 15h0m2-12h0m2 10h0m1-18h0m1 0h0m1 9h0m0 14h0m1-8h0m0-7h0m2 15h0m1-15h0m1 14h0m1-4h0m2 7h0m2-22h0m1 12h0m0 5h0m1-7h0m1-14h0m0 20h0m0-20h0m0 15h0m1 10h0m0-19h0m1 8h0m1 0h0m0 2h0m3-13h0m1 9h0m11-9h0m4 15h0m40 7h0m7-21h0m110 21h0m-779 12h0m71 5h0m2-11h0m9 23h0m28 5h0m2-23h0m3 18h0m3-17h0m8 15h0m14-19h0m7 21h0m2-6h0m1 5h0m1 2h0m7-10h0m2 8h0m8-13h0m6-4h0m2 0h0m3 0h0m1 3h0m1 12h0m3 6h0m3-21h0m2 5h0m0 13h0m2-21h0m3 6h0m5-8h0m2 2h0m0 0h0m28 10h0m72 2h0m10-14h0m22 8h0m21-8h0m60 26h0m34 1h0m17-14h0m19 4h0m2-14h0m1 23h0m2-17h0m0 12h0m2-1h0m1 2h0m5-21h0m4-3h0m0 22h0m2 8h0m5-14h0m2-6h0m0 16h0m4 2h0m1-11h0m3 0h0m1-4h0m0 9h0m2-7h0m0-13h0m2 17h0m1 5h0m1-8h0m1-7h0m1 7h0m0 8h0m1-23h0m0 21h0m2-10h0m2-12h0m0 11h0m2 13h0m0 4h0m0 1h0m1-23h0m0 2h0m0 21h0m0-8h0m1-12h0m1-5h0m0 20h0m1 2h0m1-25h0m1 22h0m3-8h0m0 9h0m2 2h0m1-4h0m0 3h0m0 4h0m2-26h0m0-1h0m1 16h0m1 10h0m2 0h0m1-25h0m0 25h0m3 0h0m0-24h0m1 22h0m1-13h0m0-8h0m1 13h0m1 10h0m1-21h0m1 11h0m0 0h0m0 8h0m0-13h0m1 13h0m1-15h0m0-2h0m0 13h0m0 8h0m5-11h0m0-15h0m0 18h0m1-21h0m0 24h0m2-8h0m2-8h0m2-7h0m2 28h0m0-1h0m0-26h0m3 18h0m1-6h0m0 5h0m0-8h0m1 7h0m1 6h0m0-11h0m1-5h0m0-2h0m1 17h0m1-19h0m0 1h0m0 21h0m0-8h0m3-17h0m0 27h0m1-16h0m1 13h0m0-9h0m0-11h0m0 8h0m3 0h0m2 15h0m1-17h0m3 1h0m1 10h0m0-22h0m2 23h0m0-9h0m0 3h0m2 6h0m2-10h0m1-9h0m1 20h0m1-1h0m0 2h0m6-1h0m3-6h0m1-11h0m2-5h0m10-2h0m4 22h0m16-16h0m9 11h0m-557 21h0m19 9h0m4 7h0m1-1h0m1 0h0m1-5h0m1 4h0m1-4h0m0 6h0m0-2h0m1-1h0m4-12h0m0-2h0m1 14h0m1-8h0m2-13h0m1-1h0m3 25h0m0-12h0m1-9h0m1 16h0m1-11h0m1 10h0m0-2h0m1-15h0m1 25h0m3-23h0m0 23h0m1-8h0m1-5h0m3-3h0m3 7h0m6 1h0m1-13h0m1 5h0m1-8h0m4 10h0m3 12h0m3-1h0m8-1h0m2 4h0m0 2h0m3-16h0m4 15h0m5-27h0m1 28h0m15-6h0m7-9h0m4 13h0m1 0h0m25-12h0m33 6h0m8 0h0m10-4h0m4 12h0m44-13h0m2-4h0m101 17h0m9-26h0m10 4h0m2-1h0m5 22h0m1-12h0m10-4h0m1 1h0m5-7h0m0 3h0m1-2h0m4 13h0m0-18h0m1 13h0m3 13h0m3-18h0m1 18h0m2-16h0m0-3h0m1 2h0m1-1h0m2 11h0m1-17h0m1 21h0m2 3h0m3-24h0m1 18h0m3-20h0m2 3h0m0-5h0m0 3h0m1 2h0m0 24h0m1-24h0m1 6h0m4-4h0m0-6h0m1 10h0m0 5h0m3 8h0m0-20h0m1 20h0m0-7h0m1-17h0m0 15h0m1-10h0m1 0h0m1 9h0m1-5h0m1 15h0m0 3h0m1-24h0m0 0h0m1 22h0m0-3h0m1-9h0m2-3h0m1 5h0m1 13h0m0 0h0m0-2h0m1-21h0m0 9h0m0-7h0m1 18h0m1 5h0m0-29h0m1 6h0m0-6h0m2 24h0m1-7h0m0 6h0m0-18h0m0 8h0m0 10h0m1-23h0m0 8h0m0 1h0m2 1h0m0 18h0m0-14h0m1 4h0m0-2h0m1-2h0m1 11h0m1-21h0m1 15h0m0-11h0m2 2h0m2 2h0m1-12h0m0 13h0m1 0h0m4 14h0m1-8h0m1-7h0m3-2h0m1-3h0m0 1h0m2 13h0m2-21h0m1 23h0m0-10h0m2-12h0m1 3h0m0 23h0m0-1h0m0-13h0m1-2h0m3 7h0m4 2h0m1-1h0m0-19h0m1 22h0m4-2h0m1-16h0m2 20h0m1-9h0m0 10h0m3-16h0m3 19h0m3-19h0m2 13h0m5-19h0m18 12h0m8-1h0m-596 42h0m20-8h0m27 6h0m4 4h0m1-5h0m4-4h0m4-18h0m1 26h0m4 1h0m2-23h0m3 7h0m4 0h0m1-2h0m3 0h0m1 11h0m1 6h0m1-2h0m1-1h0m0 0h0m1-9h0m2 4h0m0 0h0m0 5h0m3-13h0m4-7h0m0 19h0m2-24h0m0 6h0m2-1h0m0 0h0m6 13h0m1 6h0m1 5h0m3-21h0m0 5h0m5 3h0m0-11h0m1 0h0m1 19h0m1-2h0m0-21h0m2 19h0m1-10h0m4 18h0m2-16h0m7 6h0m0-10h0m2 17h0m1-23h0m1 2h0m3 22h0m1-4h0m13 4h0m47-23h0m7 12h0m12-10h0m23 8h0m4 5h0m21-3h0m6-2h0m1 12h0m8-16h0m1-8h0m3 7h0m7 14h0m1 1h0m9 2h0m5-1h0m10-9h0m76-5h0m6-4h0m2 12h0m3-3h0m2 8h0m3-9h0m5-11h0m6 10h0m16-10h0m5-1h0m1 12h0m2 2h0m2-15h0m1 10h0m1 10h0m1-16h0m1-4h0m3 17h0m1 4h0m2-13h0m3-7h0m2 14h0m1-16h0m0 8h0m3 15h0m2-11h0m2 12h0m1 5h0m0-15h0m1-2h0m2-6h0m3 0h0m1 10h0m2 9h0m1-25h0m1 29h0m4-20h0m1 4h0m1-7h0m0 19h0m1-17h0m0 2h0m2 13h0m0 1h0m0-19h0m1 12h0m3-5h0m1 3h0m1-14h0m2 11h0m1 13h0m0-1h0m1-20h0m1 8h0m0-2h0m0 14h0m1-21h0m0 25h0m1-19h0m0-5h0m0 19h0m1-13h0m3-1h0m1-8h0m0 8h0m0-8h0m1 25h0m0-15h0m1-11h0m0 2h0m1 12h0m0 3h0m8-1h0m1-5h0m1 18h0m0-2h0m0-26h0m0 23h0m1-16h0m0 7h0m1-7h0m2 4h0m0 5h0m2 2h0m3 6h0m1-10h0m1 7h0m0 4h0m2-18h0m1 18h0m5 2h0m1 1h0m5-23h0m4 16h0m0-9h0m0-11h0m2 21h0m7-13h0m6 1h0m6 7h0m4-12h0m0-6h0m6 30h0m12-14h0m27 0h0m-694 30h0m92-4h0m10-1h0m1-3h0m0 5h0m14 7h0m0-16h0m5-3h0m0 28h0m6-4h0m5-11h0m1-12h0m1 7h0m1 15h0m2 0h0m4-1h0m0-22h0m0 12h0m2 4h0m1-2h0m0 14h0m1-9h0m0-1h0m1-4h0m2 3h0m0-1h0m1-14h0m5 22h0m4 1h0m0 2h0m1-8h0m0 3h0m0-1h0m2-3h0m0 4h0m1-19h0m0 25h0m1-8h0m2-7h0m1-13h0m2 17h0m2 8h0m1-21h0m0 18h0m0 4h0m1-6h0m1-15h0m3 1h0m0 6h0m1 16h0m0-3h0m1-18h0m2-6h0m1 24h0m5-16h0m3 0h0m6 10h0m4-15h0m1 5h0m3 6h0m4-16h0m2 8h0m1 4h0m11-1h0m28 13h0m5 4h0m6-3h0m25 0h0m1-17h0m20 13h0m5 2h0m24-13h0m0 7h0m7-6h0m3 8h0m0 10h0m1-27h0m4 27h0m9-1h0m11-4h0m3 4h0m1-27h0m1 19h0m3-10h0m4 3h0m0 10h0m6-12h0m3-11h0m1 11h0m7 12h0m14 1h0m11-6h0m4-3h0m21 2h0m38 6h0m7 3h0m1 2h0m14-23h0m3 1h0m2 6h0m0-11h0m4-1h0m8 17h0m1 6h0m0-19h0m1 22h0m0-2h0m6 0h0m0-19h0m0 7h0m0 13h0m2-15h0m1-8h0m2 15h0m3 5h0m1-19h0m3 0h0m2 16h0m1 0h0m1 5h0m1-22h0m1 3h0m0 4h0m2-3h0m2 4h0m0-8h0m0 19h0m1-4h0m0-10h0m2 6h0m1 9h0m2-5h0m1-12h0m3-3h0m2 6h0m2-3h0m1 2h0m1 0h0m2 16h0m1-2h0m2-18h0m0 24h0m2-1h0m2-14h0m2-7h0m0 7h0m2-5h0m0-5h0m1 7h0m3-4h0m1 24h0m0-21h0m2 15h0m0-21h0m2 3h0m3 21h0m0-17h0m1-3h0m0 16h0m1-21h0m0 24h0m0-3h0m1-5h0m1-5h0m0 13h0m1-18h0m1-1h0m2 4h0m1 5h0m2 4h0m1 6h0m3-9h0m1-1h0m0 3h0m3-13h0m3-5h0m6 3h0m6 14h0m3-7h0m2 16h0m1-24h0m0 8h0m6-4h0m8 9h0m3-14h0m11 28h0m8-17h0m-691 27h0m70-3h0m30 17h0m7-20h0m8 3h0m1 23h0m7-23h0m6 14h0m3-12h0m1 11h0m0 7h0m2-21h0m5 12h0m0-5h0m1-11h0m0 13h0m2-1h0m2 12h0m0-14h0m3-8h0m1 13h0m1-5h0m0 6h0m9 12h0m1-12h0m2-15h0m2 22h0m0-16h0m4 17h0m0-22h0m1 25h0m5-23h0m1 1h0m1-6h0m2 5h0m0 2h0m1-2h0m0 8h0m1-3h0m4 13h0m0-8h0m1-9h0m2 22h0m1-8h0m1 0h0m1 2h0m0-16h0m1 3h0m0 13h0m0 7h0m2-23h0m1 1h0m2 8h0m1-5h0m0 8h0m3 11h0m2-7h0m1-11h0m0 3h0m1-12h0m1 24h0m0-7h0m0-1h0m1-1h0m2 13h0m1-28h0m0 23h0m5-19h0m2 21h0m1-17h0m0 4h0m1-7h0m1-1h0m4 8h0m4 0h0m2 14h0m2 0h0m2-5h0m12-8h0m14-9h0m1 19h0m6-3h0m2-12h0m0 8h0m3-13h0m1 15h0m2 10h0m2-20h0m0-2h0m3 12h0m4-18h0m7 14h0m0 13h0m1-1h0m6-8h0m1 10h0m1-2h0m2-3h0m1-22h0m0 14h0m2 5h0m3-6h0m1 8h0m3 0h0m2-18h0m1 12h0m1 0h0m10 9h0m1-23h0m8 5h0m1 20h0m6-5h0m3 2h0m8-17h0m3 3h0m10 3h0m1 13h0m2-3h0m1-15h0m1-1h0m3 11h0m2 0h0m2-18h0m0 1h0m0 5h0m1 9h0m12-5h0m1 14h0m0-4h0m2 7h0m4-2h0m10-12h0m7 4h0m1-8h0m1 5h0m7-1h0m2 8h0m3-1h0m7-13h0m1-8h0m5 5h0m2 18h0m3 0h0m2-12h0m8 15h0m4 1h0m8 2h0m11-4h0m11-16h0m0 12h0m0 6h0m2-4h0m13-22h0m9 1h0m6 21h0m25-23h0m1 19h0m5-17h0m4-1h0m1 19h0m0-19h0m1 8h0m4 11h0m2-11h0m0 10h0m0-9h0m3 11h0m2-15h0m2 16h0m2-15h0m3-3h0m2 0h0m0-2h0m2 9h0m0-1h0m2-5h0m1-6h0m0 13h0m7 3h0m2-10h0m1 1h0m8 4h0m0-10h0m1 8h0m9 4h0m1 7h0m2-6h0m2 8h0m3 7h0m1-16h0m8-9h0m2 7h0m3 4h0m1 8h0m9 2h0m27-16h0m8-5h0m-635 55h0m44-2h0m15-2h0m5-10h0m4 15h0m1-17h0m4-8h0m14 5h0m3 3h0m0-10h0m1 13h0m1 6h0m4-10h0m4 8h0m2-1h0m4-11h0m0-3h0m1 2h0m0 8h0m1 12h0m1 0h0m1-9h0m3-9h0m0 21h0m5-14h0m2 7h0m0-21h0m1 10h0m2-6h0m0 0h0m0 12h0m1-18h0m10 16h0m1-3h0m1 2h0m1-8h0m0 19h0m2-20h0m3 6h0m2-7h0m0 19h0m1-2h0m1-8h0m0-7h0m3 10h0m0 0h0m2-17h0m1 1h0m3 15h0m0-8h0m1-6h0m3 15h0m1 12h0m1-15h0m1 5h0m9-9h0m2-6h0m0 20h0m1-10h0m5-5h0m6 12h0m0-13h0m5 15h0m3 5h0m1-8h0m1 8h0m1-6h0m0 5h0m3-9h0m20-16h0m3 2h0m2 12h0m2 1h0m7-9h0m0 19h0m1-5h0m2-3h0m2-13h0m2-6h0m0 11h0m1-9h0m1 12h0m4 15h0m2-19h0m0 17h0m1 1h0m3-6h0m4 4h0m0-15h0m1-11h0m3 30h0m2-22h0m1-5h0m2-2h0m5 15h0m1-11h0m0 23h0m1-6h0m3 3h0m1-10h0m3 4h0m2-12h0m6 19h0m2-18h0m2 7h0m4 4h0m2-6h0m1 0h0m0 12h0m2-21h0m1 22h0m0-13h0m1-1h0m1-9h0m2 14h0m2-17h0m4 8h0m6-6h0m4 17h0m0-8h0m4 11h0m0 0h0m1 3h0m2 2h0m0-14h0m11-6h0m7-1h0m2 22h0m0-22h0m6-1h0m0 20h0m8-2h0m2-19h0m2 17h0m10-3h0m9 12h0m2-9h0m4 0h0m3-5h0m3 1h0m8 0h0m1-3h0m2-3h0m6-3h0m7-4h0m3 24h0m13-24h0m10 17h0m4-19h0m2 12h0m28 4h0m1 3h0m11-9h0m1-11h0m3 1h0m4 25h0m4-4h0m1-22h0m5 5h0m2 12h0m0-3h0m1-4h0m9 7h0m1-4h0m2 6h0m1-14h0m1 6h0m9-1h0m2 8h0m2-2h0m7-7h0m1 9h0m1-10h0m4-5h0m6 11h0m0-6h0m0-6h0m2 6h0m3 7h0m1 3h0m1 0h0m6-7h0m2-9h0m1-1h0m1 21h0m3-4h0m0 4h0m1-8h0m2-13h0m3 4h0m1 5h0m2-2h0m7 14h0m2-17h0m3-5h0m3 3h0m12 16h0m14 0h0m-630 23h0m29 0h0m13-3h0m20 13h0m5 7h0m3-8h0m11-10h0m3 4h0m1-15h0m5 8h0m0 20h0m0-9h0m4 3h0m3 7h0m0-27h0m1 5h0m2-7h0m3 3h0m8 2h0m1 17h0m0 0h0m0-10h0m0-11h0m2 11h0m4 0h0m6-4h0m1 15h0m1-17h0m0 17h0m0-17h0m1 17h0m5 4h0m1-17h0m0-2h0m0 19h0m1-12h0m0-1h0m1-2h0m2-6h0m1 3h0m3 0h0m1-6h0m1 3h0m2 21h0m3-16h0m0-3h0m0 16h0m1-2h0m3-7h0m1-8h0m0-1h0m1-1h0m0 3h0m3-1h0m0 5h0m1-2h0m0 3h0m2-9h0m0 1h0m2-1h0m6 13h0m1-13h0m16 17h0m3 5h0m0-17h0m1 4h0m3-3h0m2-9h0m3 21h0m5-5h0m4-6h0m0 13h0m3-12h0m1-4h0m4 2h0m10 11h0m1 8h0m1-11h0m3 6h0m2-3h0m14 7h0m2-26h0m0 10h0m1-10h0m0 14h0m1-16h0m0 15h0m0-10h0m0-5h0m2 2h0m0 7h0m1 9h0m1 8h0m3-7h0m1 5h0m1-22h0m1 3h0m2 10h0m0 5h0m0-12h0m3-7h0m1 0h0m1 26h0m1-1h0m2-23h0m1 13h0m4 6h0m8-14h0m0-4h0m1 15h0m0-9h0m3-6h0m3 2h0m2 2h0m1 4h0m1-9h0m3 18h0m2-11h0m6-8h0m1 4h0m0 12h0m0-1h0m3 11h0m5-1h0m2-16h0m1 17h0m0-11h0m1 0h0m1-14h0m1 17h0m8 4h0m1-22h0m3 18h0m1 6h0m0-11h0m2 4h0m3-9h0m4 3h0m1-14h0m6 20h0m2 9h0m0-12h0m1-7h0m2 12h0m2-10h0m2-1h0m3-7h0m1 10h0m0 2h0m4-7h0m4 13h0m5-7h0m4-11h0m0 6h0m12 19h0m5-22h0m12 23h0m1-20h0m2-5h0m6 11h0m56-16h0m3 16h0m11 12h0m20-14h0m3 13h0m4-26h0m2 15h0m2 13h0m0-22h0m13 11h0m3-6h0m10-11h0m1 21h0m4 5h0m0-17h0m8 20h0m22-24h0m10-6h0m13 9h0m4 0h0m22-3h0m33 16h0m-671 23h0m40 4h0m14-1h0m4-2h0m2 11h0m8-22h0m2 10h0m2-1h0m14-9h0m10-4h0m1 24h0m0-17h0m3 12h0m1-15h0m4 18h0m0-10h0m2-5h0m5 17h0m2-10h0m0-12h0m8-3h0m2 12h0m1 11h0m1-17h0m6 2h0m2 17h0m0-12h0m2-5h0m1 5h0m1-6h0m2 10h0m1-6h0m1-4h0m0-7h0m0 24h0m1-20h0m1 13h0m4-13h0m2 18h0m1 5h0m0-20h0m2 6h0m14-3h0m0-8h0m5 19h0m2 5h0m4-21h0m2 17h0m3-9h0m1-11h0m0 13h0m0-13h0m3 23h0m0-15h0m0 14h0m9-9h0m4-4h0m4-9h0m5 8h0m2-9h0m0 29h0m3-19h0m3 13h0m1-20h0m5 19h0m1-8h0m1 7h0m0-15h0m9 14h0m5-12h0m4 6h0m0-13h0m2 17h0m0 4h0m2-21h0m2 2h0m1-3h0m6 1h0m2-1h0m5 19h0m3-13h0m2 9h0m3 1h0m0-4h0m6-11h0m8 21h0m0 0h0m5-4h0m1 1h0m0 9h0m1-29h0m1 29h0m0-18h0m2 11h0m3-15h0m2 4h0m2 6h0m0-2h0m1-15h0m1 25h0m0-7h0m0-16h0m1 18h0m2-13h0m2-3h0m3 26h0m4-14h0m5 11h0m1-23h0m1 24h0m4-2h0m0-13h0m1 4h0m0-5h0m2 1h0m0 1h0m1-9h0m9 17h0m1-4h0m5-1h0m1 10h0m2-8h0m6-18h0m1 23h0m0-6h0m2-8h0m4 16h0m2-4h0m2 3h0m2 3h0m1-7h0m3 7h0m2-26h0m1 0h0m3 12h0m12 8h0m11-1h0m3-18h0m1 0h0m15 0h0m3 13h0m12-3h0m14 0h0m4 7h0m10-4h0m8-11h0m3 9h0m13-4h0m7 10h0m3 10h0m12-21h0m0 17h0m9-3h0m1 1h0m7-11h0m8-12h0m2 29h0m2-23h0m4 10h0m12-2h0m4-2h0m8-2h0m2 1h0m15-10h0m2 0h0m36 18h0m19-4h0m30 0h0m-644 37h0m2 2h0m12-10h0m5-11h0m4 4h0m9 17h0m0 0h0m1-18h0m2-3h0m1 7h0m1 12h0m0-12h0m5-6h0m15 5h0m9 3h0m3-8h0m1 21h0m10-8h0m0 9h0m3-8h0m0-18h0m0 27h0m0-27h0m1 11h0m2 11h0m1-11h0m2 13h0m2-2h0m3-12h0m1-5h0m0 2h0m1 19h0m3-20h0m1 18h0m0-8h0m6 11h0m1 1h0m0-8h0m1 0h0m3-1h0m0-1h0m1-3h0m0 2h0m1 0h0m1 8h0m3-17h0m1 1h0m1-7h0m3 19h0m1-18h0m1 22h0m0 0h0m1-9h0m1 9h0m0-17h0m1 3h0m0 11h0m1-15h0m2-4h0m0 14h0m4-18h0m1 27h0m1-22h0m5 20h0m2-1h0m1 1h0m0-2h0m1 4h0m3-5h0m2-13h0m2 20h0m7-6h0m0-22h0m1 7h0m1-3h0m4 1h0m1 17h0m4-14h0m2 12h0m0-4h0m3 3h0m0-15h0m2 12h0m1-7h0m0 5h0m1-12h0m2 14h0m2-14h0m1 5h0m2 2h0m10 2h0m1 1h0m0 14h0m2-13h0m1 9h0m9-7h0m0 9h0m0 1h0m1-11h0m4 14h0m2-5h0m3-16h0m2 6h0m4 4h0m2 6h0m1-21h0m0 15h0m6 1h0m1 6h0m0-1h0m4-15h0m0 4h0m1 13h0m0-7h0m9-19h0m3 11h0m2 18h0m1-18h0m1 9h0m2-13h0m1-4h0m2 25h0m6 0h0m4-10h0m1-10h0m5 4h0m6-1h0m1 17h0m3-10h0m1 12h0m3-20h0m1-9h0m2 22h0m0-19h0m2 20h0m2-14h0m3 8h0m3 0h0m2-1h0m3-7h0m1 20h0m1-8h0m1 5h0m1-3h0m3 4h0m1-23h0m2-1h0m3-2h0m7 13h0m1 12h0m1 3h0m0-10h0m0-9h0m0-2h0m13 15h0m0-13h0m2-8h0m4 14h0m4 2h0m1 0h0m2-13h0m3-6h0m4 11h0m2-2h0m1 12h0m6-5h0m1-3h0m4 12h0m4 3h0m3-5h0m0 7h0m2-10h0m2 5h0m0-11h0m0 15h0m7-2h0m5-3h0m2-5h0m0-17h0m11 23h0m24 5h0m1-5h0m10 2h0m7-7h0m11 6h0m1-21h0m19 11h0m2-5h0m16 14h0m1-16h0m7-8h0m2 18h0m8-13h0m3 23h0m0-9h0m2 2h0m17-3h0m3-3h0m1-6h0m3-7h0m1 7h0m2-9h0m4 11h0m5 13h0m6-22h0m12 26h0m3-28h0m12 5h0m82 15h0m-707 15h0m8 19h0m15 0h0m3 3h0m10-1h0m6-15h0m2 0h0m4 14h0m1-20h0m0 12h0m1 7h0m7-15h0m0-4h0m1 19h0m1 1h0m2-19h0m8-2h0m10 13h0m0-13h0m2 8h0m2 2h0m1 2h0m1-3h0m1-6h0m0 16h0m1 3h0m2-15h0m4-4h0m4 5h0m3 15h0m1-21h0m1 21h0m4-22h0m1-4h0m0 17h0m0-6h0m2 3h0m0-14h0m2 2h0m1 2h0m1 21h0m9-17h0m4 16h0m4-23h0m3 5h0m6-3h0m0-2h0m2 4h0m2-4h0m2 26h0m1-20h0m2 2h0m2 3h0m3-10h0m0 0h0m3 20h0m0-16h0m4 10h0m4-10h0m3 7h0m2-10h0m0 22h0m1-2h0m1-22h0m3-1h0m0 18h0m2-18h0m0 14h0m1 6h0m0-22h0m3 7h0m0-3h0m1 16h0m0-2h0m2-6h0m0 4h0m0-9h0m2 13h0m0 3h0m0-5h0m4-9h0m3 5h0m2-5h0m1-7h0m1 19h0m0 7h0m1-13h0m0 8h0m0-7h0m0-7h0m1 12h0m1 2h0m2-11h0m2 14h0m2-1h0m3-23h0m4 24h0m1-4h0m2-4h0m0 7h0m1-8h0m0 6h0m1-1h0m0-1h0m1-16h0m1 20h0m3 5h0m0 0h0m1-1h0m2-28h0m1 6h0m8 15h0m0-4h0m0-13h0m2 19h0m1-17h0m7-2h0m5 15h0m4 4h0m10-23h0m1 25h0m4-23h0m1 1h0m2 3h0m1 1h0m1 7h0m2-13h0m1 20h0m2-4h0m1-9h0m1 16h0m0-16h0m1 21h0m0-2h0m4-13h0m0 7h0m2-18h0m0 5h0m3-1h0m1 3h0m0 12h0m7-4h0m2 10h0m6-19h0m1 9h0m1 0h0m2-7h0m2-9h0m0 15h0m7-4h0m4-14h0m0 11h0m0 1h0m6 4h0m0-7h0m1 20h0m0-25h0m1 4h0m0 18h0m1-17h0m1 12h0m2-18h0m1 18h0m1 2h0m3-2h0m1-20h0m1 18h0m1-12h0m3 12h0m3 0h0m0-14h0m1 11h0m2-9h0m1 14h0m0 1h0m2-15h0m1 20h0m2-26h0m1 10h0m2 14h0m0-18h0m3 23h0m3-9h0m0 5h0m0 0h0m2-21h0m1-3h0m0 23h0m3 0h0m1-10h0m5 4h0m2 0h0m2-9h0m0-3h0m2 13h0m1-2h0m0-14h0m3 23h0m2-5h0m1-5h0m4-15h0m2 7h0m6 17h0m0-6h0m2 3h0m1-6h0m3-5h0m3 10h0m1 4h0m0 2h0m2-2h0m1-1h0m0-20h0m0 10h0m1 8h0m0-2h0m4 9h0m1-22h0m2-5h0m2-2h0m2 20h0m3-10h0m5 12h0m0-1h0m1-19h0m1 27h0m1-24h0m1 19h0m1 4h0m0-8h0m2 1h0m1-2h0m1-19h0m2 28h0m5-13h0m1-4h0m3 2h0m1 3h0m3-15h0m3 20h0m5-13h0m1 15h0m3-16h0m5-6h0m2 5h0m9 20h0m3-19h0m2-5h0m1-2h0m1 10h0m1 3h0m1-4h0m1 13h0m1-1h0m5 6h0m1-15h0m3 17h0m1-6h0m3-1h0m5-1h0m3-17h0m1 24h0m1-12h0m12 3h0m1-12h0m12 12h0m0 2h0m1-16h0m19-5h0m0 21h0m26-20h0m16 21h0m38 5h0m14-18h0m22 12h0m31-2h0m-708 35h0m7-5h0m4-19h0m4 10h0m2-6h0m4 8h0m0 5h0m0-11h0m1 8h0m2 3h0m1 8h0m0-19h0m5 17h0m2 1h0m4 0h0m3 4h0m0-21h0m2 17h0m0-11h0m0 7h0m1 7h0m1-5h0m5-22h0m0 14h0m5-6h0m0 13h0m3 0h0m1-19h0m4 4h0m14 6h0m7-1h0m1 5h0m1 7h0m19 0h0m1-19h0m1 20h0m6-8h0m7 9h0m14-14h0m10-5h0m2-4h0m7 26h0m4-16h0m3-13h0m0 15h0m2 11h0m1-6h0m3-8h0m5-2h0m2 0h0m1 14h0m5-4h0m2 5h0m3-15h0m3-5h0m0-3h0m1 25h0m1-3h0m1 3h0m1-22h0m0 20h0m1-1h0m1-8h0m0 4h0m2 2h0m1 7h0m1-21h0m0-2h0m2 24h0m1-19h0m3-6h0m0 2h0m1 4h0m1 6h0m0 6h0m0-23h0m4 18h0m1-1h0m0 12h0m0-10h0m1-8h0m1 17h0m1-7h0m3-18h0m0 19h0m2 7h0m1-5h0m3-1h0m4-20h0m1 15h0m0-17h0m3 5h0m0-5h0m0 2h0m1 11h0m0-1h0m2 0h0m0 6h0m0-5h0m1-2h0m0 2h0m1-8h0m1-1h0m1-2h0m2 7h0m1 4h0m1 13h0m1-13h0m0 1h0m4 9h0m0-7h0m1-2h0m1 12h0m1-7h0m5 8h0m0-3h0m3-23h0m2 24h0m1-3h0m1 6h0m0 0h0m1-27h0m1 20h0m4-20h0m5 1h0m3 20h0m0-8h0m1 6h0m4-20h0m7 27h0m2-12h0m1-3h0m2 7h0m0 8h0m5-18h0m0 7h0m2 6h0m2-14h0m1 0h0m3-6h0m0 13h0m7-4h0m6 3h0m2-3h0m1-1h0m0 17h0m0-6h0m2-5h0m1-11h0m1 18h0m2-14h0m1 12h0m2-17h0m1 17h0m3-8h0m0-11h0m1 5h0m0-6h0m2 14h0m1-15h0m0 11h0m1 10h0m4-19h0m1 14h0m0-12h0m3 21h0m3 1h0m2-20h0m1 12h0m0 2h0m2 7h0m3 1h0m0-10h0m1 0h0m2-7h0m0-2h0m1 8h0m0-1h0m2-3h0m1 9h0m3-20h0m1 15h0m0-10h0m0 18h0m2-7h0m5-6h0m1 1h0m4-13h0m2 15h0m2-7h0m4 10h0m1-13h0m0-6h0m1 13h0m1 3h0m6-3h0m2 17h0m2-19h0m1-3h0m0 13h0m3-16h0m0 11h0m1-13h0m0 23h0m1-4h0m7-9h0m8 1h0m12 15h0m1-3h0m4 0h0m2-25h0m3 21h0m3-14h0m0 10h0m1 1h0m2-16h0m3 20h0m4-16h0m0 0h0m5-2h0m1 6h0m2 17h0m7-16h0m0 17h0m3-18h0m7 13h0m8-24h0m0 27h0m6-1h0m3 3h0m1-24h0m9 3h0m6 20h0m10-24h0m2 11h0m7 13h0m17-25h0m1-3h0m15 27h0m3-3h0m24 1h0m4-12h0m2 7h0m8 6h0m61-7h0m14-10h0m-692 24h0m2 23h0m3-10h0m1-12h0m14 10h0m5 5h0m2-13h0m2 17h0m3 2h0m1-1h0m0-9h0m2-1h0m1 2h0m1 11h0m3-9h0m0 9h0m1-20h0m0-2h0m0-1h0m3 14h0m1 2h0m5-3h0m0 4h0m12-11h0m5 3h0m1 8h0m3 0h0m0-15h0m3 7h0m0-9h0m3 1h0m9 17h0m11 6h0m11-11h0m6-1h0m0-7h0m2 15h0m4-16h0m2 12h0m10-9h0m0-5h0m6 10h0m6 9h0m3-22h0m3 7h0m0-9h0m2 22h0m2-8h0m5 13h0m3-20h0m0 22h0m3-5h0m0-12h0m1 13h0m3-8h0m4-6h0m1-1h0m1 2h0m1 0h0m1 12h0m1-24h0m4 17h0m3-10h0m3-5h0m1 15h0m1-8h0m1 19h0m0-27h0m1 22h0m1-6h0m1-9h0m1 8h0m1-10h0m1-3h0m1 10h0m1 16h0m1-26h0m0 2h0m0-1h0m0 0h0m2 15h0m0-13h0m1 18h0m0-19h0m2 4h0m1 15h0m0-21h0m0-4h0m1 3h0m0 17h0m2-8h0m2-5h0m0 3h0m4 12h0m0-1h0m1-5h0m1-14h0m2 13h0m0-2h0m1 12h0m0-7h0m0-10h0m1 3h0m1-5h0m3 21h0m1-24h0m3 7h0m1 17h0m0-8h0m1 1h0m2-8h0m1 12h0m3-3h0m1 5h0m2 2h0m4-8h0m1 0h0m0-6h0m1-13h0m5 7h0m11 3h0m1 4h0m1 0h0m1 5h0m3 4h0m1 4h0m0-23h0m4 2h0m1 6h0m4-13h0m4 15h0m1-1h0m1-1h0m0-4h0m1 16h0m1-25h0m2 9h0m1 17h0m0-2h0m1-7h0m1-13h0m4 15h0m1-8h0m0-9h0m3 1h0m3 8h0m3 1h0m0-7h0m4 25h0m1-12h0m2 5h0m0-8h0m4-11h0m0 6h0m2 0h0m4 7h0m0 4h0m5-7h0m3-2h0m0 10h0m2-11h0m0-7h0m6 0h0m1 2h0m7 21h0m2-19h0m0 9h0m4 12h0m0-28h0m4 26h0m1-5h0m2 7h0m4-26h0m1 21h0m1-24h0m2 6h0m0-2h0m10-2h0m1 11h0m1-9h0m4 2h0m9 8h0m1 13h0m1-12h0m2 1h0m0 8h0m2-19h0m0 14h0m1-17h0m3 15h0m3 8h0m5-21h0m1 12h0m2 5h0m2-15h0m3 10h0m2-12h0m3 10h0m7 9h0m1-19h0m5-3h0m0 25h0m1-14h0m16 9h0m11 6h0m4 2h0m2 0h0m6-7h0m1-19h0m0 17h0m11-17h0m5-3h0m18 0h0m29 26h0m17-4h0m30 4h0m15-17h0m29-3h0m163 19h0m-826 15h0m0 4h0m53 3h0m0 3h0m4-6h0m0 10h0m5 0h0m0-8h0m3 3h0m2 7h0m8 3h0m5-14h0m1 5h0m1 9h0m2-12h0m2 0h0m5 5h0m0 4h0m1-10h0m7 11h0m2-5h0m3 8h0m2-4h0m5-23h0m2 25h0m1-16h0m2-6h0m2 4h0m0 9h0m1 1h0m3-16h0m5 13h0m1-7h0m0 11h0m2-4h0m2-13h0m9 16h0m0 8h0m1-15h0m9 15h0m1-18h0m0-2h0m2 19h0m5-23h0m2 23h0m8-2h0m1-10h0m1 10h0m5-18h0m1 17h0m1-14h0m0 16h0m1-9h0m1-9h0m2 11h0m2-8h0m4 18h0m3-17h0m0 18h0m0-4h0m1 1h0m0-24h0m0 20h0m2-7h0m1-7h0m2 8h0m5-8h0m3 17h0m2-17h0m2 8h0m0 4h0m1-20h0m0-1h0m1 14h0m0-1h0m1 6h0m0 8h0m0-21h0m0 22h0m1-27h0m1 24h0m2-20h0m0-4h0m0 3h0m0 10h0m1-9h0m0 14h0m1-14h0m1 8h0m0-2h0m3 14h0m3 1h0m0-11h0m6-14h0m1 8h0m1 15h0m0-17h0m1 9h0m1-12h0m1 6h0m1-2h0m2-7h0m2 14h0m3-13h0m2 12h0m2-13h0m1 2h0m4 10h0m8-2h0m7-6h0m0 0h0m4 0h0m0 1h0m0 1h0m3-2h0m9 21h0m1-23h0m2 0h0m4 4h0m2 18h0m4-14h0m3 16h0m2-10h0m8 6h0m1-16h0m3 0h0m2 6h0m4-12h0m1 8h0m4 0h0m2 0h0m3 13h0m3-9h0m0-10h0m11 25h0m5-25h0m2 2h0m12 18h0m7-1h0m3-5h0m3-2h0m3-10h0m5 12h0m2-6h0m12-10h0m0 2h0m5 26h0m4-14h0m2 9h0m1-23h0m2 19h0m6-17h0m3 14h0m4-6h0m2-8h0m2 27h0m6-3h0m0-12h0m0-10h0m5 9h0m1 4h0m13 4h0m2-11h0m9 3h0m2-9h0m26 13h0m0 0h0m8-2h0m5-15h0m18 0h0m28 29h0m7-26h0" stroke="#2a2af5" stroke-width="7" stroke-linecap="round" fill="none"/>
<path transform="scale(.1)" d="M371 5607h0m2 0h0m17 2h0m4-5h0m5 4h0m6-1h0m2-19h0m2 18h0m1 2h0m1-19h0m0 11h0m3-10h0m3-10h0m4 23h0m0-16h0m2 9h0m0-11h0m2-3h0m1 5h0m0 19h0m9-11h0m1 13h0m0-7h0m2-19h0m0 4h0m4 2h0m4-7h0m7 7h0m1 5h0m8 17h0m0-2h0m-102 21h0m1 8h0m7-5h0m0-10h0m1-4h0m1 7h0m2 5h0m1 4h0m3-9h0m0 10h0m4-16h0m2 0h0m0 1h0m1 5h0m0-2h0m1-4h0m2-6h0m1 12h0m3-10h0m1-4h0m52 5h0m0-5h0m5 7h0m5-5h0m2 20h0m2-6h0m0 4h0m4 0h0m4-3h0m4 5h0m0-13h0m2 17h0m1-12h0m4-1h0m-125 41h0m1 3h0m3-24h0m1 12h0m5 2h0m4-5h0m0 9h0m5 8h0m1-22h0m0 0h0m0 10h0m2-6h0m0-11h0m1 20h0m0 2h0m1 4h0m1 2h0m1-4h0m0-1h0m3 5h0m1-6h0m2 1h0m0 3h0m1-3h0m2-1h0m3-3h0m1-8h0m1-3h0m1 13h0m1-10h0m0 12h0m1-5h0m0 2h0m2 1h0m3-10h0m1-1h0m1 5h0m3-6h0m0 1h0m1 2h0m3 0h0m6-3h0m2 5h0m12-7h0m2 7h0m1 3h0m1 0h0m1-9h0m2 5h0m1 0h0m2-5h0m1 7h0m1-1h0m0-7h0m2 13h0m1-12h0m6 17h0m1-1h0m0-9h0m1-5h0m0 12h0m1 5h0m0-2h0m2-15h0m1 10h0m1-13h0m0 15h0m4 2h0m1-21h0m0 2h0m1 22h0m1-4h0m0 4h0m0-14h0m1 8h0m0-2h0m0 5h0m2-5h0m2 5h0m1-22h0m1 14h0m1 3h0m3-4h0m2-11h0m2-2h0m-136 56h0m0 0h0m5-1h0m1 0h0m0-10h0m1-6h0m0-5h0m1 1h0m1 13h0m3-1h0m1-13h0m0 13h0m3-4h0m0-15h0m1 6h0m1 18h0m1-22h0m0 12h0m0-3h0m0 13h0m0-10h0m1-11h0m1 26h0m0-30h0m2 2h0m1 6h0m1 1h0m0 1h0m0 8h0m2-17h0m5 2h0m0 1h0m1 2h0m1-5h0m3 21h0m1-2h0m1-3h0m1 5h0m55 3h0m0-3h0m2-1h0m2 5h0m2-6h0m1-5h0m1 9h0m2-3h0m4-15h0m2 9h0m0-12h0m2 21h0m3-21h0m3 15h0m0 0h0m0-5h0m0-3h0m0-7h0m1 16h0m0-11h0m1 8h0m0-2h0m0 4h0m0 6h0m2 2h0m0-13h0m4 17h0m1-10h0m0 7h0m2-16h0m4 5h0m0 4h0m0 0h0m0 8h0m1-18h0m0 13h0m2 7h0m-146 20h0m3-10h0m0-7h0m0 0h0m0 9h0m1-10h0m0 15h0m2 4h0m0-2h0m0 8h0m1-2h0m1-17h0m0 10h0m1-9h0m1 11h0m1-3h0m0 12h0m0-2h0m0-25h0m1 19h0m0-8h0m0 6h0m0-13h0m1 3h0m1 15h0m0-17h0m1-7h0m0 21h0m1-8h0m0 11h0m0-13h0m1 7h0m0 4h0m17-13h0m4 4h0m11-10h0m0 21h0m3 2h0m2-14h0m1 15h0m1-4h0m0-11h0m1 11h0m2-15h0m1-4h0m2 9h0m3-9h0m0 19h0m1-15h0m3 8h0m5 11h0m1-15h0m13 7h0m2-16h0m2 12h0m1 0h0m4-15h0m1 27h0m2-6h0m5-18h0m3 17h0m7-17h0m0-3h0m1 26h0m0-14h0m1-2h0m1-9h0m1 12h0m0 11h0m1-2h0m2 2h0m2 4h0m2 1h0m1-17h0m0 6h0m1-2h0m1-2h0m0-12h0m1 1h0m0 17h0m1-16h0m1 16h0m1-10h0m0-1h0m0-1h0m2-3h0m2 14h0m3-16h0m2 11h0m0-10h0m1-1h0m-140 31h0m2 3h0m3 2h0m2 8h0m2-13h0m0 4h0m1 9h0m0-7h0m0-5h0m1 15h0m0-17h0m0 5h0m2 2h0m1 11h0m1-20h0m1 21h0m1-12h0m2-8h0m0 15h0m1-12h0m1 19h0m0-10h0m0-6h0m0 20h0m3-5h0m0-8h0m5-2h0m2 1h0m1 14h0m2 0h0m0-11h0m2 7h0m2-4h0m3 0h0m2 9h0m3-5h0m1-4h0m2 10h0m3-8h0m1 8h0m1-5h0m0 4h0m1 1h0m0-5h0m1 0h0m5-3h0m1-1h0m2 0h0m1 3h0m2 1h0m2 1h0m0 3h0m2-1h0m0-5h0m1-20h0m1 25h0m0-22h0m2 20h0m2-6h0m1 1h0m2 7h0m2-5h0m0-19h0m3 26h0m3-5h0m1-10h0m1 11h0m0 2h0m3-14h0m1-2h0m1 13h0m1-2h0m0-5h0m0-2h0m1 8h0m4-11h0m2-5h0m1 12h0m0-3h0m0-1h0m1 5h0m0-16h0m0 8h0m0-5h0m1 11h0m3-18h0m4 6h0m1 2h0m0-4h0m0-3h0m2 5h0m2-5h0m0 2h0m5 0h0" stroke="#1e64ff" stroke-width="7" stroke-linecap="round" fill="none"/>
<path transform="scale(.1)" d="M412 5610h0m12-2h0m6 1h0m-48 28h0m2-5h0m7-6h0m1 8h0m0-5h0m7-3h0m1 12h0m2-9h0m2-5h0m0 7h0m2 2h0m2-1h0m1-6h0m7 1h0m3-3h0m0 7h0m2-7h0m0 10h0m3-7h0m1-16h0m1 27h0m0-19h0m1 16h0m0 3h0m1-26h0m0 6h0m2 5h0m0 0h0m1 14h0m1-8h0m0-4h0m1 11h0m0-18h0m0 14h0m1 6h0m4-1h0m1-12h0m6 4h0m1-2h0m4 9h0m2 2h0m-74 14h0m2-4h0m0 22h0m2-3h0m1-22h0m0 7h0m2-2h0m0 6h0m0 14h0m1-15h0m0 14h0m2-20h0m0-2h0m1 19h0m0-2h0m0-1h0m1 2h0m0-8h0m1 11h0m3 1h0m3-10h0m0 5h0m2-8h0m1-6h0m0 16h0m1-4h0m0-17h0m0 13h0m1-13h0m0 24h0m1-6h0m0-17h0m1 16h0m0-10h0m0 17h0m0-7h0m0-1h0m1 7h0m0-26h0m0 11h0m1 16h0m2-21h0m0-8h0m0 22h0m4 1h0m1-4h0m0-12h0m1 10h0m0-12h0m0 4h0m0 13h0m2 4h0m0 1h0m2-22h0m0 23h0m1-5h0m3 5h0m1-25h0m0 27h0m1-8h0m1 6h0m0-14h0m0-10h0m0 16h0m0-16h0m1 15h0m0 1h0m0 1h0m1 6h0m0-12h0m2 8h0m0-12h0m1-4h0m1 0h0m0 20h0m0-1h0m1 1h0m1-11h0m1-15h0m0 19h0m0-4h0m0 10h0m0-20h0m0 1h0m1 15h0m2 3h0m0-19h0m1 14h0m1-10h0m0 18h0m1 0h0m0-8h0m0 4h0m1 0h0m0 2h0m0 1h0m1-3h0m3-6h0m2 11h0m2-23h0m0 21h0m0 0h0m1-9h0m3-16h0m-96 57h0m3-10h0m1 8h0m0-7h0m1-3h0m0 5h0m1 7h0m0-12h0m1 6h0m1 0h0m0-2h0m0 3h0m1-6h0m0-7h0m0 0h0m0 12h0m3-6h0m0 1h0m1-1h0m2 5h0m1-14h0m4-2h0m1-1h0m1 12h0m0-13h0m0 7h0m1-10h0m0 12h0m0-6h0m1 0h0m0 1h0m1 1h0m1-4h0m2 1h0m2 1h0m0 1h0m3 5h0m2-12h0m0 5h0m1 7h0m1-8h0m2 17h0m0-17h0m2 16h0m1-13h0m0 5h0m1 6h0m0-14h0m1-1h0m1 16h0m0-20h0m2 8h0m1-7h0m1 4h0m2 3h0m0-6h0m1 17h0m1-2h0m1-3h0m0-11h0m2 15h0m1-9h0m0-7h0m0 6h0m1 3h0m0-5h0m1-2h0m0-2h0m1 0h0m0-1h0m0 2h0m1 13h0m1-16h0m0 8h0m2 0h0m0-6h0m1 28h0m1-9h0m1-1h0m1-17h0m0 2h0m0 8h0m1 7h0m0-19h0m1 3h0m2 22h0m1-13h0m0-7h0m2-4h0m1 2h0m1 9h0m0-13h0m1 13h0m1-10h0m2 13h0m0-13h0m1 2h0m0 3h0m0 6h0m1-10h0m2 8h0m0 0h0m1-3h0m0 0h0m0-1h0m1 4h0m1-5h0m1 9h0m0-1h0m0-7h0m0 11h0m1 0h0m0 4h0m0 4h0m1-16h0m0 1h0m0 15h0m0-24h0m0-1h0m1 7h0m0 10h0m0-6h0m0 12h0m1-25h0m1 11h0m0-3h0m0 11h0m1 7h0m1 3h0m0-5h0m0-9h0m1 2h0m0-3h0m0 6h0m1-10h0m0 7h0m0 0h0m2 10h0m3-7h0m0 2h0m0 4h0m-108 14h0m0 13h0m0-13h0m2 5h0m0-15h0m1 21h0m0-17h0m0 22h0m2-24h0m0 24h0m4-9h0m1-2h0m1-14h0m1 24h0m0-7h0m1-11h0m0 20h0m0-15h0m0 5h0m1-1h0m1 2h0m0 3h0m2 2h0m1 5h0m35-26h0m6 2h0m3-1h0m4-3h0m15 24h0m5-1h0m1-4h0m0 10h0m1-13h0m1 1h0m0-1h0m2-2h0m0-1h0m1 1h0m5 2h0m1-9h0m1-2h0m0-1h0m1-1h0m1 4h0m0 0h0m1 10h0m3-10h0m-96 31h0m1-2h0m0 4h0m1-2h0m3-1h0m1 4h0m1-11h0m0 13h0m0-3h0m1 3h0m3 1h0m2-5h0m1 6h0m0-1h0m1 3h0m0-10h0m2 0h0m2-1h0m0 7h0m3-7h0m0 1h0m2 0h0m2 10h0m0 2h0m2-10h0m2 11h0m0-11h0m1 4h0m2 3h0m1-1h0m0 5h0m1 1h0m3-3h0m3-10h0m0 4h0m0-1h0m1 2h0m1-2h0m6 0h0m1-3h0m2 8h0m1 2h0m1-5h0m1-1h0m3 3h0m2-11h0m1 6h0m1-5h0m0 0h0m1 1h0m4-4h0m1 5h0m0 1h0m1-8h0m0 8h0m0 1h0m2-1h0m2-1h0" stroke="#10b4f0" stroke-width="7" stroke-linecap="round" fill="none"/>
<path transform="scale(.1)" d="M373 5699h0m3-1h0m4-11h0m1-1h0m1 5h0m1 4h0m1-11h0m1 13h0m0-12h0m1 0h0m0 2h0m1-6h0m0 12h0m0 3h0m1-15h0m0 11h0m2-11h0m0 2h0m0-4h0m3 12h0m2-5h0m0-2h0m0-2h0m2 0h0m3 1h0m1 0h0m0 2h0m1-5h0m0-5h0m2 5h0m1-3h0m0 7h0m0-1h0m0-5h0m1 6h0m0-8h0m1 1h0m1 5h0m0 0h0m0-5h0m2 6h0m1-10h0m0 4h0m0-2h0m0 3h0m1 1h0m1-2h0m1-2h0m0 2h0m1-3h0m0 8h0m1-2h0m0-4h0m1 1h0m0 2h0m0-5h0m5 9h0m0 4h0m1 0h0m2 1h0m0-10h0m1 7h0m0-7h0m0 1h0m2 11h0m2-3h0m1 0h0m0-4h0m0 2h0m2 7h0m0 2h0m0-15h0m1 4h0m1 2h0m0 13h0m0-11h0m2 9h0m1-15h0m0 10h0m3 0h0m1-1h0m1 2h0m1 1h0m0-1h0m-77 23h0m1 5h0m1-18h0m0 18h0m1-18h0m1-1h0m0 15h0m1 5h0m0-13h0m1 18h0m1 1h0m0 0h0m0-19h0m1-6h0m0 15h0m1-16h0m0 19h0m0-8h0m1 18h0m0-23h0m0 10h0m0-7h0m0-10h0m0 17h0m1-6h0m0 9h0m0 5h0m2 1h0m0-15h0m0 7h0m1 10h0m0-4h0m0-11h0m0-12h0m1 19h0m0 5h0m0-13h0m0 11h0m1-2h0m0 8h0m0 0h0m2-5h0m1 1h0m2-1h0m0-1h0m1 0h0m2 3h0m1-1h0m0 0h0m1 0h0m3 4h0m0-2h0m4 3h0m0-5h0m4 3h0m0 1h0m1-4h0m2-1h0m0 3h0m1 0h0m2 0h0m0-3h0m7 4h0m0-7h0m0 5h0m2-1h0m1-5h0m1 4h0m0 3h0m1-3h0m1-7h0m0 9h0m1-9h0m1 0h0m1 4h0m1-9h0m0 12h0m1 2h0m2-12h0m0-4h0m1-4h0m0 1h0m1 3h0m0 8h0m0-6h0m0-10h0m1 11h0m0-2h0m2 0h0m0-2h0m0 10h0m0-10h0m2 3h0m1-9h0m0 2h0m1 9h0m0-4h0m1-2h0m2-2h0m0 1h0m0-4h0m1 4h0m-57 29h0m1 0h0m1-5h0m9-1h0m0 7h0m0-6h0m0 4h0m4 0h0m0-3h0m1 0h0m2 1h0m1 2h0m1-3h0m4 0h0m3 1h0m1-2h0" stroke="#50d040" stroke-width="7" stroke-linecap="round" fill="none"/>
<path transform="scale(.1)" d="M386 5700h0m2-2h0m1 1h0m1-6h0m2 0h0m0 2h0m1-2h0m1-2h0m1 1h0m0 5h0m3-5h0m0 0h0m7-1h0m0-4h0m1 4h0m0 0h0m0 0h0m1-1h0m5-4h0m2 3h0m1 1h0m1-3h0m5 6h0m1-3h0m0 6h0m2 3h0m1-2h0m1-4h0m-42 14h0m1 2h0m0 6h0m0-1h0m1-11h0m2 8h0m0-4h0m1 8h0m1-9h0m2-4h0m0 19h0m1-2h0m1-1h0m1 1h0m0 1h0m1 0h0m1-1h0m0 1h0m1 0h0m1 5h0m0-1h0m5-1h0m1-4h0m1 0h0m0 0h0m0 0h0m2 3h0m1 0h0m0-2h0m1 1h0m1 2h0m0-6h0m1-1h0m2-1h0m3-2h0m1 0h0m1 1h0m0-1h0m1 0h0m0 3h0m1-2h0m1-3h0m2-6h0m1 2h0m1-3h0m1 2h0m3-2h0" stroke="#f0e000" stroke-width="7" stroke-linecap="round" fill="none"/>
<path transform="scale(.1)" d="M395 5699h0m1 0h0m3-4h0m3 0h0m1-1h0m1 4h0m1-3h0m1 2h0m2-4h0m1-1h0m1 4h0m1-3h0m0 2h0m1 1h0m3 3h0m3-4h0m0 3h0m3 1h0m-28 10h0m1 5h0m1-4h0m1 0h0m2-9h0m7 13h0m0 2h0m3 0h0m3-5h0m1 4h0m2-4h0m2-10h0m1 5h0m0-3h0m0-3h0m1 6h0m1-4h0" stroke="#ff5000" stroke-width="7" stroke-linecap="round" fill="none"/>
<path transform="scale(.1)" d="M402 5699h0m2 0h0m2-1h0m3 0h0m-11 8h0m0 4h0m0 0h0m1-4h0m1 1h0m1 1h0m1 2h0m0-3h0m0-4h0m1 1h0m1-2h0m1 4h0m2 2h0m0 0h0m1-1h0m2-2h0m1-2h0m0 0h0m1 1h0m1-3h0m1 1h0" stroke="#e81010" stroke-width="7" stroke-linecap="round" fill="none"/>
<rect x="21.40" y="484.60" width="92.40" height="92.40" fill="none" stroke="#111" stroke-width="1.5"/>
<rect x="73.20" y="498.20" width="22.60" height="63.10" fill="none" stroke="#333" stroke-width="1.2"/>
<text x="28.20" y="496.35" font-size="8.3" text-anchor="start" font-weight="normal" fill="#222" stroke="#222" stroke-width="0.22">Total CD15<tspan font-size="5.5" dy="-3.2">+</tspan></text>
<text x="14.80" y="566.95" font-size="8.3" text-anchor="middle" font-weight="normal" fill="#222" stroke="#222" stroke-width="0.22" transform="rotate(-90 14.80 564.00)">SSC-A</text>
<text x="20.60" y="585.75" font-size="8.3" text-anchor="start" font-weight="normal" fill="#222" stroke="#222" stroke-width="0.22">CD15-eF450</text>
<path d="M106.40 562.40L106.40 584.10" stroke="#111" stroke-width="0.9"/>
<path d="M106.40,587.60 L104.40,583.60 L108.40,583.60 Z" fill="#111" stroke="none" stroke-width="1"/>
<path transform="scale(.1)" d="M939 5932h0m-129 17h0m25 16h0m-313 63h0m107-9h0m92-2h0m10-15h0m15 28h0m47-22h0m87 17h0m-237 32h0m35-4h0m93-14h0m-243 38h0m35 8h0m9-15h0m16 3h0m53-1h0m72-8h0m48 7h0m24-9h0m72 16h0m28 2h0m122 5h0m112-11h0m-630 32h0m21 7h0m9-17h0m32 18h0m2-4h0m18-8h0m8 3h0m11 3h0m31-14h0m4 25h0m29-5h0m36 0h0m25 3h0m1-20h0m2-3h0m51-1h0m42-1h0m-333 47h0m67 1h0m19 3h0m10 3h0m3-19h0m10 6h0m2-12h0m1 24h0m1-1h0m6-22h0m23 13h0m1 4h0m6-11h0m5 0h0m2 13h0m6 1h0m15-19h0m20 2h0m1 6h0m5 13h0m7 2h0m10-22h0m2-2h0m9 12h0m2-1h0m45 14h0m3-2h0m67-1h0m52-16h0m-412 43h0m10 6h0m34-10h0m7 0h0m36-12h0m7 4h0m12-1h0m17 5h0m6-6h0m22 1h0m2-3h0m3 11h0m3 9h0m2-17h0m10-6h0m1 25h0m1-11h0m3 13h0m7-28h0m1 20h0m22 1h0m10 4h0m3 0h0m1-10h0m0-6h0m2 9h0m0-11h0m0-6h0m0 27h0m5-21h0m0 21h0m0-1h0m2-13h0m21 3h0m16-2h0m11-6h0m2 16h0m4-4h0m48-1h0m10 4h0m170-17h0m-604 33h0m113 10h0m11-6h0m20 15h0m2-16h0m1 13h0m2 3h0m11-21h0m0-6h0m2 21h0m7-1h0m12-14h0m10 6h0m9-9h0m1 3h0m2-4h0m7 16h0m0-1h0m4-19h0m0 22h0m6-19h0m1 26h0m8-18h0m4 13h0m2 1h0m1-10h0m0 10h0m3 3h0m4-3h0m3-7h0m2-6h0m1-3h0m0-8h0m2 2h0m0 2h0m3-1h0m3-3h0m1 27h0m1-5h0m0-14h0m0-3h0m3 11h0m4 8h0m4-2h0m1 6h0m1-14h0m1-7h0m6-4h0m1-3h0m4 23h0m2-2h0m2 5h0m9 1h0m1-22h0m1 11h0m0-4h0m0-10h0m2 6h0m1 6h0m0 0h0m1-1h0m0 7h0m1 2h0m1-4h0m1-20h0m3 6h0m1-1h0m2 19h0m4-11h0m1 11h0m0-10h0m1 6h0m1 0h0m2 8h0m2-20h0m3 5h0m0-9h0m0 13h0m1-10h0m5 6h0m5-3h0m1 11h0m1-12h0m6 17h0m6-18h0m2 14h0m1-16h0m3 4h0m3 12h0m3 4h0m2-4h0m3-11h0m6 12h0m22-4h0m21-9h0m9-6h0m22 16h0m29 2h0m32-13h0m-410 30h0m30-4h0m7 5h0m2-2h0m26 8h0m4-4h0m5 4h0m9 0h0m12 2h0m7 5h0m1-14h0m1 4h0m0 0h0m2 1h0m4-3h0m10-10h0m0 19h0m2 6h0m3-26h0m7 18h0m2-8h0m0 7h0m5 12h0m0-22h0m0 11h0m0 3h0m0-6h0m4-13h0m0 1h0m2 23h0m2-16h0m1 14h0m2-5h0m0 0h0m3-18h0m0 17h0m2-7h0m1-1h0m7 12h0m1 2h0m15-15h0m4 18h0m7-25h0m0 27h0m0-14h0m4 1h0m10-1h0m7 0h0m6-8h0m0-5h0m12 22h0m8 5h0m2-16h0m2-3h0m0 13h0m3-9h0m4-1h0m1 0h0m3 14h0m3-27h0m0 9h0m0-6h0m3 11h0m4 11h0m2-8h0m1 7h0m1-12h0m0 5h0m7-9h0m6 21h0m1 0h0m2-22h0m0-2h0m4 13h0m9-16h0m8 9h0m113-6h0m-523 26h0m40 6h0m61 16h0m2-8h0m3-1h0m3-3h0m23 15h0m20 1h0m2-7h0m7 1h0m9-2h0m5-11h0m2 9h0m3 2h0m4-14h0m19 12h0m7 1h0m4-15h0m5 14h0m10 6h0m0-14h0m5 12h0m0-7h0m3 8h0m3-7h0m1-11h0m0 0h0m2 24h0m4-26h0m5-2h0m16 8h0m10 3h0m0 7h0m4-11h0m0-4h0m10 5h0m6-8h0m20 22h0m19 7h0m14 1h0m8-26h0m2 19h0m12-18h0m3 22h0m1-25h0m16 1h0m3 18h0m3-7h0m31 7h0m10 1h0m22-8h0m15-11h0m8 13h0m6-1h0m22-7h0m11 8h0m-501 33h0m7-5h0m36 9h0m96-9h0m22 15h0m3-21h0m8-6h0m2-1h0m2 28h0m1-13h0m6 8h0m14-15h0m5 2h0m2 12h0m1-16h0m1 20h0m1-7h0m3-10h0m2 16h0m1-2h0m1-16h0m0 8h0m1 4h0m3-1h0m0 3h0m3 3h0m7 3h0m6 1h0m14-16h0m12 13h0m5-5h0m6 9h0m22-26h0m10 3h0m20 19h0m0-10h0m28 0h0m2 0h0m0 6h0m2-2h0m3-10h0m0-5h0m3 24h0m1-22h0m1 19h0m0-7h0m4-7h0m1 1h0m4 12h0m40-11h0m6-3h0m19 17h0m2-10h0m1 10h0m15-11h0m31 9h0m214-19h0m-653 28h0m89 21h0m6-11h0m6 0h0m14-8h0m1 1h0m3 20h0m5-22h0m9 21h0m4-24h0m1-2h0m1 19h0m20-19h0m5 14h0m2-8h0m4 8h0m7-13h0m1 21h0m1-22h0m1 4h0m1-1h0m2-2h0m1 19h0m2 2h0m2-12h0m1 16h0m1-14h0m0 8h0m2-6h0m1-6h0m3-1h0m3 14h0m0-4h0m1 7h0m2-14h0m0 2h0m3-11h0m8 17h0m1 8h0m4-6h0m2 2h0m5 1h0m2 1h0m4-7h0m3 2h0m0 8h0m7-15h0m8 12h0m5-23h0m5 15h0m5 6h0m4 3h0m3-1h0m1-11h0m0 10h0m2 1h0m8-16h0m2 1h0m1 17h0m1-25h0m0 9h0m4 5h0m3 2h0m6 2h0m3-4h0m0-13h0m4 13h0m5 0h0m1 8h0m3 1h0m6-10h0m1 6h0m30-3h0m14-13h0m13 25h0m16-4h0m8-21h0m9 19h0m20-6h0m8 11h0m36-16h0m10-9h0m22 18h0m27-11h0m22-11h0m12 24h0m-474 13h0m37-4h0m46-2h0m2 14h0m8 8h0m9-14h0m1-5h0m5 4h0m1 19h0m2-8h0m5-12h0m12 9h0m5-8h0m2 17h0m2-21h0m7 23h0m3 2h0m15-25h0m4-2h0m7 16h0m2-13h0m1 5h0m7 3h0m5-11h0m5 25h0m23-13h0m6 7h0m24 8h0m25-2h0m3-17h0m4 0h0m4 18h0m4-25h0m10 11h0m0 14h0m10-3h0m20-15h0m17-7h0m1 11h0m1-13h0m2 8h0m6-8h0m3 24h0m18-8h0m0-16h0m2 25h0m10-3h0m11 0h0m4 1h0m4-22h0m2 15h0m12 7h0m7 4h0m4-3h0m3-17h0m2 8h0m1 0h0m1 10h0m5-2h0m2 5h0m-395 27h0m11 1h0m22-6h0m10-3h0m60-4h0m6-10h0m1-3h0m1 4h0m20-4h0m10 21h0m15 0h0m3-13h0m6 17h0m34-10h0m5-11h0m3 2h0m5 4h0m2 12h0m23-7h0m2-3h0m8 6h0m11 7h0m7-22h0m6 23h0m3-15h0m5-3h0m2 15h0m12-1h0m5 0h0m3 0h0m3-22h0m2 5h0m3-2h0m1 24h0m1-3h0m0-20h0m0 21h0m4 1h0m7-20h0m1 10h0m3-12h0m0-3h0m3 18h0m2 4h0m2-16h0m1 14h0m1-4h0m1-14h0m3 4h0m8 7h0m12-2h0m1 11h0m0-19h0m9-3h0m2 13h0m1-13h0m0 20h0m1-1h0m1 2h0m2-9h0m4 15h0m2-23h0m8-4h0m3 26h0m7-27h0m8 19h0m41 0h0m42-4h0m-457 38h0m9 5h0m31 1h0m51-1h0m16-24h0m6-2h0m31 20h0m33-3h0m5-16h0m1 6h0m8 7h0m3 12h0m15-27h0m1 17h0m5-4h0m0-5h0m9 2h0m5-4h0m6 7h0m4-12h0m5 1h0m0 15h0m2-15h0m1 15h0m4 7h0m2-14h0m0 15h0m0-27h0m2 6h0m2 3h0m2 13h0m3-20h0m0 26h0m1-25h0m5 3h0m1 14h0m4 6h0m2-15h0m4 15h0m6-3h0m1 1h0m0-3h0m1 0h0m2-9h0m2-6h0m0 16h0m5-15h0m0 5h0m4 5h0m5-15h0m4 10h0m0 8h0m4-3h0m0-10h0m3 1h0m6 11h0m7 3h0m0-20h0m3 21h0m8-7h0m5-11h0m3 13h0m2 3h0m1 9h0m8-7h0m8 6h0m8-25h0m13 11h0m-656 18h0m175 8h0m37 4h0m116 11h0m53-18h0m36-1h0m15 8h0m17-3h0m11 5h0m2-4h0m2-3h0m2 15h0m1-11h0m3 5h0m6-14h0m0 25h0m1-28h0m2 26h0m1-6h0m1-22h0m1 10h0m4 5h0m3 14h0m2-5h0m0 1h0m2-1h0m1 2h0m4-10h0m2 6h0m1 5h0m0-17h0m1 18h0m7-23h0m3-2h0m3-1h0m0 1h0m0 3h0m2-2h0m3 25h0m2-16h0m1-8h0m5 16h0m0 3h0m0-7h0m3 6h0m2-7h0m0-8h0m0 13h0m2-3h0m3-16h0m0 21h0m1-1h0m4-4h0m2 1h0m3-4h0m3 11h0m1-24h0m2 2h0m0 0h0m0 5h0m3 15h0m0 3h0m2-22h0m2 5h0m0 10h0m2-9h0m1-8h0m8 13h0m2-6h0m2 12h0m0 3h0m4-22h0m5 24h0m3-7h0m1-18h0m0 10h0m2-2h0m7 1h0m5-4h0m0 15h0m1-1h0m0-2h0m3 9h0m4-18h0m8 10h0m2-8h0m4 13h0m0 4h0m1-23h0m1 4h0m2-1h0m1-2h0m2 10h0m8 6h0m39 4h0m-310 20h0m10-8h0m35-2h0m16 13h0m0-14h0m4 4h0m2-10h0m13 12h0m1 18h0m2-13h0m3-11h0m12 20h0m2 0h0m6 0h0m0-1h0m6-7h0m0-17h0m1 23h0m5-3h0m0-20h0m1 3h0m4 3h0m2 15h0m1-14h0m0 10h0m0 3h0m0-7h0m1-13h0m0 11h0m3-5h0m0 12h0m1-10h0m4 16h0m6-24h0m2 16h0m5 1h0m0 0h0m1 11h0m1-24h0m2 4h0m2 3h0m0 17h0m1-9h0m1 2h0m0-3h0m1 8h0m5-16h0m0-3h0m1 19h0m0-21h0m2 9h0m0 10h0m1 4h0m0-27h0m2 23h0m1-9h0m6 7h0m0-23h0m1 5h0m4 23h0m0-17h0m4-7h0m3 18h0m2-2h0m0 1h0m2-11h0m6-7h0m4 26h0m0-19h0m12 1h0m1-11h0m3 19h0m2-8h0m0-5h0m1 5h0m0 4h0m8-6h0m7 4h0m1-2h0m1 0h0m6 17h0m4-23h0m4 17h0m0-15h0m1-4h0m0 14h0m4 13h0m2-14h0m0-2h0m2-12h0m3 22h0m30 0h0m32-19h0m-288 44h0m26-4h0m0 7h0m7 7h0m1-11h0m6 7h0m1-3h0m3-18h0m1 10h0m3 16h0m2-13h0m3-2h0m0 15h0m5-11h0m0 9h0m10-5h0m5-1h0m2 5h0m0-3h0m4-16h0m2 18h0m4-23h0m2-2h0m1 21h0m1-21h0m2 10h0m0 9h0m1-8h0m1 1h0m2-4h0m2 4h0m2 9h0m0-16h0m0 18h0m0-6h0m2-5h0m2-9h0m0 4h0m2 4h0m0 8h0m1 6h0m0-23h0m3 13h0m1-10h0m2 17h0m2-14h0m4 20h0m2-1h0m1-17h0m0 5h0m2-16h0m1 1h0m0 20h0m1-19h0m0 19h0m1-15h0m1 8h0m0 13h0m0-10h0m0-15h0m0 10h0m1 10h0m0 8h0m0-11h0m1 10h0m2-26h0m1 5h0m5-1h0m1 17h0m1 5h0m1-16h0m8-4h0m0-8h0m1 26h0m0-5h0m1-22h0m0 7h0m2 18h0m3 0h0m0-13h0m2 14h0m3 3h0m3-8h0m0-8h0m1 4h0m4-2h0m2 3h0m1-15h0m0 12h0m3 0h0m1 5h0m1-7h0m3 4h0m2 10h0m1-11h0m1 0h0m3 6h0m0-14h0m5 6h0m8 10h0m2-10h0m0 8h0m17-5h0m4 5h0m13 8h0m0-25h0m28 10h0m21 5h0m-454 19h0m154 5h0m24 1h0m21 13h0m4 1h0m1-13h0m3-9h0m0 13h0m1-9h0m2 5h0m4-7h0m5 2h0m1 9h0m1 9h0m1-5h0m3 1h0m4-3h0m0-20h0m1-1h0m1 20h0m2-13h0m5 10h0m4-13h0m2 24h0m0-23h0m1 13h0m3 10h0m1-4h0m0-11h0m0-1h0m2 14h0m1-19h0m0 19h0m2-26h0m0 3h0m0-3h0m3 3h0m3 2h0m2 1h0m2 10h0m8 0h0m0-8h0m0-5h0m2 2h0m2 18h0m1 0h0m2-19h0m4 2h0m3 6h0m1-8h0m0-5h0m3 28h0m2-5h0m2-11h0m1 14h0m1-21h0m1 11h0m3 8h0m0-19h0m2 23h0m1 1h0m2-15h0m0 15h0m1-24h0m0 25h0m0-24h0m3 9h0m0-14h0m4 17h0m6 10h0m6-15h0m0 3h0m1-14h0m5 18h0m4 7h0m1-21h0m0-3h0m3 2h0m1 4h0m1 11h0m0-5h0m1-2h0m4 0h0m2-4h0m2 9h0m14-18h0m0 4h0m2 18h0m6-13h0m5 20h0m3-14h0m1 2h0m2 12h0m5-28h0m4-1h0m13 23h0m9 5h0m1-12h0m4-10h0m2 22h0m11-3h0m10-1h0m-510 33h0m234 0h0m7-9h0m24-1h0m7 8h0m8 2h0m4-21h0m3 14h0m3-1h0m0 4h0m2 1h0m0-18h0m9 24h0m0-14h0m1 2h0m1-4h0m2-6h0m0 19h0m3-24h0m1 5h0m10 21h0m1 0h0m2-25h0m2 22h0m2-13h0m7 13h0m0 0h0m5-25h0m0 3h0m1-2h0m2 4h0m1 11h0m2-3h0m0-11h0m9 26h0m0-25h0m2 11h0m2-2h0m3-7h0m3 14h0m1 3h0m3 4h0m2 0h0m2-9h0m0 10h0m1-28h0m1 17h0m2 5h0m3-14h0m1 13h0m1-15h0m0 15h0m3-17h0m0 3h0m2 21h0m4-23h0m0 25h0m0-11h0m0-8h0m1-3h0m3 5h0m1-12h0m1 1h0m1 11h0m2 13h0m0-18h0m4-4h0m2 10h0m3-13h0m2 3h0m1 10h0m2 0h0m1 0h0m2 13h0m0 3h0m0-1h0m3-3h0m0-7h0m2-1h0m5 9h0m1-2h0m0-7h0m3 10h0m3-27h0m0 24h0m1-20h0m3 11h0m1 5h0m1-10h0m1 7h0m2-7h0m2-5h0m0-4h0m5 12h0m0-9h0m7 4h0m3 19h0m6-26h0m1 4h0m3 16h0m13-19h0m-262 39h0m9-6h0m8 16h0m5-14h0m9 18h0m24 4h0m1-7h0m7-4h0m2-5h0m2-8h0m13 22h0m12-21h0m8 17h0m3-13h0m1 11h0m11-4h0m0-9h0m4-4h0m8 13h0m3 0h0m2-11h0m1 21h0m3-5h0m2-23h0m1 12h0m16-7h0m2 15h0m0-14h0m2 0h0m0 17h0m1-4h0m0 4h0m1-19h0m5 15h0m1-15h0m6 0h0m7 24h0m7-4h0m0-14h0m11 8h0m2 0h0m9-4h0m1-6h0m3 10h0m1-15h0m1 7h0m6-2h0m10-2h0m3 7h0m3 15h0m0-10h0m13 0h0m112 11h0m-408 11h0m65 2h0m8 11h0m1-4h0m25-8h0m13-9h0m54 14h0m16-13h0m6 25h0m5-11h0m3-15h0m5 22h0m6-3h0m6-13h0m2 7h0m5-6h0m3 15h0m5-24h0m6 28h0m1-21h0m3 7h0m20 2h0m2 3h0m0-4h0m3-12h0m16-1h0m8 8h0m0 19h0m13-2h0m4-12h0m21 5h0m-256 39h0m33-3h0m13-7h0m4 5h0m19-6h0m6 11h0m18-24h0m6 0h0m5 3h0m9-2h0m3 6h0m8 6h0m2-9h0m29 1h0m6 9h0m23 6h0m4-25h0m13 10h0m57-7h0m-192 28h0m11 15h0m71 4h0m10-19h0m12 23h0m7-24h0m-26 56h0m4-9h0m34-2h0m38 14h0m-132 4h0m64 5h0" stroke="#2a2af5" stroke-width="7" stroke-linecap="round" fill="none"/>
<path transform="scale(.1)" d="M614 6240h0m10-10h0m3 5h0m1-3h0m1-3h0m0 5h0m6-6h0m1 5h0m2-10h0m3 9h0m2-12h0m13 1h0m0-7h0m2 10h0m3-11h0m1 12h0m8-1h0m0-11h0m8 10h0m2-6h0m0 8h0m0 3h0m1-5h0m0-7h0m0-3h0m3 15h0m1-3h0m3 2h0m5-11h0m2 16h0m2 2h0m2 1h0m0-12h0m3 13h0m4-9h0m0 12h0m1-7h0m1 5h0m3-8h0m0 6h0m1 3h0m3-12h0m4 9h0m2-2h0m6 6h0m-117 27h0m8-16h0m2 17h0m1-4h0m2-22h0m1 16h0m2-1h0m0-1h0m1 7h0m3-9h0m3-7h0m3-5h0m73 3h0m0-1h0m2-2h0m5 5h0m5 24h0m0-11h0m1-8h0m2 16h0m1-16h0m1 1h0m0 13h0m0-22h0m3 15h0m3 6h0m1-19h0m0 25h0m-125 4h0m6-3h0m7 12h0m0 12h0m1-15h0m1-2h0m1 8h0m2 11h0m1-4h0m21 3h0m33 4h0m13-1h0m6 1h0m6-4h0m1-1h0m0 4h0m4-16h0m5-8h0m1 17h0m0-9h0m1-8h0m3-4h0m1 25h0m5-21h0m-86 28h0m7 5h0m5-4h0m0 8h0m3 1h0m3-7h0m6-5h0m8 6h0m1 6h0m0-9h0m2 6h0m0-8h0m7 1h0m4 9h0m6 0h0m1-4h0m8-4h0m0-3h0m216 58h0m10-1h0m4 1h0m-33 15h0m0 14h0m5 1h0m2-10h0m0-7h0m3 6h0m12-17h0m6 10h0m1 12h0m2 0h0m2-21h0m2-2h0m0 19h0m12-6h0m3 16h0m3-1h0m-66 16h0m2-4h0m2-2h0m3-5h0m1 15h0m0-12h0m1 0h0m1 0h0m6-3h0m44 5h0m0 6h0m1-7h0m0-2h0m1 15h0m1-5h0m1 10h0m2-12h0m2-11h0m-74 38h0m4-3h0m5-3h0m1 2h0m69 22h0m0-15h0m1 1h0m0 12h0m3-13h0m-84 29h0m4-4h0m4 18h0m0-3h0m67 7h0m2-20h0m1 2h0m0 13h0m5-12h0m1-7h0m-83 25h0m3 9h0m1-5h0m3 16h0m0-13h0m2 11h0m0-18h0m3 20h0m2 6h0m56-14h0m1 6h0m1 5h0m0-3h0m9-12h0m-74 24h0m5 7h0m3 12h0m0-9h0m3-5h0m5 12h0m0-7h0m2-6h0m2 13h0m6 7h0m5 3h0m5-4h0m2-4h0m7-6h0m4 0h0m2-2h0m2 6h0m10-16h0m6-1h0m-48 28h0m10 9h0m22-9h0" stroke="#1e64ff" stroke-width="7" stroke-linecap="round" fill="none"/>
<path transform="scale(.1)" d="M645 6239h0m12-1h0m1-3h0m12-6h0m2 11h0m10-8h0m5 5h0m1 0h0m6-1h0m1 0h0m0 2h0m6 0h0m2 2h0m-75 26h0m0-3h0m3-7h0m3 7h0m1-7h0m0 9h0m1-7h0m5-2h0m1-1h0m0-13h0m4 6h0m0-3h0m1 2h0m35-5h0m10 0h0m13 21h0m1-8h0m2-11h0m0 1h0m0 9h0m1 13h0m5-3h0m1 3h0m0 2h0m-81 5h0m6 10h0m1-13h0m10 21h0m2-10h0m1 12h0m2-5h0m1-5h0m3 13h0m9-7h0m2 7h0m4-3h0m12 1h0m1-11h0m2 4h0m2 3h0m1-2h0m4-8h0m5 6h0m4-7h0m3 1h0m205 105h0m3-1h0m1 1h0m-21 28h0m1 1h0m1-5h0m0-1h0m3 3h0m1-6h0m1-10h0m1 18h0m2-14h0m8-2h0m0-7h0m6-1h0m3 10h0m2-1h0m6 1h0m2 4h0m2-4h0m1-1h0m1-7h0m1 7h0m0-3h0m1 11h0m9 6h0m-57 36h0m0-6h0m2 0h0m0-11h0m1-10h0m1 7h0m0 12h0m1 4h0m0-24h0m1 13h0m1 0h0m47-1h0m1 3h0m0-12h0m5 22h0m1 1h0m0-6h0m-63 13h0m0 7h0m3 17h0m1-13h0m0 3h0m0-14h0m0 0h0m3 23h0m51-3h0m0-8h0m0-3h0m2-10h0m1 17h0m-57 11h0m1 13h0m1-8h0m0 9h0m1-12h0m0 11h0m1 3h0m5 8h0m0-14h0m4 12h0m0-2h0m11 9h0m8 0h0m3 0h0m6-7h0m1 6h0m1-5h0m2-9h0m0 2h0m0 3h0m1 3h0m0-9h0m1 8h0m1 5h0m2 1h0m0-13h0m3-12h0m-39 28h0m0 0h0m3 1h0m2 0h0m1 6h0m5 2h0m1-2h0m1-6h0m1 2h0m1 5h0m9 1h0m2-8h0m4 2h0m0 0h0" stroke="#10b4f0" stroke-width="7" stroke-linecap="round" fill="none"/>
<path transform="scale(.1)" d="M647 6269h0m2-6h0m6-17h0m2 9h0m0 2h0m2-10h0m1 9h0m3-6h0m2 0h0m0-3h0m3 4h0m3-2h0m0-8h0m4 3h0m11 11h0m2-6h0m2 2h0m3 8h0m0-8h0m1 9h0m0 7h0m-46 9h0m0-3h0m1 1h0m1-4h0m0 5h0m4-4h0m3 4h0m2 8h0m1-5h0m2-1h0m4 3h0m12 4h0m2-7h0m1-1h0m2 7h0m0-5h0m1 6h0m3-9h0m0 0h0m7-4h0m0 4h0" stroke="#20d0a0" stroke-width="7" stroke-linecap="round" fill="none"/>
<path transform="scale(.1)" d="M660 6269h0m1 0h0m2-8h0m1 3h0m1-10h0m2 9h0m1-4h0m1 3h0m1 0h0m1 2h0m3-9h0m1 4h0m0 8h0m1-13h0m0 10h0m2-10h0m0 14h0m1 0h0m0 1h0m3-6h0m0-8h0m-10 15h0m1 6h0m7-6h0m0 4h0m231 138h0m1-1h0m1 4h0m0-8h0m1 1h0m1 7h0m3-5h0m2-1h0m1 4h0m2-7h0m5 4h0m1-1h0m1-2h0m1-1h0m2 2h0m6 11h0m-41 27h0m1-6h0m0 1h0m2-2h0m0 3h0m6-16h0m0 3h0m28-9h0m2 8h0m2-2h0m1 0h0m1-6h0m0 13h0m1 2h0m1 12h0m1-5h0m2-2h0m0 5h0m-46 26h0m2 8h0m0-5h0m1-21h0m3 22h0m35-18h0m0 13h0m1 7h0m0-16h0m1 13h0m1-1h0m1 4h0m0-26h0m0 3h0m-43 30h0m4 6h0m0 5h0m2-9h0m0-2h0m7 14h0m0 2h0m22-3h0" stroke="#50d040" stroke-width="7" stroke-linecap="round" fill="none"/>
<path transform="scale(.1)" d="M919 6416h0m1 4h0m4-5h0m-19 27h0m3-4h0m0-4h0m1 14h0m1-11h0m1 6h0m0-16h0m3-6h0m1 10h0m0-2h0m3-2h0m1-6h0m5 7h0m1-7h0m4 4h0m0 4h0m2-2h0m0 9h0m0 1h0m1-11h0m1 7h0m1 1h0m1 0h0m-30 17h0m1 23h0m1-16h0m0 15h0m3-13h0m0 15h0m2 3h0m1-5h0m19-3h0m2 9h0m1-26h0m0 18h0m0-18h0m2 25h0m1-20h0m-24 23h0m0 3h0m1 6h0m3-5h0m1 10h0m2-1h0m0-2h0m1 3h0m3-12h0m3 2h0m2 4h0m0-5h0" stroke="#b0e020" stroke-width="7" stroke-linecap="round" fill="none"/>
<path transform="scale(.1)" d="M913 6442h0m1 0h0m2-4h0m0 4h0m1-9h0m1 4h0m2-1h0m1 1h0m3-3h0m3 4h0m3 0h0m0 0h0m1 0h0m0 11h0m1-8h0m1 7h0m-21 16h0m2-3h0m1 0h0m0-9h0m0 14h0m0-16h0m1 0h0m0 25h0m1 1h0m2 2h0m6-7h0m1 4h0m0-3h0m0 2h0m1-4h0m2-6h0m1 6h0m0-11h0m0 8h0m1-5h0m2-2h0" stroke="#f0e000" stroke-width="7" stroke-linecap="round" fill="none"/>
<path transform="scale(.1)" d="M921 6445h0m2-3h0m5 7h0m-4 15h0m0 3h0" stroke="#ff5000" stroke-width="7" stroke-linecap="round" fill="none"/>
<rect x="22.80" y="591.80" width="92.00" height="92.20" fill="none" stroke="#111" stroke-width="1.5"/>
<path d="M38.90,601.80 L81.20,601.80 L81.60,625.50 L63.20,642.20 L38.90,624.60 Z" fill="none" stroke="#4a76b8" stroke-width="1.1" stroke-linejoin="miter"/>
<path d="M66.00,644.50 L83.50,627.10 L100.60,627.10 L100.60,669.20 L66.00,669.20 Z" fill="none" stroke="#a83a3a" stroke-width="1.1" stroke-linejoin="miter"/>
<text x="33.80" y="643.24" font-size="8.0" text-anchor="start" font-weight="normal" fill="#333" stroke="#333" stroke-width="0.22">LDN</text>
<text x="87.30" y="678.84" font-size="8.0" text-anchor="start" font-weight="normal" fill="#333" stroke="#333" stroke-width="0.22">HDN</text>
<text x="22.00" y="692.94" font-size="8.0" text-anchor="start" font-weight="normal" fill="#222" stroke="#222" stroke-width="0.22">CD45-KrO</text>
<text x="16.20" y="648.45" font-size="8.3" text-anchor="middle" font-weight="normal" fill="#222" stroke="#222" stroke-width="0.22" transform="rotate(-90 16.20 645.50)">CD45-PerCP/Cy5.5</text>
<rect x="375.60" y="408.60" width="7.80" height="5.60" fill="none" stroke="#4a72b5" stroke-width="1.2"/>
<text x="387.30" y="414.59" font-size="8.7" text-anchor="start" font-weight="normal" fill="#333" stroke="#333" stroke-width="0.22">% in LDN</text>
<rect x="375.60" y="420.90" width="7.80" height="5.60" fill="none" stroke="#a83a3a" stroke-width="1.2"/>
<text x="387.30" y="426.99" font-size="8.7" text-anchor="start" font-weight="normal" fill="#333" stroke="#333" stroke-width="0.22">% in HDN</text>
<rect x="433.40" y="414.90" width="7.80" height="5.60" fill="none" stroke="#111" stroke-width="1.2"/>
<text x="443.80" y="420.99" font-size="8.7" text-anchor="start" font-weight="normal" fill="#333" stroke="#333" stroke-width="0.22">Others</text>
<text x="423.40" y="446.31" font-size="11.3" text-anchor="middle" font-weight="normal" fill="#111" stroke="#111" stroke-width="0.22">CD10<tspan font-size="6.5" dy="-4">-</tspan><tspan dy="4">CD49d</tspan><tspan font-size="6.5" dy="-4">+</tspan></text>
<rect x="454.56" y="459.40" width="12.74" height="14.40" fill="#d2d2d2" stroke="#151515" stroke-width="1.1"/>
<rect x="376.30" y="459.40" width="78.26" height="14.40" fill="#b8cfe8" stroke="#4a72b5" stroke-width="1.1"/>
<path d="M454.56 466.60L456.38 466.60" stroke="#4a72b5" stroke-width="1"/>
<path d="M456.38 464.00L456.38 469.20" stroke="#4a72b5" stroke-width="1"/>
<path d="M467.30 466.60L468.67 466.60" stroke="#111" stroke-width="1"/>
<path d="M468.67 464.00L468.67 469.20" stroke="#111" stroke-width="1"/>
<path d="M372.80 466.60L376.30 466.60" stroke="#111" stroke-width="1.1"/>
<rect x="376.30" y="482.50" width="91.00" height="15.00" fill="#d2d2d2" stroke="#151515" stroke-width="1.1"/>
<rect x="376.60" y="483.50" width="0.27" height="13.00" fill="#a83a3a" stroke="none" stroke-width="1"/>
<path d="M467.30 487.40L467.30 492.60" stroke="#111" stroke-width="1.2"/>
<path d="M372.80 490.00L376.30 490.00" stroke="#111" stroke-width="1.1"/>
<text x="368.80" y="470.50" font-size="11" text-anchor="end" font-weight="normal" fill="#1a1a1a" stroke="#1a1a1a" stroke-width="0.22">LDN</text>
<text x="368.80" y="493.90" font-size="11" text-anchor="end" font-weight="normal" fill="#1a1a1a" stroke="#1a1a1a" stroke-width="0.22">HDN</text>
<path d="M376.30 451.50L376.30 505.40" stroke="#111" stroke-width="1.4"/>
<path d="M375.60 504.80L476.40 504.80" stroke="#111" stroke-width="1.4"/>
<path d="M376.30 504.80L376.30 507.80" stroke="#111" stroke-width="1.1"/>
<text x="376.30" y="517.59" font-size="8.7" text-anchor="middle" font-weight="normal" fill="#222" stroke="#222" stroke-width="0.22">0</text>
<path d="M394.50 504.80L394.50 507.80" stroke="#111" stroke-width="1.1"/>
<text x="394.50" y="517.59" font-size="8.7" text-anchor="middle" font-weight="normal" fill="#222" stroke="#222" stroke-width="0.22">20</text>
<path d="M412.70 504.80L412.70 507.80" stroke="#111" stroke-width="1.1"/>
<text x="412.70" y="517.59" font-size="8.7" text-anchor="middle" font-weight="normal" fill="#222" stroke="#222" stroke-width="0.22">40</text>
<path d="M430.90 504.80L430.90 507.80" stroke="#111" stroke-width="1.1"/>
<text x="430.90" y="517.59" font-size="8.7" text-anchor="middle" font-weight="normal" fill="#222" stroke="#222" stroke-width="0.22">60</text>
<path d="M449.10 504.80L449.10 507.80" stroke="#111" stroke-width="1.1"/>
<text x="449.10" y="517.59" font-size="8.7" text-anchor="middle" font-weight="normal" fill="#222" stroke="#222" stroke-width="0.22">80</text>
<path d="M467.30 504.80L467.30 507.80" stroke="#111" stroke-width="1.1"/>
<text x="467.30" y="517.59" font-size="8.7" text-anchor="middle" font-weight="normal" fill="#222" stroke="#222" stroke-width="0.22">100</text>
<text x="426.35" y="529.90" font-size="11" text-anchor="middle" font-weight="normal" fill="#222" stroke="#222" stroke-width="0.22">%</text>
<text x="426.30" y="558.71" font-size="11.3" text-anchor="middle" font-weight="normal" fill="#111" stroke="#111" stroke-width="0.22">CD10<tspan font-size="6.5" dy="-4">-</tspan><tspan dy="4">Ig κ</tspan><tspan font-size="6.5" dy="-4">+</tspan></text>
<rect x="456.47" y="569.90" width="11.83" height="14.50" fill="#d2d2d2" stroke="#151515" stroke-width="1.1"/>
<rect x="377.30" y="569.90" width="79.17" height="14.50" fill="#b8cfe8" stroke="#4a72b5" stroke-width="1.1"/>
<path d="M456.47 577.15L458.29 577.15" stroke="#4a72b5" stroke-width="1"/>
<path d="M458.29 574.55L458.29 579.75" stroke="#4a72b5" stroke-width="1"/>
<path d="M468.30 577.15L469.67 577.15" stroke="#111" stroke-width="1"/>
<path d="M469.67 574.55L469.67 579.75" stroke="#111" stroke-width="1"/>
<path d="M373.80 577.15L377.30 577.15" stroke="#111" stroke-width="1.1"/>
<rect x="377.30" y="593.60" width="91.00" height="13.90" fill="#d2d2d2" stroke="#151515" stroke-width="1.1"/>
<rect x="377.60" y="594.60" width="0.27" height="11.90" fill="#a83a3a" stroke="none" stroke-width="1"/>
<path d="M468.30 597.95L468.30 603.15" stroke="#111" stroke-width="1.2"/>
<path d="M373.80 600.55L377.30 600.55" stroke="#111" stroke-width="1.1"/>
<text x="369.80" y="581.05" font-size="11" text-anchor="end" font-weight="normal" fill="#1a1a1a" stroke="#1a1a1a" stroke-width="0.22">LDN</text>
<text x="369.80" y="604.45" font-size="11" text-anchor="end" font-weight="normal" fill="#1a1a1a" stroke="#1a1a1a" stroke-width="0.22">HDN</text>
<path d="M377.30 562.00L377.30 615.70" stroke="#111" stroke-width="1.4"/>
<path d="M376.60 615.10L477.40 615.10" stroke="#111" stroke-width="1.4"/>
<path d="M377.30 615.10L377.30 618.10" stroke="#111" stroke-width="1.1"/>
<text x="377.30" y="628.19" font-size="8.7" text-anchor="middle" font-weight="normal" fill="#222" stroke="#222" stroke-width="0.22">0</text>
<path d="M395.50 615.10L395.50 618.10" stroke="#111" stroke-width="1.1"/>
<text x="395.50" y="628.19" font-size="8.7" text-anchor="middle" font-weight="normal" fill="#222" stroke="#222" stroke-width="0.22">20</text>
<path d="M413.70 615.10L413.70 618.10" stroke="#111" stroke-width="1.1"/>
<text x="413.70" y="628.19" font-size="8.7" text-anchor="middle" font-weight="normal" fill="#222" stroke="#222" stroke-width="0.22">40</text>
<path d="M431.90 615.10L431.90 618.10" stroke="#111" stroke-width="1.1"/>
<text x="431.90" y="628.19" font-size="8.7" text-anchor="middle" font-weight="normal" fill="#222" stroke="#222" stroke-width="0.22">60</text>
<path d="M450.10 615.10L450.10 618.10" stroke="#111" stroke-width="1.1"/>
<text x="450.10" y="628.19" font-size="8.7" text-anchor="middle" font-weight="normal" fill="#222" stroke="#222" stroke-width="0.22">80</text>
<path d="M468.30 615.10L468.30 618.10" stroke="#111" stroke-width="1.1"/>
<text x="468.30" y="628.19" font-size="8.7" text-anchor="middle" font-weight="normal" fill="#222" stroke="#222" stroke-width="0.22">100</text>
<text x="427.35" y="639.50" font-size="11" text-anchor="middle" font-weight="normal" fill="#222" stroke="#222" stroke-width="0.22">%</text>
<text x="427.40" y="662.11" font-size="11.3" text-anchor="middle" font-weight="normal" fill="#111" stroke="#111" stroke-width="0.22">CD49d<tspan font-size="6.5" dy="-4">+</tspan><tspan dy="4">Ig κ</tspan><tspan font-size="6.5" dy="-4">+</tspan></text>
<rect x="455.86" y="677.00" width="12.74" height="14.00" fill="#d2d2d2" stroke="#151515" stroke-width="1.1"/>
<rect x="377.60" y="677.00" width="78.26" height="14.00" fill="#b8cfe8" stroke="#4a72b5" stroke-width="1.1"/>
<path d="M455.86 684.00L457.68 684.00" stroke="#4a72b5" stroke-width="1"/>
<path d="M457.68 681.40L457.68 686.60" stroke="#4a72b5" stroke-width="1"/>
<path d="M468.60 684.00L469.97 684.00" stroke="#111" stroke-width="1"/>
<path d="M469.97 681.40L469.97 686.60" stroke="#111" stroke-width="1"/>
<path d="M374.10 684.00L377.60 684.00" stroke="#111" stroke-width="1.1"/>
<rect x="377.60" y="700.20" width="91.00" height="14.40" fill="#d2d2d2" stroke="#151515" stroke-width="1.1"/>
<rect x="377.90" y="701.20" width="0.73" height="12.40" fill="#a83a3a" stroke="none" stroke-width="1"/>
<path d="M468.60 704.80L468.60 710.00" stroke="#111" stroke-width="1.2"/>
<path d="M374.10 707.40L377.60 707.40" stroke="#111" stroke-width="1.1"/>
<text x="370.10" y="687.90" font-size="11" text-anchor="end" font-weight="normal" fill="#1a1a1a" stroke="#1a1a1a" stroke-width="0.22">LDN</text>
<text x="370.10" y="711.31" font-size="11" text-anchor="end" font-weight="normal" fill="#1a1a1a" stroke="#1a1a1a" stroke-width="0.22">HDN</text>
<path d="M377.60 668.60L377.60 723.10" stroke="#111" stroke-width="1.4"/>
<path d="M376.90 722.50L477.70 722.50" stroke="#111" stroke-width="1.4"/>
<path d="M377.60 722.50L377.60 725.50" stroke="#111" stroke-width="1.1"/>
<text x="377.60" y="735.29" font-size="8.7" text-anchor="middle" font-weight="normal" fill="#222" stroke="#222" stroke-width="0.22">0</text>
<path d="M395.80 722.50L395.80 725.50" stroke="#111" stroke-width="1.1"/>
<text x="395.80" y="735.29" font-size="8.7" text-anchor="middle" font-weight="normal" fill="#222" stroke="#222" stroke-width="0.22">20</text>
<path d="M414.00 722.50L414.00 725.50" stroke="#111" stroke-width="1.1"/>
<text x="414.00" y="735.29" font-size="8.7" text-anchor="middle" font-weight="normal" fill="#222" stroke="#222" stroke-width="0.22">40</text>
<path d="M432.20 722.50L432.20 725.50" stroke="#111" stroke-width="1.1"/>
<text x="432.20" y="735.29" font-size="8.7" text-anchor="middle" font-weight="normal" fill="#222" stroke="#222" stroke-width="0.22">60</text>
<path d="M450.40 722.50L450.40 725.50" stroke="#111" stroke-width="1.1"/>
<text x="450.40" y="735.29" font-size="8.7" text-anchor="middle" font-weight="normal" fill="#222" stroke="#222" stroke-width="0.22">80</text>
<path d="M468.60 722.50L468.60 725.50" stroke="#111" stroke-width="1.1"/>
<text x="468.60" y="735.29" font-size="8.7" text-anchor="middle" font-weight="normal" fill="#222" stroke="#222" stroke-width="0.22">100</text>
<text x="427.65" y="747.90" font-size="11" text-anchor="middle" font-weight="normal" fill="#222" stroke="#222" stroke-width="0.22">%</text>
<text x="508.90" y="11.97" font-size="14" text-anchor="start" font-weight="bold" fill="#111">D</text>
<text x="508.60" y="411.67" font-size="14" text-anchor="start" font-weight="bold" fill="#111">E</text>
<text x="508.00" y="593.37" font-size="14" text-anchor="start" font-weight="bold" fill="#111">F</text>
<path d="M556.20,52.00 V176.90 M553.80,174.60 H680.70 M580.28,52.00 V176.90 M553.80,150.56 H680.70 M604.36,52.00 V176.90 M553.80,126.52 H680.70 M628.44,52.00 V176.90 M553.80,102.48 H680.70 M652.52,52.00 V176.90 M553.80,78.44 H680.70 M676.60,52.00 V176.90 M553.80,54.40 H680.70" fill="none" stroke="#b8b8b8" stroke-width="0.7" stroke-dasharray="1.3,1.6"/>
<path d="M556.20 174.60L676.60 54.40" stroke="#3b2b2b" stroke-width="1.1"/>
<path d="M556.20,174.60 L556.23,173.59 L556.25,172.58 L556.28,171.57 L556.30,170.56 L556.33,169.55 L556.35,168.54 L556.38,167.53 L556.40,166.52 L556.43,165.51 L556.45,164.50 L556.48,163.49 L556.50,162.48 L556.53,161.47 L556.55,160.46 L556.58,159.45 L556.60,158.44 L556.63,157.43 L556.66,156.42 L556.68,155.41 L556.71,154.40 L556.73,153.39 L556.76,152.38 L556.78,151.37 L556.81,150.36 L556.83,149.35 L556.86,148.34 L556.88,147.33 L556.91,146.32 L556.93,145.31 L556.96,144.30 L556.98,143.29 L557.01,142.28 L557.03,141.27 L557.06,140.26 L557.09,139.25 L557.11,138.24 L557.14,137.23 L557.16,136.22 L557.19,135.21 L557.21,134.20 L557.24,133.19 L557.26,132.18 L557.29,131.17 L557.31,130.16 L557.34,129.15 L557.36,128.14 L557.39,127.13 L557.41,126.12 L557.44,125.11 L557.46,124.10 L557.49,123.09 L557.51,122.08 L557.54,121.07 L557.56,120.06 L557.58,119.05 L557.60,118.04 L557.63,117.03 L557.65,116.02 L557.67,115.01 L557.70,113.99 L557.72,112.98 L557.74,111.97 L557.76,110.96 L557.79,109.95 L557.81,108.94 L557.83,107.93 L557.86,106.92 L557.88,105.91 L557.90,104.90 L557.93,103.89 L557.95,102.88 L557.98,101.87 L558.00,100.86 L558.03,99.85 L558.05,98.84 L558.08,97.83 L558.11,96.82 L558.13,95.81 L558.16,94.80 L558.19,93.79 L558.22,92.78 L558.25,91.77 L558.28,90.76 L558.31,89.75 L558.34,88.74 L558.38,87.73 L558.41,86.72 L558.44,85.71 L558.48,84.70 L558.51,83.69 L558.54,82.68 L558.58,81.67 L558.61,80.66 L558.65,79.65 L558.68,78.64 L558.72,77.63 L558.76,76.62 L558.81,75.61 L558.85,74.60 L558.90,73.59 L558.95,72.58 L559.00,71.57 L559.06,70.56 L559.12,69.55 L559.18,68.54 L559.25,67.53 L559.32,66.52 L559.40,65.51 L559.49,64.50 L559.59,63.49 L559.71,62.48 L559.85,61.47 L560.01,60.46 L560.20,59.45 L560.43,58.44 L560.69,57.43 L561.10,56.42 L561.89,55.41 L565.83,54.40 L676.60,54.40" fill="none" stroke="#a6c8ae" stroke-width="2.6" stroke-linejoin="round" stroke-linecap="round"/>
<path d="M556.20,174.60 L556.22,173.59 L556.23,172.58 L556.25,171.57 L556.27,170.56 L556.29,169.55 L556.30,168.54 L556.32,167.53 L556.34,166.52 L556.35,165.51 L556.37,164.50 L556.39,163.49 L556.41,162.48 L556.42,161.47 L556.44,160.46 L556.46,159.45 L556.48,158.44 L556.49,157.43 L556.51,156.42 L556.53,155.41 L556.55,154.40 L556.56,153.39 L556.58,152.38 L556.60,151.37 L556.62,150.36 L556.63,149.35 L556.65,148.34 L556.67,147.33 L556.69,146.32 L556.71,145.31 L556.72,144.30 L556.74,143.29 L556.76,142.28 L556.78,141.27 L556.80,140.26 L556.81,139.25 L556.83,138.24 L556.85,137.23 L556.87,136.22 L556.89,135.21 L556.90,134.20 L556.92,133.19 L556.94,132.18 L556.96,131.17 L556.98,130.16 L557.00,129.15 L557.01,128.14 L557.03,127.13 L557.05,126.12 L557.07,125.11 L557.09,124.10 L557.10,123.09 L557.12,122.08 L557.14,121.07 L557.15,120.06 L557.17,119.05 L557.18,118.04 L557.20,117.03 L557.22,116.02 L557.23,115.01 L557.25,113.99 L557.26,112.98 L557.28,111.97 L557.29,110.96 L557.31,109.95 L557.33,108.94 L557.34,107.93 L557.36,106.92 L557.38,105.91 L557.39,104.90 L557.41,103.89 L557.43,102.88 L557.45,101.87 L557.47,100.86 L557.49,99.85 L557.51,98.84 L557.53,97.83 L557.55,96.82 L557.57,95.81 L557.59,94.80 L557.62,93.79 L557.64,92.78 L557.67,91.77 L557.69,90.76 L557.72,89.75 L557.75,88.74 L557.77,87.73 L557.80,86.72 L557.84,85.71 L557.87,84.70 L557.91,83.69 L557.94,82.68 L557.98,81.67 L558.03,80.66 L558.07,79.65 L558.12,78.64 L558.16,77.63 L558.22,76.62 L558.27,75.61 L558.32,74.60 L558.38,73.59 L558.44,72.58 L558.50,71.57 L558.56,70.56 L558.63,69.55 L558.70,68.54 L558.77,67.53 L558.84,66.52 L558.92,65.51 L558.99,64.50 L559.07,63.49 L559.17,62.48 L559.27,61.47 L559.40,60.46 L559.55,59.45 L559.73,58.44 L559.94,57.43 L560.26,56.42 L560.88,55.41 L563.42,54.40 L676.60,54.40" fill="none" stroke="#1f4d4c" stroke-width="1.0" stroke-linejoin="round" stroke-linecap="round"/>
<path d="M556.20,174.60 L556.27,173.59 L556.34,172.58 L556.41,171.57 L556.48,170.56 L556.55,169.55 L556.61,168.54 L556.68,167.53 L556.75,166.52 L556.82,165.51 L556.89,164.50 L556.96,163.49 L557.03,162.48 L557.09,161.47 L557.16,160.46 L557.23,159.45 L557.30,158.44 L557.37,157.43 L557.43,156.42 L557.50,155.41 L557.57,154.40 L557.63,153.39 L557.70,152.38 L557.77,151.37 L557.84,150.36 L557.90,149.35 L557.97,148.34 L558.04,147.33 L558.10,146.32 L558.17,145.31 L558.23,144.30 L558.30,143.29 L558.37,142.28 L558.43,141.27 L558.50,140.26 L558.56,139.25 L558.63,138.24 L558.69,137.23 L558.76,136.22 L558.82,135.21 L558.89,134.20 L558.95,133.19 L559.02,132.18 L559.08,131.17 L559.15,130.16 L559.21,129.15 L559.28,128.14 L559.34,127.13 L559.41,126.12 L559.47,125.11 L559.54,124.10 L559.60,123.09 L559.67,122.08 L559.73,121.07 L559.79,120.06 L559.86,119.05 L559.92,118.04 L559.98,117.03 L560.05,116.02 L560.11,115.01 L560.17,113.99 L560.24,112.98 L560.30,111.97 L560.36,110.96 L560.42,109.95 L560.49,108.94 L560.55,107.93 L560.61,106.92 L560.67,105.91 L560.73,104.90 L560.79,103.89 L560.85,102.88 L560.91,101.87 L560.97,100.86 L561.03,99.85 L561.09,98.84 L561.14,97.83 L561.20,96.82 L561.25,95.81 L561.30,94.80 L561.35,93.79 L561.40,92.78 L561.45,91.77 L561.50,90.76 L561.55,89.75 L561.60,88.74 L561.66,87.73 L561.71,86.72 L561.76,85.71 L561.82,84.70 L561.88,83.69 L561.94,82.68 L562.00,81.67 L562.06,80.66 L562.13,79.65 L562.21,78.64 L562.28,77.63 L562.35,76.62 L562.43,75.61 L562.51,74.60 L562.60,73.59 L562.69,72.58 L562.78,71.57 L562.89,70.56 L563.00,69.55 L563.13,68.54 L563.26,67.53 L563.41,66.52 L563.57,65.51 L563.76,64.50 L563.98,63.49 L564.24,62.48 L564.56,61.47 L564.94,60.46 L565.41,59.45 L566.15,58.44 L567.29,57.43 L569.01,56.42 L573.13,55.41 L604.36,54.40 L676.60,54.40" fill="none" stroke="#3b8169" stroke-width="2.3" stroke-linejoin="round" stroke-linecap="round"/>
<path d="M552.80 50.00L552.80 178.65" stroke="#111" stroke-width="1.6"/>
<path d="M552.00 177.90L680.70 177.90" stroke="#111" stroke-width="1.6"/>
<text x="548.80" y="175.09" font-size="8.7" text-anchor="end" font-weight="normal" fill="#222" stroke="#222" stroke-width="0.22" transform="translate(548.80 0) scale(0.89 1) translate(-548.80 0)">0</text>
<text x="548.80" y="152.05" font-size="8.7" text-anchor="end" font-weight="normal" fill="#222" stroke="#222" stroke-width="0.22" transform="translate(548.80 0) scale(0.89 1) translate(-548.80 0)">20</text>
<text x="548.80" y="129.01" font-size="8.7" text-anchor="end" font-weight="normal" fill="#222" stroke="#222" stroke-width="0.22" transform="translate(548.80 0) scale(0.89 1) translate(-548.80 0)">40</text>
<text x="548.80" y="105.97" font-size="8.7" text-anchor="end" font-weight="normal" fill="#222" stroke="#222" stroke-width="0.22" transform="translate(548.80 0) scale(0.89 1) translate(-548.80 0)">60</text>
<text x="548.80" y="82.93" font-size="8.7" text-anchor="end" font-weight="normal" fill="#222" stroke="#222" stroke-width="0.22" transform="translate(548.80 0) scale(0.89 1) translate(-548.80 0)">80</text>
<text x="548.80" y="59.89" font-size="8.7" text-anchor="end" font-weight="normal" fill="#222" stroke="#222" stroke-width="0.22" transform="translate(548.80 0) scale(0.89 1) translate(-548.80 0)">100</text>
<text x="555.90" y="187.09" font-size="8.7" text-anchor="middle" font-weight="normal" fill="#222" stroke="#222" stroke-width="0.22" transform="translate(555.90 0) scale(0.89 1) translate(-555.90 0)">0</text>
<text x="579.90" y="187.09" font-size="8.7" text-anchor="middle" font-weight="normal" fill="#222" stroke="#222" stroke-width="0.22" transform="translate(579.90 0) scale(0.89 1) translate(-579.90 0)">20</text>
<text x="603.90" y="187.09" font-size="8.7" text-anchor="middle" font-weight="normal" fill="#222" stroke="#222" stroke-width="0.22" transform="translate(603.90 0) scale(0.89 1) translate(-603.90 0)">40</text>
<text x="627.80" y="187.09" font-size="8.7" text-anchor="middle" font-weight="normal" fill="#222" stroke="#222" stroke-width="0.22" transform="translate(627.80 0) scale(0.89 1) translate(-627.80 0)">60</text>
<text x="652.30" y="187.09" font-size="8.7" text-anchor="middle" font-weight="normal" fill="#222" stroke="#222" stroke-width="0.22" transform="translate(652.30 0) scale(0.89 1) translate(-652.30 0)">80</text>
<text x="672.90" y="187.09" font-size="8.7" text-anchor="middle" font-weight="normal" fill="#222" stroke="#222" stroke-width="0.22" transform="translate(672.90 0) scale(0.89 1) translate(-672.90 0)">100</text>
<text x="619.00" y="44.51" font-size="11" text-anchor="middle" font-weight="normal" fill="#111" stroke="#111" stroke-width="0.22">Healthy</text>
<text x="618.90" y="199.94" font-size="11.1" text-anchor="middle" font-weight="normal" fill="#111" stroke="#111" stroke-width="0.22">100%-Specificity%</text>
<text x="532.60" y="111.94" font-size="11.1" text-anchor="middle" font-weight="normal" fill="#111" stroke="#111" stroke-width="0.22" transform="rotate(-90 532.60 108.00)">Sensitivity%</text>
<text x="667.50" y="138.92" font-size="8.5" text-anchor="end" font-weight="normal" fill="#222" stroke="#222" stroke-width="0.22">CD10+CD49d</text>
<text x="667.00" y="149.02" font-size="8.5" text-anchor="end" font-weight="normal" fill="#222" stroke="#222" stroke-width="0.22">(AUC=0.989)</text>
<path d="M670.10 142.20L676.00 142.20" stroke="#1f4d4c" stroke-width="1.6"/>
<text x="669.20" y="160.92" font-size="8.5" text-anchor="end" font-weight="normal" fill="#222" stroke="#222" stroke-width="0.22">CD10+Ig κ (AUC=0.989)</text>
<path d="M671.00 158.60L676.00 158.60" stroke="#a6c8ae" stroke-width="1.6"/>
<text x="669.20" y="171.82" font-size="8.5" text-anchor="end" font-weight="normal" fill="#222" stroke="#222" stroke-width="0.22">Ig κ+CD49d (AUC=0.965)</text>
<path d="M671.00 169.50L676.00 169.50" stroke="#3b8169" stroke-width="1.6"/>
<path d="M557.30,231.60 V353.10 M555.00,351.10 H681.70 M581.22,231.60 V353.10 M555.00,327.60 H681.70 M605.14,231.60 V353.10 M555.00,304.10 H681.70 M629.06,231.60 V353.10 M555.00,280.60 H681.70 M652.98,231.60 V353.10 M555.00,257.10 H681.70 M676.90,231.60 V353.10 M555.00,233.60 H681.70" fill="none" stroke="#b8b8b8" stroke-width="0.7" stroke-dasharray="1.3,1.6"/>
<path d="M557.30 351.10L676.90 233.60" stroke="#3b2b2b" stroke-width="1.1"/>
<path d="M557.30,351.10 L557.33,350.11 L557.37,349.13 L557.40,348.14 L557.43,347.15 L557.47,346.16 L557.50,345.18 L557.53,344.19 L557.57,343.20 L557.60,342.21 L557.63,341.23 L557.67,340.24 L557.70,339.25 L557.74,338.26 L557.77,337.28 L557.80,336.29 L557.84,335.30 L557.87,334.31 L557.91,333.33 L557.94,332.34 L557.97,331.35 L558.01,330.36 L558.04,329.38 L558.08,328.39 L558.11,327.40 L558.15,326.42 L558.18,325.43 L558.22,324.44 L558.25,323.45 L558.29,322.47 L558.32,321.48 L558.36,320.49 L558.39,319.50 L558.43,318.52 L558.46,317.53 L558.50,316.54 L558.53,315.55 L558.57,314.57 L558.61,313.58 L558.64,312.59 L558.68,311.60 L558.71,310.62 L558.75,309.63 L558.78,308.64 L558.82,307.65 L558.85,306.67 L558.88,305.68 L558.91,304.69 L558.94,303.71 L558.97,302.72 L559.00,301.73 L559.03,300.74 L559.06,299.76 L559.09,298.77 L559.12,297.78 L559.15,296.79 L559.18,295.81 L559.21,294.82 L559.24,293.83 L559.27,292.84 L559.30,291.86 L559.33,290.87 L559.36,289.88 L559.40,288.89 L559.43,287.91 L559.47,286.92 L559.51,285.93 L559.55,284.94 L559.59,283.96 L559.63,282.97 L559.67,281.98 L559.72,280.99 L559.77,280.01 L559.82,279.02 L559.87,278.03 L559.93,277.05 L559.98,276.06 L560.04,275.07 L560.11,274.08 L560.18,273.10 L560.26,272.11 L560.35,271.12 L560.45,270.13 L560.55,269.15 L560.66,268.16 L560.78,267.17 L560.91,266.18 L561.05,265.20 L561.19,264.21 L561.34,263.22 L561.50,262.23 L561.66,261.25 L561.84,260.26 L562.02,259.27 L562.21,258.28 L562.40,257.30 L562.61,256.31 L562.84,255.32 L563.09,254.34 L563.37,253.35 L563.68,252.36 L564.01,251.37 L564.38,250.39 L564.78,249.40 L565.21,248.41 L565.68,247.42 L566.18,246.44 L566.73,245.45 L567.31,244.46 L567.98,243.47 L568.76,242.49 L569.70,241.50 L570.84,240.51 L572.22,239.52 L573.87,238.54 L575.96,237.55 L579.71,236.56 L585.42,235.57 L594.24,234.59 L611.12,233.60 L676.90,233.60" fill="none" stroke="#a6c8ae" stroke-width="2.4" stroke-linejoin="round" stroke-linecap="round"/>
<path d="M557.30,351.10 L557.32,350.11 L557.35,349.13 L557.37,348.14 L557.39,347.15 L557.42,346.16 L557.44,345.18 L557.47,344.19 L557.49,343.20 L557.52,342.21 L557.54,341.23 L557.57,340.24 L557.59,339.25 L557.62,338.26 L557.64,337.28 L557.67,336.29 L557.69,335.30 L557.72,334.31 L557.74,333.33 L557.77,332.34 L557.79,331.35 L557.82,330.36 L557.84,329.38 L557.87,328.39 L557.90,327.40 L557.92,326.42 L557.95,325.43 L557.98,324.44 L558.00,323.45 L558.03,322.47 L558.06,321.48 L558.08,320.49 L558.11,319.50 L558.14,318.52 L558.17,317.53 L558.19,316.54 L558.22,315.55 L558.25,314.57 L558.27,313.58 L558.30,312.59 L558.33,311.60 L558.36,310.62 L558.39,309.63 L558.41,308.64 L558.44,307.65 L558.47,306.67 L558.50,305.68 L558.52,304.69 L558.55,303.71 L558.58,302.72 L558.61,301.73 L558.63,300.74 L558.66,299.76 L558.69,298.77 L558.72,297.78 L558.74,296.79 L558.77,295.81 L558.80,294.82 L558.83,293.83 L558.86,292.84 L558.89,291.86 L558.92,290.87 L558.95,289.88 L558.98,288.89 L559.01,287.91 L559.04,286.92 L559.07,285.93 L559.10,284.94 L559.13,283.96 L559.16,282.97 L559.20,281.98 L559.23,280.99 L559.27,280.01 L559.30,279.02 L559.34,278.03 L559.37,277.05 L559.41,276.06 L559.45,275.07 L559.49,274.08 L559.52,273.10 L559.55,272.11 L559.59,271.12 L559.62,270.13 L559.65,269.15 L559.67,268.16 L559.70,267.17 L559.73,266.18 L559.76,265.20 L559.79,264.21 L559.82,263.22 L559.85,262.23 L559.89,261.25 L559.92,260.26 L559.96,259.27 L560.00,258.28 L560.05,257.30 L560.10,256.31 L560.15,255.32 L560.21,254.34 L560.27,253.35 L560.33,252.36 L560.40,251.37 L560.48,250.39 L560.56,249.40 L560.65,248.41 L560.74,247.42 L560.85,246.44 L560.96,245.45 L561.09,244.46 L561.35,243.47 L561.76,242.49 L562.34,241.50 L563.10,240.51 L564.05,239.52 L565.22,238.54 L566.93,237.55 L571.69,236.56 L579.40,235.57 L590.57,234.59 L611.12,233.60 L676.90,233.60" fill="none" stroke="#3b8169" stroke-width="2.2" stroke-linejoin="round" stroke-linecap="round"/>
<path d="M557.30,351.10 L557.31,350.11 L557.33,349.13 L557.34,348.14 L557.36,347.15 L557.38,346.16 L557.39,345.18 L557.41,344.19 L557.42,343.20 L557.44,342.21 L557.45,341.23 L557.47,340.24 L557.49,339.25 L557.50,338.26 L557.52,337.28 L557.54,336.29 L557.55,335.30 L557.57,334.31 L557.59,333.33 L557.60,332.34 L557.62,331.35 L557.64,330.36 L557.65,329.38 L557.67,328.39 L557.69,327.40 L557.71,326.42 L557.73,325.43 L557.74,324.44 L557.76,323.45 L557.78,322.47 L557.80,321.48 L557.82,320.49 L557.83,319.50 L557.85,318.52 L557.87,317.53 L557.89,316.54 L557.91,315.55 L557.93,314.57 L557.95,313.58 L557.97,312.59 L557.99,311.60 L558.01,310.62 L558.02,309.63 L558.04,308.64 L558.06,307.65 L558.08,306.67 L558.10,305.68 L558.12,304.69 L558.14,303.71 L558.16,302.72 L558.18,301.73 L558.20,300.74 L558.22,299.76 L558.24,298.77 L558.26,297.78 L558.28,296.79 L558.30,295.81 L558.32,294.82 L558.34,293.83 L558.36,292.84 L558.38,291.86 L558.40,290.87 L558.42,289.88 L558.45,288.89 L558.47,287.91 L558.49,286.92 L558.51,285.93 L558.54,284.94 L558.56,283.96 L558.58,282.97 L558.61,281.98 L558.63,280.99 L558.66,280.01 L558.68,279.02 L558.71,278.03 L558.74,277.05 L558.76,276.06 L558.79,275.07 L558.82,274.08 L558.84,273.10 L558.87,272.11 L558.89,271.12 L558.91,270.13 L558.93,269.15 L558.94,268.16 L558.96,267.17 L558.98,266.18 L558.99,265.20 L559.01,264.21 L559.03,263.22 L559.04,262.23 L559.06,261.25 L559.08,260.26 L559.10,259.27 L559.13,258.28 L559.15,257.30 L559.18,256.31 L559.20,255.32 L559.23,254.34 L559.27,253.35 L559.31,252.36 L559.35,251.37 L559.39,250.39 L559.44,249.40 L559.49,248.41 L559.54,247.42 L559.60,246.44 L559.67,245.45 L559.74,244.46 L559.82,243.47 L559.90,242.49 L559.98,241.50 L560.08,240.51 L560.18,239.52 L560.88,238.54 L562.50,237.55 L564.86,236.56 L570.28,235.57 L580.38,234.59 L605.14,233.60 L676.90,233.60" fill="none" stroke="#1f4d4c" stroke-width="1.8" stroke-linejoin="round" stroke-linecap="round"/>
<path d="M554.00 229.60L554.00 354.85" stroke="#111" stroke-width="1.6"/>
<path d="M553.20 354.10L681.70 354.10" stroke="#111" stroke-width="1.6"/>
<text x="549.20" y="354.19" font-size="8.7" text-anchor="end" font-weight="normal" fill="#222" stroke="#222" stroke-width="0.22" transform="translate(549.20 0) scale(0.89 1) translate(-549.20 0)">0</text>
<text x="549.20" y="331.19" font-size="8.7" text-anchor="end" font-weight="normal" fill="#222" stroke="#222" stroke-width="0.22" transform="translate(549.20 0) scale(0.89 1) translate(-549.20 0)">20</text>
<text x="549.20" y="308.19" font-size="8.7" text-anchor="end" font-weight="normal" fill="#222" stroke="#222" stroke-width="0.22" transform="translate(549.20 0) scale(0.89 1) translate(-549.20 0)">40</text>
<text x="549.20" y="285.19" font-size="8.7" text-anchor="end" font-weight="normal" fill="#222" stroke="#222" stroke-width="0.22" transform="translate(549.20 0) scale(0.89 1) translate(-549.20 0)">60</text>
<text x="549.20" y="262.19" font-size="8.7" text-anchor="end" font-weight="normal" fill="#222" stroke="#222" stroke-width="0.22" transform="translate(549.20 0) scale(0.89 1) translate(-549.20 0)">80</text>
<text x="549.20" y="239.19" font-size="8.7" text-anchor="end" font-weight="normal" fill="#222" stroke="#222" stroke-width="0.22" transform="translate(549.20 0) scale(0.89 1) translate(-549.20 0)">100</text>
<text x="557.30" y="362.79" font-size="8.7" text-anchor="middle" font-weight="normal" fill="#222" stroke="#222" stroke-width="0.22" transform="translate(557.30 0) scale(0.89 1) translate(-557.30 0)">0</text>
<text x="581.00" y="362.79" font-size="8.7" text-anchor="middle" font-weight="normal" fill="#222" stroke="#222" stroke-width="0.22" transform="translate(581.00 0) scale(0.89 1) translate(-581.00 0)">20</text>
<text x="605.00" y="362.79" font-size="8.7" text-anchor="middle" font-weight="normal" fill="#222" stroke="#222" stroke-width="0.22" transform="translate(605.00 0) scale(0.89 1) translate(-605.00 0)">40</text>
<text x="629.00" y="362.79" font-size="8.7" text-anchor="middle" font-weight="normal" fill="#222" stroke="#222" stroke-width="0.22" transform="translate(629.00 0) scale(0.89 1) translate(-629.00 0)">60</text>
<text x="653.30" y="362.79" font-size="8.7" text-anchor="middle" font-weight="normal" fill="#222" stroke="#222" stroke-width="0.22" transform="translate(653.30 0) scale(0.89 1) translate(-653.30 0)">80</text>
<text x="673.90" y="362.79" font-size="8.7" text-anchor="middle" font-weight="normal" fill="#222" stroke="#222" stroke-width="0.22" transform="translate(673.90 0) scale(0.89 1) translate(-673.90 0)">100</text>
<text x="619.00" y="225.10" font-size="11" text-anchor="middle" font-weight="normal" fill="#111" stroke="#111" stroke-width="0.22">GDM</text>
<text x="618.90" y="377.14" font-size="11.1" text-anchor="middle" font-weight="normal" fill="#111" stroke="#111" stroke-width="0.22">100%-Specificity%</text>
<text x="533.80" y="292.14" font-size="11.1" text-anchor="middle" font-weight="normal" fill="#111" stroke="#111" stroke-width="0.22" transform="rotate(-90 533.80 288.20)">Sensitivity%</text>
<text x="672.60" y="316.32" font-size="8.5" text-anchor="end" font-weight="normal" fill="#222" stroke="#222" stroke-width="0.22">CD10+CD49d</text>
<path d="M673.60 318.40L678.90 318.40" stroke="#1f4d4c" stroke-width="1.6"/>
<text x="672.80" y="325.72" font-size="8.5" text-anchor="end" font-weight="normal" fill="#222" stroke="#222" stroke-width="0.22">(AUC=0.983)</text>
<text x="672.60" y="338.42" font-size="8.5" text-anchor="end" font-weight="normal" fill="#222" stroke="#222" stroke-width="0.22">CD10+Ig κ (AUC=0.972)</text>
<path d="M673.60 335.40L678.90 335.40" stroke="#a6c8ae" stroke-width="1.6"/>
<text x="672.60" y="347.92" font-size="8.5" text-anchor="end" font-weight="normal" fill="#222" stroke="#222" stroke-width="0.22">Ig κ+CD49d (AUC=0.978)</text>
<path d="M673.60 345.90L678.90 345.90" stroke="#3b8169" stroke-width="1.6"/>
<path d="M559.40,425.80 V548.40 M556.90,546.10 H683.70 M583.44,425.80 V548.40 M556.90,522.44 H683.70 M607.48,425.80 V548.40 M556.90,498.78 H683.70 M631.52,425.80 V548.40 M556.90,475.12 H683.70 M655.56,425.80 V548.40 M556.90,451.46 H683.70 M679.60,425.80 V548.40 M556.90,427.80 H683.70" fill="none" stroke="#b8b8b8" stroke-width="0.7" stroke-dasharray="1.3,1.6"/>
<path d="M559.40 546.10L679.60 427.80" stroke="#3b2b2b" stroke-width="1.1"/>
<path d="M559.40,546.10 L559.54,545.11 L559.70,544.11 L559.84,543.12 L559.95,542.12 L560.01,541.13 L560.06,540.14 L560.10,539.14 L560.15,538.15 L560.19,537.15 L560.23,536.16 L560.27,535.16 L560.30,534.17 L560.34,533.18 L560.37,532.18 L560.41,531.19 L560.44,530.19 L560.47,529.20 L560.50,528.21 L560.53,527.21 L560.55,526.22 L560.58,525.22 L560.61,524.23 L560.63,523.24 L560.65,522.24 L560.68,521.25 L560.70,520.25 L560.72,519.26 L560.74,518.26 L560.76,517.27 L560.78,516.28 L560.79,515.28 L560.81,514.29 L560.83,513.29 L560.84,512.30 L560.86,511.31 L560.88,510.31 L560.89,509.32 L560.91,508.32 L560.92,507.33 L560.93,506.34 L560.95,505.34 L560.96,504.35 L560.97,503.35 L560.99,502.36 L561.00,501.36 L561.01,500.37 L561.03,499.38 L561.04,498.38 L561.05,497.39 L561.07,496.39 L561.08,495.40 L561.09,494.41 L561.11,493.41 L561.12,492.42 L561.14,491.42 L561.15,490.43 L561.17,489.44 L561.18,488.44 L561.20,487.45 L561.21,486.45 L561.23,485.46 L561.25,484.46 L561.27,483.47 L561.29,482.48 L561.30,481.48 L561.32,480.49 L561.35,479.49 L561.37,478.50 L561.39,477.51 L561.41,476.51 L561.44,475.52 L561.46,474.52 L561.49,473.53 L561.52,472.54 L561.55,471.54 L561.58,470.55 L561.61,469.55 L561.63,468.56 L561.66,467.56 L561.69,466.57 L561.72,465.58 L561.75,464.58 L561.77,463.59 L561.80,462.59 L561.83,461.60 L561.86,460.61 L561.89,459.61 L561.93,458.62 L561.96,457.62 L562.00,456.63 L562.03,455.64 L562.07,454.64 L562.11,453.65 L562.16,452.65 L562.21,451.66 L562.26,450.66 L562.31,449.67 L562.36,448.68 L562.42,447.68 L562.48,446.69 L562.55,445.69 L562.62,444.70 L562.70,443.71 L562.79,442.71 L562.91,441.72 L563.04,440.72 L563.20,439.73 L563.38,438.74 L563.58,437.74 L563.81,436.75 L564.06,435.75 L564.34,434.76 L564.64,433.76 L564.99,432.77 L565.53,431.78 L566.23,430.78 L567.06,429.79 L567.97,428.79 L568.90,427.80 L679.60,427.80" fill="none" stroke="#2a4aa8" stroke-width="2.6" stroke-linejoin="round" stroke-linecap="round"/>
<path d="M555.90 423.80L555.90 550.15" stroke="#111" stroke-width="1.6"/>
<path d="M555.10 549.40L683.70 549.40" stroke="#111" stroke-width="1.6"/>
<text x="552.00" y="546.49" font-size="8.7" text-anchor="end" font-weight="normal" fill="#222" stroke="#222" stroke-width="0.22" transform="translate(552.00 0) scale(0.89 1) translate(-552.00 0)">0</text>
<text x="552.00" y="523.39" font-size="8.7" text-anchor="end" font-weight="normal" fill="#222" stroke="#222" stroke-width="0.22" transform="translate(552.00 0) scale(0.89 1) translate(-552.00 0)">20</text>
<text x="552.00" y="500.29" font-size="8.7" text-anchor="end" font-weight="normal" fill="#222" stroke="#222" stroke-width="0.22" transform="translate(552.00 0) scale(0.89 1) translate(-552.00 0)">40</text>
<text x="552.00" y="477.19" font-size="8.7" text-anchor="end" font-weight="normal" fill="#222" stroke="#222" stroke-width="0.22" transform="translate(552.00 0) scale(0.89 1) translate(-552.00 0)">60</text>
<text x="552.00" y="454.09" font-size="8.7" text-anchor="end" font-weight="normal" fill="#222" stroke="#222" stroke-width="0.22" transform="translate(552.00 0) scale(0.89 1) translate(-552.00 0)">80</text>
<text x="552.00" y="430.99" font-size="8.7" text-anchor="end" font-weight="normal" fill="#222" stroke="#222" stroke-width="0.22" transform="translate(552.00 0) scale(0.89 1) translate(-552.00 0)">100</text>
<text x="560.00" y="559.09" font-size="8.7" text-anchor="middle" font-weight="normal" fill="#222" stroke="#222" stroke-width="0.22" transform="translate(560.00 0) scale(0.89 1) translate(-560.00 0)">0</text>
<text x="583.90" y="559.09" font-size="8.7" text-anchor="middle" font-weight="normal" fill="#222" stroke="#222" stroke-width="0.22" transform="translate(583.90 0) scale(0.89 1) translate(-583.90 0)">20</text>
<text x="607.80" y="559.09" font-size="8.7" text-anchor="middle" font-weight="normal" fill="#222" stroke="#222" stroke-width="0.22" transform="translate(607.80 0) scale(0.89 1) translate(-607.80 0)">40</text>
<text x="631.70" y="559.09" font-size="8.7" text-anchor="middle" font-weight="normal" fill="#222" stroke="#222" stroke-width="0.22" transform="translate(631.70 0) scale(0.89 1) translate(-631.70 0)">60</text>
<text x="655.60" y="559.09" font-size="8.7" text-anchor="middle" font-weight="normal" fill="#222" stroke="#222" stroke-width="0.22" transform="translate(655.60 0) scale(0.89 1) translate(-655.60 0)">80</text>
<text x="676.40" y="559.09" font-size="8.7" text-anchor="middle" font-weight="normal" fill="#222" stroke="#222" stroke-width="0.22" transform="translate(676.40 0) scale(0.89 1) translate(-676.40 0)">100</text>
<text x="621.50" y="572.74" font-size="11.1" text-anchor="middle" font-weight="normal" fill="#111" stroke="#111" stroke-width="0.22">100%-Specificity%</text>
<text x="536.50" y="483.04" font-size="11.1" text-anchor="middle" font-weight="normal" fill="#111" stroke="#111" stroke-width="0.22" transform="rotate(-90 536.50 479.10)">Sensitivity%</text>
<text x="636.40" y="531.32" font-size="8.5" text-anchor="middle" font-weight="normal" fill="#222" stroke="#222" stroke-width="0.22">CD10+Ig κ+CD49d</text>
<text x="636.40" y="541.02" font-size="8.5" text-anchor="middle" font-weight="normal" fill="#222" stroke="#222" stroke-width="0.22">(AUC=0.987)</text>
<rect x="578.30" y="593.60" width="8.60" height="6.80" fill="none" stroke="#111" stroke-width="1.3"/>
<text x="590.50" y="600.09" font-size="8.7" text-anchor="start" font-weight="normal" fill="#333" stroke="#333" stroke-width="0.22">Others</text>
<rect x="578.30" y="605.80" width="8.60" height="6.80" fill="none" stroke="#4a72b5" stroke-width="1.3"/>
<text x="590.50" y="612.29" font-size="8.7" text-anchor="start" font-weight="normal" fill="#333" stroke="#333" stroke-width="0.22">CD10<tspan font-size="5.5" dy="-3">-</tspan><tspan dy="3">CD49d</tspan><tspan font-size="5.5" dy="-3">+</tspan><tspan dy="3">Ig κ</tspan><tspan font-size="5.5" dy="-3">+</tspan></text>
<rect x="578.30" y="617.90" width="8.60" height="6.80" fill="none" stroke="#a83a3a" stroke-width="1.3"/>
<text x="590.50" y="624.39" font-size="8.7" text-anchor="start" font-weight="normal" fill="#333" stroke="#333" stroke-width="0.22">CD10<tspan font-size="5.5" dy="-3">+</tspan><tspan dy="3">CD49d</tspan><tspan font-size="5.5" dy="-3">-</tspan><tspan dy="3">Ig κ</tspan><tspan font-size="5.5" dy="-3">-</tspan></text>
<rect x="599.40" y="642.90" width="16.20" height="12.27" fill="#a8a8a8" stroke="#151515" stroke-width="1.1"/>
<rect x="599.40" y="655.17" width="16.20" height="69.53" fill="#b8cfe8" stroke="#4a72b5" stroke-width="1.1"/>
<path d="M607.50 655.17L607.50 657.62" stroke="#4a72b5" stroke-width="1"/>
<path d="M604.50 657.62L610.50 657.62" stroke="#4a72b5" stroke-width="1"/>
<path d="M607.50 642.90L607.50 645.35" stroke="#111" stroke-width="1"/>
<path d="M604.50 645.35L610.50 645.35" stroke="#111" stroke-width="1"/>
<rect x="625.00" y="642.90" width="16.80" height="1.64" fill="#a8a8a8" stroke="#151515" stroke-width="1.1"/>
<rect x="625.00" y="644.54" width="16.80" height="80.16" fill="#d8aab0" stroke="#a83a3a" stroke-width="1.1"/>
<path d="M590.50 634.80L590.50 725.40" stroke="#111" stroke-width="1.4"/>
<path d="M589.80 725.20L649.30 725.20" stroke="#111" stroke-width="1.4"/>
<path d="M587.30 724.70L590.50 724.70" stroke="#111" stroke-width="1.1"/>
<text x="585.90" y="727.79" font-size="8.7" text-anchor="end" font-weight="normal" fill="#222" stroke="#222" stroke-width="0.22">0</text>
<path d="M587.30 708.34L590.50 708.34" stroke="#111" stroke-width="1.1"/>
<text x="585.90" y="711.43" font-size="8.7" text-anchor="end" font-weight="normal" fill="#222" stroke="#222" stroke-width="0.22">20</text>
<path d="M587.30 691.98L590.50 691.98" stroke="#111" stroke-width="1.1"/>
<text x="585.90" y="695.07" font-size="8.7" text-anchor="end" font-weight="normal" fill="#222" stroke="#222" stroke-width="0.22">40</text>
<path d="M587.30 675.62L590.50 675.62" stroke="#111" stroke-width="1.1"/>
<text x="585.90" y="678.71" font-size="8.7" text-anchor="end" font-weight="normal" fill="#222" stroke="#222" stroke-width="0.22">60</text>
<path d="M587.30 659.26L590.50 659.26" stroke="#111" stroke-width="1.1"/>
<text x="585.90" y="662.35" font-size="8.7" text-anchor="end" font-weight="normal" fill="#222" stroke="#222" stroke-width="0.22">80</text>
<path d="M587.30 642.90L590.50 642.90" stroke="#111" stroke-width="1.1"/>
<text x="585.90" y="645.99" font-size="8.7" text-anchor="end" font-weight="normal" fill="#222" stroke="#222" stroke-width="0.22">100</text>
<path d="M607.50 724.70L607.50 727.70" stroke="#111" stroke-width="1.1"/>
<path d="M633.40 724.70L633.40 727.70" stroke="#111" stroke-width="1.1"/>
<text x="568.90" y="681.90" font-size="11" text-anchor="middle" font-weight="normal" fill="#222" stroke="#222" stroke-width="0.22">%</text>
<text x="608.00" y="738.67" font-size="9.5" text-anchor="middle" font-weight="normal" fill="#222" stroke="#222" stroke-width="0.22">LD</text>
<text x="634.20" y="738.67" font-size="9.5" text-anchor="middle" font-weight="normal" fill="#222" stroke="#222" stroke-width="0.22">HD</text>
<path d="M602.00 741.00L641.80 741.00" stroke="#111" stroke-width="1.4"/>
<text x="622.90" y="752.70" font-size="11" text-anchor="middle" font-weight="normal" fill="#111" stroke="#111" stroke-width="0.22">CD15<tspan font-size="7" dy="-4">+</tspan></text>
<path d="M34.2 213.1L34.2 215.9M52.3 213.1L52.3 215.9M70.5 213.1L70.5 215.9M88.6 213.1L88.6 215.9M106.8 213.1L106.8 215.9M154.0 213.1L154.0 215.9M172.1 213.1L172.1 215.9M190.2 213.1L190.2 215.9M208.2 213.1L208.2 215.9M226.3 213.1L226.3 215.9M275.4 213.1L275.4 215.9M293.4 213.1L293.4 215.9M311.4 213.1L311.4 215.9M329.4 213.1L329.4 215.9M347.4 213.1L347.4 215.9M398.9 213.1L398.9 215.9M416.9 213.1L416.9 215.9M434.9 213.1L434.9 215.9M452.9 213.1L452.9 215.9M470.9 213.1L470.9 215.9M138.6 512.6L136.0 512.6M138.6 491.2L136.0 491.2M138.6 469.9L136.0 469.9M138.6 448.5L136.0 448.5M143.3 517.3L143.3 519.9M164.7 517.3L164.7 519.9M186.0 517.3L186.0 519.9M207.3 517.3L207.3 519.9M138.6 624.8L136.0 624.8M138.6 603.4L136.0 603.4M138.6 582.1L136.0 582.1M138.6 560.8L136.0 560.8M143.3 629.5L143.3 632.1M164.7 629.5L164.7 632.1M186.0 629.5L186.0 632.1M207.3 629.5L207.3 632.1M138.6 735.4L136.0 735.4M138.6 714.0L136.0 714.0M138.6 692.6L136.0 692.6M138.6 671.3L136.0 671.3M143.3 740.1L143.3 742.7M164.7 740.1L164.7 742.7M186.0 740.1L186.0 742.7M207.3 740.1L207.3 742.7M240.7 512.6L238.1 512.6M240.7 491.2L238.1 491.2M240.7 469.9L238.1 469.9M240.7 448.5L238.1 448.5M245.4 517.3L245.4 519.9M266.9 517.3L266.9 519.9M288.4 517.3L288.4 519.9M310.0 517.3L310.0 519.9M240.7 624.8L238.1 624.8M240.7 603.4L238.1 603.4M240.7 582.1L238.1 582.1M240.7 560.8L238.1 560.8M245.4 629.5L245.4 632.1M266.9 629.5L266.9 632.1M288.4 629.5L288.4 632.1M310.0 629.5L310.0 632.1M240.7 735.4L238.1 735.4M240.7 714.0L238.1 714.0M240.7 692.6L238.1 692.6M240.7 671.3L238.1 671.3M245.4 740.1L245.4 742.7M266.9 740.1L266.9 742.7M288.4 740.1L288.4 742.7M310.0 740.1L310.0 742.7" stroke="#222" stroke-width="0.75"/>
<path d="M39.7 213.1L39.7 215.1M42.9 213.1L42.9 215.1M45.1 213.1L45.1 215.1M46.9 213.1L46.9 215.1M48.3 213.1L48.3 215.1M49.5 213.1L49.5 215.1M50.6 213.1L50.6 215.1M51.5 213.1L51.5 215.1M57.8 213.1L57.8 215.1M61.0 213.1L61.0 215.1M63.3 213.1L63.3 215.1M65.0 213.1L65.0 215.1M66.5 213.1L66.5 215.1M67.7 213.1L67.7 215.1M68.7 213.1L68.7 215.1M69.6 213.1L69.6 215.1M75.9 213.1L75.9 215.1M79.1 213.1L79.1 215.1M81.4 213.1L81.4 215.1M83.2 213.1L83.2 215.1M84.6 213.1L84.6 215.1M85.8 213.1L85.8 215.1M86.9 213.1L86.9 215.1M87.8 213.1L87.8 215.1M94.1 213.1L94.1 215.1M97.3 213.1L97.3 215.1M99.5 213.1L99.5 215.1M101.3 213.1L101.3 215.1M102.7 213.1L102.7 215.1M104.0 213.1L104.0 215.1M105.0 213.1L105.0 215.1M105.9 213.1L105.9 215.1M112.2 213.1L112.2 215.1M115.4 213.1L115.4 215.1M117.7 213.1L117.7 215.1M119.4 213.1L119.4 215.1M120.9 213.1L120.9 215.1M122.1 213.1L122.1 215.1M123.1 213.1L123.1 215.1M124.1 213.1L124.1 215.1M159.4 213.1L159.4 215.1M162.6 213.1L162.6 215.1M164.9 213.1L164.9 215.1M166.6 213.1L166.6 215.1M168.1 213.1L168.1 215.1M169.3 213.1L169.3 215.1M170.3 213.1L170.3 215.1M171.3 213.1L171.3 215.1M177.5 213.1L177.5 215.1M180.7 213.1L180.7 215.1M183.0 213.1L183.0 215.1M184.7 213.1L184.7 215.1M186.1 213.1L186.1 215.1M187.4 213.1L187.4 215.1M188.4 213.1L188.4 215.1M189.3 213.1L189.3 215.1M195.6 213.1L195.6 215.1M198.8 213.1L198.8 215.1M201.0 213.1L201.0 215.1M202.8 213.1L202.8 215.1M204.2 213.1L204.2 215.1M205.4 213.1L205.4 215.1M206.5 213.1L206.5 215.1M207.4 213.1L207.4 215.1M213.7 213.1L213.7 215.1M216.9 213.1L216.9 215.1M219.1 213.1L219.1 215.1M220.9 213.1L220.9 215.1M222.3 213.1L222.3 215.1M223.5 213.1L223.5 215.1M224.6 213.1L224.6 215.1M225.5 213.1L225.5 215.1M231.8 213.1L231.8 215.1M234.9 213.1L234.9 215.1M237.2 213.1L237.2 215.1M239.0 213.1L239.0 215.1M240.4 213.1L240.4 215.1M241.6 213.1L241.6 215.1M242.6 213.1L242.6 215.1M243.6 213.1L243.6 215.1M280.8 213.1L280.8 215.1M284.0 213.1L284.0 215.1M286.2 213.1L286.2 215.1M288.0 213.1L288.0 215.1M289.4 213.1L289.4 215.1M290.6 213.1L290.6 215.1M291.7 213.1L291.7 215.1M292.6 213.1L292.6 215.1M298.8 213.1L298.8 215.1M302.0 213.1L302.0 215.1M304.2 213.1L304.2 215.1M306.0 213.1L306.0 215.1M307.4 213.1L307.4 215.1M308.6 213.1L308.6 215.1M309.7 213.1L309.7 215.1M310.6 213.1L310.6 215.1M316.8 213.1L316.8 215.1M320.0 213.1L320.0 215.1M322.2 213.1L322.2 215.1M324.0 213.1L324.0 215.1M325.4 213.1L325.4 215.1M326.6 213.1L326.6 215.1M327.7 213.1L327.7 215.1M328.6 213.1L328.6 215.1M334.8 213.1L334.8 215.1M338.0 213.1L338.0 215.1M340.2 213.1L340.2 215.1M342.0 213.1L342.0 215.1M343.4 213.1L343.4 215.1M344.6 213.1L344.6 215.1M345.7 213.1L345.7 215.1M346.6 213.1L346.6 215.1M352.8 213.1L352.8 215.1M356.0 213.1L356.0 215.1M358.2 213.1L358.2 215.1M360.0 213.1L360.0 215.1M361.4 213.1L361.4 215.1M362.6 213.1L362.6 215.1M363.7 213.1L363.7 215.1M364.6 213.1L364.6 215.1M404.3 213.1L404.3 215.1M407.5 213.1L407.5 215.1M409.7 213.1L409.7 215.1M411.5 213.1L411.5 215.1M412.9 213.1L412.9 215.1M414.1 213.1L414.1 215.1M415.2 213.1L415.2 215.1M416.1 213.1L416.1 215.1M422.3 213.1L422.3 215.1M425.5 213.1L425.5 215.1M427.7 213.1L427.7 215.1M429.5 213.1L429.5 215.1M430.9 213.1L430.9 215.1M432.1 213.1L432.1 215.1M433.2 213.1L433.2 215.1M434.1 213.1L434.1 215.1M440.3 213.1L440.3 215.1M443.5 213.1L443.5 215.1M445.7 213.1L445.7 215.1M447.5 213.1L447.5 215.1M448.9 213.1L448.9 215.1M450.1 213.1L450.1 215.1M451.2 213.1L451.2 215.1M452.1 213.1L452.1 215.1M458.3 213.1L458.3 215.1M461.5 213.1L461.5 215.1M463.7 213.1L463.7 215.1M465.5 213.1L465.5 215.1M466.9 213.1L466.9 215.1M468.1 213.1L468.1 215.1M469.2 213.1L469.2 215.1M470.1 213.1L470.1 215.1M476.3 213.1L476.3 215.1M479.5 213.1L479.5 215.1M481.7 213.1L481.7 215.1M483.5 213.1L483.5 215.1M484.9 213.1L484.9 215.1M486.1 213.1L486.1 215.1M487.2 213.1L487.2 215.1M488.1 213.1L488.1 215.1M138.6 506.2L137.0 506.2M138.6 502.4L137.0 502.4M138.6 499.7L137.0 499.7M138.6 497.7L137.0 497.7M138.6 496.0L137.0 496.0M138.6 494.5L137.0 494.5M138.6 493.3L137.0 493.3M138.6 492.2L137.0 492.2M138.6 484.8L137.0 484.8M138.6 481.0L137.0 481.0M138.6 478.4L137.0 478.4M138.6 476.3L137.0 476.3M138.6 474.6L137.0 474.6M138.6 473.2L137.0 473.2M138.6 471.9L137.0 471.9M138.6 470.8L137.0 470.8M138.6 463.4L137.0 463.4M138.6 459.7L137.0 459.7M138.6 457.0L137.0 457.0M138.6 454.9L137.0 454.9M138.6 453.2L137.0 453.2M138.6 451.8L137.0 451.8M138.6 450.5L137.0 450.5M138.6 449.5L137.0 449.5M138.6 442.0L137.0 442.0M138.6 438.3L137.0 438.3M138.6 435.6L137.0 435.6M138.6 433.5L137.0 433.5M138.6 431.8L137.0 431.8M138.6 430.4L137.0 430.4M138.6 429.2L137.0 429.2M138.6 428.1L137.0 428.1M149.7 517.3L149.7 518.9M153.5 517.3L153.5 518.9M156.2 517.3L156.2 518.9M158.2 517.3L158.2 518.9M159.9 517.3L159.9 518.9M161.3 517.3L161.3 518.9M162.6 517.3L162.6 518.9M163.7 517.3L163.7 518.9M171.1 517.3L171.1 518.9M174.8 517.3L174.8 518.9M177.5 517.3L177.5 518.9M179.6 517.3L179.6 518.9M181.3 517.3L181.3 518.9M182.7 517.3L182.7 518.9M183.9 517.3L183.9 518.9M185.0 517.3L185.0 518.9M192.4 517.3L192.4 518.9M196.2 517.3L196.2 518.9M198.9 517.3L198.9 518.9M200.9 517.3L200.9 518.9M202.6 517.3L202.6 518.9M204.0 517.3L204.0 518.9M205.3 517.3L205.3 518.9M206.4 517.3L206.4 518.9M213.8 517.3L213.8 518.9M217.5 517.3L217.5 518.9M220.2 517.3L220.2 518.9M222.3 517.3L222.3 518.9M224.0 517.3L224.0 518.9M225.4 517.3L225.4 518.9M226.6 517.3L226.6 518.9M227.7 517.3L227.7 518.9M138.6 618.4L137.0 618.4M138.6 614.6L137.0 614.6M138.6 611.9L137.0 611.9M138.6 609.9L137.0 609.9M138.6 608.2L137.0 608.2M138.6 606.8L137.0 606.8M138.6 605.5L137.0 605.5M138.6 604.4L137.0 604.4M138.6 597.0L137.0 597.0M138.6 593.3L137.0 593.3M138.6 590.6L137.0 590.6M138.6 588.5L137.0 588.5M138.6 586.8L137.0 586.8M138.6 585.4L137.0 585.4M138.6 584.2L137.0 584.2M138.6 583.1L137.0 583.1M138.6 575.7L137.0 575.7M138.6 571.9L137.0 571.9M138.6 569.2L137.0 569.2M138.6 567.2L137.0 567.2M138.6 565.5L137.0 565.5M138.6 564.1L137.0 564.1M138.6 562.8L137.0 562.8M138.6 561.7L137.0 561.7M138.6 554.3L137.0 554.3M138.6 550.6L137.0 550.6M138.6 547.9L137.0 547.9M138.6 545.8L137.0 545.8M138.6 544.1L137.0 544.1M138.6 542.7L137.0 542.7M138.6 541.5L137.0 541.5M138.6 540.4L137.0 540.4M149.7 629.5L149.7 631.1M153.5 629.5L153.5 631.1M156.2 629.5L156.2 631.1M158.2 629.5L158.2 631.1M159.9 629.5L159.9 631.1M161.3 629.5L161.3 631.1M162.6 629.5L162.6 631.1M163.7 629.5L163.7 631.1M171.1 629.5L171.1 631.1M174.8 629.5L174.8 631.1M177.5 629.5L177.5 631.1M179.6 629.5L179.6 631.1M181.3 629.5L181.3 631.1M182.7 629.5L182.7 631.1M183.9 629.5L183.9 631.1M185.0 629.5L185.0 631.1M192.4 629.5L192.4 631.1M196.2 629.5L196.2 631.1M198.9 629.5L198.9 631.1M200.9 629.5L200.9 631.1M202.6 629.5L202.6 631.1M204.0 629.5L204.0 631.1M205.3 629.5L205.3 631.1M206.4 629.5L206.4 631.1M213.8 629.5L213.8 631.1M217.5 629.5L217.5 631.1M220.2 629.5L220.2 631.1M222.3 629.5L222.3 631.1M224.0 629.5L224.0 631.1M225.4 629.5L225.4 631.1M226.6 629.5L226.6 631.1M227.7 629.5L227.7 631.1M138.6 729.0L137.0 729.0M138.6 725.2L137.0 725.2M138.6 722.5L137.0 722.5M138.6 720.5L137.0 720.5M138.6 718.8L137.0 718.8M138.6 717.3L137.0 717.3M138.6 716.1L137.0 716.1M138.6 715.0L137.0 715.0M138.6 707.6L137.0 707.6M138.6 703.8L137.0 703.8M138.6 701.2L137.0 701.2M138.6 699.1L137.0 699.1M138.6 697.4L137.0 697.4M138.6 696.0L137.0 696.0M138.6 694.7L137.0 694.7M138.6 693.6L137.0 693.6M138.6 686.2L137.0 686.2M138.6 682.5L137.0 682.5M138.6 679.8L137.0 679.8M138.6 677.7L137.0 677.7M138.6 676.0L137.0 676.0M138.6 674.6L137.0 674.6M138.6 673.3L137.0 673.3M138.6 672.3L137.0 672.3M138.6 664.8L137.0 664.8M138.6 661.1L137.0 661.1M138.6 658.4L137.0 658.4M138.6 656.3L137.0 656.3M138.6 654.6L137.0 654.6M138.6 653.2L137.0 653.2M138.6 652.0L137.0 652.0M138.6 650.9L137.0 650.9M149.7 740.1L149.7 741.7M153.5 740.1L153.5 741.7M156.2 740.1L156.2 741.7M158.2 740.1L158.2 741.7M159.9 740.1L159.9 741.7M161.3 740.1L161.3 741.7M162.6 740.1L162.6 741.7M163.7 740.1L163.7 741.7M171.1 740.1L171.1 741.7M174.8 740.1L174.8 741.7M177.5 740.1L177.5 741.7M179.6 740.1L179.6 741.7M181.3 740.1L181.3 741.7M182.7 740.1L182.7 741.7M183.9 740.1L183.9 741.7M185.0 740.1L185.0 741.7M192.4 740.1L192.4 741.7M196.2 740.1L196.2 741.7M198.9 740.1L198.9 741.7M200.9 740.1L200.9 741.7M202.6 740.1L202.6 741.7M204.0 740.1L204.0 741.7M205.3 740.1L205.3 741.7M206.4 740.1L206.4 741.7M213.8 740.1L213.8 741.7M217.5 740.1L217.5 741.7M220.2 740.1L220.2 741.7M222.3 740.1L222.3 741.7M224.0 740.1L224.0 741.7M225.4 740.1L225.4 741.7M226.6 740.1L226.6 741.7M227.7 740.1L227.7 741.7M240.7 506.2L239.1 506.2M240.7 502.4L239.1 502.4M240.7 499.7L239.1 499.7M240.7 497.7L239.1 497.7M240.7 496.0L239.1 496.0M240.7 494.5L239.1 494.5M240.7 493.3L239.1 493.3M240.7 492.2L239.1 492.2M240.7 484.8L239.1 484.8M240.7 481.0L239.1 481.0M240.7 478.4L239.1 478.4M240.7 476.3L239.1 476.3M240.7 474.6L239.1 474.6M240.7 473.2L239.1 473.2M240.7 471.9L239.1 471.9M240.7 470.8L239.1 470.8M240.7 463.4L239.1 463.4M240.7 459.7L239.1 459.7M240.7 457.0L239.1 457.0M240.7 454.9L239.1 454.9M240.7 453.2L239.1 453.2M240.7 451.8L239.1 451.8M240.7 450.5L239.1 450.5M240.7 449.5L239.1 449.5M240.7 442.0L239.1 442.0M240.7 438.3L239.1 438.3M240.7 435.6L239.1 435.6M240.7 433.5L239.1 433.5M240.7 431.8L239.1 431.8M240.7 430.4L239.1 430.4M240.7 429.2L239.1 429.2M240.7 428.1L239.1 428.1M251.9 517.3L251.9 518.9M255.7 517.3L255.7 518.9M258.4 517.3L258.4 518.9M260.4 517.3L260.4 518.9M262.1 517.3L262.1 518.9M263.6 517.3L263.6 518.9M264.8 517.3L264.8 518.9M265.9 517.3L265.9 518.9M273.4 517.3L273.4 518.9M277.2 517.3L277.2 518.9M279.9 517.3L279.9 518.9M282.0 517.3L282.0 518.9M283.7 517.3L283.7 518.9M285.1 517.3L285.1 518.9M286.4 517.3L286.4 518.9M287.5 517.3L287.5 518.9M294.9 517.3L294.9 518.9M298.7 517.3L298.7 518.9M301.4 517.3L301.4 518.9M303.5 517.3L303.5 518.9M305.2 517.3L305.2 518.9M306.6 517.3L306.6 518.9M307.9 517.3L307.9 518.9M309.0 517.3L309.0 518.9M316.5 517.3L316.5 518.9M320.2 517.3L320.2 518.9M322.9 517.3L322.9 518.9M325.0 517.3L325.0 518.9M326.7 517.3L326.7 518.9M328.2 517.3L328.2 518.9M329.4 517.3L329.4 518.9M330.5 517.3L330.5 518.9M240.7 618.4L239.1 618.4M240.7 614.6L239.1 614.6M240.7 611.9L239.1 611.9M240.7 609.9L239.1 609.9M240.7 608.2L239.1 608.2M240.7 606.8L239.1 606.8M240.7 605.5L239.1 605.5M240.7 604.4L239.1 604.4M240.7 597.0L239.1 597.0M240.7 593.3L239.1 593.3M240.7 590.6L239.1 590.6M240.7 588.5L239.1 588.5M240.7 586.8L239.1 586.8M240.7 585.4L239.1 585.4M240.7 584.2L239.1 584.2M240.7 583.1L239.1 583.1M240.7 575.7L239.1 575.7M240.7 571.9L239.1 571.9M240.7 569.2L239.1 569.2M240.7 567.2L239.1 567.2M240.7 565.5L239.1 565.5M240.7 564.1L239.1 564.1M240.7 562.8L239.1 562.8M240.7 561.7L239.1 561.7M240.7 554.3L239.1 554.3M240.7 550.6L239.1 550.6M240.7 547.9L239.1 547.9M240.7 545.8L239.1 545.8M240.7 544.1L239.1 544.1M240.7 542.7L239.1 542.7M240.7 541.5L239.1 541.5M240.7 540.4L239.1 540.4M251.9 629.5L251.9 631.1M255.7 629.5L255.7 631.1M258.4 629.5L258.4 631.1M260.4 629.5L260.4 631.1M262.1 629.5L262.1 631.1M263.6 629.5L263.6 631.1M264.8 629.5L264.8 631.1M265.9 629.5L265.9 631.1M273.4 629.5L273.4 631.1M277.2 629.5L277.2 631.1M279.9 629.5L279.9 631.1M282.0 629.5L282.0 631.1M283.7 629.5L283.7 631.1M285.1 629.5L285.1 631.1M286.4 629.5L286.4 631.1M287.5 629.5L287.5 631.1M294.9 629.5L294.9 631.1M298.7 629.5L298.7 631.1M301.4 629.5L301.4 631.1M303.5 629.5L303.5 631.1M305.2 629.5L305.2 631.1M306.6 629.5L306.6 631.1M307.9 629.5L307.9 631.1M309.0 629.5L309.0 631.1M316.5 629.5L316.5 631.1M320.2 629.5L320.2 631.1M322.9 629.5L322.9 631.1M325.0 629.5L325.0 631.1M326.7 629.5L326.7 631.1M328.2 629.5L328.2 631.1M329.4 629.5L329.4 631.1M330.5 629.5L330.5 631.1M240.7 729.0L239.1 729.0M240.7 725.2L239.1 725.2M240.7 722.5L239.1 722.5M240.7 720.5L239.1 720.5M240.7 718.8L239.1 718.8M240.7 717.3L239.1 717.3M240.7 716.1L239.1 716.1M240.7 715.0L239.1 715.0M240.7 707.6L239.1 707.6M240.7 703.8L239.1 703.8M240.7 701.2L239.1 701.2M240.7 699.1L239.1 699.1M240.7 697.4L239.1 697.4M240.7 696.0L239.1 696.0M240.7 694.7L239.1 694.7M240.7 693.6L239.1 693.6M240.7 686.2L239.1 686.2M240.7 682.5L239.1 682.5M240.7 679.8L239.1 679.8M240.7 677.7L239.1 677.7M240.7 676.0L239.1 676.0M240.7 674.6L239.1 674.6M240.7 673.3L239.1 673.3M240.7 672.3L239.1 672.3M240.7 664.8L239.1 664.8M240.7 661.1L239.1 661.1M240.7 658.4L239.1 658.4M240.7 656.3L239.1 656.3M240.7 654.6L239.1 654.6M240.7 653.2L239.1 653.2M240.7 652.0L239.1 652.0M240.7 650.9L239.1 650.9M251.9 740.1L251.9 741.7M255.7 740.1L255.7 741.7M258.4 740.1L258.4 741.7M260.4 740.1L260.4 741.7M262.1 740.1L262.1 741.7M263.6 740.1L263.6 741.7M264.8 740.1L264.8 741.7M265.9 740.1L265.9 741.7M273.4 740.1L273.4 741.7M277.2 740.1L277.2 741.7M279.9 740.1L279.9 741.7M282.0 740.1L282.0 741.7M283.7 740.1L283.7 741.7M285.1 740.1L285.1 741.7M286.4 740.1L286.4 741.7M287.5 740.1L287.5 741.7M294.9 740.1L294.9 741.7M298.7 740.1L298.7 741.7M301.4 740.1L301.4 741.7M303.5 740.1L303.5 741.7M305.2 740.1L305.2 741.7M306.6 740.1L306.6 741.7M307.9 740.1L307.9 741.7M309.0 740.1L309.0 741.7M316.5 740.1L316.5 741.7M320.2 740.1L320.2 741.7M322.9 740.1L322.9 741.7M325.0 740.1L325.0 741.7M326.7 740.1L326.7 741.7M328.2 740.1L328.2 741.7M329.4 740.1L329.4 741.7M330.5 740.1L330.5 741.7" stroke="#333" stroke-width="0.5"/>
</svg></body></html>
